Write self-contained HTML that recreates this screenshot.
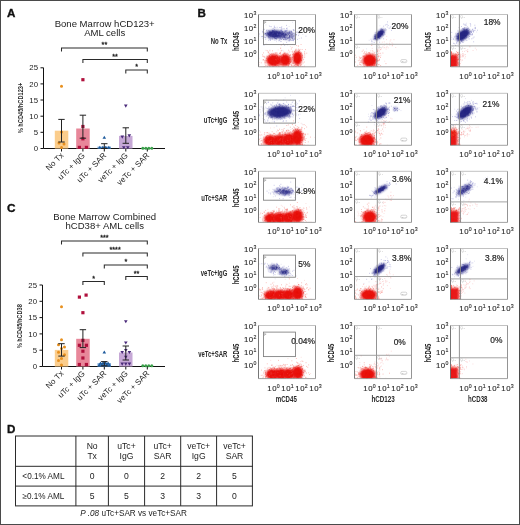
<!DOCTYPE html><html><head><meta charset="utf-8"><style>html,body{margin:0;padding:0;background:#fff;overflow:hidden;font-family:"Liberation Sans",sans-serif;}#wrap{position:relative;width:520px;height:525px;overflow:hidden;background:#fff;}#wrap svg{display:block;position:absolute;left:0;top:0;filter:blur(0.3px);}#frame{position:absolute;left:0;top:0;width:520px;height:525px;box-sizing:border-box;border:1px solid #4a4a4a;}</style></head><body><div id="wrap"><svg width="520" height="525" viewBox="0 0 520 525" font-family="'Liberation Sans', sans-serif">
<defs><filter id="bl" x="-50%" y="-50%" width="200%" height="200%"><feGaussianBlur stdDeviation="0.9"/></filter></defs>
<rect width="520" height="525" fill="#fff"/>
<line x1="43.5" y1="67.75" x2="43.5" y2="148.5" stroke="#111" stroke-width="1"/>
<line x1="40.5" y1="148.5" x2="43.5" y2="148.5" stroke="#111" stroke-width="1"/>
<text x="38.0" y="151.1" font-size="7.8" text-anchor="end" font-weight="normal" fill="#222" >0</text>
<line x1="40.5" y1="132.3" x2="43.5" y2="132.3" stroke="#111" stroke-width="1"/>
<text x="38.0" y="134.95" font-size="7.8" text-anchor="end" font-weight="normal" fill="#222" >5</text>
<line x1="40.5" y1="116.2" x2="43.5" y2="116.2" stroke="#111" stroke-width="1"/>
<text x="38.0" y="118.8" font-size="7.8" text-anchor="end" font-weight="normal" fill="#222" >10</text>
<line x1="40.5" y1="100.0" x2="43.5" y2="100.0" stroke="#111" stroke-width="1"/>
<text x="38.0" y="102.64999999999999" font-size="7.8" text-anchor="end" font-weight="normal" fill="#222" >15</text>
<line x1="40.5" y1="83.9" x2="43.5" y2="83.9" stroke="#111" stroke-width="1"/>
<text x="38.0" y="86.5" font-size="7.8" text-anchor="end" font-weight="normal" fill="#222" >20</text>
<line x1="40.5" y1="67.8" x2="43.5" y2="67.8" stroke="#111" stroke-width="1"/>
<text x="38.0" y="70.35" font-size="7.8" text-anchor="end" font-weight="normal" fill="#222" >25</text>
<line x1="43.5" y1="148.5" x2="165" y2="148.5" stroke="#111" stroke-width="1.1"/>
<line x1="61.5" y1="148.5" x2="61.5" y2="151.5" stroke="#111" stroke-width="1"/>
<line x1="82.9" y1="148.5" x2="82.9" y2="151.5" stroke="#111" stroke-width="1"/>
<line x1="104.3" y1="148.5" x2="104.3" y2="151.5" stroke="#111" stroke-width="1"/>
<line x1="125.8" y1="148.5" x2="125.8" y2="151.5" stroke="#111" stroke-width="1"/>
<line x1="147.3" y1="148.5" x2="147.3" y2="151.5" stroke="#111" stroke-width="1"/>
<rect x="54.8" y="130.7" width="13.5" height="17.8" fill="#fbcd8c"/>
<circle cx="61.5" cy="86.2" r="1.5" fill="#e8901e"/>
<circle cx="61.5" cy="132.0" r="1.5" fill="#e8901e"/>
<circle cx="59.0" cy="143.0" r="1.5" fill="#e8901e"/>
<circle cx="64.0" cy="144.0" r="1.5" fill="#e8901e"/>
<circle cx="61.5" cy="147.5" r="1.5" fill="#e8901e"/>
<line x1="61.5" y1="119.4" x2="61.5" y2="142.0" stroke="#222" stroke-width="1"/>
<line x1="58.3" y1="142.0" x2="64.7" y2="142.0" stroke="#222" stroke-width="1"/>
<line x1="58.3" y1="119.4" x2="64.7" y2="119.4" stroke="#222" stroke-width="1"/>
<rect x="76.2" y="128.5" width="13.5" height="20.0" fill="#e8879a"/>
<rect x="81.3" y="78.1" width="3.2" height="3.2" fill="#b0103c"/>
<rect x="81.3" y="124.9" width="3.2" height="3.2" fill="#b0103c"/>
<rect x="81.3" y="137.2" width="3.2" height="3.2" fill="#b0103c"/>
<rect x="77.8" y="145.8" width="3.2" height="3.2" fill="#b0103c"/>
<rect x="84.8" y="145.8" width="3.2" height="3.2" fill="#b0103c"/>
<line x1="82.9" y1="115.2" x2="82.9" y2="138.2" stroke="#222" stroke-width="1"/>
<line x1="79.7" y1="138.2" x2="86.10000000000001" y2="138.2" stroke="#222" stroke-width="1"/>
<line x1="79.7" y1="115.2" x2="86.10000000000001" y2="115.2" stroke="#222" stroke-width="1"/>
<rect x="97.5" y="146.6" width="13.5" height="1.9" fill="#73a3d6"/>
<path d="M104.3 135.7L106.1 138.8L102.5 138.8Z" fill="#1d5a9c"/>
<path d="M99.8 145.7L101.6 148.8L98.0 148.8Z" fill="#1d5a9c"/>
<path d="M102.8 145.7L104.6 148.8L101.0 148.8Z" fill="#1d5a9c"/>
<path d="M105.8 145.7L107.6 148.8L104.0 148.8Z" fill="#1d5a9c"/>
<path d="M108.8 145.7L110.6 148.8L107.0 148.8Z" fill="#1d5a9c"/>
<line x1="104.3" y1="143.7" x2="104.3" y2="148.5" stroke="#222" stroke-width="1"/>
<line x1="101.1" y1="148.5" x2="107.5" y2="148.5" stroke="#222" stroke-width="1"/>
<line x1="101.1" y1="143.7" x2="107.5" y2="143.7" stroke="#222" stroke-width="1"/>
<rect x="119.0" y="135.9" width="13.5" height="12.6" fill="#c6a8d6"/>
<path d="M125.8 107.7L127.6 104.6L124.0 104.6Z" fill="#4a2a7a"/>
<path d="M122.3 138.7L124.1 135.6L120.5 135.6Z" fill="#4a2a7a"/>
<path d="M129.3 137.4L131.1 134.3L127.5 134.3Z" fill="#4a2a7a"/>
<path d="M123.8 149.3L125.6 146.2L122.0 146.2Z" fill="#4a2a7a"/>
<path d="M127.8 149.3L129.6 146.2L126.0 146.2Z" fill="#4a2a7a"/>
<line x1="125.8" y1="127.8" x2="125.8" y2="143.3" stroke="#222" stroke-width="1"/>
<line x1="122.6" y1="143.3" x2="129.0" y2="143.3" stroke="#222" stroke-width="1"/>
<line x1="122.6" y1="127.8" x2="129.0" y2="127.8" stroke="#222" stroke-width="1"/>
<circle cx="142.8" cy="148.2" r="1.5" fill="#3aa04a"/>
<circle cx="145.8" cy="148.2" r="1.5" fill="#3aa04a"/>
<circle cx="148.8" cy="148.2" r="1.5" fill="#3aa04a"/>
<circle cx="151.8" cy="148.2" r="1.5" fill="#3aa04a"/>
<path d="M61.5 51.6V48H147.3V51.6" fill="none" stroke="#2a2a2a" stroke-width="1.05"/>
<text x="104.4" y="47.4" font-size="7.2" text-anchor="middle" font-weight="normal" fill="#222" stroke="#222" stroke-width=".3">**</text>
<path d="M82.9 63.1V59.5H147.3V63.1" fill="none" stroke="#2a2a2a" stroke-width="1.05"/>
<text x="115.10000000000001" y="58.9" font-size="7.2" text-anchor="middle" font-weight="normal" fill="#222" stroke="#222" stroke-width=".3">**</text>
<path d="M125.8 73.6V70H147.3V73.6" fill="none" stroke="#2a2a2a" stroke-width="1.05"/>
<text x="136.55" y="69.4" font-size="7.2" text-anchor="middle" font-weight="normal" fill="#222" stroke="#222" stroke-width=".3">*</text>
<text transform="translate(64.0,156.0) rotate(-45)" font-size="8" text-anchor="end" fill="#222">No Tx</text>
<text transform="translate(85.4,156.0) rotate(-45)" font-size="8" text-anchor="end" fill="#222">uTc + IgG</text>
<text transform="translate(106.8,156.0) rotate(-45)" font-size="8" text-anchor="end" fill="#222">uTc + SAR</text>
<text transform="translate(128.3,156.0) rotate(-45)" font-size="8" text-anchor="end" fill="#222">veTc + IgG</text>
<text transform="translate(149.8,156.0) rotate(-45)" font-size="8" text-anchor="end" fill="#222">veTc + SAR</text>
<text x="104.7" y="26.5" font-size="9.55" text-anchor="middle" font-weight="normal" fill="#222" >Bone Marrow hCD123+</text>
<text x="104.7" y="36.1" font-size="9.55" text-anchor="middle" font-weight="normal" fill="#222" >AML cells</text>
<text transform="translate(22.6,108.0) rotate(-90) scale(0.71,1)" font-size="8" font-weight="bold" text-anchor="middle" fill="#2a2a2a">% hCD45/hCD123+</text>
<line x1="42.5" y1="285.0" x2="42.5" y2="366.5" stroke="#111" stroke-width="1"/>
<line x1="39.5" y1="366.5" x2="42.5" y2="366.5" stroke="#111" stroke-width="1"/>
<text x="37.0" y="369.1" font-size="7.8" text-anchor="end" font-weight="normal" fill="#222" >0</text>
<line x1="39.5" y1="350.2" x2="42.5" y2="350.2" stroke="#111" stroke-width="1"/>
<text x="37.0" y="352.8" font-size="7.8" text-anchor="end" font-weight="normal" fill="#222" >5</text>
<line x1="39.5" y1="333.9" x2="42.5" y2="333.9" stroke="#111" stroke-width="1"/>
<text x="37.0" y="336.5" font-size="7.8" text-anchor="end" font-weight="normal" fill="#222" >10</text>
<line x1="39.5" y1="317.6" x2="42.5" y2="317.6" stroke="#111" stroke-width="1"/>
<text x="37.0" y="320.20000000000005" font-size="7.8" text-anchor="end" font-weight="normal" fill="#222" >15</text>
<line x1="39.5" y1="301.3" x2="42.5" y2="301.3" stroke="#111" stroke-width="1"/>
<text x="37.0" y="303.90000000000003" font-size="7.8" text-anchor="end" font-weight="normal" fill="#222" >20</text>
<line x1="39.5" y1="285.0" x2="42.5" y2="285.0" stroke="#111" stroke-width="1"/>
<text x="37.0" y="287.6" font-size="7.8" text-anchor="end" font-weight="normal" fill="#222" >25</text>
<line x1="42.5" y1="366.5" x2="165" y2="366.5" stroke="#111" stroke-width="1.1"/>
<line x1="61.5" y1="366.5" x2="61.5" y2="369.5" stroke="#111" stroke-width="1"/>
<line x1="82.9" y1="366.5" x2="82.9" y2="369.5" stroke="#111" stroke-width="1"/>
<line x1="104.3" y1="366.5" x2="104.3" y2="369.5" stroke="#111" stroke-width="1"/>
<line x1="125.8" y1="366.5" x2="125.8" y2="369.5" stroke="#111" stroke-width="1"/>
<line x1="147.3" y1="366.5" x2="147.3" y2="369.5" stroke="#111" stroke-width="1"/>
<rect x="54.8" y="349.9" width="13.5" height="16.6" fill="#fbcd8c"/>
<circle cx="61.5" cy="306.8" r="1.5" fill="#e8901e"/>
<circle cx="61.5" cy="339.8" r="1.5" fill="#e8901e"/>
<circle cx="58.5" cy="344.7" r="1.5" fill="#e8901e"/>
<circle cx="64.5" cy="346.9" r="1.5" fill="#e8901e"/>
<circle cx="61.5" cy="348.6" r="1.5" fill="#e8901e"/>
<circle cx="58.5" cy="352.2" r="1.5" fill="#e8901e"/>
<circle cx="64.5" cy="354.8" r="1.5" fill="#e8901e"/>
<circle cx="61.5" cy="358.4" r="1.5" fill="#e8901e"/>
<circle cx="58.5" cy="360.6" r="1.5" fill="#e8901e"/>
<circle cx="61.5" cy="364.9" r="1.5" fill="#e8901e"/>
<line x1="61.5" y1="343.7" x2="61.5" y2="356.1" stroke="#222" stroke-width="1"/>
<line x1="58.3" y1="356.1" x2="64.7" y2="356.1" stroke="#222" stroke-width="1"/>
<line x1="58.3" y1="343.7" x2="64.7" y2="343.7" stroke="#222" stroke-width="1"/>
<rect x="76.2" y="338.8" width="13.5" height="27.7" fill="#e8879a"/>
<rect x="77.8" y="295.5" width="3.2" height="3.2" fill="#b0103c"/>
<rect x="84.5" y="293.5" width="3.2" height="3.2" fill="#b0103c"/>
<rect x="81.3" y="311.1" width="3.2" height="3.2" fill="#b0103c"/>
<rect x="81.3" y="338.8" width="3.2" height="3.2" fill="#b0103c"/>
<rect x="77.8" y="343.7" width="3.2" height="3.2" fill="#b0103c"/>
<rect x="84.8" y="343.7" width="3.2" height="3.2" fill="#b0103c"/>
<rect x="81.3" y="349.6" width="3.2" height="3.2" fill="#b0103c"/>
<rect x="81.3" y="356.4" width="3.2" height="3.2" fill="#b0103c"/>
<rect x="77.8" y="362.9" width="3.2" height="3.2" fill="#b0103c"/>
<rect x="84.8" y="362.9" width="3.2" height="3.2" fill="#b0103c"/>
<line x1="82.9" y1="329.7" x2="82.9" y2="347.6" stroke="#222" stroke-width="1"/>
<line x1="79.7" y1="347.6" x2="86.10000000000001" y2="347.6" stroke="#222" stroke-width="1"/>
<line x1="79.7" y1="329.7" x2="86.10000000000001" y2="329.7" stroke="#222" stroke-width="1"/>
<rect x="97.5" y="363.2" width="13.5" height="3.3" fill="#6f9fd4"/>
<path d="M104.3 350.4L106.1 353.5L102.5 353.5Z" fill="#1d5a9c"/>
<path d="M99.3 363.4L101.1 366.5L97.5 366.5Z" fill="#1d5a9c"/>
<path d="M101.8 362.7L103.6 365.8L100.0 365.8Z" fill="#1d5a9c"/>
<path d="M104.3 363.4L106.1 366.5L102.5 366.5Z" fill="#1d5a9c"/>
<path d="M106.8 362.7L108.6 365.8L105.0 365.8Z" fill="#1d5a9c"/>
<path d="M109.3 363.4L111.1 366.5L107.5 366.5Z" fill="#1d5a9c"/>
<path d="M100.5 361.4L102.3 364.5L98.7 364.5Z" fill="#1d5a9c"/>
<path d="M103.1 361.1L104.9 364.2L101.3 364.2Z" fill="#1d5a9c"/>
<path d="M105.5 361.1L107.3 364.2L103.7 364.2Z" fill="#1d5a9c"/>
<path d="M108.1 361.4L109.9 364.5L106.3 364.5Z" fill="#1d5a9c"/>
<line x1="104.3" y1="361.6" x2="104.3" y2="365.8" stroke="#222" stroke-width="1"/>
<line x1="101.1" y1="365.8" x2="107.5" y2="365.8" stroke="#222" stroke-width="1"/>
<line x1="101.1" y1="361.6" x2="107.5" y2="361.6" stroke="#222" stroke-width="1"/>
<rect x="119.0" y="352.5" width="13.5" height="14.0" fill="#c6a8d6"/>
<path d="M125.8 323.3L127.6 320.2L124.0 320.2Z" fill="#4a2a7a"/>
<path d="M125.8 344.5L127.6 341.4L124.0 341.4Z" fill="#4a2a7a"/>
<path d="M122.2 354.0L124.0 350.9L120.4 350.9Z" fill="#4a2a7a"/>
<path d="M129.4 354.0L131.2 350.9L127.6 350.9Z" fill="#4a2a7a"/>
<path d="M125.8 352.0L127.6 348.9L124.0 348.9Z" fill="#4a2a7a"/>
<path d="M125.8 358.8L127.6 355.7L124.0 355.7Z" fill="#4a2a7a"/>
<path d="M125.8 365.7L127.6 362.6L124.0 362.6Z" fill="#4a2a7a"/>
<path d="M122.2 365.7L124.0 362.6L120.4 362.6Z" fill="#4a2a7a"/>
<path d="M129.4 365.7L131.2 362.6L127.6 362.6Z" fill="#4a2a7a"/>
<line x1="125.8" y1="346.0" x2="125.8" y2="360.0" stroke="#222" stroke-width="1"/>
<line x1="122.6" y1="360.0" x2="129.0" y2="360.0" stroke="#222" stroke-width="1"/>
<line x1="122.6" y1="346.0" x2="129.0" y2="346.0" stroke="#222" stroke-width="1"/>
<circle cx="142.8" cy="365.8" r="1.5" fill="#3aa04a"/>
<circle cx="145.8" cy="365.8" r="1.5" fill="#3aa04a"/>
<circle cx="148.8" cy="365.8" r="1.5" fill="#3aa04a"/>
<circle cx="151.8" cy="365.8" r="1.5" fill="#3aa04a"/>
<path d="M61.5 244.6V241H147.3V244.6" fill="none" stroke="#2a2a2a" stroke-width="1.05"/>
<text x="104.4" y="240.4" font-size="7.2" text-anchor="middle" font-weight="normal" fill="#222" stroke="#222" stroke-width=".3">***</text>
<path d="M82.9 256.6V253H147.3V256.6" fill="none" stroke="#2a2a2a" stroke-width="1.05"/>
<text x="115.10000000000001" y="252.4" font-size="7.2" text-anchor="middle" font-weight="normal" fill="#222" stroke="#222" stroke-width=".3">****</text>
<path d="M104.3 268.6V265H147.3V268.6" fill="none" stroke="#2a2a2a" stroke-width="1.05"/>
<text x="125.80000000000001" y="264.4" font-size="7.2" text-anchor="middle" font-weight="normal" fill="#222" stroke="#222" stroke-width=".3">*</text>
<path d="M125.8 280.1V276.5H147.3V280.1" fill="none" stroke="#2a2a2a" stroke-width="1.05"/>
<text x="136.55" y="275.9" font-size="7.2" text-anchor="middle" font-weight="normal" fill="#222" stroke="#222" stroke-width=".3">**</text>
<path d="M82.9 285.1V281.5H104.3V285.1" fill="none" stroke="#2a2a2a" stroke-width="1.05"/>
<text x="93.6" y="280.9" font-size="7.2" text-anchor="middle" font-weight="normal" fill="#222" stroke="#222" stroke-width=".3">*</text>
<text transform="translate(64.0,374.0) rotate(-45)" font-size="8" text-anchor="end" fill="#222">No Tx</text>
<text transform="translate(85.4,374.0) rotate(-45)" font-size="8" text-anchor="end" fill="#222">uTc + IgG</text>
<text transform="translate(106.8,374.0) rotate(-45)" font-size="8" text-anchor="end" fill="#222">uTc + SAR</text>
<text transform="translate(128.3,374.0) rotate(-45)" font-size="8" text-anchor="end" fill="#222">veTc + IgG</text>
<text transform="translate(149.8,374.0) rotate(-45)" font-size="8" text-anchor="end" fill="#222">veTc + SAR</text>
<text x="104.7" y="219.6" font-size="9.55" text-anchor="middle" font-weight="normal" fill="#222" >Bone Marrow Combined</text>
<text x="104.7" y="229.2" font-size="9.55" text-anchor="middle" font-weight="normal" fill="#222" >hCD38+ AML cells</text>
<text transform="translate(22.2,326.2) rotate(-90) scale(0.71,1)" font-size="8" font-weight="bold" text-anchor="middle" fill="#2a2a2a">% hCD45/hCD38</text>
<text transform="translate(227.4,44.4) scale(0.665,1)" font-size="9.0" font-weight="bold" text-anchor="end" fill="#2a2a2a">No Tx</text>
<text transform="translate(227.4,123) scale(0.665,1)" font-size="9.0" font-weight="bold" text-anchor="end" fill="#2a2a2a">uTc+IgG</text>
<text transform="translate(227.4,200.7) scale(0.665,1)" font-size="9.0" font-weight="bold" text-anchor="end" fill="#2a2a2a">uTc+SAR</text>
<text transform="translate(227.4,275.5) scale(0.665,1)" font-size="9.0" font-weight="bold" text-anchor="end" fill="#2a2a2a">veTc+IgG</text>
<text transform="translate(227.4,356.5) scale(0.665,1)" font-size="9.0" font-weight="bold" text-anchor="end" fill="#2a2a2a">veTc+SAR</text>
<clipPath id="c258_14"><rect x="258.5" y="14.5" width="57" height="52.3"/></clipPath>
<g clip-path="url(#c258_14)">
<path d="M266.3 35.4h.9M282.1 32.6h.9M265.5 34.0h.9M278.4 37.7h.9M266.3 30.1h.9M280.0 35.7h.9M285.9 37.3h.9M274.3 33.3h.9M293.3 33.3h.9M269.4 30.6h.9M275.7 34.7h.9M272.5 34.0h.9M276.9 36.4h.9M282.8 34.9h.9M262.2 36.4h.9M264.9 33.7h.9M264.5 34.2h.9M269.5 34.9h.9M298.5 34.0h.9M281.0 30.0h.9M272.9 36.3h.9M274.3 35.4h.9M275.7 31.0h.9M279.0 31.6h.9M288.3 32.6h.9M279.9 34.2h.9M281.8 32.3h.9M282.1 33.8h.9M284.0 36.2h.9M276.0 31.7h.9M280.5 35.7h.9M286.7 33.0h.9M279.0 35.8h.9M277.0 34.9h.9M276.3 32.3h.9M267.8 33.0h.9M279.2 39.0h.9M282.0 37.5h.9M280.5 36.4h.9M276.3 36.6h.9M287.6 33.2h.9M270.1 40.4h.9M276.7 37.3h.9M281.2 30.6h.9M292.3 39.8h.9M276.3 36.6h.9M275.9 31.4h.9M274.2 35.4h.9M283.0 36.4h.9M275.4 38.5h.9M269.6 36.7h.9M282.9 33.3h.9M262.2 31.3h.9M276.7 35.9h.9M286.0 31.0h.9M275.0 36.2h.9M273.9 26.7h.9M280.7 41.5h.9M282.2 31.3h.9M272.1 34.9h.9M292.7 36.1h.9M275.8 39.1h.9M274.4 40.1h.9M270.1 32.7h.9M280.1 38.7h.9M279.7 35.2h.9M262.0 32.0h.9M270.6 32.5h.9M279.2 33.1h.9M280.6 34.5h.9M272.6 34.6h.9M278.1 36.9h.9M271.6 33.5h.9M265.3 39.3h.9M285.3 33.6h.9M271.6 30.3h.9M276.2 34.8h.9M290.5 35.0h.9M269.5 26.5h.9M285.0 34.8h.9M263.5 34.8h.9M263.5 45.2h.9M283.0 36.0h.9M273.8 27.5h.9M274.1 29.3h.9M279.2 27.5h.9M268.5 38.0h.9M286.7 30.5h.9M264.1 37.0h.9M281.1 31.1h.9M270.1 32.0h.9M266.5 32.1h.9M283.9 36.4h.9M289.7 33.9h.9M274.0 31.1h.9M274.1 30.1h.9M262.3 36.4h.9M285.3 36.8h.9M284.5 35.0h.9M269.9 34.5h.9M272.3 30.7h.9M262.9 29.5h.9M275.0 34.7h.9M271.6 38.7h.9M276.3 36.0h.9M283.7 31.6h.9M261.0 36.6h.9M270.1 38.3h.9M277.4 37.4h.9M280.4 27.6h.9M280.1 32.1h.9M269.6 32.8h.9M280.5 37.0h.9M282.2 29.0h.9M270.8 26.7h.9M274.3 36.1h.9M269.6 35.0h.9M276.6 37.4h.9M269.1 31.6h.9M269.6 39.7h.9M282.8 33.8h.9M276.6 34.6h.9M276.4 33.5h.9M272.6 30.2h.9M270.4 39.4h.9M278.8 34.4h.9M273.5 34.4h.9M277.5 32.2h.9M276.4 35.0h.9M269.7 31.7h.9M267.9 30.9h.9M281.3 26.8h.9M273.1 32.3h.9M270.6 34.5h.9M283.0 34.4h.9M274.0 32.3h.9M274.1 37.1h.9M272.2 30.6h.9M266.0 30.7h.9M265.1 37.7h.9M277.5 33.5h.9M285.4 32.1h.9M280.4 36.7h.9M264.0 29.3h.9M268.4 37.1h.9M284.2 30.3h.9M282.5 33.0h.9M272.2 32.5h.9M272.7 28.5h.9M267.9 30.3h.9M278.5 40.8h.9M294.5 33.1h.9M262.7 32.9h.9M268.3 40.4h.9M279.1 31.9h.9M281.7 35.9h.9M263.4 32.5h.9M273.3 34.3h.9M275.9 33.1h.9M276.4 32.4h.9M268.6 39.0h.9M277.6 35.6h.9M263.6 33.7h.9M280.8 30.1h.9M282.8 33.0h.9M277.9 33.8h.9M276.6 38.0h.9M272.1 39.1h.9M269.4 31.3h.9M280.1 30.8h.9M272.4 37.1h.9M283.6 28.6h.9M278.6 40.1h.9M283.5 33.4h.9M270.7 33.3h.9M266.8 33.4h.9M273.7 33.7h.9M283.4 33.5h.9M264.6 37.5h.9M267.4 32.8h.9M274.0 33.1h.9M267.9 33.4h.9M290.6 32.3h.9M274.0 37.7h.9M280.3 36.6h.9M281.1 28.0h.9M268.8 34.6h.9M278.6 38.3h.9M278.3 33.4h.9M275.3 33.5h.9M276.8 36.3h.9M272.6 31.6h.9M268.9 37.7h.9M284.1 37.3h.9M281.1 36.8h.9M275.0 36.3h.9M267.5 33.6h.9M269.8 36.5h.9M270.9 33.9h.9" stroke="#7070c0" stroke-width=".9" stroke-opacity="0.45" fill="none"/>
<path d="M279.2 40.5h.9M266.7 29.9h.9M283.5 29.1h.9M279.7 31.6h.9M273.9 25.8h.9M282.5 31.9h.9M265.6 43.8h.9M282.4 50.4h.9M279.3 32.6h.9M276.1 41.6h.9M274.7 36.3h.9M280.4 30.0h.9M276.3 31.9h.9M262.0 38.2h.9M282.0 34.5h.9M265.5 24.9h.9M280.1 33.7h.9M258.9 33.9h.9M259.1 34.1h.9M276.5 35.8h.9M277.3 35.0h.9M263.1 32.4h.9M269.7 33.1h.9M277.8 37.1h.9M292.1 22.3h.9M279.2 33.3h.9M298.8 38.5h.9M258.7 36.1h.9M269.6 38.8h.9M264.0 33.7h.9M273.6 33.8h.9M268.9 25.7h.9M279.8 38.8h.9" stroke="#7070c0" stroke-width=".8" stroke-opacity="0.25" fill="none"/>
<ellipse cx="275" cy="34.2" rx="9.5" ry="4.2" transform="rotate(0 275 34.2)" fill="#262682" fill-opacity="0.8" filter="url(#bl)"/>
<ellipse cx="275" cy="34.2" rx="6.84" ry="3.02" transform="rotate(0 275 34.2)" fill="#262682" fill-opacity="0.64"/>
<path d="M275.9 35.3h.9M274.2 34.2h.9M281.0 32.1h.9M272.6 30.6h.9M272.0 32.8h.9M270.9 32.9h.9M282.7 33.8h.9M274.5 38.4h.9M274.7 30.9h.9M276.7 32.4h.9M282.0 31.8h.9M272.5 31.2h.9M275.4 32.3h.9M274.7 33.5h.9M272.4 36.0h.9M279.0 34.3h.9M271.2 32.2h.9M276.2 38.7h.9M273.0 32.7h.9M272.0 32.1h.9M270.8 33.8h.9M281.1 34.2h.9M272.8 31.1h.9M275.9 34.1h.9M269.8 32.1h.9M274.8 36.1h.9M277.7 34.6h.9M273.6 34.8h.9M274.9 38.3h.9M270.2 33.5h.9M280.4 33.7h.9M281.1 34.1h.9M275.6 33.5h.9M269.1 32.4h.9M284.5 35.4h.9M277.6 36.0h.9M277.4 36.1h.9M273.9 33.8h.9M279.2 33.5h.9M269.3 33.8h.9M272.7 35.4h.9M271.9 32.2h.9M273.6 37.1h.9M274.8 34.5h.9M275.0 34.8h.9M279.0 36.8h.9M268.0 36.8h.9M275.0 33.6h.9M285.3 33.9h.9M283.3 36.0h.9M270.6 35.1h.9M278.1 34.0h.9M265.0 33.5h.9M274.2 32.1h.9M282.8 33.7h.9M273.3 33.6h.9M271.7 32.7h.9M275.4 34.8h.9M272.8 34.0h.9M269.1 35.2h.9M271.8 34.6h.9M271.1 33.2h.9M275.9 31.9h.9M285.6 34.1h.9M274.7 32.8h.9M281.8 36.8h.9" stroke="#262682" stroke-width=".9" stroke-opacity="0.5" fill="none"/>
<path d="M288.8 31.0h.9M284.0 37.5h.9M283.9 31.6h.9M279.9 33.0h.9M287.1 33.4h.9M287.1 44.7h.9M297.6 32.1h.9M289.1 35.8h.9M286.2 38.9h.9M285.0 34.4h.9M284.8 35.2h.9M294.7 38.1h.9M279.0 34.0h.9M282.2 38.2h.9M288.3 38.4h.9M286.6 29.2h.9M289.7 36.3h.9M290.0 31.2h.9M287.5 33.2h.9M282.9 36.7h.9M289.1 32.6h.9M276.7 27.3h.9M283.5 39.2h.9M286.7 28.1h.9M281.8 36.9h.9M297.0 39.4h.9M289.2 36.2h.9M280.6 34.0h.9M285.0 32.9h.9M287.4 34.2h.9M289.0 40.2h.9M291.4 36.9h.9M285.6 30.5h.9M286.3 37.3h.9M280.9 39.6h.9M285.0 36.7h.9M285.0 31.4h.9M299.4 31.7h.9M292.5 33.7h.9M288.7 32.8h.9M284.5 38.5h.9M298.7 32.7h.9M287.1 38.6h.9M283.2 37.8h.9M282.3 37.5h.9M289.6 39.5h.9M289.2 31.6h.9M291.0 31.9h.9M291.5 40.5h.9M290.6 33.7h.9M294.2 36.1h.9M279.5 34.3h.9M295.5 34.5h.9M287.7 34.4h.9M276.9 33.8h.9M289.1 36.2h.9M286.0 28.5h.9M294.3 37.9h.9M293.1 39.8h.9M284.3 33.5h.9M288.9 41.0h.9M276.9 34.7h.9M282.7 37.3h.9M295.8 34.5h.9M279.6 35.7h.9M285.3 30.4h.9M292.3 33.8h.9M291.1 31.2h.9M293.6 30.7h.9M293.3 29.5h.9M295.3 34.3h.9M277.7 34.7h.9M289.0 32.2h.9M284.0 36.4h.9M286.0 25.4h.9M284.4 36.9h.9M288.8 38.8h.9M282.9 43.9h.9M291.8 36.5h.9M293.5 38.6h.9M287.6 33.5h.9M293.1 36.9h.9M275.6 31.9h.9M289.8 35.9h.9M288.7 37.6h.9M287.9 40.7h.9M283.5 34.2h.9M288.9 38.0h.9M291.7 40.4h.9M284.1 39.4h.9M289.8 32.1h.9M286.2 42.4h.9M291.7 34.0h.9M272.6 33.1h.9M282.8 35.8h.9M300.9 38.0h.9M288.9 32.4h.9M279.9 34.8h.9M284.2 45.4h.9M284.6 33.5h.9M293.8 35.8h.9M279.6 39.8h.9M285.1 31.1h.9M288.9 37.1h.9M285.0 37.8h.9M291.9 32.6h.9M274.7 27.6h.9M286.2 39.6h.9M293.0 40.1h.9M298.1 35.6h.9M293.3 30.5h.9M291.1 36.8h.9M286.4 34.0h.9M280.3 36.0h.9M294.7 34.3h.9M290.2 33.3h.9M288.5 32.2h.9M289.3 34.8h.9M288.9 33.5h.9M279.9 34.4h.9M293.2 40.7h.9M285.1 38.1h.9M291.6 36.8h.9M277.7 36.6h.9M281.2 39.4h.9M291.7 37.5h.9M271.8 37.6h.9M291.2 31.3h.9M292.8 35.7h.9M285.9 33.1h.9M280.9 34.1h.9M305.5 36.2h.9M288.2 33.4h.9M283.3 33.7h.9M281.7 38.4h.9M285.4 38.4h.9M280.1 38.6h.9M286.8 37.7h.9M286.4 32.6h.9M294.3 34.1h.9" stroke="#7070c0" stroke-width=".9" stroke-opacity="0.45" fill="none"/>
<path d="M285.7 31.2h.9M288.8 33.6h.9M289.5 37.2h.9M280.9 28.7h.9M290.8 39.9h.9M293.1 30.0h.9M292.3 37.4h.9M289.5 37.6h.9M284.2 36.5h.9M295.2 33.1h.9M274.3 35.0h.9M288.7 26.6h.9M281.0 38.4h.9M285.7 35.9h.9M275.9 39.9h.9M302.4 34.5h.9M280.6 29.9h.9M294.8 36.0h.9M280.0 41.4h.9M293.7 38.4h.9M271.5 35.0h.9M292.5 29.6h.9M295.2 42.4h.9" stroke="#7070c0" stroke-width=".8" stroke-opacity="0.25" fill="none"/>
<ellipse cx="287" cy="35.5" rx="8" ry="4.4" transform="rotate(0 287 35.5)" fill="#262682" fill-opacity="0.35" filter="url(#bl)"/>
<path d="M290.7 34.1h.9M284.5 37.4h.9M290.6 37.9h.9M291.3 35.3h.9M285.5 31.8h.9M289.8 40.0h.9M285.3 34.6h.9M289.3 36.2h.9M282.1 34.1h.9M283.0 39.5h.9M284.4 37.2h.9M293.9 39.3h.9M292.1 38.7h.9M282.6 34.8h.9M284.4 34.9h.9M296.4 32.2h.9M289.0 33.1h.9M291.8 38.1h.9M285.2 39.6h.9M287.3 38.1h.9M288.1 34.4h.9M285.6 35.3h.9M289.2 35.7h.9M295.5 35.1h.9M285.3 34.1h.9M284.2 32.6h.9M283.5 37.3h.9M287.2 35.2h.9M288.3 37.6h.9M289.2 37.0h.9M285.0 35.0h.9M284.2 35.3h.9M284.1 34.8h.9M286.4 35.1h.9M286.0 34.5h.9M291.7 34.8h.9M283.4 35.9h.9M283.1 33.4h.9M287.3 32.2h.9M275.4 36.1h.9M290.7 32.2h.9M283.8 36.6h.9M279.8 33.8h.9M282.7 35.1h.9M279.9 37.3h.9M286.5 36.1h.9" stroke="#262682" stroke-width=".9" stroke-opacity="0.5" fill="none"/>
<path d="M272.1 50.8h.9M273.1 54.3h.9M274.1 56.5h.9M272.1 59.4h.9M278.5 63.8h.9M268.1 60.2h.9M282.5 62.5h.9M269.7 59.8h.9M272.0 64.5h.9M274.2 62.0h.9M286.9 54.1h.9M268.1 52.5h.9M264.7 64.2h.9M275.7 66.2h.9M262.4 56.3h.9M282.4 64.9h.9M279.2 64.2h.9M274.2 60.3h.9M274.2 64.1h.9M273.0 61.7h.9M282.5 55.2h.9M269.6 62.8h.9M272.5 59.6h.9M286.3 62.2h.9M271.6 65.2h.9M288.7 55.3h.9M270.1 60.8h.9M270.3 66.7h.9M277.1 58.5h.9M276.9 56.7h.9M270.5 60.8h.9M288.0 50.2h.9M276.5 66.4h.9M278.3 66.6h.9M276.6 61.0h.9M273.2 56.4h.9M283.6 55.0h.9M273.3 57.9h.9M269.4 50.3h.9M271.8 60.9h.9M274.8 64.1h.9M273.1 57.4h.9M275.8 63.3h.9M268.7 53.5h.9M268.0 65.1h.9M279.8 56.3h.9M274.7 64.1h.9M281.8 57.3h.9M272.6 66.6h.9M288.1 66.8h.9M267.3 62.3h.9M272.3 60.0h.9M270.1 58.1h.9M273.9 66.5h.9M278.1 62.2h.9M274.2 56.9h.9M272.7 65.9h.9M278.9 66.5h.9M275.5 60.2h.9M264.5 62.1h.9M263.9 66.6h.9M270.3 60.3h.9M266.1 58.1h.9M268.6 65.4h.9M275.5 55.0h.9M262.7 60.0h.9M271.2 55.3h.9M277.4 59.5h.9M274.7 57.6h.9M270.7 58.2h.9M264.6 63.1h.9M276.4 52.5h.9M274.6 65.5h.9M275.4 66.1h.9M272.4 60.3h.9M266.4 56.2h.9M263.3 56.3h.9M275.4 62.6h.9M280.8 60.9h.9M268.2 62.2h.9M273.1 66.6h.9M285.5 64.6h.9M267.4 57.9h.9M275.1 57.1h.9M277.1 63.4h.9M278.9 61.3h.9M268.8 56.5h.9M273.3 66.3h.9M283.2 64.7h.9M276.1 63.3h.9M278.8 66.1h.9M279.0 53.4h.9M279.6 62.0h.9M271.3 62.7h.9M275.7 60.1h.9M264.1 60.8h.9M277.3 60.1h.9M264.7 62.4h.9M278.2 61.1h.9M276.5 58.7h.9M270.2 62.7h.9M271.9 61.1h.9M293.0 63.5h.9M274.8 53.0h.9M274.6 63.7h.9M269.9 59.2h.9M260.8 62.8h.9M270.5 63.4h.9M282.0 59.6h.9M279.8 61.4h.9M272.8 59.0h.9M269.0 66.1h.9M279.1 55.8h.9M278.9 57.0h.9M265.2 65.7h.9M266.5 65.6h.9M275.2 64.4h.9M277.0 65.5h.9M276.0 62.9h.9M275.5 65.2h.9M271.7 64.9h.9M282.8 60.0h.9M276.6 58.0h.9M272.3 61.5h.9M272.0 56.3h.9M273.8 61.2h.9M275.9 63.5h.9M263.6 66.7h.9M273.0 56.8h.9M271.8 62.3h.9M279.1 58.7h.9M274.9 53.1h.9M275.0 59.8h.9M271.5 64.3h.9M284.5 64.9h.9M269.4 66.3h.9M272.0 60.1h.9M270.6 62.4h.9M277.2 61.0h.9M272.8 59.7h.9M271.7 64.7h.9M271.0 59.6h.9M272.8 56.9h.9M272.7 53.7h.9M276.4 62.7h.9M272.2 66.3h.9M269.2 62.8h.9M276.8 57.9h.9M272.6 64.3h.9M274.4 61.6h.9M282.2 61.3h.9M264.3 57.0h.9M278.9 59.7h.9M267.7 51.4h.9M275.9 66.6h.9M266.7 50.6h.9M276.9 57.9h.9M272.3 58.9h.9M268.8 62.3h.9M279.3 61.9h.9M270.8 65.0h.9M273.4 62.9h.9M268.6 63.2h.9M278.3 66.1h.9M274.2 62.3h.9M270.7 64.3h.9M278.5 65.1h.9M271.8 54.9h.9M273.6 59.4h.9M269.7 63.0h.9M279.5 62.1h.9M280.4 62.1h.9M268.4 57.7h.9M272.0 63.4h.9M279.3 60.9h.9M279.9 56.6h.9M273.4 66.6h.9M276.6 65.0h.9M263.1 52.9h.9M269.0 64.8h.9M283.4 57.6h.9M268.3 55.8h.9M268.9 62.8h.9M272.2 66.4h.9M278.2 57.3h.9M275.4 59.6h.9M278.6 64.3h.9M272.0 64.3h.9M277.3 59.9h.9M275.5 63.3h.9M272.2 57.3h.9M281.3 60.3h.9M270.6 62.4h.9M265.5 60.6h.9M266.2 58.4h.9M263.8 57.1h.9M279.2 59.5h.9M267.0 66.3h.9M270.4 66.2h.9M271.0 53.8h.9M284.6 58.4h.9M278.4 65.6h.9M266.5 60.6h.9M270.7 63.0h.9M274.0 54.7h.9M274.4 63.7h.9M272.3 62.8h.9M271.0 60.1h.9M276.0 61.0h.9M281.3 64.5h.9M278.9 63.5h.9M274.9 55.2h.9M280.1 66.6h.9M275.3 59.2h.9M273.8 65.7h.9M275.7 56.0h.9M273.1 57.0h.9M272.9 56.4h.9M269.0 66.4h.9M280.0 53.2h.9M268.4 58.4h.9M271.8 54.2h.9M279.1 53.2h.9M278.0 63.4h.9M271.9 57.4h.9M274.4 61.0h.9M262.0 54.8h.9M277.1 59.9h.9M271.7 56.0h.9M270.0 57.0h.9M290.0 54.8h.9M282.8 62.4h.9M275.3 61.2h.9M271.9 66.5h.9" stroke="#f25a50" stroke-width=".9" stroke-opacity="0.45" fill="none"/>
<path d="M275.5 56.8h.9M275.9 63.1h.9M280.0 58.3h.9M269.7 60.5h.9M273.2 61.5h.9M269.6 58.8h.9M269.2 56.6h.9M275.4 66.6h.9M269.6 64.1h.9M277.0 61.1h.9M279.8 56.8h.9M278.8 62.3h.9M258.9 62.6h.9M279.1 66.6h.9M265.2 61.0h.9M277.0 54.1h.9M284.1 63.3h.9M267.4 52.6h.9M270.6 66.6h.9M292.2 44.4h.9M258.8 64.7h.9M273.2 56.2h.9M279.1 61.0h.9M276.5 62.1h.9M264.9 66.3h.9M270.2 66.6h.9M279.9 60.6h.9M275.2 60.1h.9M258.6 58.3h.9M277.7 49.9h.9M261.5 66.7h.9M280.9 50.3h.9M277.9 60.0h.9M282.3 58.2h.9M272.2 55.5h.9M275.6 59.5h.9M268.5 58.1h.9M267.7 64.4h.9M265.4 50.3h.9" stroke="#f25a50" stroke-width=".8" stroke-opacity="0.25" fill="none"/>
<ellipse cx="274" cy="60.3" rx="7.8" ry="6" transform="rotate(0 274 60.3)" fill="#e8120c" fill-opacity="0.95" filter="url(#bl)"/>
<ellipse cx="274" cy="60.3" rx="5.62" ry="4.32" transform="rotate(0 274 60.3)" fill="#e8120c" fill-opacity="0.76"/>
<path d="M271.1 64.1h.9M275.4 64.6h.9M268.9 59.1h.9M274.7 61.4h.9M276.0 62.3h.9M273.6 60.5h.9M270.4 60.3h.9M272.1 63.3h.9M276.3 59.8h.9M276.3 58.7h.9M274.0 59.0h.9M277.7 60.1h.9M276.4 59.9h.9M269.4 62.6h.9M275.2 62.2h.9M270.2 54.4h.9M273.0 61.8h.9M267.4 66.7h.9M277.0 63.4h.9M270.4 63.0h.9M275.1 63.9h.9M279.3 56.8h.9M271.1 58.0h.9M272.4 59.8h.9M276.8 56.8h.9M269.0 61.5h.9M271.0 61.6h.9M274.6 63.9h.9M270.2 58.9h.9M278.8 61.1h.9M269.6 61.5h.9M267.3 56.8h.9M276.3 62.8h.9M279.7 60.1h.9M271.8 64.4h.9M277.6 60.1h.9M275.2 59.3h.9M278.1 60.1h.9M274.7 65.4h.9M269.1 55.2h.9M277.0 56.1h.9M262.9 59.7h.9M280.5 62.5h.9M273.4 58.3h.9M275.4 57.5h.9M267.2 59.1h.9M274.9 62.4h.9M273.2 59.5h.9M268.2 58.7h.9M271.4 60.4h.9M276.1 55.3h.9M274.6 56.9h.9M279.2 57.6h.9M275.9 62.4h.9M274.8 60.7h.9M270.0 64.8h.9M274.9 59.1h.9M275.4 62.7h.9M276.8 57.3h.9M275.1 59.7h.9M276.4 60.2h.9M269.1 56.3h.9M273.7 58.5h.9M272.2 57.8h.9M277.2 60.5h.9M272.0 63.8h.9M273.1 63.9h.9M273.2 58.7h.9M277.7 63.3h.9M272.2 60.6h.9M280.2 64.6h.9M271.5 58.7h.9M277.8 66.5h.9M271.9 56.2h.9M272.1 62.1h.9M272.3 61.1h.9M271.5 58.2h.9M275.5 57.8h.9" stroke="#e8120c" stroke-width=".9" stroke-opacity="0.5" fill="none"/>
<path d="M275.2 59.6h.9M281.5 65.8h.9M285.7 65.9h.9M283.3 66.7h.9M283.3 66.5h.9M283.1 55.6h.9M289.0 58.2h.9M285.0 53.9h.9M283.7 60.5h.9M282.2 61.8h.9M275.5 64.1h.9M283.5 66.7h.9M283.7 57.0h.9M283.3 61.3h.9M287.7 57.9h.9M281.8 62.0h.9M288.7 52.1h.9M280.8 56.9h.9M292.5 65.6h.9M288.6 62.3h.9M280.5 65.1h.9M283.3 56.4h.9M293.4 53.4h.9M291.1 60.9h.9M281.3 60.8h.9M281.6 60.9h.9M282.5 54.6h.9M296.5 57.7h.9M289.4 59.8h.9M288.1 54.3h.9M280.8 45.1h.9M289.5 62.0h.9M280.2 63.8h.9M287.7 66.6h.9M286.2 64.2h.9M287.8 63.5h.9M285.1 58.1h.9M288.2 65.6h.9M280.3 54.8h.9M285.0 66.6h.9M284.3 52.3h.9M288.6 63.5h.9M293.5 60.9h.9M293.6 56.7h.9M289.1 60.6h.9M280.1 58.8h.9M290.9 65.1h.9M283.6 65.1h.9M289.1 64.1h.9M286.4 61.4h.9M281.7 59.7h.9M285.7 56.7h.9M284.0 60.8h.9M286.1 64.8h.9M280.8 58.2h.9M286.4 58.3h.9M286.6 57.9h.9M290.2 59.0h.9M280.4 63.4h.9M292.3 51.2h.9M284.7 60.3h.9M289.6 66.6h.9M284.6 52.9h.9M288.1 64.6h.9M287.2 60.4h.9M281.8 66.5h.9M280.1 53.2h.9M289.4 61.3h.9M288.1 61.7h.9M292.4 66.5h.9M282.9 64.6h.9M280.2 52.3h.9M290.3 58.1h.9M276.1 59.9h.9M282.4 62.3h.9M285.0 56.5h.9M282.2 63.5h.9M281.3 60.6h.9M281.0 62.1h.9M292.8 62.6h.9M290.0 62.1h.9M281.1 58.7h.9M285.5 62.0h.9M282.7 62.8h.9M282.2 60.3h.9M285.2 54.8h.9M289.5 60.3h.9M285.7 59.9h.9M276.3 53.7h.9M281.4 64.5h.9M282.8 62.8h.9M280.9 56.2h.9M283.2 64.8h.9M278.2 59.2h.9M287.0 60.6h.9M285.2 63.6h.9M286.5 55.5h.9M287.9 56.5h.9M283.8 66.6h.9M295.6 66.6h.9M287.0 56.5h.9M282.0 66.3h.9M286.6 53.7h.9M291.9 62.7h.9M290.8 61.9h.9M276.1 56.7h.9M284.6 59.3h.9M291.6 57.0h.9M284.8 59.8h.9M284.8 55.3h.9M280.0 48.3h.9M286.6 59.1h.9M286.1 55.2h.9M285.2 55.6h.9M280.9 61.6h.9M287.9 62.7h.9M285.0 58.3h.9M291.1 65.7h.9M282.5 55.1h.9M286.8 61.5h.9M281.4 66.7h.9M276.4 56.2h.9M286.3 64.5h.9M277.4 58.1h.9M291.3 66.4h.9M284.2 60.2h.9M281.5 61.8h.9M280.8 50.8h.9M278.8 60.3h.9M279.6 65.1h.9M290.7 64.6h.9M288.0 65.2h.9M286.3 64.0h.9M287.2 63.6h.9M280.9 57.0h.9M281.0 63.8h.9M287.4 56.5h.9M281.0 57.4h.9M288.9 59.5h.9M284.2 56.9h.9M284.7 66.3h.9M282.3 58.4h.9M292.4 63.3h.9M280.4 65.0h.9M279.9 62.6h.9M274.5 55.5h.9M289.1 57.3h.9M282.2 60.3h.9M285.2 57.9h.9M282.4 66.3h.9M291.5 61.5h.9M280.4 57.6h.9M284.0 62.2h.9M292.0 57.7h.9M285.9 58.1h.9M285.8 56.9h.9M286.8 65.3h.9M283.6 58.5h.9M285.7 54.1h.9M292.9 54.0h.9M283.7 56.0h.9M291.6 57.8h.9M283.1 66.4h.9M284.7 56.5h.9M285.2 60.9h.9M282.1 59.2h.9M284.3 63.3h.9" stroke="#f25a50" stroke-width=".9" stroke-opacity="0.45" fill="none"/>
<path d="M275.6 57.1h.9M276.4 57.9h.9M294.5 54.5h.9M285.1 62.2h.9M290.6 57.6h.9M286.2 55.3h.9M279.5 61.9h.9M283.3 44.3h.9M277.2 59.7h.9M282.6 63.9h.9M288.0 59.0h.9M293.6 56.5h.9M297.1 66.2h.9M291.6 65.1h.9M298.7 66.5h.9M280.7 66.2h.9M293.7 63.7h.9M286.6 60.7h.9M269.4 51.9h.9M280.4 48.1h.9M286.8 52.2h.9M291.9 63.8h.9M288.2 66.5h.9M280.8 66.2h.9M288.3 66.7h.9M279.0 63.8h.9M291.5 63.6h.9" stroke="#f25a50" stroke-width=".8" stroke-opacity="0.25" fill="none"/>
<ellipse cx="285.2" cy="60" rx="5.6" ry="6" transform="rotate(0 285.2 60)" fill="#e8120c" fill-opacity="0.95" filter="url(#bl)"/>
<ellipse cx="285.2" cy="60" rx="4.03" ry="4.32" transform="rotate(0 285.2 60)" fill="#e8120c" fill-opacity="0.76"/>
<path d="M284.5 62.3h.9M283.4 53.9h.9M291.3 59.0h.9M289.6 57.6h.9M285.7 59.8h.9M281.8 60.2h.9M283.8 56.6h.9M280.8 55.9h.9M287.8 61.7h.9M285.8 59.8h.9M289.1 63.5h.9M285.7 59.8h.9M289.8 61.0h.9M284.0 57.0h.9M281.5 57.8h.9M285.2 59.9h.9M289.3 62.0h.9M289.9 59.2h.9M283.3 61.3h.9M285.0 60.4h.9M285.4 57.9h.9M282.6 58.3h.9M283.3 63.5h.9M283.4 60.6h.9M286.4 58.9h.9M286.3 61.7h.9M280.8 60.6h.9M284.3 61.7h.9M284.1 58.3h.9M283.3 59.7h.9M286.4 58.8h.9M285.4 62.3h.9M283.3 63.8h.9M283.2 55.8h.9M284.2 59.7h.9M285.4 58.0h.9M285.7 62.7h.9M287.6 59.8h.9M281.8 64.7h.9M287.7 59.8h.9M288.1 63.6h.9M285.7 57.6h.9M285.8 57.4h.9M284.4 63.5h.9M285.0 56.9h.9M285.4 59.6h.9M282.7 60.0h.9M290.3 62.4h.9M286.3 61.4h.9M289.8 55.2h.9M287.3 59.0h.9M286.5 59.4h.9M283.9 53.6h.9M285.7 61.4h.9M282.9 55.0h.9" stroke="#e8120c" stroke-width=".9" stroke-opacity="0.5" fill="none"/>
<path d="M296.2 45.5h.9M294.2 59.7h.9M299.4 61.1h.9M298.6 57.4h.9M298.7 62.7h.9M300.2 59.6h.9M298.1 60.7h.9M293.2 57.1h.9M292.1 54.5h.9M289.2 56.1h.9M299.5 60.0h.9M300.0 60.3h.9M297.9 46.3h.9M295.4 58.1h.9M295.2 64.2h.9M295.7 66.2h.9M301.2 57.2h.9M292.1 52.1h.9M295.2 58.9h.9M306.3 53.2h.9M303.2 59.6h.9M296.5 59.2h.9M298.5 61.0h.9M297.2 54.6h.9M299.8 58.7h.9M298.6 52.3h.9M295.2 53.4h.9M297.6 59.0h.9M297.1 59.6h.9M297.1 65.5h.9M294.7 62.5h.9M295.3 55.0h.9M293.0 66.7h.9M294.3 55.5h.9M293.7 56.7h.9M293.6 66.6h.9M298.2 66.4h.9M301.7 49.5h.9M299.5 63.5h.9M300.2 57.8h.9M300.0 65.6h.9M297.8 65.1h.9M302.0 66.8h.9M297.1 60.5h.9M296.2 53.7h.9M293.6 56.0h.9M301.1 55.3h.9M297.3 58.4h.9M294.7 58.3h.9M293.0 54.9h.9M295.9 58.7h.9M293.4 58.3h.9M291.6 47.4h.9M296.7 63.8h.9M302.7 63.0h.9M298.0 66.6h.9M298.2 54.4h.9M300.7 54.6h.9M293.5 61.2h.9M301.2 56.2h.9M294.6 58.7h.9M299.6 53.0h.9M296.1 61.1h.9M298.8 66.3h.9M300.6 44.5h.9M301.9 54.2h.9M299.0 50.3h.9M299.7 49.4h.9M300.2 66.6h.9M296.6 61.9h.9M298.0 57.7h.9M294.2 57.8h.9M298.6 51.2h.9M304.2 51.7h.9M296.6 56.7h.9M296.6 56.0h.9M304.3 57.0h.9M296.6 61.3h.9M295.4 49.9h.9M302.2 57.5h.9M301.3 64.2h.9M303.9 62.0h.9M298.1 49.1h.9M300.5 53.3h.9M302.0 55.6h.9M294.0 58.5h.9M297.0 59.1h.9M300.7 66.1h.9M298.1 65.8h.9M298.2 50.2h.9M294.4 57.7h.9M297.1 61.5h.9M294.3 51.8h.9M300.3 56.5h.9M304.2 53.1h.9M295.3 66.4h.9M290.9 49.0h.9M297.9 53.5h.9M296.6 64.5h.9M296.5 58.3h.9M300.2 53.3h.9M291.8 59.7h.9M297.4 61.7h.9M295.2 56.3h.9M296.8 60.0h.9M300.5 59.8h.9M289.1 56.0h.9M295.1 54.0h.9M295.3 60.3h.9M288.8 60.4h.9M300.0 62.1h.9M295.1 50.0h.9M292.8 55.7h.9M304.3 53.9h.9M297.4 64.8h.9M301.6 58.1h.9M299.6 66.5h.9M299.2 59.2h.9M294.8 56.9h.9M296.3 49.9h.9M294.9 66.3h.9M294.2 51.6h.9M293.9 59.7h.9M300.5 61.9h.9M304.3 55.1h.9M298.6 58.9h.9M296.8 66.2h.9M295.7 59.2h.9M293.4 61.3h.9M297.3 52.9h.9M294.3 51.8h.9M296.6 57.1h.9M297.0 55.5h.9M301.1 60.2h.9M298.7 58.4h.9M294.4 61.9h.9M304.1 66.2h.9M299.8 53.3h.9M294.8 55.8h.9M299.1 57.9h.9M296.6 61.7h.9M300.1 53.5h.9M294.5 61.0h.9M299.4 55.6h.9M298.8 50.2h.9M294.3 59.8h.9M293.9 60.4h.9M295.5 64.9h.9M294.9 60.6h.9M297.9 52.5h.9M290.4 60.0h.9M294.2 59.6h.9M305.0 49.6h.9M298.2 53.0h.9M294.7 50.6h.9M295.8 66.3h.9M302.2 55.8h.9M295.6 53.3h.9M296.0 55.1h.9M297.9 51.7h.9" stroke="#f25a50" stroke-width=".9" stroke-opacity="0.45" fill="none"/>
<path d="M298.3 65.8h.9M300.7 58.0h.9M298.9 56.8h.9M289.3 51.1h.9M300.0 51.7h.9M290.7 51.7h.9M298.0 45.5h.9M294.0 55.4h.9M295.6 48.7h.9M283.1 52.0h.9M303.2 66.6h.9M293.7 66.5h.9M301.3 56.3h.9M291.7 54.3h.9M294.3 58.3h.9M289.9 46.6h.9M295.2 52.8h.9M299.2 50.7h.9M301.6 66.5h.9M291.4 60.5h.9M304.0 57.6h.9M301.9 56.1h.9M297.5 55.2h.9M295.0 66.8h.9M293.9 44.8h.9M294.4 62.4h.9" stroke="#f25a50" stroke-width=".8" stroke-opacity="0.25" fill="none"/>
<ellipse cx="297.4" cy="58.2" rx="4.6" ry="7" transform="rotate(0 297.4 58.2)" fill="#e8120c" fill-opacity="0.95" filter="url(#bl)"/>
<ellipse cx="297.4" cy="58.2" rx="3.31" ry="5.04" transform="rotate(0 297.4 58.2)" fill="#e8120c" fill-opacity="0.76"/>
<path d="M295.3 61.5h.9M298.5 60.4h.9M300.8 52.9h.9M297.4 60.2h.9M298.0 59.1h.9M298.3 53.2h.9M297.2 61.8h.9M297.2 57.5h.9M299.1 52.5h.9M298.2 63.0h.9M296.8 55.5h.9M298.4 56.7h.9M295.6 58.6h.9M293.9 60.3h.9M294.8 56.4h.9M298.9 58.0h.9M297.9 62.5h.9M300.5 64.8h.9M296.2 61.0h.9M293.9 60.7h.9M300.1 55.8h.9M298.3 60.8h.9M297.0 56.1h.9M300.5 53.9h.9M297.7 61.2h.9M297.8 63.2h.9M300.5 59.6h.9M301.1 60.5h.9M294.8 57.1h.9M297.9 58.7h.9M293.8 65.5h.9M294.1 54.5h.9M298.3 58.8h.9M300.6 58.8h.9M298.1 60.4h.9M295.8 54.0h.9M296.4 61.4h.9M296.8 62.1h.9M296.2 60.5h.9M297.4 60.8h.9M297.4 58.8h.9M296.4 62.1h.9M297.3 59.7h.9M298.7 55.3h.9M295.6 58.0h.9M300.0 54.8h.9M295.2 55.0h.9M296.5 54.7h.9M295.6 59.8h.9M295.1 58.1h.9M294.9 57.5h.9M298.4 51.7h.9M297.5 58.9h.9" stroke="#e8120c" stroke-width=".9" stroke-opacity="0.5" fill="none"/>
</g>
<line x1="258.5" y1="14.5" x2="315.5" y2="14.5" stroke="#bbb" stroke-width=".9"/>
<line x1="258.5" y1="66.8" x2="315.5" y2="66.8" stroke="#999" stroke-width=".9"/>
<line x1="258.5" y1="14.5" x2="258.5" y2="66.8" stroke="#666" stroke-width=".9"/>
<line x1="315.5" y1="14.5" x2="315.5" y2="66.8" stroke="#888" stroke-width=".9"/>
<rect x="263.5" y="20.5" width="32.0" height="24.1" fill="none" stroke="#7c7c7c" stroke-width=".85"/>
<text x="264.3" y="24.1" font-size="3.4" fill="#777">F</text>
<text x="256.3" y="17.7" font-size="7.8" text-anchor="end" fill="#2a2a2a" stroke="#2a2a2a" stroke-width=".12" letter-spacing=".6">10<tspan dx="-.4" dy="-2.9" font-size="5.2" letter-spacing="0">3</tspan></text>
<text x="256.3" y="30.8" font-size="7.8" text-anchor="end" fill="#2a2a2a" stroke="#2a2a2a" stroke-width=".12" letter-spacing=".6">10<tspan dx="-.4" dy="-2.9" font-size="5.2" letter-spacing="0">2</tspan></text>
<text x="256.3" y="43.699999999999996" font-size="7.8" text-anchor="end" fill="#2a2a2a" stroke="#2a2a2a" stroke-width=".12" letter-spacing=".6">10<tspan dx="-.4" dy="-2.9" font-size="5.2" letter-spacing="0">1</tspan></text>
<text x="256.3" y="56.599999999999994" font-size="7.8" text-anchor="end" fill="#2a2a2a" stroke="#2a2a2a" stroke-width=".12" letter-spacing=".6">10<tspan dx="-.4" dy="-2.9" font-size="5.2" letter-spacing="0">0</tspan></text>
<text x="273.4" y="78.7" font-size="7.8" text-anchor="middle" fill="#2a2a2a" stroke="#2a2a2a" stroke-width=".12" letter-spacing=".6">10<tspan dx="-.4" dy="-2.9" font-size="5.2" letter-spacing="0">0</tspan></text>
<text x="287.4" y="78.7" font-size="7.8" text-anchor="middle" fill="#2a2a2a" stroke="#2a2a2a" stroke-width=".12" letter-spacing=".6">10<tspan dx="-.4" dy="-2.9" font-size="5.2" letter-spacing="0">1</tspan></text>
<text x="301.4" y="78.7" font-size="7.8" text-anchor="middle" fill="#2a2a2a" stroke="#2a2a2a" stroke-width=".12" letter-spacing=".6">10<tspan dx="-.4" dy="-2.9" font-size="5.2" letter-spacing="0">2</tspan></text>
<text x="315.4" y="78.7" font-size="7.8" text-anchor="middle" fill="#2a2a2a" stroke="#2a2a2a" stroke-width=".12" letter-spacing=".6">10<tspan dx="-.4" dy="-2.9" font-size="5.2" letter-spacing="0">3</tspan></text>
<text x="298.3" y="32.9" font-size="8.4" fill="#222" stroke="#222" stroke-width=".2">20%</text>
<text transform="translate(238.6,41.65) rotate(-90) scale(0.66,1)" font-size="9" font-weight="bold" text-anchor="middle" fill="#2a2a2a">hCD45</text>
<clipPath id="c258_93"><rect x="258.5" y="93.3" width="57" height="52.000000000000014"/></clipPath>
<g clip-path="url(#c258_93)">
<path d="M278.9 113.1h.9M282.6 105.7h.9M278.5 115.0h.9M290.5 104.7h.9M273.4 106.2h.9M278.7 107.1h.9M270.7 116.2h.9M298.9 100.8h.9M293.9 106.5h.9M285.7 113.0h.9M290.5 110.0h.9M271.8 112.3h.9M286.1 107.3h.9M283.0 111.6h.9M281.0 111.8h.9M285.1 115.1h.9M276.6 110.6h.9M259.5 109.7h.9M265.8 116.2h.9M269.3 109.6h.9M284.5 116.0h.9M290.0 107.1h.9M281.9 116.6h.9M271.6 111.6h.9M268.1 110.0h.9M285.8 111.8h.9M275.8 109.7h.9M293.4 114.2h.9M269.0 122.7h.9M275.6 111.6h.9M274.7 109.8h.9M284.6 104.9h.9M279.5 110.4h.9M295.3 112.3h.9M283.5 114.0h.9M284.8 112.0h.9M258.9 115.8h.9M276.8 115.4h.9M282.0 109.2h.9M270.9 108.1h.9M281.9 111.3h.9M271.2 111.0h.9M282.3 108.7h.9M278.0 109.3h.9M258.7 114.4h.9M280.3 115.6h.9M290.9 107.7h.9M284.9 112.7h.9M280.4 115.6h.9M286.8 105.6h.9M292.7 110.0h.9M273.1 109.4h.9M276.9 107.1h.9M289.4 113.0h.9M271.6 116.4h.9M281.6 112.1h.9M288.0 110.8h.9M277.2 114.4h.9M262.4 108.0h.9M284.4 116.4h.9M264.2 113.4h.9M273.3 111.2h.9M285.4 118.2h.9M295.7 114.8h.9M285.2 112.1h.9M262.7 115.2h.9M268.2 107.9h.9M279.9 104.8h.9M295.6 113.3h.9M282.9 113.9h.9M281.6 112.1h.9M285.5 108.4h.9M281.9 112.5h.9M286.0 106.4h.9M281.6 111.2h.9M285.3 113.9h.9M281.3 113.9h.9M284.0 117.8h.9M282.4 114.1h.9M270.9 111.8h.9M286.8 116.1h.9M270.6 112.6h.9M277.0 112.4h.9M274.9 110.4h.9M278.9 112.6h.9M288.2 107.3h.9M271.1 116.3h.9M283.9 110.7h.9M269.5 117.6h.9M270.2 117.9h.9M281.6 111.1h.9M278.2 115.8h.9M278.8 104.1h.9M272.3 102.9h.9M283.4 115.8h.9M288.2 105.1h.9M299.2 118.5h.9M277.6 103.1h.9M272.0 117.4h.9M297.8 107.9h.9M262.4 109.1h.9M296.6 110.4h.9M266.0 103.7h.9M285.5 115.1h.9M275.0 111.5h.9M280.0 110.4h.9M274.3 109.8h.9M274.6 118.0h.9M283.4 116.2h.9M295.1 100.2h.9M279.2 116.3h.9M277.2 109.4h.9M282.8 109.3h.9M271.7 111.2h.9M279.9 112.0h.9M287.5 111.3h.9M276.3 126.0h.9M277.3 110.9h.9M277.8 108.9h.9M265.3 114.1h.9M291.8 102.6h.9M272.8 114.5h.9M273.5 114.9h.9M278.5 107.1h.9M277.3 109.8h.9M283.3 100.1h.9M283.6 117.6h.9M280.9 112.9h.9M274.7 113.9h.9M277.6 106.3h.9M267.8 102.5h.9M283.4 112.4h.9M289.3 112.3h.9M285.1 105.4h.9M262.4 110.9h.9M276.6 113.8h.9M278.1 111.3h.9M279.9 113.1h.9M281.3 113.2h.9M274.9 111.9h.9M265.7 108.1h.9M277.1 114.1h.9M272.1 106.2h.9M287.7 107.5h.9M263.6 109.0h.9M267.8 102.0h.9M276.6 119.8h.9M272.4 108.9h.9M289.7 111.5h.9M279.0 118.1h.9M268.8 112.6h.9M284.0 112.5h.9M268.5 108.7h.9M295.3 110.1h.9M277.5 117.0h.9M263.3 113.1h.9M264.1 119.6h.9M270.6 113.2h.9M271.2 113.3h.9M282.3 111.8h.9M276.6 113.3h.9M277.1 109.9h.9M285.4 115.3h.9M266.9 108.5h.9M272.6 113.9h.9M267.4 120.0h.9M279.9 112.6h.9M287.0 107.9h.9M282.9 113.5h.9M290.6 106.3h.9M292.1 113.6h.9M282.1 116.6h.9M277.1 111.3h.9M286.8 109.8h.9M289.7 117.3h.9M281.5 112.6h.9M273.3 108.4h.9M292.0 106.2h.9M280.4 113.2h.9M271.2 109.6h.9M274.0 122.0h.9M283.4 117.9h.9M298.1 114.9h.9M291.1 109.0h.9M273.9 119.0h.9M292.2 106.3h.9M289.9 112.4h.9M287.1 115.7h.9M296.3 107.7h.9M280.1 117.7h.9M277.5 114.7h.9M278.2 104.5h.9M275.0 116.4h.9M274.1 105.6h.9M275.2 112.9h.9M284.1 113.2h.9M283.9 106.9h.9M274.0 109.1h.9M275.9 114.4h.9M291.5 110.0h.9M289.6 116.2h.9M269.1 109.3h.9M280.5 105.8h.9M295.7 102.2h.9M269.0 116.5h.9M273.3 115.8h.9M271.3 117.6h.9M274.8 115.8h.9M288.1 104.6h.9M271.1 105.0h.9M270.2 117.1h.9M279.8 115.9h.9M292.9 115.6h.9M286.0 109.6h.9M276.4 113.8h.9M287.9 116.3h.9M282.3 110.6h.9M279.7 119.6h.9M283.1 120.8h.9M273.7 116.6h.9M282.0 115.4h.9M273.2 114.2h.9M279.1 110.9h.9M268.6 106.7h.9M277.0 114.8h.9M282.2 113.0h.9M282.2 105.8h.9M289.3 111.6h.9M272.9 110.3h.9M288.7 112.2h.9M265.8 122.8h.9M267.3 121.0h.9M287.0 107.0h.9M291.5 116.8h.9M289.4 114.2h.9M282.8 112.9h.9M275.2 113.8h.9M291.2 110.7h.9M296.8 103.7h.9M279.6 105.5h.9M264.3 114.7h.9M276.7 109.9h.9M270.3 111.9h.9M265.3 112.5h.9M274.7 107.0h.9M282.8 103.5h.9M283.8 113.0h.9M284.6 112.3h.9M286.9 110.4h.9M270.4 114.7h.9M272.7 111.2h.9M280.6 107.9h.9M288.1 104.5h.9M290.8 111.1h.9M295.5 115.8h.9M286.0 112.9h.9M280.4 105.9h.9M274.5 108.4h.9M273.5 112.1h.9M272.8 113.4h.9M277.4 110.3h.9M283.6 113.9h.9M267.8 111.8h.9M306.0 109.9h.9M283.7 107.8h.9M289.2 118.2h.9M285.0 111.1h.9M279.4 103.7h.9M285.1 110.3h.9M283.6 113.5h.9M282.6 121.4h.9M287.8 108.5h.9M285.6 114.5h.9M280.8 118.4h.9M275.9 104.6h.9M270.5 114.7h.9M271.1 113.6h.9M266.6 115.0h.9M277.2 108.3h.9M274.8 111.4h.9M288.1 112.5h.9M278.1 113.0h.9M288.0 113.5h.9M295.2 107.6h.9M287.2 112.1h.9M274.5 115.3h.9M287.7 115.9h.9M283.8 107.9h.9M281.6 113.7h.9M294.8 111.4h.9M281.9 119.0h.9M280.3 110.1h.9M282.7 115.4h.9M280.6 104.6h.9M276.7 116.9h.9M273.6 116.5h.9M281.1 108.5h.9M286.2 102.0h.9M260.7 106.9h.9M284.5 110.5h.9M285.5 111.3h.9M280.8 109.7h.9M276.8 116.9h.9M286.2 105.6h.9M285.8 120.7h.9M286.3 107.4h.9M286.6 112.5h.9M277.4 116.7h.9M290.6 108.9h.9M280.8 110.3h.9M280.5 119.2h.9M276.3 115.0h.9M282.2 112.3h.9M270.2 115.8h.9M270.4 116.2h.9M279.1 112.8h.9M275.5 108.7h.9M270.8 113.0h.9M279.3 113.5h.9M277.6 115.8h.9M281.2 112.6h.9M277.7 112.3h.9M285.4 108.5h.9M269.4 114.8h.9M283.6 112.0h.9M281.5 106.2h.9M271.3 112.9h.9M279.1 106.7h.9M283.3 103.4h.9M290.4 106.5h.9M274.5 108.0h.9M267.9 111.8h.9M263.0 112.1h.9M281.2 110.7h.9M279.1 105.8h.9M263.0 107.7h.9M289.3 112.7h.9M264.7 121.1h.9M285.8 116.4h.9M289.3 117.1h.9M265.0 113.8h.9M273.7 121.3h.9M285.9 111.6h.9M276.8 103.0h.9M280.4 108.3h.9M292.1 114.4h.9M279.0 110.5h.9M289.4 108.9h.9M289.6 112.2h.9M277.4 114.0h.9M294.6 103.7h.9M286.7 114.8h.9M278.1 118.8h.9M286.0 114.0h.9M271.2 115.5h.9M268.6 115.4h.9M298.5 106.5h.9M293.2 106.1h.9M280.7 115.2h.9M267.2 114.7h.9" stroke="#7070c0" stroke-width=".9" stroke-opacity="0.45" fill="none"/>
<path d="M290.8 110.7h.9M285.2 111.9h.9M285.8 121.8h.9M281.4 110.2h.9M280.7 116.8h.9M284.7 97.8h.9M279.3 115.1h.9M313.5 105.4h.9M275.8 105.0h.9M278.1 100.8h.9M269.0 112.6h.9M260.2 112.1h.9M271.8 121.1h.9M301.8 124.1h.9M282.2 116.4h.9M310.3 105.3h.9M301.5 104.3h.9M292.8 100.8h.9M274.7 111.4h.9M275.6 99.8h.9M281.4 110.2h.9M299.6 114.3h.9M258.8 115.5h.9M293.8 110.3h.9M270.0 104.1h.9M274.6 106.5h.9M276.2 110.4h.9M296.0 104.3h.9M283.6 104.7h.9M284.1 118.6h.9M271.8 105.1h.9M280.4 112.3h.9M271.9 115.6h.9M281.3 116.5h.9M262.5 118.7h.9M295.9 105.4h.9M305.9 111.4h.9M262.4 106.7h.9M269.9 108.8h.9M277.0 114.4h.9M277.1 110.3h.9M266.2 99.9h.9M270.0 105.0h.9M290.0 95.4h.9M277.3 112.5h.9M264.8 107.1h.9M290.7 104.1h.9M278.7 112.6h.9M287.7 103.2h.9M297.0 109.7h.9M292.3 101.8h.9M294.1 110.3h.9M289.7 107.1h.9M291.2 111.4h.9M259.0 130.6h.9M271.5 116.0h.9M277.1 109.4h.9M275.5 118.6h.9M292.7 117.1h.9" stroke="#7070c0" stroke-width=".8" stroke-opacity="0.25" fill="none"/>
<ellipse cx="279.5" cy="112" rx="12" ry="6" transform="rotate(-5 279.5 112)" fill="#262682" fill-opacity="0.95" filter="url(#bl)"/>
<ellipse cx="279.5" cy="112" rx="8.64" ry="4.32" transform="rotate(-5 279.5 112)" fill="#262682" fill-opacity="0.76"/>
<path d="M272.2 119.0h.9M282.0 114.9h.9M279.7 112.4h.9M276.3 117.7h.9M278.2 115.1h.9M275.3 112.0h.9M277.5 112.0h.9M277.1 114.0h.9M282.8 107.5h.9M277.0 108.7h.9M285.1 108.2h.9M282.2 112.2h.9M278.9 106.9h.9M288.7 110.9h.9M283.6 114.6h.9M274.1 109.9h.9M289.4 116.5h.9M275.2 112.2h.9M284.7 111.2h.9M286.9 113.1h.9M279.4 113.9h.9M277.4 115.7h.9M276.4 115.9h.9M292.7 106.2h.9M288.5 107.3h.9M279.7 117.0h.9M285.7 113.4h.9M281.7 112.4h.9M282.1 111.3h.9M277.9 108.9h.9M289.1 111.2h.9M290.1 113.2h.9M281.9 108.9h.9M278.3 112.3h.9M279.0 111.3h.9M267.3 112.1h.9M278.2 110.9h.9M277.6 108.0h.9M275.4 116.4h.9M274.5 111.1h.9M275.2 112.0h.9M277.4 117.7h.9M274.4 116.2h.9M277.3 113.5h.9M293.3 110.9h.9M279.0 104.4h.9M277.8 111.6h.9M280.4 112.7h.9M273.6 110.1h.9M283.8 111.0h.9M280.1 113.9h.9M280.3 112.4h.9M273.9 112.6h.9M271.0 117.7h.9M276.0 117.0h.9M277.0 112.0h.9M286.8 112.0h.9M280.7 111.3h.9M278.2 110.2h.9M275.2 107.6h.9M278.7 110.1h.9M287.8 117.2h.9M289.8 108.0h.9M277.8 111.9h.9M271.9 117.0h.9M283.7 112.6h.9M290.3 112.5h.9M278.2 113.0h.9M277.4 113.6h.9M272.8 114.1h.9M278.1 111.1h.9M277.7 112.0h.9M270.5 114.6h.9M279.2 117.1h.9M279.9 114.7h.9M279.6 111.8h.9M273.1 111.4h.9M276.1 105.9h.9M278.0 110.3h.9M281.7 114.8h.9M278.5 115.5h.9M286.7 113.6h.9M278.0 112.6h.9M289.0 115.5h.9M285.6 106.9h.9M268.0 118.0h.9M284.0 115.4h.9M282.9 111.0h.9M282.3 111.8h.9M288.1 113.7h.9M274.5 110.5h.9M285.5 114.0h.9M281.5 112.9h.9M272.9 110.4h.9M282.2 106.9h.9M282.6 113.5h.9M283.6 114.1h.9M290.2 112.0h.9M275.0 107.9h.9M267.7 113.5h.9M284.3 107.2h.9M280.6 110.1h.9M278.5 112.8h.9M279.8 108.9h.9M283.9 111.4h.9M269.9 115.1h.9M288.3 110.3h.9M288.2 107.1h.9M278.8 115.8h.9M287.1 112.9h.9M285.5 110.5h.9M284.0 114.4h.9M285.1 112.7h.9M284.5 112.9h.9M282.8 107.7h.9M282.9 109.3h.9M277.8 112.5h.9M280.9 108.5h.9M277.0 113.0h.9M277.6 112.4h.9" stroke="#262682" stroke-width=".9" stroke-opacity="0.5" fill="none"/>
<path d="M272.1 142.0h.9M268.0 141.8h.9M273.9 135.7h.9M275.0 136.8h.9M272.8 143.6h.9M274.2 136.1h.9M266.0 136.1h.9M273.8 141.6h.9M261.3 144.2h.9M277.1 138.8h.9M270.4 142.1h.9M265.5 139.2h.9M273.7 139.6h.9M270.8 141.5h.9M279.9 142.2h.9M272.6 139.0h.9M277.3 141.3h.9M270.7 145.0h.9M277.9 137.1h.9M269.2 145.0h.9M268.3 144.9h.9M270.0 144.8h.9M265.7 132.8h.9M263.1 144.8h.9M267.0 139.2h.9M267.8 137.9h.9M271.6 141.6h.9M267.5 138.8h.9M277.9 145.1h.9M276.0 144.8h.9M269.8 144.7h.9M279.5 137.6h.9M278.0 130.7h.9M260.7 134.8h.9M265.5 136.9h.9M268.2 144.5h.9M266.9 139.5h.9M263.9 134.3h.9M269.8 137.9h.9M275.4 141.5h.9M261.2 144.1h.9M264.4 139.3h.9M265.3 137.5h.9M267.6 136.0h.9M266.9 139.8h.9M274.5 144.0h.9M280.1 134.1h.9M268.7 144.9h.9M264.8 140.3h.9M274.5 144.7h.9M273.7 142.3h.9M269.9 143.6h.9M271.2 142.4h.9M267.3 140.4h.9M266.1 136.4h.9M266.2 137.4h.9M267.2 138.5h.9M262.7 142.2h.9M272.3 145.0h.9M258.8 135.0h.9M265.6 137.3h.9M271.0 137.4h.9M266.6 144.0h.9M269.7 134.1h.9M275.7 144.9h.9M276.6 140.2h.9M277.8 140.6h.9M268.8 142.0h.9M277.5 141.4h.9M269.1 135.1h.9M271.7 136.4h.9M270.1 135.1h.9M266.1 136.8h.9M267.2 136.1h.9M277.1 144.2h.9M268.9 136.5h.9M276.4 139.9h.9M273.7 145.1h.9M268.5 142.8h.9M273.0 139.1h.9M269.7 138.3h.9M258.7 139.3h.9M279.3 145.2h.9M284.9 141.2h.9M275.3 138.3h.9M266.7 137.3h.9M273.0 144.2h.9M260.6 143.9h.9M275.4 144.2h.9M263.9 141.8h.9M272.4 135.3h.9M264.7 144.8h.9M267.1 138.9h.9M260.4 138.3h.9M277.8 142.5h.9M266.2 141.1h.9M272.6 143.4h.9M265.4 142.5h.9M267.1 138.8h.9M266.2 137.5h.9M273.2 133.5h.9M271.7 145.0h.9M266.0 139.7h.9M270.3 145.0h.9M263.2 143.3h.9M270.1 145.0h.9M269.5 145.1h.9M265.6 142.4h.9M264.9 138.4h.9M264.1 139.2h.9M278.7 138.7h.9M283.5 145.3h.9M272.2 140.9h.9M272.3 137.7h.9M273.7 141.3h.9M260.4 141.0h.9M273.6 141.1h.9M272.2 140.9h.9M268.1 145.3h.9M277.9 139.6h.9M274.8 136.4h.9M277.1 137.4h.9M270.8 144.8h.9M268.0 141.1h.9M275.9 138.6h.9M272.4 145.1h.9M271.9 137.6h.9M268.5 139.8h.9M270.7 143.5h.9M262.5 140.6h.9M271.6 145.0h.9M263.0 137.2h.9M275.2 140.7h.9M276.3 140.7h.9M267.2 140.6h.9M277.0 143.9h.9M271.6 141.5h.9M276.2 143.5h.9M271.9 143.9h.9M271.1 136.3h.9M275.3 144.7h.9M277.8 140.6h.9M264.4 142.6h.9M267.6 133.1h.9M271.4 137.7h.9M271.0 138.9h.9M274.8 144.4h.9M273.2 145.2h.9M267.8 144.8h.9M261.7 143.9h.9M275.9 139.2h.9M271.2 135.9h.9M268.3 142.1h.9M264.1 132.8h.9M268.8 137.4h.9M265.6 140.2h.9M263.5 144.7h.9M276.5 141.0h.9M267.5 140.6h.9M270.1 137.6h.9M267.2 142.6h.9M265.9 138.2h.9M268.3 136.8h.9M271.9 135.6h.9M275.3 143.8h.9M270.4 144.3h.9M276.2 139.3h.9M270.3 138.4h.9M268.7 139.3h.9M271.0 143.0h.9M281.8 142.2h.9M275.4 139.9h.9M279.0 141.3h.9M269.7 139.7h.9M270.7 139.2h.9M271.5 144.8h.9M270.9 137.8h.9M261.1 140.4h.9M265.4 137.7h.9M271.3 142.2h.9M272.9 145.1h.9M265.7 138.2h.9M266.1 136.7h.9M267.2 137.4h.9M274.0 136.5h.9M281.7 132.4h.9M274.7 134.4h.9M268.1 135.8h.9M270.5 142.8h.9M268.4 138.1h.9M265.5 137.4h.9M266.2 138.0h.9M270.8 144.4h.9M266.9 132.5h.9M268.6 144.1h.9" stroke="#f25a50" stroke-width=".9" stroke-opacity="0.45" fill="none"/>
<path d="M286.3 142.3h.9M276.4 143.0h.9M281.2 137.3h.9M277.0 130.4h.9M274.5 144.9h.9M276.7 144.2h.9M258.6 141.1h.9M267.7 145.1h.9M274.3 144.5h.9M280.0 143.7h.9M260.1 135.8h.9M258.7 145.1h.9M268.8 132.9h.9M273.9 138.0h.9M267.9 145.1h.9M258.6 131.8h.9M269.5 139.1h.9M278.6 138.4h.9M274.1 145.1h.9M260.0 132.1h.9M264.9 139.3h.9M262.0 142.1h.9M264.4 145.2h.9M274.0 144.6h.9M271.8 141.8h.9M259.0 139.2h.9M258.7 144.9h.9M261.7 135.1h.9M266.8 145.0h.9M261.9 144.7h.9M271.2 144.8h.9M268.5 137.3h.9" stroke="#f25a50" stroke-width=".8" stroke-opacity="0.25" fill="none"/>
<ellipse cx="270.5" cy="140.8" rx="7" ry="5.6" transform="rotate(0 270.5 140.8)" fill="#e8120c" fill-opacity="0.95" filter="url(#bl)"/>
<ellipse cx="270.5" cy="140.8" rx="5.04" ry="4.03" transform="rotate(0 270.5 140.8)" fill="#e8120c" fill-opacity="0.76"/>
<path d="M268.8 136.2h.9M276.7 137.8h.9M266.9 142.6h.9M273.2 141.8h.9M268.4 143.9h.9M275.8 141.0h.9M273.4 142.0h.9M264.5 141.3h.9M269.3 139.7h.9M269.3 139.2h.9M268.1 139.1h.9M273.8 140.0h.9M270.1 143.0h.9M273.3 140.2h.9M270.7 143.9h.9M266.9 135.6h.9M273.0 141.9h.9M269.9 137.9h.9M268.8 137.3h.9M271.3 141.2h.9M271.7 142.7h.9M271.6 142.7h.9M271.0 141.2h.9M265.3 140.1h.9M271.3 141.7h.9M270.3 139.8h.9M272.8 143.1h.9M268.9 145.0h.9M266.7 140.7h.9M270.0 141.2h.9M271.8 138.5h.9M271.2 139.7h.9M266.9 142.1h.9M271.2 141.6h.9M277.3 138.5h.9M274.4 140.8h.9M270.0 137.4h.9M268.6 141.0h.9M268.4 138.7h.9M270.1 140.1h.9M270.1 142.0h.9M270.8 137.9h.9M269.3 145.1h.9M267.9 140.5h.9M270.3 140.9h.9M271.3 141.1h.9M276.8 139.6h.9M263.3 139.2h.9M265.9 139.9h.9M273.2 142.4h.9M268.0 139.1h.9M268.8 138.9h.9M269.3 139.4h.9M267.2 141.0h.9M269.5 140.7h.9M270.7 144.8h.9M272.3 143.3h.9M274.8 140.7h.9M270.0 136.5h.9M273.6 140.3h.9M266.3 143.4h.9M274.0 141.3h.9M270.0 144.0h.9M269.8 135.8h.9M265.7 140.6h.9" stroke="#e8120c" stroke-width=".9" stroke-opacity="0.5" fill="none"/>
<path d="M286.8 143.6h.9M286.6 137.7h.9M273.7 140.7h.9M277.2 141.9h.9M283.0 144.9h.9M278.5 140.3h.9M272.6 134.8h.9M278.1 138.1h.9M283.2 139.6h.9M274.2 140.1h.9M282.1 143.5h.9M281.2 142.9h.9M287.3 142.1h.9M278.0 137.4h.9M285.3 139.0h.9M268.4 143.2h.9M276.5 136.3h.9M279.8 133.0h.9M279.3 142.0h.9M279.0 133.0h.9M277.9 139.1h.9M279.9 137.6h.9M282.2 134.4h.9M278.6 139.1h.9M274.4 144.8h.9M281.1 141.2h.9M271.2 145.0h.9M277.4 138.0h.9M288.7 144.6h.9M284.5 134.6h.9M282.3 144.7h.9M283.2 140.6h.9M274.4 145.2h.9M283.0 141.0h.9M279.1 132.8h.9M279.8 142.2h.9M288.5 130.9h.9M285.7 137.2h.9M287.4 144.2h.9M274.1 133.5h.9M280.4 135.1h.9M285.8 139.7h.9M272.9 142.5h.9M281.7 134.6h.9M283.9 139.1h.9M288.6 134.8h.9M279.3 141.3h.9M274.1 136.7h.9M286.5 139.0h.9M278.6 132.9h.9M283.8 145.0h.9M276.6 141.6h.9M279.2 144.6h.9M279.4 134.7h.9M279.2 141.8h.9M282.0 133.1h.9M284.8 133.6h.9M283.9 141.8h.9M275.7 141.3h.9M281.6 137.7h.9M285.7 140.8h.9M281.2 140.7h.9M274.4 136.6h.9M278.1 139.9h.9M274.1 138.4h.9M278.7 143.4h.9M283.4 144.7h.9M275.3 144.8h.9M278.1 137.2h.9M276.8 138.2h.9M279.9 137.4h.9M272.9 136.3h.9M282.0 135.1h.9M293.1 133.5h.9M281.3 136.3h.9M279.2 145.2h.9M282.3 142.4h.9M286.3 144.1h.9M271.0 145.0h.9M282.2 135.2h.9M277.5 143.7h.9M282.4 141.1h.9M283.1 137.7h.9M294.7 141.1h.9M273.4 145.2h.9M266.8 143.8h.9M285.2 142.9h.9M279.3 139.6h.9M284.1 138.4h.9M279.1 138.8h.9M282.0 141.3h.9M283.0 130.0h.9M285.6 137.6h.9M287.6 144.6h.9M270.8 140.1h.9M275.5 136.1h.9M281.4 142.6h.9M284.9 142.7h.9M276.8 144.9h.9M288.4 142.7h.9M281.8 141.8h.9M283.3 138.9h.9M274.2 137.0h.9M276.1 142.9h.9M285.1 145.1h.9M275.1 144.8h.9M280.9 138.8h.9M275.7 142.3h.9M286.7 137.8h.9M281.9 145.1h.9M286.3 140.9h.9M282.6 141.4h.9M273.5 140.1h.9M281.6 145.3h.9M276.9 144.8h.9M289.5 143.2h.9M276.9 141.3h.9M278.1 145.2h.9M289.6 145.1h.9M281.0 145.0h.9M285.2 142.6h.9M283.3 139.7h.9M282.9 145.0h.9M278.1 138.5h.9M281.4 145.3h.9M280.1 141.5h.9M276.4 131.9h.9M283.6 132.1h.9M281.1 144.2h.9M274.1 136.7h.9M275.3 136.3h.9M280.4 143.7h.9M281.6 141.2h.9M278.1 139.5h.9M289.5 132.4h.9M288.3 144.8h.9M279.6 140.1h.9M276.3 143.3h.9M279.3 142.0h.9M280.0 141.2h.9M274.3 142.0h.9M281.4 144.9h.9M284.7 136.9h.9M281.6 136.4h.9M280.2 132.6h.9M274.8 145.2h.9M278.1 142.6h.9M277.7 141.5h.9M279.2 137.0h.9M270.5 140.5h.9M270.6 134.7h.9M278.8 133.6h.9M279.5 133.5h.9M286.2 137.4h.9M276.5 135.6h.9M267.8 138.1h.9M278.9 143.2h.9M275.5 140.4h.9M278.3 134.2h.9M283.6 140.4h.9M276.1 137.3h.9M277.5 135.8h.9M286.1 144.8h.9M282.3 140.1h.9M274.6 136.3h.9M275.3 136.9h.9M264.2 139.8h.9M283.9 136.9h.9M283.0 134.2h.9M286.3 125.5h.9M283.3 141.7h.9M281.1 144.9h.9M283.3 138.9h.9M269.0 141.3h.9M278.8 134.5h.9M289.3 134.1h.9M291.5 145.2h.9M278.1 145.0h.9M280.1 136.6h.9M276.0 145.2h.9M283.7 128.5h.9M286.1 143.9h.9M279.1 129.2h.9M279.3 136.8h.9M282.6 142.0h.9M279.6 145.1h.9M278.7 142.7h.9M286.8 143.9h.9M281.1 138.3h.9M265.3 139.3h.9M275.8 144.7h.9M280.4 139.5h.9M286.3 134.8h.9M279.6 136.3h.9M267.5 141.0h.9M282.0 141.1h.9M271.7 131.8h.9M282.0 142.7h.9M271.0 142.4h.9M272.9 137.8h.9M283.3 141.4h.9M272.8 136.7h.9M281.9 141.5h.9M277.9 144.7h.9M278.4 142.8h.9M286.8 143.3h.9M287.1 138.6h.9M282.4 139.3h.9M276.3 137.5h.9M284.1 135.4h.9" stroke="#f25a50" stroke-width=".9" stroke-opacity="0.45" fill="none"/>
<path d="M270.8 142.9h.9M270.0 128.0h.9M276.4 144.8h.9M283.2 145.2h.9M276.4 143.8h.9M282.9 144.7h.9M284.3 134.3h.9M283.4 133.5h.9M274.8 137.9h.9M269.6 144.9h.9M287.3 144.1h.9M279.9 145.3h.9M277.3 144.1h.9M278.0 139.5h.9M280.4 145.2h.9M286.1 144.7h.9M273.7 127.7h.9M283.3 143.6h.9M276.4 144.8h.9M287.4 129.6h.9M280.9 139.4h.9M286.9 141.4h.9M279.2 140.7h.9M277.6 143.2h.9M283.7 137.2h.9M278.0 144.1h.9M282.2 137.8h.9M275.0 142.1h.9M280.6 144.9h.9M277.2 129.9h.9M267.0 144.9h.9M290.7 138.4h.9M280.3 142.5h.9M271.5 138.3h.9M297.9 122.5h.9" stroke="#f25a50" stroke-width=".8" stroke-opacity="0.25" fill="none"/>
<ellipse cx="280" cy="140.4" rx="7" ry="6" transform="rotate(0 280 140.4)" fill="#e8120c" fill-opacity="0.95" filter="url(#bl)"/>
<ellipse cx="280" cy="140.4" rx="5.04" ry="4.32" transform="rotate(0 280 140.4)" fill="#e8120c" fill-opacity="0.76"/>
<path d="M287.3 141.3h.9M278.4 144.8h.9M276.5 139.6h.9M273.0 139.4h.9M281.6 138.1h.9M281.2 139.1h.9M278.4 142.3h.9M283.1 141.2h.9M288.3 140.5h.9M281.5 137.6h.9M282.3 141.2h.9M280.4 138.2h.9M282.8 142.0h.9M278.6 139.7h.9M277.1 142.8h.9M279.9 137.6h.9M282.4 140.3h.9M280.0 139.3h.9M283.4 138.7h.9M282.7 144.8h.9M281.2 139.4h.9M285.9 135.8h.9M276.6 144.2h.9M279.2 137.0h.9M277.9 141.9h.9M282.2 136.1h.9M281.1 140.1h.9M275.5 138.6h.9M280.1 140.9h.9M284.3 137.5h.9M279.3 138.0h.9M274.7 142.3h.9M284.2 142.8h.9M279.1 137.5h.9M284.3 139.3h.9M281.5 139.2h.9M277.8 141.6h.9M274.7 140.4h.9M286.9 140.1h.9M285.2 134.5h.9M279.5 136.0h.9M282.7 141.9h.9M278.5 140.5h.9M282.5 138.9h.9M280.1 141.5h.9M277.2 139.8h.9M284.2 139.2h.9M278.3 141.1h.9M284.6 141.6h.9M277.2 138.4h.9M276.8 140.3h.9M280.9 139.9h.9M280.7 145.2h.9M278.9 142.6h.9M277.6 141.3h.9M280.1 139.2h.9M275.3 138.9h.9M277.2 144.0h.9M277.3 143.4h.9M282.2 141.8h.9M276.0 139.0h.9M279.2 140.6h.9M273.9 139.1h.9M279.7 142.2h.9M278.3 139.0h.9M281.0 141.0h.9M275.4 136.5h.9M280.6 136.8h.9M284.3 136.7h.9M279.6 143.0h.9" stroke="#e8120c" stroke-width=".9" stroke-opacity="0.5" fill="none"/>
<path d="M300.5 137.7h.9M284.6 134.4h.9M287.8 141.3h.9M287.3 142.7h.9M284.2 134.4h.9M281.6 131.9h.9M292.3 139.6h.9M292.8 142.3h.9M293.7 136.8h.9M289.9 136.7h.9M283.7 144.9h.9M286.9 145.0h.9M283.2 135.5h.9M293.5 140.4h.9M293.7 139.1h.9M285.7 145.2h.9M282.6 135.6h.9M282.2 140.3h.9M286.0 142.1h.9M288.1 142.9h.9M288.3 137.7h.9M293.3 143.4h.9M297.5 139.1h.9M285.1 132.7h.9M290.6 145.1h.9M294.9 140.2h.9M291.4 140.1h.9M292.3 142.6h.9M285.6 140.1h.9M291.2 140.7h.9M302.4 135.3h.9M291.3 138.3h.9M292.0 144.8h.9M291.8 139.9h.9M281.5 129.6h.9M297.4 135.4h.9M285.7 144.8h.9M298.6 135.6h.9M297.1 138.1h.9M290.7 132.3h.9M283.4 142.5h.9M294.7 136.9h.9M294.2 140.4h.9M294.3 134.1h.9M277.7 140.8h.9M289.1 136.2h.9M286.0 130.4h.9M300.5 140.1h.9M280.4 143.5h.9M293.3 139.9h.9M287.9 142.8h.9M284.2 132.4h.9M282.7 131.1h.9M292.0 142.2h.9M282.0 144.6h.9M287.9 124.9h.9M293.2 135.4h.9M288.4 130.8h.9M281.7 138.7h.9M294.6 132.4h.9M289.7 140.6h.9M286.6 131.1h.9M292.5 144.8h.9M289.1 136.7h.9M293.0 145.2h.9M286.9 137.6h.9M291.8 137.8h.9M294.9 129.6h.9M294.5 144.7h.9M278.7 136.3h.9M284.3 141.3h.9M290.0 144.8h.9M284.4 145.3h.9M299.0 141.8h.9M296.8 140.5h.9M293.1 138.3h.9M284.8 136.9h.9M297.5 143.3h.9M280.2 139.9h.9M291.8 140.2h.9M290.1 145.0h.9M290.0 139.7h.9M285.5 142.9h.9M294.5 131.8h.9M289.5 145.1h.9M283.8 145.0h.9M288.0 138.1h.9M284.0 140.6h.9M283.0 141.1h.9M287.2 135.1h.9M279.9 138.5h.9M287.7 136.7h.9M291.5 142.5h.9M293.6 138.2h.9M298.2 131.1h.9M287.5 135.2h.9M288.8 133.9h.9M294.5 137.9h.9M284.2 134.1h.9M286.9 137.4h.9M284.3 137.5h.9M285.4 132.1h.9M290.3 144.0h.9M288.5 145.1h.9M283.7 139.9h.9M297.3 137.8h.9M292.6 135.2h.9M292.3 142.9h.9M293.3 142.0h.9M283.7 141.3h.9M295.0 138.8h.9M290.5 142.2h.9M286.5 134.4h.9M284.2 142.6h.9M282.8 143.5h.9M287.7 138.8h.9M285.3 139.7h.9M284.3 136.9h.9M289.9 127.2h.9M288.7 133.0h.9M286.6 139.5h.9M288.6 136.4h.9M284.3 144.0h.9M288.1 145.0h.9M276.5 135.9h.9M294.4 140.3h.9M286.2 145.2h.9M285.1 134.5h.9M293.9 137.7h.9M283.4 145.0h.9M285.4 138.3h.9M292.1 138.0h.9M294.4 142.3h.9M297.1 134.6h.9M291.7 133.6h.9M285.0 139.3h.9M291.7 144.1h.9M292.1 134.3h.9M297.7 138.6h.9M282.7 137.9h.9M279.8 144.8h.9M290.5 137.0h.9M295.0 135.4h.9M283.9 144.8h.9M282.4 143.1h.9M282.1 139.4h.9M298.0 134.8h.9M284.2 140.2h.9M287.4 132.7h.9M293.8 142.8h.9M287.7 144.9h.9M291.0 143.1h.9M289.0 143.5h.9M280.1 135.8h.9M284.6 134.2h.9M289.4 134.8h.9M282.6 142.6h.9M291.2 145.1h.9M297.8 134.9h.9M298.9 143.8h.9M289.4 142.1h.9M285.7 136.6h.9M291.9 145.2h.9M283.1 138.2h.9M282.3 139.1h.9M290.3 132.0h.9M286.5 130.9h.9M282.2 140.9h.9M290.5 140.9h.9M282.0 141.7h.9M290.2 145.2h.9M287.6 145.0h.9M276.3 142.1h.9M291.1 142.6h.9M285.9 136.2h.9M287.6 141.7h.9M293.6 137.0h.9M285.8 137.9h.9M291.1 138.7h.9M288.4 137.9h.9M284.8 138.8h.9M294.0 138.0h.9M289.6 138.6h.9M290.3 145.1h.9M288.1 140.6h.9M288.7 144.1h.9M284.3 138.8h.9M287.1 144.7h.9M286.0 140.2h.9M282.6 138.9h.9M281.8 136.1h.9M285.8 140.6h.9M291.3 138.8h.9M287.3 144.3h.9M286.1 141.3h.9M291.7 136.5h.9M282.6 137.7h.9M292.5 143.3h.9M293.1 144.0h.9M287.8 130.3h.9M291.2 138.7h.9M282.0 141.4h.9M280.8 145.0h.9M279.2 139.9h.9M293.4 141.5h.9M285.9 131.0h.9M279.4 139.9h.9M289.3 134.7h.9" stroke="#f25a50" stroke-width=".9" stroke-opacity="0.45" fill="none"/>
<path d="M276.8 139.3h.9M294.5 139.0h.9M286.6 145.0h.9M299.1 140.0h.9M298.3 141.8h.9M283.0 136.0h.9M295.2 139.2h.9M292.4 140.0h.9M289.7 144.8h.9M288.6 133.0h.9M292.2 136.8h.9M290.3 145.1h.9M276.6 137.1h.9M283.4 144.8h.9M281.6 131.7h.9M284.6 137.4h.9M273.2 133.1h.9M295.4 140.2h.9M287.0 144.6h.9M290.4 129.5h.9M296.4 145.0h.9M290.9 137.8h.9M298.6 140.7h.9M295.6 133.5h.9M281.7 139.3h.9M274.6 133.3h.9M279.3 132.9h.9M274.5 142.7h.9M290.0 131.3h.9M287.1 145.2h.9M299.1 138.3h.9M296.8 143.3h.9M280.3 143.8h.9M285.8 145.0h.9" stroke="#f25a50" stroke-width=".8" stroke-opacity="0.25" fill="none"/>
<ellipse cx="289" cy="139.6" rx="6.5" ry="6.4" transform="rotate(0 289 139.6)" fill="#e8120c" fill-opacity="0.95" filter="url(#bl)"/>
<ellipse cx="289" cy="139.6" rx="4.68" ry="4.61" transform="rotate(0 289 139.6)" fill="#e8120c" fill-opacity="0.76"/>
<path d="M282.6 142.3h.9M285.7 138.2h.9M286.9 142.0h.9M288.6 142.7h.9M288.9 140.7h.9M288.5 140.1h.9M288.3 138.5h.9M291.1 138.2h.9M288.5 143.2h.9M287.8 144.1h.9M286.8 144.8h.9M290.0 139.9h.9M292.3 136.6h.9M288.6 143.7h.9M286.8 142.2h.9M288.4 143.1h.9M285.6 135.1h.9M288.9 143.3h.9M283.6 137.2h.9M283.2 140.3h.9M291.7 138.3h.9M282.6 143.8h.9M285.8 137.9h.9M289.7 135.7h.9M284.7 139.1h.9M288.8 142.4h.9M293.7 139.9h.9M291.1 135.4h.9M293.8 138.7h.9M291.0 141.2h.9M290.2 139.0h.9M292.8 136.0h.9M290.2 141.2h.9M288.5 135.4h.9M292.5 140.3h.9M291.2 144.9h.9M288.5 139.5h.9M288.7 139.9h.9M294.1 136.2h.9M289.0 139.4h.9M291.1 138.7h.9M286.1 135.6h.9M287.6 139.1h.9M289.1 144.3h.9M291.0 141.6h.9M291.7 138.4h.9M291.4 143.0h.9M286.0 143.7h.9M285.4 143.7h.9M289.8 138.0h.9M286.0 138.7h.9M293.6 144.0h.9M286.8 142.9h.9M295.7 142.2h.9M293.4 139.1h.9M291.9 142.7h.9M285.8 140.2h.9M289.3 141.2h.9M291.2 136.4h.9M288.9 134.9h.9M286.0 141.7h.9M287.6 143.6h.9M284.4 141.7h.9M288.3 142.3h.9M289.7 140.0h.9M289.1 140.1h.9M286.5 140.9h.9M289.6 139.0h.9M290.3 139.5h.9" stroke="#e8120c" stroke-width=".9" stroke-opacity="0.5" fill="none"/>
<path d="M295.3 141.0h.9M294.3 133.9h.9M299.5 137.8h.9M294.4 128.9h.9M300.5 137.3h.9M297.8 132.0h.9M293.9 137.0h.9M289.4 144.5h.9M297.3 143.8h.9M301.2 133.9h.9M299.3 130.7h.9M293.4 145.3h.9M294.9 132.7h.9M299.1 137.5h.9M301.2 129.7h.9M296.1 130.9h.9M297.3 135.7h.9M293.3 127.0h.9M291.5 142.9h.9M295.6 130.8h.9M297.9 130.7h.9M301.0 142.5h.9M297.3 133.9h.9M289.6 140.2h.9M305.6 138.5h.9M294.9 142.1h.9M295.6 130.1h.9M296.7 140.9h.9M289.6 143.5h.9M304.0 137.2h.9M295.2 128.9h.9M299.4 135.7h.9M302.3 145.3h.9M302.4 138.4h.9M289.6 145.2h.9M295.2 134.5h.9M301.7 140.2h.9M292.8 135.3h.9M296.0 136.5h.9M292.3 144.9h.9M296.6 141.3h.9M301.6 145.2h.9M300.2 133.0h.9M295.4 142.5h.9M304.1 128.7h.9M305.2 134.0h.9M296.4 134.8h.9M299.7 136.2h.9M297.0 131.9h.9M303.3 139.5h.9M297.0 144.8h.9M299.9 144.8h.9M296.1 138.2h.9M296.6 142.6h.9M298.4 127.3h.9M299.6 136.1h.9M298.3 143.1h.9M296.1 141.2h.9M297.3 136.9h.9M295.1 136.8h.9M295.9 142.1h.9M287.6 140.8h.9M296.9 131.2h.9M300.5 137.2h.9M299.6 144.9h.9M298.1 127.9h.9M290.6 137.1h.9M292.2 144.9h.9M296.8 126.7h.9M288.2 134.2h.9M287.2 140.3h.9M287.6 142.6h.9M295.2 144.1h.9M292.4 134.7h.9M301.8 127.8h.9M300.0 144.7h.9M293.1 136.5h.9M304.2 144.8h.9M304.0 136.8h.9M295.7 136.4h.9M295.7 142.3h.9M300.8 140.5h.9M294.4 142.1h.9M299.3 138.8h.9M302.4 135.2h.9M297.8 144.0h.9M294.1 142.7h.9M300.4 144.9h.9M302.7 134.0h.9M304.8 134.7h.9M292.3 135.8h.9M295.8 132.2h.9M301.4 140.5h.9M299.9 129.3h.9M304.9 140.3h.9M302.2 139.6h.9M298.9 142.1h.9M298.0 145.1h.9M295.2 125.4h.9M295.8 137.4h.9M299.0 138.1h.9M299.1 140.2h.9M296.6 140.8h.9M299.6 132.9h.9M290.0 138.9h.9M299.4 143.9h.9M302.0 139.3h.9M302.2 134.1h.9M295.4 145.3h.9M292.4 137.4h.9M293.0 130.4h.9M306.2 127.0h.9M304.7 134.9h.9M294.2 127.7h.9M298.3 141.2h.9M299.8 132.1h.9M304.2 138.8h.9M299.5 141.1h.9M299.7 135.7h.9M298.8 133.3h.9M298.4 131.8h.9M291.4 134.0h.9M296.7 133.5h.9M296.1 134.3h.9M297.5 144.7h.9M299.8 142.6h.9M301.5 142.7h.9M299.1 142.6h.9M301.8 136.6h.9M296.2 137.5h.9M297.1 140.3h.9M295.5 135.1h.9M298.3 140.5h.9M296.9 128.8h.9M296.3 142.5h.9M296.4 145.0h.9M295.3 136.1h.9M300.7 144.4h.9M296.1 145.3h.9M298.2 139.9h.9M304.8 142.5h.9M296.5 137.2h.9M293.6 144.2h.9M298.8 145.3h.9M302.4 137.7h.9M294.9 135.7h.9M302.6 136.9h.9M302.1 144.9h.9M303.6 139.1h.9M300.3 130.1h.9M298.8 137.8h.9M301.2 127.3h.9M296.1 144.9h.9M298.1 134.9h.9M297.8 136.8h.9M296.0 141.2h.9M298.5 144.3h.9M307.8 141.9h.9M298.9 144.7h.9M291.7 145.0h.9M292.7 134.9h.9M297.7 129.8h.9M294.8 138.6h.9M299.1 129.5h.9M285.1 141.6h.9M290.6 139.7h.9M299.3 142.4h.9M295.1 134.1h.9M310.1 137.1h.9M293.2 129.9h.9M296.3 145.2h.9M300.3 132.4h.9M291.7 134.0h.9M297.3 139.3h.9M299.4 144.2h.9M291.9 128.6h.9M297.0 141.1h.9M295.1 139.2h.9M297.0 144.4h.9M296.5 134.9h.9M299.5 143.5h.9M294.7 137.0h.9M294.4 131.0h.9M307.4 134.1h.9M296.0 135.6h.9M294.0 136.8h.9M297.0 139.8h.9M295.1 129.3h.9M296.8 141.8h.9M302.6 137.1h.9M296.3 133.2h.9M303.6 134.1h.9M295.3 137.3h.9M296.4 138.0h.9M299.1 145.3h.9M299.5 140.1h.9M291.3 145.2h.9M299.5 142.8h.9M296.0 137.1h.9M295.8 136.6h.9M295.7 142.3h.9M301.8 137.4h.9M296.2 142.6h.9M296.5 140.9h.9M294.7 145.1h.9M295.5 141.0h.9M304.5 140.0h.9M296.3 142.0h.9M303.7 124.6h.9M295.8 136.8h.9M301.0 128.8h.9M300.7 138.0h.9M299.7 131.6h.9M302.7 145.1h.9M297.9 141.2h.9M293.1 120.9h.9M297.1 136.3h.9M300.2 138.0h.9M291.9 124.4h.9M302.0 143.4h.9M296.8 136.2h.9M300.3 134.5h.9M292.1 145.1h.9M291.6 135.2h.9" stroke="#f25a50" stroke-width=".9" stroke-opacity="0.45" fill="none"/>
<path d="M295.8 145.1h.9M314.4 137.4h.9M300.5 145.2h.9M300.8 145.2h.9M291.9 137.5h.9M298.2 131.4h.9M300.7 123.3h.9M295.6 135.0h.9M305.4 145.2h.9M301.7 135.8h.9M292.1 124.7h.9M299.6 134.0h.9M297.9 140.5h.9M295.3 129.7h.9M296.1 132.5h.9M294.1 132.1h.9M289.7 141.9h.9M301.1 135.7h.9M297.7 134.7h.9M301.5 144.7h.9M307.5 144.8h.9M300.6 133.5h.9M294.9 125.2h.9M304.4 136.1h.9M288.8 145.3h.9M295.9 145.3h.9M293.2 144.3h.9M302.6 124.8h.9M300.9 145.0h.9M303.5 136.9h.9M288.9 132.9h.9M296.1 128.9h.9M294.5 141.2h.9M293.4 131.9h.9M297.7 134.9h.9M297.5 132.3h.9M305.1 125.5h.9" stroke="#f25a50" stroke-width=".8" stroke-opacity="0.25" fill="none"/>
<ellipse cx="297.3" cy="137.5" rx="5.6" ry="8" transform="rotate(0 297.3 137.5)" fill="#e8120c" fill-opacity="0.95" filter="url(#bl)"/>
<ellipse cx="297.3" cy="137.5" rx="4.03" ry="5.76" transform="rotate(0 297.3 137.5)" fill="#e8120c" fill-opacity="0.76"/>
<path d="M294.2 138.8h.9M299.9 131.7h.9M301.7 144.6h.9M294.6 138.5h.9M298.4 139.7h.9M298.1 140.2h.9M295.4 136.7h.9M297.2 139.2h.9M302.3 140.8h.9M294.7 139.0h.9M302.2 145.1h.9M301.7 138.0h.9M299.3 138.3h.9M294.5 137.8h.9M296.4 133.0h.9M297.0 136.2h.9M296.8 140.3h.9M294.7 137.9h.9M298.3 138.7h.9M298.1 138.0h.9M293.4 130.1h.9M295.9 136.2h.9M295.0 134.8h.9M296.4 143.9h.9M297.1 140.6h.9M299.1 138.3h.9M299.8 135.6h.9M296.9 133.4h.9M297.1 140.9h.9M295.1 137.3h.9M296.7 137.4h.9M296.4 138.7h.9M294.2 138.1h.9M301.6 133.6h.9M299.4 135.1h.9M295.9 144.2h.9M299.1 139.9h.9M301.6 140.0h.9M297.1 129.3h.9M299.2 143.8h.9M296.3 133.2h.9M293.0 139.8h.9M291.3 139.0h.9M299.5 135.9h.9M294.7 136.6h.9M301.3 133.4h.9M295.3 139.5h.9M295.8 142.4h.9M295.5 133.2h.9M293.6 136.8h.9M300.2 137.7h.9M295.9 132.0h.9M298.0 135.1h.9M303.2 133.3h.9M293.9 132.9h.9M297.8 139.7h.9M297.9 141.9h.9M299.1 135.4h.9M301.6 134.7h.9M297.9 137.7h.9M300.3 137.4h.9M298.2 130.5h.9M297.2 138.1h.9M301.2 131.3h.9M294.3 140.6h.9M303.3 138.1h.9M292.0 131.1h.9M296.4 134.4h.9M298.6 141.4h.9M299.4 134.2h.9M295.6 136.9h.9M298.4 139.6h.9M296.3 141.3h.9M299.2 136.5h.9" stroke="#e8120c" stroke-width=".9" stroke-opacity="0.5" fill="none"/>
</g>
<line x1="258.5" y1="93.3" x2="315.5" y2="93.3" stroke="#bbb" stroke-width=".9"/>
<line x1="258.5" y1="145.3" x2="315.5" y2="145.3" stroke="#999" stroke-width=".9"/>
<line x1="258.5" y1="93.3" x2="258.5" y2="145.3" stroke="#666" stroke-width=".9"/>
<line x1="315.5" y1="93.3" x2="315.5" y2="145.3" stroke="#888" stroke-width=".9"/>
<rect x="263.5" y="100.1" width="32.0" height="23.0" fill="none" stroke="#7c7c7c" stroke-width=".85"/>
<text x="264.3" y="103.69999999999999" font-size="3.4" fill="#777">F</text>
<text x="256.3" y="96.5" font-size="7.8" text-anchor="end" fill="#2a2a2a" stroke="#2a2a2a" stroke-width=".12" letter-spacing=".6">10<tspan dx="-.4" dy="-2.9" font-size="5.2" letter-spacing="0">3</tspan></text>
<text x="256.3" y="109.6" font-size="7.8" text-anchor="end" fill="#2a2a2a" stroke="#2a2a2a" stroke-width=".12" letter-spacing=".6">10<tspan dx="-.4" dy="-2.9" font-size="5.2" letter-spacing="0">2</tspan></text>
<text x="256.3" y="122.49999999999999" font-size="7.8" text-anchor="end" fill="#2a2a2a" stroke="#2a2a2a" stroke-width=".12" letter-spacing=".6">10<tspan dx="-.4" dy="-2.9" font-size="5.2" letter-spacing="0">1</tspan></text>
<text x="256.3" y="135.4" font-size="7.8" text-anchor="end" fill="#2a2a2a" stroke="#2a2a2a" stroke-width=".12" letter-spacing=".6">10<tspan dx="-.4" dy="-2.9" font-size="5.2" letter-spacing="0">0</tspan></text>
<text x="273.4" y="157.20000000000002" font-size="7.8" text-anchor="middle" fill="#2a2a2a" stroke="#2a2a2a" stroke-width=".12" letter-spacing=".6">10<tspan dx="-.4" dy="-2.9" font-size="5.2" letter-spacing="0">0</tspan></text>
<text x="287.4" y="157.20000000000002" font-size="7.8" text-anchor="middle" fill="#2a2a2a" stroke="#2a2a2a" stroke-width=".12" letter-spacing=".6">10<tspan dx="-.4" dy="-2.9" font-size="5.2" letter-spacing="0">1</tspan></text>
<text x="301.4" y="157.20000000000002" font-size="7.8" text-anchor="middle" fill="#2a2a2a" stroke="#2a2a2a" stroke-width=".12" letter-spacing=".6">10<tspan dx="-.4" dy="-2.9" font-size="5.2" letter-spacing="0">2</tspan></text>
<text x="315.4" y="157.20000000000002" font-size="7.8" text-anchor="middle" fill="#2a2a2a" stroke="#2a2a2a" stroke-width=".12" letter-spacing=".6">10<tspan dx="-.4" dy="-2.9" font-size="5.2" letter-spacing="0">3</tspan></text>
<text x="298.3" y="112.2" font-size="8.4" fill="#222" stroke="#222" stroke-width=".2">22%</text>
<text transform="translate(238.6,120.30000000000001) rotate(-90) scale(0.66,1)" font-size="9" font-weight="bold" text-anchor="middle" fill="#2a2a2a">hCD45</text>
<clipPath id="c258_171"><rect x="258.5" y="171.3" width="57" height="51.099999999999994"/></clipPath>
<g clip-path="url(#c258_171)">
<path d="M284.5 195.5h.9M287.6 190.6h.9M280.9 193.8h.9M285.8 191.7h.9M278.2 190.7h.9M284.3 195.9h.9M274.4 191.7h.9M276.8 187.8h.9M298.7 188.1h.9M291.4 194.0h.9M286.4 191.5h.9M282.9 192.6h.9M285.8 192.8h.9M287.5 187.2h.9M274.5 191.3h.9M282.9 187.9h.9M289.6 192.6h.9M285.2 194.1h.9M287.4 191.1h.9M279.1 194.3h.9M279.9 189.5h.9M276.7 193.1h.9M284.9 191.0h.9M289.6 189.2h.9M288.8 190.0h.9M282.1 190.9h.9M284.7 194.9h.9M279.1 194.0h.9M291.6 190.9h.9M278.8 188.4h.9M282.7 198.7h.9M281.9 191.7h.9M276.8 192.5h.9M284.9 193.9h.9M297.4 194.0h.9M277.5 191.0h.9M274.4 190.3h.9M273.6 194.3h.9M268.3 192.9h.9M284.1 187.4h.9M288.5 194.7h.9M295.3 190.7h.9M288.3 191.9h.9M293.0 191.3h.9M290.8 188.8h.9M278.7 188.6h.9M281.9 188.1h.9M284.2 189.9h.9M273.7 192.0h.9M290.9 192.7h.9M285.5 190.7h.9M281.9 187.3h.9M296.5 187.1h.9M277.1 188.7h.9M275.8 191.7h.9M278.1 189.9h.9M285.6 188.2h.9M275.5 192.5h.9M279.7 186.6h.9M287.2 187.6h.9M283.0 191.4h.9M285.1 192.0h.9M280.3 191.3h.9M271.8 192.0h.9M270.2 193.2h.9M278.1 193.6h.9M282.7 192.6h.9M279.9 190.7h.9M286.3 193.0h.9M280.4 184.3h.9M284.0 193.2h.9M291.7 190.7h.9M290.3 182.1h.9M280.3 189.7h.9M297.2 190.7h.9M300.7 191.4h.9M280.1 189.8h.9M277.4 191.6h.9M284.1 188.8h.9M295.2 194.0h.9M281.0 192.7h.9M281.9 190.0h.9M277.2 189.6h.9M295.1 195.7h.9M282.2 190.5h.9M290.8 189.1h.9M288.1 187.4h.9M285.8 193.2h.9M288.8 195.4h.9M291.3 190.2h.9M273.7 185.3h.9M275.8 190.9h.9M279.2 198.6h.9M286.2 192.5h.9M283.9 190.8h.9M285.6 194.3h.9M283.6 193.8h.9M292.9 191.9h.9M288.0 192.3h.9M291.4 193.6h.9M284.7 194.5h.9M291.5 192.0h.9M274.9 196.0h.9M285.0 193.3h.9M284.6 190.6h.9M275.2 191.5h.9M282.0 192.8h.9M281.4 191.3h.9M288.5 191.4h.9M279.2 192.7h.9M281.3 188.7h.9M276.0 189.1h.9M279.2 185.6h.9M273.4 189.8h.9M280.5 190.9h.9M287.2 188.6h.9M293.8 192.3h.9M266.6 191.2h.9M276.4 192.7h.9M295.3 187.7h.9M283.9 188.6h.9M273.0 193.0h.9M289.0 189.6h.9M280.4 188.2h.9M278.6 190.7h.9M282.0 193.2h.9M284.5 191.2h.9M283.9 193.0h.9M287.0 187.8h.9M281.9 192.4h.9M277.8 187.6h.9M276.3 188.2h.9M281.6 190.9h.9M286.8 186.3h.9M286.3 193.5h.9M301.4 190.6h.9M288.3 186.8h.9" stroke="#7070c0" stroke-width=".9" stroke-opacity="0.45" fill="none"/>
<path d="M294.1 197.7h.9M285.9 189.1h.9M298.4 187.7h.9M301.3 187.3h.9M288.0 192.6h.9M285.1 189.1h.9M272.9 196.7h.9M287.8 188.0h.9M270.0 194.3h.9M296.9 191.2h.9M278.8 193.6h.9M288.2 196.0h.9M281.7 188.7h.9M282.5 186.2h.9M272.1 189.3h.9M281.5 191.6h.9M268.8 190.0h.9M303.2 184.8h.9M279.5 189.5h.9M289.5 188.3h.9M306.2 189.2h.9M285.7 192.0h.9" stroke="#7070c0" stroke-width=".8" stroke-opacity="0.25" fill="none"/>
<ellipse cx="283" cy="191.3" rx="9" ry="3.4" transform="rotate(0 283 191.3)" fill="#262682" fill-opacity="0.35" filter="url(#bl)"/>
<path d="M288.8 192.0h.9M277.3 191.4h.9M280.5 193.1h.9M285.3 191.9h.9M282.7 190.2h.9M287.4 192.8h.9M292.4 190.9h.9M287.7 189.7h.9M285.4 191.3h.9M278.7 190.4h.9M283.5 191.0h.9M281.9 190.9h.9M283.1 190.6h.9M276.1 191.5h.9M290.2 191.0h.9M283.7 190.0h.9M279.7 189.8h.9M277.6 191.4h.9M279.3 191.8h.9M283.5 189.1h.9M292.2 190.8h.9M283.6 190.6h.9M278.3 191.3h.9M285.2 188.0h.9M283.2 191.5h.9M290.6 188.2h.9M280.1 193.1h.9M280.0 192.3h.9M279.0 189.5h.9M286.1 190.5h.9M278.6 191.4h.9M287.9 191.1h.9M292.3 189.3h.9M289.8 191.8h.9M286.6 192.5h.9M281.9 190.8h.9M277.5 190.2h.9M280.1 192.9h.9M281.1 191.8h.9M282.7 194.9h.9M279.7 189.9h.9M285.6 188.6h.9M283.2 189.8h.9M279.5 191.0h.9M291.5 192.7h.9" stroke="#262682" stroke-width=".9" stroke-opacity="0.5" fill="none"/>
<path d="M289.2 193.2h.9M287.9 191.3h.9M286.7 192.2h.9M288.4 193.9h.9M281.6 190.2h.9M291.5 190.5h.9M290.6 197.1h.9M290.0 192.9h.9M285.5 192.7h.9M289.5 197.4h.9M289.4 192.1h.9M292.1 192.4h.9M291.0 192.9h.9M286.8 193.7h.9M285.5 191.3h.9M285.8 192.5h.9M284.6 193.7h.9M287.3 192.9h.9M284.7 192.8h.9M288.7 191.9h.9M285.1 192.8h.9M286.9 191.4h.9M289.2 193.1h.9M293.1 190.5h.9M281.2 192.9h.9M293.3 194.0h.9M286.1 191.2h.9" stroke="#7070c0" stroke-width=".9" stroke-opacity="0.45" fill="none"/>
<path d="M287.7 191.2h.9M281.5 192.6h.9M282.2 191.6h.9M281.9 191.9h.9" stroke="#7070c0" stroke-width=".8" stroke-opacity="0.25" fill="none"/>
<ellipse cx="286" cy="192.4" rx="5" ry="2.2" transform="rotate(0 286 192.4)" fill="#262682" fill-opacity="0.6" filter="url(#bl)"/>
<path d="M287.1 192.4h.9M286.6 191.4h.9M282.7 192.3h.9M286.0 193.0h.9M282.9 193.3h.9M285.7 191.3h.9M284.7 191.9h.9M289.0 191.9h.9M286.7 191.5h.9" stroke="#262682" stroke-width=".9" stroke-opacity="0.5" fill="none"/>
<path d="M263.9 215.4h.9M262.6 217.0h.9M269.8 222.3h.9M268.5 222.2h.9M274.2 221.4h.9M272.0 217.7h.9M273.4 221.8h.9M266.7 213.3h.9M267.8 212.6h.9M268.6 216.9h.9M267.0 217.4h.9M277.1 218.5h.9M276.6 217.6h.9M271.5 212.9h.9M277.3 219.4h.9M278.4 217.9h.9M267.7 221.9h.9M265.2 210.4h.9M274.9 214.1h.9M264.9 219.3h.9M266.8 222.3h.9M281.7 222.2h.9M268.1 221.9h.9M267.6 216.2h.9M269.7 217.5h.9M272.6 217.0h.9M278.1 212.8h.9M272.9 212.0h.9M273.6 222.1h.9M278.8 220.7h.9M271.8 215.7h.9M268.9 218.9h.9M267.1 213.1h.9M277.5 220.3h.9M273.3 216.6h.9M274.4 216.6h.9M273.1 218.5h.9M271.1 215.8h.9M274.5 215.1h.9M279.1 221.9h.9M269.7 220.1h.9M275.3 218.4h.9M265.2 219.4h.9M269.2 217.5h.9M281.6 218.4h.9M263.7 221.1h.9M276.4 215.1h.9M270.8 215.5h.9M272.5 222.3h.9M284.5 217.4h.9M271.8 222.4h.9M269.8 221.9h.9M267.7 222.3h.9M266.8 221.2h.9M279.5 222.2h.9M279.2 222.1h.9M271.2 221.2h.9M275.6 219.2h.9M275.6 217.3h.9M266.9 222.2h.9M272.1 222.4h.9M280.8 216.7h.9M279.6 220.0h.9M273.2 211.6h.9M268.9 217.4h.9M268.0 213.7h.9M262.3 218.9h.9M273.0 221.8h.9M263.7 212.2h.9M281.6 217.8h.9M270.6 222.4h.9M265.4 217.6h.9M275.3 220.1h.9M275.5 216.7h.9M278.8 212.6h.9M259.7 217.5h.9M271.7 218.2h.9M260.3 213.1h.9M269.2 221.7h.9M277.1 221.8h.9M264.7 216.3h.9M262.1 213.5h.9M264.6 217.8h.9M266.6 219.4h.9M278.2 217.2h.9M268.8 218.4h.9M270.0 217.4h.9M267.5 218.8h.9M268.2 220.0h.9M271.9 221.8h.9M273.8 220.3h.9M270.6 216.5h.9M274.0 215.0h.9M273.1 222.1h.9M267.5 220.9h.9M274.2 218.3h.9M276.5 216.6h.9M264.8 220.4h.9M273.5 219.5h.9M275.7 214.1h.9M266.7 222.1h.9M269.6 222.4h.9M273.2 210.9h.9M268.2 222.1h.9M272.0 221.3h.9M264.5 217.9h.9M265.5 217.2h.9M271.7 215.4h.9M264.0 220.6h.9M274.0 216.4h.9M267.5 221.8h.9M270.3 221.9h.9M274.5 217.3h.9M276.2 211.2h.9M266.3 218.6h.9M275.7 221.6h.9M273.8 215.1h.9M270.7 222.2h.9M274.6 221.8h.9M271.6 213.7h.9M269.2 221.8h.9M267.1 222.2h.9M273.6 211.6h.9M271.4 216.3h.9M270.1 222.1h.9M263.9 212.1h.9M269.3 218.8h.9M272.4 218.9h.9M266.6 217.5h.9M281.8 220.3h.9M275.3 219.7h.9M272.2 212.5h.9M273.6 221.8h.9M262.0 220.7h.9M264.5 220.9h.9M272.7 217.9h.9M264.8 216.1h.9M277.8 217.2h.9M270.8 220.4h.9M268.1 217.5h.9M263.4 222.2h.9M272.4 220.7h.9M268.1 214.3h.9M274.8 216.4h.9M271.3 214.3h.9M282.4 218.0h.9M272.7 221.8h.9M265.3 219.0h.9M264.4 215.1h.9M275.4 221.8h.9M273.3 214.7h.9M270.5 221.3h.9M269.0 217.1h.9M272.0 221.5h.9M267.8 212.3h.9M268.2 217.7h.9M269.9 219.4h.9M276.7 218.2h.9M273.0 215.8h.9M270.5 220.4h.9M265.1 222.1h.9M266.7 217.2h.9M273.8 220.5h.9M271.4 215.9h.9M280.7 217.9h.9M271.2 218.6h.9M271.7 217.3h.9M268.1 214.3h.9M265.3 221.0h.9M279.4 219.0h.9M271.8 217.4h.9M269.1 222.1h.9M271.9 220.4h.9M276.2 207.2h.9M274.3 218.1h.9M271.5 218.7h.9" stroke="#f25a50" stroke-width=".9" stroke-opacity="0.45" fill="none"/>
<path d="M269.4 216.0h.9M262.4 221.9h.9M276.5 222.2h.9M263.3 222.3h.9M272.2 213.4h.9M267.4 209.4h.9M272.1 213.4h.9M265.7 221.9h.9M263.0 220.4h.9M259.5 214.4h.9M274.2 221.4h.9M277.3 222.2h.9M275.7 222.1h.9M273.2 222.4h.9M271.7 213.7h.9M275.8 220.3h.9M269.1 213.2h.9M275.1 217.2h.9M268.1 222.1h.9M267.8 222.1h.9M278.1 222.3h.9M270.9 212.8h.9M281.4 217.5h.9M266.4 222.3h.9M270.4 220.8h.9M261.9 219.5h.9M271.9 216.1h.9M287.0 220.6h.9M263.3 221.8h.9" stroke="#f25a50" stroke-width=".8" stroke-opacity="0.25" fill="none"/>
<ellipse cx="271" cy="218.3" rx="6.8" ry="5.2" transform="rotate(0 271 218.3)" fill="#e8120c" fill-opacity="0.95" filter="url(#bl)"/>
<ellipse cx="271" cy="218.3" rx="4.90" ry="3.74" transform="rotate(0 271 218.3)" fill="#e8120c" fill-opacity="0.76"/>
<path d="M273.1 217.1h.9M269.9 220.2h.9M269.3 220.2h.9M271.5 218.2h.9M268.5 220.5h.9M268.9 216.9h.9M270.4 215.9h.9M274.9 221.9h.9M272.3 221.8h.9M272.7 217.7h.9M271.2 214.2h.9M267.1 222.4h.9M273.4 220.5h.9M274.7 217.9h.9M273.2 216.6h.9M268.9 216.1h.9M269.8 214.6h.9M270.0 214.4h.9M272.0 221.6h.9M272.4 214.6h.9M272.7 221.0h.9M279.1 218.9h.9M269.6 216.9h.9M268.9 217.1h.9M266.0 216.9h.9M276.5 213.1h.9M268.9 215.9h.9M269.3 218.2h.9M277.3 219.3h.9M276.7 217.6h.9M272.6 221.3h.9M271.9 220.2h.9M272.8 213.1h.9M276.3 218.6h.9M269.8 214.8h.9M272.7 220.0h.9M270.9 216.7h.9M272.7 220.6h.9M272.2 219.9h.9M272.2 219.6h.9M273.5 219.7h.9M270.1 219.4h.9M272.4 220.4h.9M273.3 219.1h.9M275.8 219.4h.9M273.5 220.1h.9M274.0 221.0h.9M275.7 217.7h.9M272.7 219.1h.9M274.2 222.2h.9M275.5 220.3h.9M271.7 213.9h.9M268.2 219.4h.9M268.3 221.0h.9M266.2 218.7h.9M265.6 220.0h.9M269.0 217.2h.9M269.0 219.1h.9" stroke="#e8120c" stroke-width=".9" stroke-opacity="0.5" fill="none"/>
<path d="M273.7 220.4h.9M286.1 221.7h.9M282.8 220.4h.9M279.2 219.5h.9M281.8 218.0h.9M286.4 214.5h.9M286.2 215.7h.9M274.7 216.7h.9M275.7 216.9h.9M283.0 222.0h.9M283.8 207.3h.9M285.8 215.0h.9M281.8 221.9h.9M285.3 222.3h.9M280.2 214.1h.9M275.3 222.1h.9M278.1 218.6h.9M277.4 214.3h.9M287.4 222.3h.9M280.8 220.6h.9M276.2 217.5h.9M277.2 221.8h.9M286.2 215.7h.9M271.2 221.2h.9M290.2 214.0h.9M289.1 219.2h.9M281.3 211.7h.9M278.9 212.1h.9M283.1 222.1h.9M281.0 215.1h.9M276.8 217.5h.9M280.7 222.2h.9M280.4 218.4h.9M274.8 214.2h.9M281.0 217.5h.9M279.0 219.9h.9M287.9 214.2h.9M283.3 221.7h.9M277.3 212.8h.9M273.7 218.5h.9M280.4 219.4h.9M283.3 222.0h.9M286.6 222.2h.9M279.8 218.6h.9M275.4 213.2h.9M279.8 213.6h.9M286.6 214.9h.9M288.3 215.1h.9M279.2 222.3h.9M281.9 222.2h.9M275.7 220.9h.9M277.9 219.9h.9M273.1 214.5h.9M278.4 219.7h.9M274.6 214.3h.9M270.9 215.7h.9M288.1 215.5h.9M270.2 212.4h.9M274.3 216.1h.9M281.2 221.4h.9M277.4 220.4h.9M279.5 220.5h.9M285.2 221.1h.9M271.5 220.9h.9M278.2 208.8h.9M282.1 217.0h.9M273.6 210.3h.9M282.4 219.1h.9M283.2 218.3h.9M289.9 215.3h.9M280.3 218.3h.9M288.0 222.1h.9M277.1 222.3h.9M276.6 221.3h.9M272.0 210.8h.9M284.9 219.7h.9M278.0 211.1h.9M277.1 215.6h.9M283.6 218.5h.9M269.9 214.8h.9M274.2 215.1h.9M273.7 222.1h.9M285.7 217.1h.9M276.1 214.1h.9M279.7 222.4h.9M284.7 219.9h.9M285.9 215.6h.9M277.3 219.8h.9M274.1 222.0h.9M277.0 212.9h.9M284.7 216.8h.9M278.5 222.4h.9M287.2 215.3h.9M286.0 212.1h.9M287.2 218.8h.9M280.2 222.1h.9M282.1 210.9h.9M281.8 221.6h.9M285.3 222.4h.9M278.2 213.0h.9M272.1 216.0h.9M276.9 218.7h.9M288.4 216.0h.9M273.4 218.1h.9M281.0 220.8h.9M287.1 220.0h.9M281.5 215.1h.9M281.9 222.0h.9M278.2 221.9h.9M280.1 221.1h.9M271.6 221.8h.9M279.4 216.0h.9M281.1 219.0h.9M276.4 212.8h.9M282.1 220.9h.9M281.0 217.0h.9M278.9 210.4h.9M277.5 215.1h.9M279.3 208.9h.9M273.4 216.0h.9M270.5 212.5h.9M287.4 217.0h.9M277.4 218.2h.9M274.7 218.3h.9M277.5 213.8h.9M280.2 220.7h.9M280.0 212.7h.9M280.4 215.4h.9M277.6 218.7h.9M282.2 221.3h.9M278.1 222.0h.9M284.8 221.0h.9M288.9 222.1h.9M288.0 222.1h.9M278.1 221.5h.9M285.8 221.3h.9M286.8 220.6h.9M276.0 217.3h.9M275.3 212.9h.9M290.3 221.6h.9M286.5 212.9h.9M284.1 216.3h.9M283.7 221.1h.9M286.7 215.0h.9M286.6 222.3h.9M282.0 213.8h.9M273.9 211.4h.9M272.0 221.3h.9M271.9 215.0h.9M281.7 216.1h.9M282.6 221.9h.9M277.5 220.8h.9M285.5 218.0h.9M285.2 217.9h.9M281.1 221.8h.9M279.0 217.4h.9M283.0 222.3h.9M274.8 222.4h.9M281.3 219.1h.9M287.2 214.5h.9M275.7 213.7h.9M281.0 220.2h.9M272.7 220.1h.9M274.2 219.1h.9M290.9 222.2h.9M280.3 222.0h.9M284.2 208.8h.9M276.2 221.3h.9M283.1 214.0h.9M282.6 219.9h.9M279.8 218.3h.9M290.0 221.3h.9M284.8 211.4h.9M278.4 221.5h.9M281.5 217.5h.9M275.6 219.6h.9M279.7 211.8h.9M293.3 217.6h.9M271.1 212.4h.9M277.2 216.4h.9M276.0 217.8h.9M287.7 214.1h.9M285.9 221.5h.9" stroke="#f25a50" stroke-width=".9" stroke-opacity="0.45" fill="none"/>
<path d="M275.4 218.4h.9M273.3 219.4h.9M286.4 221.9h.9M276.4 219.2h.9M274.8 217.1h.9M274.0 215.8h.9M278.0 210.1h.9M286.8 218.1h.9M280.4 212.6h.9M281.9 206.3h.9M291.1 213.5h.9M272.4 221.0h.9M285.4 220.6h.9M279.0 221.9h.9M282.3 209.8h.9M280.7 211.7h.9M275.5 213.7h.9M289.1 218.6h.9M286.3 213.1h.9M286.1 214.6h.9M279.9 221.5h.9M274.2 220.2h.9M285.0 221.3h.9M292.5 215.0h.9M275.2 220.1h.9M273.3 218.1h.9M275.6 214.7h.9M270.8 211.0h.9M279.0 222.1h.9M271.1 214.8h.9" stroke="#f25a50" stroke-width=".8" stroke-opacity="0.25" fill="none"/>
<ellipse cx="280" cy="218" rx="6.8" ry="5.4" transform="rotate(0 280 218)" fill="#e8120c" fill-opacity="0.95" filter="url(#bl)"/>
<ellipse cx="280" cy="218" rx="4.90" ry="3.89" transform="rotate(0 280 218)" fill="#e8120c" fill-opacity="0.76"/>
<path d="M276.5 218.7h.9M280.9 214.9h.9M282.2 219.6h.9M283.4 220.4h.9M280.8 214.6h.9M282.9 218.8h.9M284.6 218.4h.9M280.0 216.4h.9M279.8 217.2h.9M284.3 222.4h.9M280.9 221.4h.9M284.8 216.3h.9M276.9 218.7h.9M278.6 218.8h.9M280.8 215.1h.9M280.3 215.2h.9M280.2 219.9h.9M283.6 220.6h.9M277.0 218.0h.9M282.9 217.6h.9M278.7 219.4h.9M279.6 219.8h.9M276.8 217.8h.9M274.3 218.9h.9M277.5 220.7h.9M272.6 217.6h.9M274.2 214.8h.9M278.7 219.2h.9M281.5 222.3h.9M281.9 219.3h.9M280.6 217.3h.9M279.1 215.7h.9M281.3 221.9h.9M281.3 216.7h.9M282.6 220.3h.9M286.6 220.6h.9M278.8 219.9h.9M283.3 219.0h.9M278.5 217.5h.9M278.9 215.2h.9M283.0 213.1h.9M282.3 216.1h.9M277.5 220.8h.9M277.2 219.5h.9M280.0 219.4h.9M283.5 220.1h.9M287.4 214.4h.9M279.8 219.6h.9M281.2 218.6h.9M281.2 216.0h.9M278.6 219.2h.9M279.4 216.5h.9M280.6 217.8h.9M282.8 216.9h.9M276.6 219.0h.9M280.5 222.3h.9M276.2 217.6h.9M283.1 215.4h.9M280.8 217.0h.9M279.4 219.6h.9M277.6 217.9h.9" stroke="#e8120c" stroke-width=".9" stroke-opacity="0.5" fill="none"/>
<path d="M285.2 220.2h.9M285.8 222.1h.9M280.3 217.8h.9M283.4 222.1h.9M291.5 213.8h.9M299.3 213.8h.9M290.0 222.0h.9M291.4 215.3h.9M291.8 214.9h.9M291.0 213.8h.9M298.4 214.5h.9M288.4 218.0h.9M284.4 213.8h.9M285.9 222.3h.9M283.8 220.0h.9M290.2 222.2h.9M286.3 217.0h.9M292.7 216.2h.9M294.1 222.3h.9M281.3 221.2h.9M283.5 219.9h.9M287.1 209.1h.9M290.2 219.3h.9M286.2 217.8h.9M290.2 213.8h.9M287.7 218.9h.9M288.3 221.4h.9M288.7 220.4h.9M287.4 222.4h.9M293.1 221.0h.9M288.4 216.8h.9M292.4 211.1h.9M289.1 219.0h.9M297.9 221.3h.9M295.4 219.0h.9M282.9 214.3h.9M283.9 219.0h.9M281.0 219.1h.9M292.1 219.5h.9M284.0 217.7h.9M285.3 214.8h.9M292.3 216.9h.9M289.8 217.1h.9M289.9 215.7h.9M287.8 221.8h.9M291.2 216.3h.9M280.4 217.1h.9M281.2 218.0h.9M297.8 217.5h.9M289.0 221.2h.9M281.3 215.4h.9M298.4 216.5h.9M290.3 211.8h.9M286.6 209.2h.9M289.9 215.0h.9M289.7 221.7h.9M293.1 216.7h.9M290.6 214.3h.9M286.4 209.3h.9M295.3 217.1h.9M286.6 216.1h.9M291.0 215.2h.9M295.8 222.3h.9M283.6 216.8h.9M293.0 221.9h.9M285.2 209.8h.9M284.7 220.6h.9M286.9 217.4h.9M295.5 218.2h.9M283.1 222.0h.9M289.6 211.3h.9M285.8 216.1h.9M282.7 214.4h.9M288.8 222.2h.9M295.6 220.2h.9M285.9 218.7h.9M286.8 210.2h.9M289.1 218.0h.9M278.6 212.3h.9M296.5 221.4h.9M283.0 213.5h.9M293.9 217.8h.9M300.4 220.2h.9M296.7 217.0h.9M282.0 213.5h.9M298.6 222.2h.9M285.1 220.4h.9M291.0 217.6h.9M291.9 216.3h.9M281.2 217.4h.9M288.3 213.0h.9M285.7 210.1h.9M290.4 221.5h.9M282.4 214.5h.9M287.9 217.1h.9M289.2 221.4h.9M293.5 213.2h.9M288.2 222.3h.9M285.3 222.1h.9M285.6 209.4h.9M287.0 218.9h.9M289.7 214.9h.9M294.0 211.8h.9M293.2 213.4h.9M288.3 216.7h.9M288.5 219.6h.9M294.5 219.5h.9M294.3 219.4h.9M290.7 219.8h.9M293.5 205.8h.9M284.5 213.2h.9M291.2 221.5h.9M290.5 216.5h.9M286.4 219.7h.9M289.5 219.9h.9M288.5 213.7h.9M293.3 217.2h.9M287.8 213.6h.9M289.2 216.0h.9M292.7 217.2h.9M288.7 213.8h.9M295.0 218.1h.9M295.0 222.2h.9M289.3 218.8h.9M282.7 216.2h.9M284.1 212.3h.9M299.1 220.3h.9M291.9 211.0h.9M293.0 217.6h.9M291.8 222.0h.9M288.4 221.7h.9M291.0 221.9h.9M293.0 220.7h.9M289.1 213.5h.9M289.9 222.2h.9M291.9 222.2h.9M290.4 214.7h.9M293.5 218.8h.9M298.5 218.1h.9M295.3 215.9h.9M282.6 216.7h.9M285.1 221.5h.9M281.9 212.1h.9M288.2 219.8h.9M287.5 218.0h.9M286.8 222.1h.9M293.0 213.1h.9M297.5 216.9h.9M299.0 216.7h.9M287.5 219.8h.9M286.4 211.0h.9M281.5 221.8h.9M283.5 211.4h.9M298.3 217.6h.9M291.6 215.4h.9M291.0 214.7h.9M294.4 211.1h.9M290.1 215.9h.9M291.1 221.9h.9M289.3 221.6h.9M299.4 215.2h.9M290.5 219.7h.9M290.1 212.1h.9M301.4 218.1h.9M289.8 219.1h.9M295.8 212.3h.9M294.2 220.8h.9M304.2 212.6h.9M296.8 213.1h.9M293.5 215.9h.9M286.6 209.5h.9M291.8 212.4h.9M293.4 211.5h.9M298.4 213.2h.9M291.2 215.6h.9M286.0 221.6h.9M293.0 217.6h.9M298.2 209.3h.9M283.1 217.8h.9M293.6 220.9h.9M292.8 216.0h.9M284.0 211.1h.9" stroke="#f25a50" stroke-width=".9" stroke-opacity="0.45" fill="none"/>
<path d="M295.8 210.1h.9M280.7 221.8h.9M308.6 222.1h.9M288.6 215.3h.9M295.2 222.3h.9M292.0 216.4h.9M278.6 209.2h.9M280.8 205.3h.9M292.2 214.8h.9M302.0 222.1h.9M289.3 221.8h.9M295.8 215.9h.9M289.5 213.3h.9M285.3 217.3h.9M286.2 215.1h.9M287.6 218.1h.9M298.8 216.3h.9M286.3 221.2h.9M290.7 210.5h.9M287.1 216.8h.9M283.7 221.9h.9M291.6 214.0h.9M297.5 219.8h.9M289.4 219.2h.9M295.4 221.9h.9M284.0 219.6h.9M288.3 215.6h.9M286.7 222.2h.9M289.7 222.4h.9M284.8 221.8h.9" stroke="#f25a50" stroke-width=".8" stroke-opacity="0.25" fill="none"/>
<ellipse cx="289" cy="217.5" rx="6.5" ry="5.6" transform="rotate(0 289 217.5)" fill="#e8120c" fill-opacity="0.95" filter="url(#bl)"/>
<ellipse cx="289" cy="217.5" rx="4.68" ry="4.03" transform="rotate(0 289 217.5)" fill="#e8120c" fill-opacity="0.76"/>
<path d="M288.6 218.5h.9M284.6 219.6h.9M285.3 220.8h.9M293.0 216.1h.9M291.9 215.2h.9M292.8 219.4h.9M288.8 222.1h.9M291.6 215.8h.9M288.7 216.7h.9M285.2 215.8h.9M290.0 217.0h.9M290.6 221.5h.9M286.6 215.7h.9M290.1 217.3h.9M290.0 216.6h.9M289.2 221.2h.9M293.7 218.9h.9M287.1 221.7h.9M287.2 216.4h.9M290.7 212.0h.9M289.3 216.4h.9M288.0 217.8h.9M286.7 218.1h.9M283.2 216.6h.9M288.8 213.0h.9M292.2 218.5h.9M284.9 219.5h.9M289.3 217.3h.9M290.7 215.8h.9M293.0 218.2h.9M281.7 216.1h.9M290.1 214.8h.9M290.1 212.3h.9M286.5 217.3h.9M285.7 213.5h.9M288.0 214.1h.9M291.4 221.0h.9M285.2 215.1h.9M288.2 217.7h.9M288.9 220.9h.9M290.4 219.4h.9M287.6 218.3h.9M288.4 220.2h.9M293.0 215.4h.9M291.3 219.0h.9M289.0 217.5h.9M287.8 213.6h.9M289.0 217.9h.9M288.1 219.6h.9M288.4 216.6h.9M291.3 221.0h.9M292.8 218.3h.9M287.2 219.1h.9M286.8 218.7h.9M290.8 212.1h.9M285.0 215.9h.9M289.8 216.5h.9M288.3 217.6h.9M289.2 212.2h.9M291.0 219.5h.9" stroke="#e8120c" stroke-width=".9" stroke-opacity="0.5" fill="none"/>
<path d="M293.8 211.8h.9M301.6 217.7h.9M294.5 221.7h.9M298.8 214.8h.9M293.0 214.6h.9M295.4 218.1h.9M295.5 216.7h.9M295.9 212.3h.9M299.7 213.3h.9M298.2 219.1h.9M296.4 206.6h.9M300.9 211.6h.9M294.9 212.5h.9M295.5 215.5h.9M300.6 212.3h.9M295.6 216.3h.9M294.7 215.7h.9M299.1 215.8h.9M296.5 217.6h.9M299.0 221.6h.9M302.9 218.9h.9M291.7 211.1h.9M294.3 221.9h.9M294.2 222.2h.9M300.1 215.8h.9M294.4 208.0h.9M297.5 217.6h.9M292.5 215.6h.9M292.1 210.6h.9M293.7 222.4h.9M296.8 212.4h.9M298.0 221.4h.9M302.9 208.1h.9M292.4 214.8h.9M290.5 216.3h.9M304.0 217.1h.9M292.1 215.4h.9M298.7 214.1h.9M287.2 215.1h.9M297.7 222.3h.9M296.3 222.2h.9M296.0 213.9h.9M300.0 219.5h.9M290.4 219.0h.9M302.5 213.8h.9M301.4 218.9h.9M299.1 215.3h.9M294.4 217.4h.9M295.7 213.3h.9M300.1 216.9h.9M293.2 215.2h.9M299.1 213.2h.9M291.9 206.8h.9M302.3 216.9h.9M298.6 220.7h.9M297.1 221.8h.9M297.0 222.4h.9M298.4 220.0h.9M296.1 214.0h.9M299.3 219.9h.9M293.5 208.1h.9M294.6 213.8h.9M286.5 210.6h.9M296.1 217.8h.9M302.0 217.3h.9M307.0 212.3h.9M296.5 212.6h.9M295.4 218.4h.9M290.8 219.2h.9M302.5 217.2h.9M298.8 222.0h.9M299.3 207.8h.9M292.4 222.3h.9M301.0 216.4h.9M301.3 222.0h.9M291.8 216.7h.9M299.3 216.8h.9M297.5 208.8h.9M301.4 213.5h.9M293.9 213.0h.9M300.0 213.1h.9M290.1 216.4h.9M294.4 219.8h.9M306.2 222.0h.9M292.8 216.0h.9M299.7 220.4h.9M295.9 218.6h.9M295.0 219.5h.9M296.5 214.5h.9M305.6 215.6h.9M302.1 216.4h.9M297.4 214.6h.9M306.0 207.8h.9M300.9 217.8h.9M300.9 215.2h.9M296.9 207.1h.9M302.3 216.1h.9M293.7 222.4h.9M303.0 219.5h.9M303.2 217.0h.9M288.0 217.8h.9M305.3 215.2h.9M296.2 211.4h.9M293.8 213.2h.9M296.9 202.5h.9M296.2 213.7h.9M292.6 214.1h.9M300.5 213.4h.9M292.3 220.6h.9M293.6 212.5h.9M295.1 213.9h.9M301.3 218.8h.9M290.8 214.5h.9M294.5 218.7h.9M306.4 213.2h.9M299.6 221.9h.9M296.8 217.4h.9M299.0 210.2h.9M301.6 213.8h.9M301.6 217.3h.9M296.5 212.6h.9M295.9 213.0h.9M297.2 215.3h.9M296.8 212.8h.9M289.1 221.8h.9M298.8 217.2h.9M305.0 214.3h.9M292.8 213.5h.9M291.7 217.8h.9M298.4 213.6h.9M294.4 220.6h.9M298.6 218.0h.9M290.0 204.8h.9M298.9 212.0h.9M291.0 222.4h.9M300.0 210.0h.9M299.4 217.3h.9M297.5 211.3h.9M296.2 213.5h.9M295.5 210.5h.9M299.2 217.7h.9M297.5 221.0h.9M287.7 213.0h.9M298.5 219.0h.9M294.6 215.3h.9M302.5 216.2h.9M292.3 219.8h.9M295.9 215.9h.9M295.8 216.8h.9M304.9 220.5h.9M306.3 209.2h.9M296.9 209.2h.9M292.4 215.9h.9M293.9 221.8h.9M288.5 218.5h.9M295.5 218.9h.9M293.3 210.1h.9M294.6 216.3h.9M302.6 219.5h.9M302.9 221.9h.9M291.0 218.0h.9M296.3 222.2h.9M298.2 222.1h.9M303.8 219.2h.9M294.5 222.4h.9M292.1 211.1h.9M290.6 213.6h.9M296.6 220.7h.9M296.7 214.5h.9M296.8 219.2h.9M298.9 219.4h.9M302.8 217.0h.9M291.4 219.9h.9M303.0 214.4h.9M292.6 207.2h.9M301.9 214.7h.9M300.4 212.1h.9M294.4 216.9h.9M297.4 212.2h.9M295.7 220.9h.9M305.2 217.0h.9M299.7 216.0h.9M303.3 210.9h.9M300.4 216.5h.9" stroke="#f25a50" stroke-width=".9" stroke-opacity="0.45" fill="none"/>
<path d="M298.4 218.3h.9M294.9 220.6h.9M299.5 217.1h.9M298.3 218.3h.9M305.2 222.1h.9M295.1 217.4h.9M300.0 212.7h.9M297.8 218.1h.9M301.0 209.3h.9M291.0 211.8h.9M305.5 203.5h.9M299.9 207.5h.9M296.1 211.2h.9M302.3 209.4h.9M302.9 217.0h.9M302.3 214.0h.9M310.6 221.9h.9M290.3 220.1h.9M294.4 220.3h.9M291.2 222.4h.9M287.8 216.8h.9M294.0 212.4h.9M308.9 207.0h.9M298.7 217.8h.9M297.0 211.9h.9M302.3 209.8h.9M292.6 215.4h.9M292.5 213.9h.9M305.1 216.9h.9M303.9 208.3h.9" stroke="#f25a50" stroke-width=".8" stroke-opacity="0.25" fill="none"/>
<ellipse cx="297.5" cy="216" rx="5.6" ry="6.6" transform="rotate(0 297.5 216)" fill="#e8120c" fill-opacity="0.95" filter="url(#bl)"/>
<ellipse cx="297.5" cy="216" rx="4.03" ry="4.75" transform="rotate(0 297.5 216)" fill="#e8120c" fill-opacity="0.76"/>
<path d="M298.1 218.8h.9M298.6 216.2h.9M298.4 212.8h.9M296.6 214.4h.9M302.3 212.4h.9M296.6 217.7h.9M296.3 218.0h.9M294.7 219.0h.9M298.1 209.7h.9M294.0 212.4h.9M296.9 215.0h.9M298.4 217.9h.9M299.0 217.4h.9M295.5 211.7h.9M294.5 217.2h.9M295.1 212.5h.9M295.3 217.2h.9M294.2 215.5h.9M299.3 218.5h.9M293.2 216.0h.9M296.1 222.1h.9M296.9 211.9h.9M296.0 216.0h.9M296.3 218.2h.9M296.5 216.2h.9M306.1 217.3h.9M299.6 216.1h.9M291.4 221.0h.9M296.4 218.1h.9M294.0 216.4h.9M300.2 212.8h.9M302.3 218.9h.9M298.5 215.2h.9M299.9 210.0h.9M300.7 210.2h.9M296.2 220.0h.9M298.3 210.5h.9M293.3 212.3h.9M296.2 213.5h.9M299.9 215.0h.9M301.9 220.0h.9M294.4 219.8h.9M300.8 212.6h.9M296.7 213.6h.9M295.0 215.9h.9M298.3 213.6h.9M293.5 217.9h.9M300.9 219.4h.9M293.9 214.5h.9M296.7 214.0h.9M300.2 213.3h.9M296.8 217.1h.9M297.7 216.8h.9M297.2 217.6h.9M298.3 216.2h.9M298.9 217.2h.9M299.3 217.4h.9M298.7 217.1h.9M295.4 214.6h.9M296.8 214.0h.9M296.3 214.0h.9" stroke="#e8120c" stroke-width=".9" stroke-opacity="0.5" fill="none"/>
</g>
<line x1="258.5" y1="171.3" x2="315.5" y2="171.3" stroke="#bbb" stroke-width=".9"/>
<line x1="258.5" y1="222.4" x2="315.5" y2="222.4" stroke="#999" stroke-width=".9"/>
<line x1="258.5" y1="171.3" x2="258.5" y2="222.4" stroke="#666" stroke-width=".9"/>
<line x1="315.5" y1="171.3" x2="315.5" y2="222.4" stroke="#888" stroke-width=".9"/>
<rect x="263.5" y="178.1" width="32.0" height="22.099999999999994" fill="none" stroke="#7c7c7c" stroke-width=".85"/>
<text x="264.3" y="181.7" font-size="3.4" fill="#777">F</text>
<text x="256.3" y="174.50000000000003" font-size="7.8" text-anchor="end" fill="#2a2a2a" stroke="#2a2a2a" stroke-width=".12" letter-spacing=".6">10<tspan dx="-.4" dy="-2.9" font-size="5.2" letter-spacing="0">3</tspan></text>
<text x="256.3" y="187.60000000000002" font-size="7.8" text-anchor="end" fill="#2a2a2a" stroke="#2a2a2a" stroke-width=".12" letter-spacing=".6">10<tspan dx="-.4" dy="-2.9" font-size="5.2" letter-spacing="0">2</tspan></text>
<text x="256.3" y="200.50000000000003" font-size="7.8" text-anchor="end" fill="#2a2a2a" stroke="#2a2a2a" stroke-width=".12" letter-spacing=".6">10<tspan dx="-.4" dy="-2.9" font-size="5.2" letter-spacing="0">1</tspan></text>
<text x="256.3" y="213.40000000000003" font-size="7.8" text-anchor="end" fill="#2a2a2a" stroke="#2a2a2a" stroke-width=".12" letter-spacing=".6">10<tspan dx="-.4" dy="-2.9" font-size="5.2" letter-spacing="0">0</tspan></text>
<text x="273.4" y="234.3" font-size="7.8" text-anchor="middle" fill="#2a2a2a" stroke="#2a2a2a" stroke-width=".12" letter-spacing=".6">10<tspan dx="-.4" dy="-2.9" font-size="5.2" letter-spacing="0">0</tspan></text>
<text x="287.4" y="234.3" font-size="7.8" text-anchor="middle" fill="#2a2a2a" stroke="#2a2a2a" stroke-width=".12" letter-spacing=".6">10<tspan dx="-.4" dy="-2.9" font-size="5.2" letter-spacing="0">1</tspan></text>
<text x="301.4" y="234.3" font-size="7.8" text-anchor="middle" fill="#2a2a2a" stroke="#2a2a2a" stroke-width=".12" letter-spacing=".6">10<tspan dx="-.4" dy="-2.9" font-size="5.2" letter-spacing="0">2</tspan></text>
<text x="315.4" y="234.3" font-size="7.8" text-anchor="middle" fill="#2a2a2a" stroke="#2a2a2a" stroke-width=".12" letter-spacing=".6">10<tspan dx="-.4" dy="-2.9" font-size="5.2" letter-spacing="0">3</tspan></text>
<text x="296" y="193.6" font-size="8.4" fill="#222" stroke="#222" stroke-width=".2">4.9%</text>
<text transform="translate(238.6,197.85000000000002) rotate(-90) scale(0.66,1)" font-size="9" font-weight="bold" text-anchor="middle" fill="#2a2a2a">hCD45</text>
<clipPath id="c258_248"><rect x="258.5" y="248.5" width="57" height="50.89999999999998"/></clipPath>
<g clip-path="url(#c258_248)">
<path d="M273.9 268.7h.9M276.9 267.7h.9M279.3 267.8h.9M275.6 268.1h.9M274.3 269.2h.9M271.4 269.2h.9M271.5 271.3h.9M267.8 271.0h.9M271.5 263.2h.9M270.7 268.5h.9M261.4 263.7h.9M279.1 269.3h.9M276.1 265.2h.9M283.7 273.3h.9M269.8 272.2h.9M272.0 267.9h.9M270.7 267.3h.9M270.9 272.1h.9M278.0 266.0h.9M270.7 264.9h.9M267.6 268.9h.9M264.4 263.3h.9M276.5 263.3h.9M278.2 268.3h.9M275.8 269.3h.9M280.9 269.7h.9M269.1 268.5h.9M277.0 264.3h.9M274.6 267.2h.9M277.5 269.2h.9M264.2 264.4h.9M272.6 268.7h.9M274.0 268.9h.9M273.8 264.9h.9M273.9 271.5h.9M272.0 268.7h.9M280.0 269.4h.9M276.8 264.6h.9M283.6 266.2h.9M276.0 267.7h.9M269.2 267.7h.9M272.3 269.0h.9M272.9 273.8h.9M269.8 267.8h.9M273.5 264.1h.9M276.0 264.0h.9M272.9 269.3h.9M267.5 267.7h.9M272.9 272.6h.9M276.0 268.8h.9M272.1 268.6h.9M276.2 269.1h.9M279.2 267.9h.9M271.8 267.3h.9M273.7 265.4h.9M266.2 266.3h.9M272.0 267.7h.9M272.8 268.8h.9M276.1 266.6h.9M277.8 268.8h.9M270.4 271.1h.9M276.6 267.9h.9M273.2 268.7h.9M265.7 267.3h.9M278.5 266.3h.9M279.4 267.9h.9M276.8 270.0h.9M267.0 264.0h.9M271.2 267.0h.9M279.5 269.6h.9M271.8 269.2h.9M268.3 266.8h.9M273.4 267.5h.9M276.9 264.9h.9M277.9 265.3h.9M272.2 266.2h.9M268.7 272.0h.9M270.5 272.2h.9" stroke="#7070c0" stroke-width=".9" stroke-opacity="0.45" fill="none"/>
<path d="M273.5 271.3h.9M281.9 266.7h.9M273.1 267.6h.9M271.5 268.8h.9M259.4 264.0h.9M273.1 275.3h.9M277.0 266.8h.9M280.7 264.3h.9M275.5 269.3h.9M265.2 263.3h.9M270.8 273.1h.9M272.0 266.4h.9M272.6 265.1h.9" stroke="#7070c0" stroke-width=".8" stroke-opacity="0.25" fill="none"/>
<ellipse cx="273.9" cy="267.7" rx="5.2" ry="3" transform="rotate(0 273.9 267.7)" fill="#262682" fill-opacity="0.6" filter="url(#bl)"/>
<path d="M275.2 269.0h.9M278.5 268.3h.9M280.5 268.6h.9M278.8 267.5h.9M268.2 265.4h.9M276.1 268.1h.9M272.5 267.8h.9M272.2 265.4h.9M273.2 267.9h.9M271.6 270.0h.9M276.2 267.6h.9M278.6 267.9h.9M273.7 267.3h.9M271.7 267.7h.9M276.9 267.6h.9M276.1 267.1h.9M272.3 269.1h.9M275.9 268.4h.9M273.3 268.5h.9M275.5 266.2h.9M273.3 265.9h.9M274.2 268.8h.9M275.2 269.4h.9M273.5 268.4h.9M274.4 267.1h.9M276.0 267.5h.9" stroke="#262682" stroke-width=".9" stroke-opacity="0.5" fill="none"/>
<path d="M278.8 266.0h.9M284.3 276.4h.9M281.6 274.2h.9M279.3 272.6h.9M281.3 268.3h.9M279.6 274.2h.9M287.3 269.9h.9M279.7 272.3h.9M286.2 274.6h.9M283.7 274.0h.9M286.9 271.0h.9M281.2 274.7h.9M278.0 269.1h.9M286.1 273.0h.9M285.0 272.9h.9M278.7 274.2h.9M285.3 270.5h.9M283.4 270.4h.9M282.1 272.1h.9M284.5 275.9h.9M283.1 269.2h.9M285.4 271.1h.9M282.3 275.0h.9M286.9 273.6h.9M281.8 272.4h.9M283.5 273.5h.9M280.6 271.3h.9M280.8 271.0h.9M282.6 267.3h.9M278.5 269.0h.9M282.4 272.0h.9M286.1 270.9h.9M289.8 273.5h.9M287.9 273.3h.9M282.9 272.1h.9M282.2 272.1h.9M281.7 267.7h.9M279.7 273.2h.9M279.9 273.7h.9M286.8 271.5h.9M283.5 271.6h.9M285.1 271.4h.9M280.7 272.7h.9M281.2 271.3h.9M286.0 274.3h.9M288.1 266.4h.9M281.5 272.7h.9M283.1 272.8h.9M288.9 268.9h.9M289.5 275.6h.9M278.8 271.9h.9M279.6 269.1h.9M284.9 273.8h.9M278.8 270.8h.9M283.5 270.2h.9M285.9 275.0h.9M274.5 274.6h.9M293.5 270.3h.9M292.1 271.2h.9M284.4 271.1h.9M286.2 267.7h.9M284.9 272.8h.9M286.0 271.0h.9M287.5 272.4h.9M282.1 273.4h.9M285.7 274.1h.9M284.6 271.3h.9M274.9 272.5h.9M284.3 271.3h.9M281.7 271.2h.9M288.5 275.5h.9M295.3 268.0h.9M284.7 271.8h.9M282.0 273.6h.9M290.7 274.9h.9M272.9 273.2h.9M288.2 272.5h.9M292.2 275.5h.9" stroke="#7070c0" stroke-width=".9" stroke-opacity="0.45" fill="none"/>
<path d="M286.3 270.8h.9M274.7 278.8h.9M279.2 269.9h.9M279.0 269.4h.9M285.4 270.6h.9M272.7 268.5h.9M288.8 272.3h.9M277.3 274.0h.9M287.5 268.2h.9M296.2 276.0h.9M288.1 277.3h.9M286.1 272.8h.9M281.1 268.9h.9" stroke="#7070c0" stroke-width=".8" stroke-opacity="0.25" fill="none"/>
<ellipse cx="284" cy="271.8" rx="5.2" ry="3" transform="rotate(0 284 271.8)" fill="#262682" fill-opacity="0.6" filter="url(#bl)"/>
<path d="M284.5 271.4h.9M284.8 272.1h.9M282.7 272.1h.9M285.3 273.1h.9M284.7 269.4h.9M282.3 272.5h.9M283.8 273.9h.9M281.5 273.3h.9M285.2 272.4h.9M283.8 271.8h.9M287.6 270.2h.9M283.0 272.0h.9M282.5 272.7h.9M282.5 272.9h.9M284.5 272.2h.9M285.1 272.1h.9M284.8 273.1h.9M284.8 272.4h.9M281.4 271.0h.9M283.4 273.9h.9M282.4 271.6h.9M286.0 270.5h.9M285.7 273.0h.9M285.9 272.1h.9M285.8 270.9h.9M283.4 271.8h.9" stroke="#262682" stroke-width=".9" stroke-opacity="0.5" fill="none"/>
<path d="M261.4 298.2h.9M275.8 293.0h.9M285.0 294.3h.9M278.2 298.8h.9M271.1 298.9h.9M267.4 295.7h.9M276.0 299.1h.9M274.6 292.4h.9M274.2 289.8h.9M264.3 299.3h.9M273.5 292.3h.9M275.1 293.5h.9M273.2 299.2h.9M272.0 292.7h.9M268.1 294.9h.9M271.3 293.5h.9M282.1 295.1h.9M263.7 299.4h.9M264.3 296.9h.9M271.9 294.8h.9M275.4 295.4h.9M262.9 293.8h.9M271.6 296.7h.9M271.5 295.3h.9M274.3 299.1h.9M267.5 296.8h.9M273.2 299.1h.9M271.1 298.0h.9M265.9 296.5h.9M276.3 294.6h.9M272.7 295.7h.9M269.6 290.6h.9M260.3 289.9h.9M270.1 297.6h.9M260.3 298.9h.9M276.1 292.2h.9M270.8 292.0h.9M267.6 296.0h.9M263.8 291.3h.9M261.6 292.5h.9M271.6 299.4h.9M268.3 287.8h.9M266.9 294.3h.9M264.9 298.8h.9M267.5 299.4h.9M265.8 282.7h.9M265.7 297.6h.9M273.0 285.1h.9M279.5 298.8h.9M275.5 293.8h.9M269.5 296.7h.9M268.5 291.6h.9M268.6 297.2h.9M271.8 294.4h.9M273.5 294.4h.9M267.3 296.4h.9M272.8 295.8h.9M271.7 295.8h.9M271.1 298.7h.9M260.6 292.3h.9M260.9 294.8h.9M262.8 299.3h.9M271.4 299.1h.9M271.7 299.1h.9M258.7 295.9h.9M271.1 291.3h.9M269.3 299.2h.9M262.0 287.5h.9M272.8 294.6h.9M272.7 294.3h.9M269.2 298.3h.9M271.5 299.1h.9M272.4 298.8h.9M270.1 299.1h.9M272.7 295.1h.9M273.4 296.7h.9M274.0 299.1h.9M273.3 291.2h.9M272.5 295.3h.9M274.1 295.9h.9M274.1 288.5h.9M265.2 298.8h.9M265.5 298.4h.9M272.5 288.8h.9M266.7 293.9h.9M273.6 298.8h.9M286.5 292.3h.9M276.9 290.9h.9M276.9 295.8h.9M277.1 294.9h.9M266.8 291.1h.9M264.1 293.1h.9M265.7 295.4h.9M275.8 294.1h.9M261.9 288.6h.9M270.3 297.3h.9M273.4 295.4h.9M271.7 298.8h.9M281.9 296.6h.9M264.4 293.0h.9M275.2 294.5h.9M259.6 299.4h.9M278.5 291.4h.9M268.8 299.0h.9M273.5 295.5h.9M269.5 295.0h.9M281.4 299.3h.9M269.4 297.0h.9M273.1 293.5h.9M273.8 292.2h.9M270.2 299.1h.9M272.5 299.2h.9M272.6 295.9h.9M278.7 298.9h.9M270.6 298.2h.9M270.2 296.0h.9M266.7 293.0h.9M276.4 289.0h.9M264.1 294.9h.9M275.6 294.1h.9M276.9 293.5h.9M273.8 296.4h.9M272.2 283.1h.9M273.8 295.6h.9M272.6 287.9h.9M273.9 298.4h.9M265.5 292.4h.9M265.4 298.1h.9M281.1 292.2h.9M267.3 299.0h.9M270.0 298.7h.9M261.9 298.1h.9M281.8 297.9h.9M272.7 291.0h.9M263.1 297.8h.9M273.0 290.2h.9M276.3 296.6h.9M268.9 299.4h.9M273.5 293.8h.9M275.9 294.2h.9M269.5 289.6h.9M272.0 288.8h.9M271.4 299.0h.9M262.4 298.9h.9M272.6 296.5h.9M271.9 296.0h.9M275.1 297.8h.9M266.5 292.8h.9M273.5 296.1h.9M277.9 296.3h.9M269.6 299.1h.9M265.5 299.2h.9M267.5 295.9h.9M272.6 291.0h.9M262.2 289.6h.9M275.2 296.9h.9M268.5 298.0h.9M275.7 296.3h.9M270.5 284.3h.9M277.4 289.1h.9M271.6 296.6h.9M259.5 289.7h.9M276.5 296.2h.9M264.9 299.4h.9M273.5 289.0h.9M271.3 294.6h.9M268.4 287.9h.9M270.4 296.3h.9M276.3 288.1h.9M277.5 295.8h.9M268.5 299.2h.9M261.0 295.8h.9M272.5 293.0h.9M268.7 293.9h.9M276.9 299.2h.9M261.7 299.0h.9" stroke="#f25a50" stroke-width=".9" stroke-opacity="0.45" fill="none"/>
<path d="M277.0 296.2h.9M278.1 295.1h.9M282.5 293.2h.9M272.8 298.9h.9M274.9 286.9h.9M269.1 299.4h.9M267.5 287.3h.9M274.6 290.1h.9M280.6 292.0h.9M258.9 288.6h.9M263.3 291.6h.9M273.4 295.9h.9M277.9 290.9h.9M267.6 297.6h.9M274.8 299.1h.9M260.2 296.5h.9M274.4 298.4h.9M269.0 296.8h.9M258.6 289.8h.9M279.6 290.6h.9M273.6 299.4h.9M259.3 289.8h.9M272.2 297.1h.9M272.2 296.3h.9M262.3 293.7h.9M278.4 289.4h.9M269.7 295.3h.9M277.8 291.7h.9M280.9 297.1h.9" stroke="#f25a50" stroke-width=".8" stroke-opacity="0.25" fill="none"/>
<ellipse cx="271" cy="295.3" rx="6.8" ry="5.2" transform="rotate(0 271 295.3)" fill="#e8120c" fill-opacity="0.95" filter="url(#bl)"/>
<ellipse cx="271" cy="295.3" rx="4.90" ry="3.74" transform="rotate(0 271 295.3)" fill="#e8120c" fill-opacity="0.76"/>
<path d="M271.0 296.5h.9M267.6 295.8h.9M269.5 298.7h.9M271.3 294.9h.9M269.3 296.4h.9M268.1 295.0h.9M270.4 293.0h.9M273.8 298.7h.9M270.5 297.6h.9M271.6 293.1h.9M273.0 297.2h.9M273.9 297.3h.9M272.9 295.4h.9M272.6 292.5h.9M264.8 296.8h.9M272.7 296.5h.9M270.5 299.2h.9M270.4 295.7h.9M270.5 296.0h.9M273.3 296.9h.9M273.3 294.1h.9M268.1 293.8h.9M265.2 295.3h.9M271.7 296.5h.9M271.4 297.5h.9M270.5 296.9h.9M272.3 298.3h.9M268.2 297.8h.9M272.2 297.2h.9M272.9 299.2h.9M270.6 297.3h.9M273.8 297.4h.9M270.3 298.8h.9M267.8 297.3h.9M264.1 294.4h.9M271.1 299.2h.9M272.5 298.0h.9M270.7 294.9h.9M269.9 297.5h.9M273.9 298.5h.9M273.4 296.9h.9M272.7 298.7h.9M269.2 291.4h.9M266.9 294.8h.9M273.6 293.9h.9M273.4 294.7h.9M265.5 297.8h.9M273.8 296.7h.9M270.2 292.2h.9M273.9 295.7h.9M272.5 293.1h.9M269.9 296.9h.9M271.0 294.6h.9M271.1 293.4h.9M265.3 295.8h.9M272.7 291.5h.9M271.8 296.4h.9M273.7 293.1h.9" stroke="#e8120c" stroke-width=".9" stroke-opacity="0.5" fill="none"/>
<path d="M272.6 298.9h.9M280.4 290.8h.9M280.0 287.8h.9M279.5 297.7h.9M278.3 294.9h.9M279.3 291.4h.9M270.9 299.3h.9M280.3 297.1h.9M280.6 294.7h.9M285.7 292.4h.9M288.4 297.3h.9M279.5 298.9h.9M281.8 294.2h.9M273.6 299.2h.9M273.3 295.6h.9M295.6 298.4h.9M273.4 289.0h.9M282.2 296.6h.9M279.0 299.1h.9M291.1 298.3h.9M283.7 292.6h.9M274.4 298.6h.9M277.2 294.0h.9M277.8 296.0h.9M283.5 294.9h.9M283.9 291.3h.9M275.1 295.5h.9M283.7 291.9h.9M282.9 298.4h.9M283.8 296.9h.9M279.4 298.8h.9M271.7 296.8h.9M284.4 295.6h.9M282.0 289.7h.9M285.0 294.1h.9M282.1 293.4h.9M274.1 293.8h.9M269.3 297.9h.9M286.5 293.2h.9M284.0 293.9h.9M272.3 298.8h.9M274.0 299.0h.9M283.9 296.5h.9M272.9 289.1h.9M283.4 295.4h.9M283.2 295.5h.9M276.3 294.7h.9M285.7 299.2h.9M288.6 299.2h.9M286.9 288.5h.9M289.9 290.8h.9M282.9 292.8h.9M282.2 295.2h.9M284.8 295.2h.9M272.7 297.8h.9M278.3 296.1h.9M273.6 298.5h.9M279.1 294.5h.9M272.9 298.2h.9M282.2 298.5h.9M282.4 287.5h.9M279.6 296.7h.9M281.0 299.1h.9M280.0 292.8h.9M277.3 298.8h.9M275.3 295.3h.9M284.9 296.2h.9M269.1 292.6h.9M289.2 295.2h.9M277.1 296.6h.9M280.2 294.7h.9M281.4 299.3h.9M276.7 298.9h.9M286.1 296.0h.9M281.0 295.7h.9M280.5 296.9h.9M283.5 297.8h.9M294.4 294.9h.9M279.9 298.1h.9M277.4 296.7h.9M279.8 290.5h.9M276.0 292.2h.9M280.6 297.3h.9M282.7 298.5h.9M278.7 295.2h.9M276.7 296.5h.9M275.5 286.2h.9M278.3 295.7h.9M273.9 292.7h.9M274.3 297.7h.9M281.9 292.5h.9M274.5 299.0h.9M287.1 297.6h.9M281.9 298.0h.9M283.0 288.6h.9M272.8 298.5h.9M283.1 298.9h.9M269.0 291.5h.9M284.0 291.3h.9M280.2 297.6h.9M282.3 294.5h.9M279.1 299.2h.9M291.3 298.0h.9M276.4 287.6h.9M272.8 296.9h.9M289.5 295.5h.9M283.7 291.4h.9M278.1 292.7h.9M278.7 299.0h.9M281.1 284.8h.9M285.1 299.4h.9M278.7 293.1h.9M281.0 291.8h.9M285.1 296.0h.9M288.6 299.2h.9M281.4 297.9h.9M285.2 297.2h.9M276.3 294.9h.9M277.2 286.1h.9M282.2 297.7h.9M281.7 299.1h.9M275.7 296.7h.9M269.5 292.2h.9M277.6 294.2h.9M273.7 295.1h.9M276.1 295.1h.9M276.7 297.6h.9M266.8 288.8h.9M275.5 296.4h.9M282.6 296.0h.9M280.1 299.2h.9M276.7 292.1h.9M286.5 284.6h.9M273.8 299.2h.9M276.3 294.8h.9M283.8 298.7h.9M277.8 291.5h.9M275.8 289.6h.9M284.7 296.2h.9M274.0 289.5h.9M285.2 299.3h.9M274.2 299.2h.9M266.8 292.1h.9M281.9 290.3h.9M278.3 298.0h.9M279.8 297.0h.9M289.6 294.7h.9M278.5 293.3h.9M285.8 293.5h.9M277.4 293.1h.9M281.2 294.5h.9M275.4 297.4h.9M286.2 293.4h.9M274.8 293.8h.9M279.4 294.3h.9M287.6 288.6h.9M274.6 296.1h.9M273.4 294.4h.9M282.9 288.5h.9M277.9 297.4h.9M282.8 294.2h.9M280.1 290.1h.9M279.9 298.2h.9M284.2 299.3h.9M277.8 294.6h.9M277.5 294.5h.9M289.6 292.6h.9M280.6 299.2h.9M277.5 296.1h.9M271.0 287.9h.9M276.6 285.8h.9M273.2 290.6h.9M281.4 296.2h.9M285.5 298.9h.9M282.5 293.6h.9M270.4 297.6h.9M277.8 291.4h.9M288.3 292.6h.9M286.4 296.9h.9M273.2 294.4h.9M271.5 292.6h.9M280.4 293.2h.9M284.7 292.4h.9" stroke="#f25a50" stroke-width=".9" stroke-opacity="0.45" fill="none"/>
<path d="M286.6 296.4h.9M274.1 293.3h.9M273.2 286.9h.9M272.8 299.4h.9M277.5 298.8h.9M281.3 292.5h.9M271.5 293.2h.9M280.4 290.9h.9M274.9 288.9h.9M290.5 286.2h.9M283.7 288.3h.9M277.3 298.9h.9M274.4 297.8h.9M271.8 299.0h.9M289.7 299.2h.9M274.4 286.0h.9M270.8 286.3h.9M288.7 296.8h.9M278.4 290.3h.9M283.2 293.5h.9M276.0 296.7h.9M272.2 286.5h.9M287.9 299.4h.9M265.5 298.3h.9M268.6 291.6h.9M277.1 299.0h.9M267.1 298.8h.9M279.8 299.3h.9M273.5 282.2h.9M285.7 288.8h.9" stroke="#f25a50" stroke-width=".8" stroke-opacity="0.25" fill="none"/>
<ellipse cx="280" cy="295.1" rx="6.8" ry="5.4" transform="rotate(0 280 295.1)" fill="#e8120c" fill-opacity="0.95" filter="url(#bl)"/>
<ellipse cx="280" cy="295.1" rx="4.90" ry="3.89" transform="rotate(0 280 295.1)" fill="#e8120c" fill-opacity="0.76"/>
<path d="M281.6 296.6h.9M284.4 291.8h.9M284.3 293.9h.9M276.6 293.5h.9M276.6 294.6h.9M281.1 294.2h.9M281.5 292.6h.9M281.3 290.2h.9M280.4 295.9h.9M280.3 294.7h.9M278.5 294.5h.9M276.3 297.2h.9M283.3 292.0h.9M275.1 298.0h.9M276.4 291.7h.9M279.6 294.8h.9M282.4 293.0h.9M275.0 294.2h.9M283.2 294.4h.9M276.1 294.7h.9M279.0 296.0h.9M281.1 293.7h.9M280.7 295.5h.9M279.9 292.3h.9M278.8 292.0h.9M277.7 291.1h.9M282.5 295.1h.9M279.8 297.5h.9M286.1 297.1h.9M278.3 298.2h.9M283.6 296.8h.9M279.5 294.6h.9M282.7 296.5h.9M280.0 293.7h.9M279.4 295.1h.9M272.7 293.9h.9M281.9 297.6h.9M278.8 295.5h.9M283.2 297.4h.9M277.1 297.4h.9M279.9 297.3h.9M282.2 298.7h.9M285.7 292.4h.9M279.5 296.3h.9M287.8 294.0h.9M276.0 297.5h.9M275.5 290.3h.9M279.6 294.3h.9M279.5 295.3h.9M282.7 291.6h.9M282.6 296.9h.9M280.7 292.9h.9M279.2 294.9h.9M279.3 295.0h.9M285.8 293.1h.9M271.5 297.0h.9M282.6 299.1h.9M278.1 293.0h.9M285.8 293.4h.9M279.9 293.2h.9M285.3 297.4h.9" stroke="#e8120c" stroke-width=".9" stroke-opacity="0.5" fill="none"/>
<path d="M284.6 293.0h.9M286.1 292.6h.9M289.4 289.5h.9M290.4 291.1h.9M285.9 292.4h.9M292.2 295.7h.9M285.9 296.5h.9M283.6 295.9h.9M289.3 295.2h.9M282.3 296.5h.9M291.1 296.6h.9M286.2 299.1h.9M297.1 299.3h.9M289.8 298.9h.9M284.8 288.0h.9M284.3 292.3h.9M285.5 294.5h.9M289.9 293.8h.9M283.6 293.7h.9M290.7 291.0h.9M281.6 293.2h.9M286.8 299.2h.9M289.7 292.6h.9M286.9 292.5h.9M291.9 298.8h.9M290.5 292.7h.9M289.4 298.9h.9M284.2 292.4h.9M286.1 293.3h.9M277.3 290.8h.9M287.0 298.1h.9M283.6 290.4h.9M286.8 289.6h.9M279.3 295.1h.9M290.1 293.2h.9M290.4 297.1h.9M292.1 294.0h.9M290.9 292.7h.9M289.3 298.4h.9M296.6 296.7h.9M286.2 292.8h.9M282.9 298.2h.9M294.3 292.0h.9M286.3 294.4h.9M281.4 290.1h.9M290.9 292.3h.9M291.2 296.5h.9M295.0 292.3h.9M295.2 293.3h.9M288.6 298.9h.9M286.1 290.4h.9M291.7 293.7h.9M281.0 298.9h.9M285.2 298.2h.9M288.1 291.8h.9M288.9 289.5h.9M293.7 291.0h.9M288.7 299.3h.9M287.3 295.0h.9M282.1 298.9h.9M289.5 295.9h.9M281.6 293.4h.9M287.7 293.2h.9M285.3 286.1h.9M283.3 298.9h.9M290.1 298.4h.9M282.6 298.9h.9M286.0 293.6h.9M289.2 294.4h.9M291.5 290.7h.9M288.9 290.2h.9M299.5 288.8h.9M294.9 298.9h.9M287.3 294.3h.9M287.7 296.9h.9M291.1 296.8h.9M292.1 296.3h.9M284.3 297.5h.9M285.7 290.7h.9M290.1 294.1h.9M276.1 298.2h.9M288.5 296.8h.9M282.3 294.1h.9M285.5 294.7h.9M293.7 291.2h.9M286.6 293.4h.9M290.0 288.6h.9M291.5 292.6h.9M295.0 298.9h.9M286.9 292.4h.9M286.3 292.1h.9M292.9 298.9h.9M282.5 291.7h.9M289.1 295.9h.9M290.4 289.9h.9M292.2 293.6h.9M291.3 294.1h.9M281.8 298.6h.9M287.4 292.6h.9M281.9 293.3h.9M294.2 299.1h.9M291.7 292.7h.9M289.1 295.9h.9M285.6 293.5h.9M289.5 291.2h.9M287.2 290.5h.9M285.4 292.9h.9M290.2 297.2h.9M285.1 295.4h.9M295.3 286.2h.9M287.8 289.0h.9M294.2 296.9h.9M290.7 296.3h.9M280.6 298.8h.9M287.1 294.3h.9M281.4 295.2h.9M280.5 288.7h.9M299.5 294.0h.9M299.2 299.2h.9M294.5 286.9h.9M296.3 295.3h.9M285.7 298.9h.9M292.5 298.4h.9M283.4 293.7h.9M291.5 294.7h.9M279.2 295.7h.9M288.2 293.7h.9M290.0 292.9h.9M294.8 288.1h.9M285.0 297.2h.9M293.1 298.9h.9M293.3 290.2h.9M292.7 293.5h.9M295.1 298.9h.9M284.3 293.8h.9M289.3 290.1h.9M281.2 293.4h.9M291.9 299.3h.9M290.7 295.8h.9M286.5 299.3h.9M281.9 297.2h.9M293.6 298.9h.9M284.6 291.1h.9M286.7 298.2h.9M290.6 294.8h.9M292.8 294.9h.9M287.6 299.0h.9M286.7 296.2h.9M285.1 297.0h.9M285.6 297.9h.9M287.4 294.8h.9M299.4 297.7h.9M293.0 293.5h.9M286.9 298.2h.9M292.5 296.7h.9M293.8 286.3h.9M288.9 299.2h.9M291.6 298.9h.9M284.0 297.2h.9M284.7 288.6h.9M296.8 297.9h.9M295.8 292.3h.9M288.1 292.2h.9M294.4 292.8h.9M285.7 293.4h.9M286.2 292.4h.9M297.1 290.5h.9M284.3 289.6h.9M294.0 291.4h.9M292.0 299.1h.9" stroke="#f25a50" stroke-width=".9" stroke-opacity="0.45" fill="none"/>
<path d="M285.7 288.8h.9M299.2 288.3h.9M297.9 299.0h.9M286.3 294.4h.9M281.7 299.3h.9M284.6 296.3h.9M285.2 295.1h.9M292.6 297.9h.9M296.1 295.2h.9M292.5 285.6h.9M285.7 284.0h.9M294.7 294.9h.9M279.4 291.3h.9M291.1 298.9h.9M284.7 297.2h.9M279.7 299.3h.9M280.2 299.1h.9M287.5 290.2h.9M297.1 298.8h.9M295.3 295.4h.9M295.6 291.3h.9M285.7 288.2h.9M285.4 293.2h.9M289.7 290.5h.9M284.8 279.3h.9M299.3 299.2h.9M292.0 295.9h.9M279.6 287.4h.9" stroke="#f25a50" stroke-width=".8" stroke-opacity="0.25" fill="none"/>
<ellipse cx="288.5" cy="295" rx="6.3" ry="5.4" transform="rotate(0 288.5 295)" fill="#e8120c" fill-opacity="0.95" filter="url(#bl)"/>
<ellipse cx="288.5" cy="295" rx="4.54" ry="3.89" transform="rotate(0 288.5 295)" fill="#e8120c" fill-opacity="0.76"/>
<path d="M288.7 297.0h.9M289.4 299.1h.9M288.2 295.6h.9M293.1 295.8h.9M285.7 293.4h.9M289.7 298.8h.9M296.2 289.9h.9M288.4 298.8h.9M286.1 297.0h.9M288.3 296.2h.9M289.2 293.3h.9M290.4 295.0h.9M288.3 296.1h.9M286.7 293.9h.9M285.5 296.9h.9M290.0 294.3h.9M287.1 297.0h.9M284.8 294.3h.9M292.8 296.1h.9M293.7 298.6h.9M285.8 295.6h.9M285.6 296.4h.9M285.0 295.1h.9M287.4 297.9h.9M288.2 292.2h.9M289.1 290.9h.9M285.3 296.8h.9M288.8 292.8h.9M289.2 290.1h.9M287.7 295.4h.9M288.0 298.5h.9M291.6 292.6h.9M287.1 291.9h.9M284.5 297.4h.9M291.9 289.7h.9M291.0 292.5h.9M286.3 293.6h.9M286.7 291.6h.9M291.4 294.6h.9M286.1 297.0h.9M287.3 294.9h.9M287.5 292.6h.9M285.5 292.0h.9M294.4 297.7h.9M293.3 291.7h.9M287.7 298.6h.9M288.4 294.1h.9M293.1 298.8h.9M291.8 290.1h.9M286.1 293.2h.9M282.8 291.7h.9M287.6 296.2h.9M288.9 294.7h.9M287.8 292.9h.9M291.1 290.9h.9M290.7 296.8h.9" stroke="#e8120c" stroke-width=".9" stroke-opacity="0.5" fill="none"/>
<path d="M305.2 296.0h.9M293.5 294.2h.9M295.8 295.5h.9M305.0 284.6h.9M298.7 291.3h.9M298.6 291.4h.9M293.4 299.2h.9M296.1 291.0h.9M302.0 297.1h.9M301.8 289.6h.9M296.1 296.8h.9M294.7 287.8h.9M293.3 289.9h.9M291.3 289.9h.9M295.2 297.6h.9M292.9 292.1h.9M295.4 288.8h.9M292.6 292.6h.9M300.1 293.2h.9M291.5 298.7h.9M297.6 292.6h.9M291.2 291.1h.9M305.1 294.6h.9M297.0 299.1h.9M302.5 291.6h.9M293.5 288.2h.9M296.7 289.8h.9M300.0 288.9h.9M301.6 286.9h.9M290.5 299.0h.9M293.2 294.3h.9M299.9 293.9h.9M302.4 296.6h.9M297.5 293.1h.9M303.1 293.2h.9M301.3 296.9h.9M294.9 296.0h.9M309.6 288.3h.9M301.2 282.8h.9M296.3 291.0h.9M299.6 294.0h.9M291.9 287.0h.9M297.0 289.7h.9M296.4 293.9h.9M297.3 299.0h.9M298.8 295.0h.9M294.1 299.2h.9M302.2 294.0h.9M296.7 295.3h.9M302.2 298.2h.9M294.8 297.6h.9M297.4 289.7h.9M296.1 297.1h.9M305.2 291.5h.9M295.3 293.8h.9M295.7 286.5h.9M302.6 288.2h.9M296.1 293.5h.9M296.5 297.0h.9M292.9 286.5h.9M298.6 292.7h.9M292.6 296.9h.9M298.5 284.9h.9M298.4 295.9h.9M300.4 289.5h.9M296.6 292.6h.9M299.6 289.3h.9M297.0 291.4h.9M296.8 289.2h.9M299.0 298.0h.9M303.1 292.7h.9M298.9 293.4h.9M299.0 287.7h.9M290.3 299.2h.9M308.3 289.6h.9M301.3 294.6h.9M303.0 287.8h.9M298.2 299.4h.9M306.8 287.6h.9M297.7 291.7h.9M305.8 297.5h.9M294.2 295.9h.9M297.0 286.5h.9M295.5 297.8h.9M288.8 299.1h.9M300.5 297.6h.9M289.4 296.2h.9M293.8 285.4h.9M294.2 294.7h.9M297.4 299.3h.9M302.4 299.3h.9M300.5 294.5h.9M297.9 299.1h.9M296.1 287.4h.9M299.5 293.0h.9M297.7 286.6h.9M294.2 292.5h.9M295.9 294.9h.9M303.5 295.2h.9M299.3 291.4h.9M291.7 294.9h.9M297.5 289.8h.9M294.3 297.1h.9M300.0 292.8h.9M300.9 285.4h.9M297.1 299.0h.9M296.1 294.6h.9M296.5 295.0h.9M293.3 285.9h.9M301.3 295.7h.9M301.6 288.5h.9M298.5 292.4h.9M288.6 286.2h.9M299.5 299.1h.9M295.4 299.1h.9M293.1 296.3h.9M296.1 287.4h.9M301.1 289.8h.9M299.5 297.8h.9M294.6 289.7h.9M297.0 292.8h.9M305.0 296.5h.9M294.8 294.0h.9M296.6 292.7h.9M301.5 296.0h.9M296.2 297.2h.9M301.7 296.1h.9M295.1 299.0h.9M303.8 289.0h.9M301.2 297.1h.9M299.7 296.9h.9M296.6 292.1h.9M310.6 299.3h.9M291.7 299.3h.9M300.7 293.7h.9M301.4 299.0h.9M298.1 295.7h.9M303.4 288.7h.9M291.4 295.8h.9M304.0 291.4h.9M299.3 291.0h.9M297.4 292.7h.9M306.6 284.9h.9M294.9 286.6h.9M298.9 299.0h.9M288.9 278.8h.9M300.1 292.7h.9M297.1 293.5h.9M297.5 291.6h.9M295.8 293.7h.9M295.2 291.1h.9M300.3 296.8h.9M301.7 299.0h.9M298.9 299.2h.9M299.7 294.4h.9M288.6 299.0h.9M299.4 292.6h.9M290.9 291.8h.9M293.3 292.7h.9M298.7 292.8h.9M296.9 292.5h.9M306.2 288.3h.9M300.0 288.8h.9M296.2 299.1h.9M293.2 292.9h.9M292.7 299.0h.9M299.0 297.1h.9M297.1 298.7h.9M292.1 296.1h.9M288.4 299.3h.9M295.0 290.9h.9M303.2 293.1h.9M299.9 290.7h.9M295.7 298.3h.9M294.8 290.5h.9M300.0 291.6h.9M291.1 292.3h.9M304.4 289.6h.9M291.1 297.7h.9M295.4 290.4h.9M306.4 294.0h.9M292.8 296.3h.9M295.8 299.2h.9M299.1 291.6h.9M295.5 292.7h.9M294.5 297.0h.9M305.9 283.6h.9M297.4 296.2h.9M297.5 298.6h.9M301.7 293.9h.9" stroke="#f25a50" stroke-width=".9" stroke-opacity="0.45" fill="none"/>
<path d="M303.3 293.8h.9M294.5 285.3h.9M297.8 291.2h.9M290.6 288.6h.9M289.4 297.2h.9M298.3 299.4h.9M298.0 291.5h.9M302.1 295.5h.9M284.5 293.0h.9M288.9 283.2h.9M290.9 299.0h.9M308.1 290.1h.9M300.9 299.3h.9M299.4 298.9h.9M296.5 289.1h.9M289.2 286.6h.9M297.0 278.5h.9M304.0 280.4h.9M289.1 288.8h.9M294.6 290.2h.9M295.4 298.9h.9M294.7 298.5h.9M291.3 299.2h.9M296.3 294.9h.9M290.1 286.6h.9M297.4 282.8h.9M300.2 294.9h.9M278.8 294.7h.9M303.1 286.4h.9M299.7 299.3h.9M297.0 292.4h.9" stroke="#f25a50" stroke-width=".8" stroke-opacity="0.25" fill="none"/>
<ellipse cx="297.5" cy="293.3" rx="5.6" ry="6.8" transform="rotate(0 297.5 293.3)" fill="#e8120c" fill-opacity="0.95" filter="url(#bl)"/>
<ellipse cx="297.5" cy="293.3" rx="4.03" ry="4.90" transform="rotate(0 297.5 293.3)" fill="#e8120c" fill-opacity="0.76"/>
<path d="M298.9 296.2h.9M299.8 292.4h.9M296.7 292.3h.9M299.3 295.8h.9M295.7 294.7h.9M296.7 291.5h.9M297.7 296.3h.9M296.6 290.6h.9M302.2 299.3h.9M295.4 292.1h.9M297.4 293.4h.9M296.8 292.7h.9M298.4 288.9h.9M295.7 297.7h.9M296.7 296.6h.9M296.7 291.7h.9M294.4 294.5h.9M298.2 284.5h.9M296.0 297.7h.9M299.8 295.2h.9M295.3 294.3h.9M295.4 293.0h.9M299.4 296.9h.9M293.3 296.6h.9M302.1 290.6h.9M297.6 296.2h.9M297.4 296.0h.9M297.7 295.5h.9M304.7 297.1h.9M297.1 291.0h.9M298.5 290.2h.9M294.1 291.5h.9M297.9 292.0h.9M298.0 290.3h.9M300.1 294.0h.9M297.1 290.5h.9M297.1 292.1h.9M296.9 289.0h.9M299.1 293.5h.9M301.7 296.4h.9M294.1 291.0h.9M298.7 294.3h.9M297.9 292.9h.9M299.0 297.1h.9M294.4 293.2h.9M294.6 289.1h.9M295.2 296.1h.9M301.1 298.1h.9M298.1 292.5h.9M297.4 294.7h.9M296.3 293.0h.9M295.3 291.9h.9M297.7 293.5h.9M298.7 297.1h.9M299.3 295.2h.9M295.7 296.2h.9M302.9 292.3h.9M292.1 287.6h.9M300.4 295.8h.9M297.7 292.8h.9M301.1 291.8h.9M299.2 292.6h.9M299.5 297.2h.9" stroke="#e8120c" stroke-width=".9" stroke-opacity="0.5" fill="none"/>
</g>
<line x1="258.5" y1="248.5" x2="315.5" y2="248.5" stroke="#bbb" stroke-width=".9"/>
<line x1="258.5" y1="299.4" x2="315.5" y2="299.4" stroke="#999" stroke-width=".9"/>
<line x1="258.5" y1="248.5" x2="258.5" y2="299.4" stroke="#666" stroke-width=".9"/>
<line x1="315.5" y1="248.5" x2="315.5" y2="299.4" stroke="#888" stroke-width=".9"/>
<rect x="263.5" y="255.1" width="32.0" height="22.099999999999994" fill="none" stroke="#7c7c7c" stroke-width=".85"/>
<text x="264.3" y="258.7" font-size="3.4" fill="#777">F</text>
<text x="256.3" y="251.70000000000002" font-size="7.8" text-anchor="end" fill="#2a2a2a" stroke="#2a2a2a" stroke-width=".12" letter-spacing=".6">10<tspan dx="-.4" dy="-2.9" font-size="5.2" letter-spacing="0">3</tspan></text>
<text x="256.3" y="264.8" font-size="7.8" text-anchor="end" fill="#2a2a2a" stroke="#2a2a2a" stroke-width=".12" letter-spacing=".6">10<tspan dx="-.4" dy="-2.9" font-size="5.2" letter-spacing="0">2</tspan></text>
<text x="256.3" y="277.7" font-size="7.8" text-anchor="end" fill="#2a2a2a" stroke="#2a2a2a" stroke-width=".12" letter-spacing=".6">10<tspan dx="-.4" dy="-2.9" font-size="5.2" letter-spacing="0">1</tspan></text>
<text x="256.3" y="290.6" font-size="7.8" text-anchor="end" fill="#2a2a2a" stroke="#2a2a2a" stroke-width=".12" letter-spacing=".6">10<tspan dx="-.4" dy="-2.9" font-size="5.2" letter-spacing="0">0</tspan></text>
<text x="273.4" y="311.29999999999995" font-size="7.8" text-anchor="middle" fill="#2a2a2a" stroke="#2a2a2a" stroke-width=".12" letter-spacing=".6">10<tspan dx="-.4" dy="-2.9" font-size="5.2" letter-spacing="0">0</tspan></text>
<text x="287.4" y="311.29999999999995" font-size="7.8" text-anchor="middle" fill="#2a2a2a" stroke="#2a2a2a" stroke-width=".12" letter-spacing=".6">10<tspan dx="-.4" dy="-2.9" font-size="5.2" letter-spacing="0">1</tspan></text>
<text x="301.4" y="311.29999999999995" font-size="7.8" text-anchor="middle" fill="#2a2a2a" stroke="#2a2a2a" stroke-width=".12" letter-spacing=".6">10<tspan dx="-.4" dy="-2.9" font-size="5.2" letter-spacing="0">2</tspan></text>
<text x="315.4" y="311.29999999999995" font-size="7.8" text-anchor="middle" fill="#2a2a2a" stroke="#2a2a2a" stroke-width=".12" letter-spacing=".6">10<tspan dx="-.4" dy="-2.9" font-size="5.2" letter-spacing="0">3</tspan></text>
<text x="298.3" y="267" font-size="8.4" fill="#222" stroke="#222" stroke-width=".2">5%</text>
<text transform="translate(238.6,274.95) rotate(-90) scale(0.66,1)" font-size="9" font-weight="bold" text-anchor="middle" fill="#2a2a2a">hCD45</text>
<clipPath id="c258_325"><rect x="258.5" y="325.5" width="57" height="53.10000000000002"/></clipPath>
<g clip-path="url(#c258_325)">
<path d="M268.6 372.7h.9M274.4 376.4h.9M274.7 372.8h.9M276.8 376.5h.9M273.7 378.5h.9M271.5 365.3h.9M270.4 371.3h.9M272.1 378.5h.9M270.9 378.6h.9M262.9 377.1h.9M273.7 369.0h.9M282.9 372.0h.9M271.0 378.3h.9M279.7 370.5h.9M273.9 373.7h.9M279.4 372.1h.9M275.8 378.4h.9M277.7 370.9h.9M279.8 372.4h.9M264.2 370.5h.9M281.9 372.8h.9M265.1 372.5h.9M272.6 376.8h.9M276.3 376.7h.9M273.9 368.7h.9M273.9 371.3h.9M268.3 378.5h.9M280.4 378.2h.9M274.5 371.2h.9M277.8 365.9h.9M264.8 371.1h.9M280.6 378.5h.9M279.5 375.7h.9M272.7 368.0h.9M272.8 378.5h.9M273.6 377.2h.9M272.7 367.1h.9M274.6 378.1h.9M267.4 372.3h.9M267.4 378.2h.9M270.2 373.2h.9M281.6 370.8h.9M268.5 370.2h.9M276.5 370.0h.9M270.7 370.6h.9M279.6 378.1h.9M280.2 372.2h.9M272.2 372.6h.9M273.7 367.2h.9M270.5 377.5h.9M278.2 375.8h.9M281.0 371.0h.9M260.8 375.4h.9M269.9 373.1h.9M265.0 378.1h.9M270.1 372.7h.9M274.5 378.4h.9M268.9 373.8h.9M273.1 376.3h.9M278.5 369.2h.9M275.4 368.5h.9M274.3 375.0h.9M270.8 368.9h.9M276.7 368.4h.9M266.1 376.7h.9M274.0 373.9h.9M268.0 371.0h.9M265.0 374.3h.9M270.2 375.5h.9M271.5 365.0h.9M262.4 375.2h.9M276.1 370.1h.9M275.7 371.7h.9M268.4 377.5h.9M269.7 374.8h.9M278.2 377.4h.9M274.0 378.4h.9M269.6 377.7h.9M265.3 378.3h.9M275.0 374.8h.9M275.4 374.5h.9M268.5 371.7h.9M275.4 373.2h.9M264.9 378.4h.9M267.6 374.4h.9M261.1 370.1h.9M275.0 370.7h.9M279.6 365.3h.9M270.0 377.3h.9M276.7 372.0h.9M276.5 375.8h.9M271.9 371.7h.9M270.3 373.6h.9M265.6 376.5h.9M278.5 376.6h.9M273.0 378.5h.9M272.2 373.7h.9M266.5 376.0h.9M278.7 373.8h.9M280.2 368.8h.9M276.7 370.9h.9M275.0 376.8h.9M274.1 375.1h.9M265.0 376.6h.9M270.1 367.9h.9M273.4 376.3h.9M278.4 375.2h.9M270.2 378.4h.9M272.7 370.8h.9M272.1 378.3h.9M279.3 368.0h.9M271.8 368.2h.9M271.9 373.5h.9M272.2 373.7h.9M276.2 374.6h.9M269.9 378.5h.9M271.4 371.7h.9M273.6 374.2h.9M263.1 373.1h.9M278.0 377.9h.9M271.5 378.3h.9M280.8 375.3h.9M267.8 372.2h.9M273.9 376.0h.9M268.9 376.9h.9M270.3 376.7h.9M268.2 375.1h.9M270.2 370.9h.9M275.3 374.6h.9M277.7 374.5h.9M268.3 375.0h.9M264.8 372.0h.9M265.9 375.5h.9M272.8 374.1h.9M272.4 376.1h.9M263.5 371.9h.9M265.5 370.3h.9M262.6 378.4h.9M268.6 367.4h.9M274.6 376.4h.9M271.5 371.7h.9M271.2 369.5h.9M278.2 373.6h.9M267.9 373.8h.9M275.0 372.6h.9M282.6 378.0h.9M276.9 373.5h.9M275.1 377.7h.9M273.2 378.6h.9M269.2 371.0h.9M268.0 372.8h.9M270.9 370.5h.9M271.5 378.3h.9M265.0 374.0h.9M277.3 374.3h.9M269.5 373.5h.9M273.9 367.6h.9M268.7 374.5h.9M276.1 377.1h.9M273.2 378.4h.9M262.2 378.1h.9M275.8 370.2h.9M279.3 377.8h.9M259.9 378.6h.9M267.5 369.9h.9M270.7 374.7h.9M276.4 377.1h.9M272.6 374.5h.9M275.5 370.8h.9M266.8 363.8h.9M271.6 370.5h.9M270.3 377.1h.9M271.0 375.5h.9M276.2 376.2h.9M267.6 378.3h.9M278.1 378.2h.9" stroke="#f25a50" stroke-width=".9" stroke-opacity="0.45" fill="none"/>
<path d="M280.7 369.0h.9M274.0 378.2h.9M270.5 378.5h.9M265.1 372.4h.9M276.4 365.2h.9M268.8 376.2h.9M275.3 378.5h.9M270.0 377.8h.9M281.9 376.1h.9M263.4 376.3h.9M289.7 370.8h.9M267.3 377.8h.9M271.1 369.6h.9M274.0 378.1h.9M274.6 378.1h.9M272.4 369.7h.9M280.2 374.4h.9M281.4 378.1h.9M275.5 375.3h.9M270.3 360.4h.9M270.9 372.6h.9M270.1 378.1h.9M269.9 369.4h.9M278.1 368.2h.9M279.2 376.3h.9M279.0 378.2h.9M283.2 377.7h.9M272.4 378.4h.9M274.2 375.6h.9" stroke="#f25a50" stroke-width=".8" stroke-opacity="0.25" fill="none"/>
<ellipse cx="272.5" cy="374.3" rx="6.8" ry="5.2" transform="rotate(0 272.5 374.3)" fill="#e8120c" fill-opacity="0.95" filter="url(#bl)"/>
<ellipse cx="272.5" cy="374.3" rx="4.90" ry="3.74" transform="rotate(0 272.5 374.3)" fill="#e8120c" fill-opacity="0.76"/>
<path d="M274.2 373.2h.9M276.8 370.7h.9M275.1 373.2h.9M276.1 373.3h.9M271.2 375.4h.9M267.6 371.9h.9M271.6 373.3h.9M279.9 374.5h.9M271.9 373.2h.9M273.6 370.5h.9M274.2 374.5h.9M276.3 372.4h.9M274.5 373.2h.9M274.9 377.5h.9M271.9 372.1h.9M270.1 375.6h.9M269.0 369.5h.9M276.6 375.1h.9M274.8 374.1h.9M274.1 375.1h.9M273.3 370.1h.9M274.6 374.4h.9M271.5 372.6h.9M269.8 370.6h.9M274.5 374.3h.9M273.7 372.8h.9M270.5 373.6h.9M274.9 375.8h.9M276.6 374.9h.9M273.4 372.2h.9M272.0 373.6h.9M266.7 375.3h.9M270.0 373.2h.9M271.8 377.7h.9M274.5 372.5h.9M275.3 373.8h.9M274.6 374.3h.9M271.0 371.4h.9M272.2 372.4h.9M276.1 372.6h.9M275.6 371.2h.9M272.9 374.8h.9M270.1 374.2h.9M270.9 371.3h.9M278.0 372.5h.9M274.2 371.3h.9M272.8 374.8h.9M273.5 373.0h.9M269.7 374.9h.9M269.1 371.2h.9M276.6 373.2h.9M272.2 373.3h.9M272.2 375.2h.9M271.4 371.1h.9M275.9 373.5h.9M269.4 376.3h.9M277.2 372.6h.9M270.4 374.1h.9" stroke="#e8120c" stroke-width=".9" stroke-opacity="0.5" fill="none"/>
<path d="M286.5 374.2h.9M286.7 364.5h.9M279.1 375.0h.9M289.7 375.8h.9M283.8 367.7h.9M276.8 378.4h.9M278.9 367.9h.9M271.3 368.8h.9M281.6 369.9h.9M269.0 371.0h.9M267.5 370.4h.9M285.2 376.5h.9M282.6 374.3h.9M281.4 378.3h.9M283.2 375.1h.9M283.1 369.7h.9M272.4 378.3h.9M279.0 376.6h.9M284.3 367.3h.9M273.5 373.7h.9M277.5 376.9h.9M290.8 376.2h.9M286.9 376.6h.9M278.1 360.4h.9M283.0 378.0h.9M295.9 375.6h.9M281.4 365.6h.9M284.9 378.4h.9M278.2 373.3h.9M281.4 378.1h.9M284.0 375.4h.9M295.2 368.5h.9M275.2 366.6h.9M283.0 371.6h.9M276.9 372.6h.9M286.8 378.1h.9M272.4 376.9h.9M285.1 373.2h.9M287.9 376.1h.9M275.7 373.5h.9M284.6 374.5h.9M287.2 374.1h.9M283.4 373.9h.9M281.7 376.1h.9M266.9 368.2h.9M281.9 373.4h.9M289.5 374.0h.9M277.1 373.6h.9M279.5 373.8h.9M283.6 370.6h.9M274.1 376.1h.9M283.0 364.4h.9M284.1 365.1h.9M281.5 366.9h.9M278.0 374.1h.9M283.3 367.2h.9M287.8 376.2h.9M284.8 365.0h.9M277.6 371.0h.9M276.9 372.2h.9M286.0 375.9h.9M275.1 373.7h.9M281.6 370.9h.9M283.1 378.4h.9M279.6 374.5h.9M288.0 374.0h.9M292.4 369.8h.9M276.8 373.4h.9M284.6 375.2h.9M281.3 378.1h.9M270.3 372.1h.9M283.7 368.9h.9M270.3 374.1h.9M288.4 371.6h.9M278.6 372.2h.9M281.7 378.6h.9M279.1 370.6h.9M280.9 371.9h.9M287.0 375.5h.9M285.7 371.0h.9M284.1 373.7h.9M282.7 376.9h.9M269.2 378.0h.9M277.8 373.7h.9M282.4 365.4h.9M284.0 373.4h.9M280.1 365.9h.9M280.5 373.6h.9M294.1 377.0h.9M287.2 374.5h.9M277.8 373.3h.9M280.6 374.7h.9M271.3 374.0h.9M281.5 377.3h.9M286.1 374.1h.9M281.5 370.5h.9M281.3 373.7h.9M280.3 373.0h.9M287.3 378.3h.9M286.4 369.0h.9M265.3 373.7h.9M282.8 378.0h.9M265.1 377.2h.9M275.7 373.2h.9M280.9 372.5h.9M270.5 368.6h.9M286.1 372.6h.9M275.4 374.6h.9M277.3 374.9h.9M280.8 374.6h.9M284.7 378.4h.9M279.5 374.8h.9M281.7 378.3h.9M285.6 374.1h.9M276.5 374.6h.9M280.2 374.4h.9M280.6 370.5h.9M287.3 376.9h.9M281.5 373.0h.9M278.5 371.6h.9M273.0 370.5h.9M276.0 368.8h.9M289.8 378.3h.9M277.0 373.5h.9M278.3 378.4h.9M281.5 375.4h.9M269.0 375.7h.9M284.3 377.9h.9M270.7 373.4h.9M282.7 371.1h.9M281.9 375.1h.9M284.1 374.7h.9M280.5 368.5h.9M278.3 378.2h.9M276.9 373.1h.9M290.8 371.0h.9M281.0 371.1h.9M280.4 375.7h.9M279.3 368.7h.9M280.3 374.4h.9M276.9 376.5h.9M275.2 378.5h.9M276.7 376.7h.9M281.6 375.1h.9M278.8 378.4h.9M286.8 370.3h.9M277.8 367.9h.9M272.8 377.0h.9M279.0 371.6h.9M275.0 369.6h.9M277.9 375.6h.9M285.9 369.1h.9M264.5 367.9h.9M274.7 372.3h.9M278.7 366.2h.9M282.3 370.4h.9M277.1 368.6h.9M278.4 371.6h.9M276.0 375.1h.9M283.2 372.3h.9M291.0 378.2h.9M283.0 378.5h.9M282.9 371.7h.9M287.8 371.2h.9M271.3 372.2h.9M276.7 369.0h.9M280.0 378.4h.9M280.4 378.4h.9M280.2 369.9h.9M274.4 378.2h.9M277.0 376.0h.9M274.7 378.2h.9M283.3 373.2h.9M276.9 372.0h.9M282.2 376.7h.9M288.9 372.0h.9M283.3 373.9h.9M287.1 374.5h.9M282.7 373.8h.9M282.4 378.3h.9M283.2 377.3h.9M281.0 374.3h.9M275.5 376.5h.9" stroke="#f25a50" stroke-width=".9" stroke-opacity="0.45" fill="none"/>
<path d="M273.5 370.5h.9M284.8 375.8h.9M279.5 375.0h.9M278.2 378.5h.9M273.5 373.4h.9M281.7 375.7h.9M280.4 374.9h.9M275.8 378.4h.9M278.7 373.8h.9M271.0 365.4h.9M283.9 374.8h.9M287.2 378.3h.9M288.1 378.6h.9M277.2 378.2h.9M265.7 378.4h.9M277.6 378.1h.9M276.0 370.6h.9M282.4 373.0h.9M279.9 372.2h.9M280.5 371.3h.9M282.9 376.2h.9M285.1 368.0h.9M271.8 373.8h.9M282.0 369.1h.9M280.4 378.6h.9M277.4 377.4h.9M268.3 373.3h.9M284.9 377.6h.9M278.8 370.7h.9M286.5 374.8h.9" stroke="#f25a50" stroke-width=".8" stroke-opacity="0.25" fill="none"/>
<ellipse cx="281" cy="374" rx="6.8" ry="5.4" transform="rotate(0 281 374)" fill="#e8120c" fill-opacity="0.95" filter="url(#bl)"/>
<ellipse cx="281" cy="374" rx="4.90" ry="3.89" transform="rotate(0 281 374)" fill="#e8120c" fill-opacity="0.76"/>
<path d="M284.3 374.5h.9M285.6 372.0h.9M283.1 373.9h.9M281.9 373.9h.9M280.6 370.2h.9M281.5 374.8h.9M282.4 370.5h.9M276.6 369.9h.9M281.1 375.0h.9M282.8 373.2h.9M282.8 378.2h.9M279.4 374.9h.9M277.1 372.9h.9M284.1 378.4h.9M282.1 374.7h.9M280.7 373.3h.9M278.7 374.3h.9M279.9 373.1h.9M281.3 378.5h.9M280.3 371.1h.9M280.4 372.5h.9M276.5 375.0h.9M284.0 375.7h.9M282.5 375.7h.9M274.2 368.4h.9M286.4 373.0h.9M286.5 375.1h.9M281.0 377.9h.9M283.1 377.6h.9M283.6 378.3h.9M280.5 373.8h.9M278.6 371.1h.9M282.3 370.5h.9M281.2 372.2h.9M282.9 372.8h.9M282.1 378.1h.9M281.9 374.2h.9M282.9 371.6h.9M277.4 373.2h.9M278.8 373.6h.9M276.2 371.8h.9M281.3 375.5h.9M283.9 375.9h.9M281.6 375.5h.9M286.9 373.4h.9M278.5 378.6h.9M277.3 374.5h.9M281.5 376.1h.9M281.8 374.0h.9M286.3 375.9h.9M278.2 372.4h.9M289.9 372.8h.9M281.2 376.6h.9M280.6 376.1h.9M279.1 372.9h.9M281.0 377.2h.9M282.7 371.9h.9M279.7 377.1h.9M277.3 374.6h.9M277.3 372.5h.9M282.2 373.0h.9" stroke="#e8120c" stroke-width=".9" stroke-opacity="0.5" fill="none"/>
<path d="M285.7 368.9h.9M286.5 374.6h.9M284.9 372.4h.9M286.6 372.3h.9M294.7 377.7h.9M294.1 371.6h.9M279.6 368.3h.9M287.3 378.5h.9M289.2 373.0h.9M289.7 368.5h.9M290.8 378.4h.9M284.8 370.8h.9M277.4 372.5h.9M290.2 377.1h.9M285.3 374.3h.9M291.4 374.0h.9M295.3 372.2h.9M284.9 371.7h.9M278.8 370.6h.9M291.1 378.3h.9M289.2 376.8h.9M284.1 377.1h.9M288.3 372.8h.9M287.3 378.2h.9M294.9 375.4h.9M295.4 373.5h.9M294.2 376.6h.9M286.7 378.3h.9M284.7 374.0h.9M292.7 374.0h.9M292.0 374.8h.9M292.8 371.7h.9M292.4 373.8h.9M289.7 377.8h.9M293.9 376.5h.9M290.1 374.5h.9M292.5 371.6h.9M286.8 367.8h.9M284.4 375.4h.9M288.0 371.1h.9M290.8 378.1h.9M291.8 371.6h.9M290.8 377.1h.9M282.8 370.2h.9M286.8 375.2h.9M288.2 375.7h.9M292.5 377.2h.9M285.9 368.2h.9M286.4 367.7h.9M293.6 374.1h.9M285.1 378.2h.9M287.7 373.8h.9M287.0 372.7h.9M288.1 371.3h.9M285.3 370.3h.9M295.4 367.1h.9M294.3 371.8h.9M292.4 369.0h.9M286.3 378.4h.9M293.3 378.5h.9M300.0 376.6h.9M290.1 378.0h.9M293.6 377.1h.9M279.6 375.9h.9M292.8 378.1h.9M286.6 376.6h.9M290.1 374.2h.9M294.5 374.4h.9M293.3 366.2h.9M295.6 373.6h.9M287.8 378.0h.9M283.7 377.6h.9M293.1 377.2h.9M288.6 373.3h.9M282.3 371.9h.9M296.2 375.1h.9M288.7 370.9h.9M290.6 378.3h.9M292.4 373.5h.9M289.1 372.9h.9M286.4 371.1h.9M295.3 369.9h.9M288.1 377.8h.9M289.0 370.9h.9M286.0 377.5h.9M284.6 374.2h.9M284.4 372.7h.9M292.2 369.7h.9M286.3 377.0h.9M291.8 370.1h.9M295.2 374.1h.9M286.5 378.1h.9M293.5 374.3h.9M290.8 374.7h.9M287.1 373.7h.9M293.6 374.5h.9M282.9 373.4h.9M282.2 368.8h.9M293.9 372.2h.9M291.9 375.0h.9M286.1 375.7h.9M295.6 373.7h.9M285.3 376.9h.9M287.9 375.0h.9M286.3 371.7h.9M289.7 376.4h.9M287.9 369.5h.9M288.9 372.9h.9M284.1 373.9h.9M285.2 371.3h.9M296.7 378.5h.9M292.9 372.5h.9M289.1 378.2h.9M286.6 377.8h.9M285.0 375.9h.9M290.1 373.9h.9M287.9 374.3h.9M292.7 368.0h.9M288.1 378.4h.9M293.4 378.4h.9M291.7 373.8h.9M293.8 378.2h.9M282.9 369.8h.9M290.4 365.1h.9M284.9 378.4h.9M284.5 372.9h.9M282.6 376.0h.9M284.9 367.0h.9M292.3 370.2h.9M292.9 375.1h.9M286.9 377.9h.9M291.7 376.2h.9M289.4 371.3h.9M282.0 368.8h.9M286.5 376.9h.9M296.2 375.8h.9M288.6 367.1h.9M296.4 378.4h.9M295.6 378.4h.9M283.3 374.7h.9M279.7 375.8h.9M284.7 378.4h.9M283.8 373.6h.9M296.2 372.7h.9M289.4 372.6h.9M290.3 374.7h.9M290.3 373.1h.9M288.1 374.3h.9M289.6 372.8h.9M288.0 378.1h.9M288.2 372.5h.9M281.2 367.6h.9M291.5 370.1h.9M294.7 373.1h.9M295.1 372.3h.9M283.9 371.2h.9M293.4 371.1h.9M287.0 369.8h.9M287.7 377.6h.9M290.3 373.9h.9M288.6 371.4h.9M287.4 369.5h.9M281.1 378.1h.9M291.2 373.9h.9M289.6 377.6h.9M290.0 378.5h.9M293.6 378.1h.9M290.1 375.2h.9M285.2 375.0h.9M292.6 371.6h.9" stroke="#f25a50" stroke-width=".9" stroke-opacity="0.45" fill="none"/>
<path d="M285.2 364.6h.9M286.0 371.0h.9M284.0 369.8h.9M286.1 377.0h.9M297.6 378.0h.9M299.9 361.6h.9M293.7 378.2h.9M296.6 378.0h.9M295.6 373.5h.9M287.2 371.1h.9M285.6 372.7h.9M284.4 378.4h.9M293.6 378.3h.9M301.1 376.0h.9M296.1 370.1h.9M291.9 378.5h.9M280.8 378.5h.9M289.6 371.3h.9M299.0 375.1h.9M288.8 378.2h.9M285.1 365.8h.9M295.3 378.2h.9M285.3 375.9h.9M289.5 376.0h.9M296.7 375.2h.9M294.4 378.5h.9M287.1 376.6h.9M286.6 373.5h.9" stroke="#f25a50" stroke-width=".8" stroke-opacity="0.25" fill="none"/>
<ellipse cx="289" cy="374" rx="6.3" ry="5.4" transform="rotate(0 289 374)" fill="#e8120c" fill-opacity="0.95" filter="url(#bl)"/>
<ellipse cx="289" cy="374" rx="4.54" ry="3.89" transform="rotate(0 289 374)" fill="#e8120c" fill-opacity="0.76"/>
<path d="M285.9 371.3h.9M286.6 373.2h.9M291.7 371.7h.9M283.4 375.3h.9M292.9 373.6h.9M286.4 370.9h.9M293.0 371.6h.9M286.2 372.9h.9M286.9 372.2h.9M286.8 375.1h.9M290.5 371.6h.9M286.4 373.7h.9M290.4 371.3h.9M291.4 370.0h.9M292.9 375.7h.9M291.3 375.5h.9M289.4 374.6h.9M293.0 370.6h.9M289.0 376.8h.9M288.1 375.9h.9M289.9 372.4h.9M289.0 372.1h.9M286.5 373.3h.9M291.9 373.0h.9M285.4 373.1h.9M294.8 374.3h.9M283.9 373.4h.9M288.6 371.5h.9M289.3 368.7h.9M289.8 368.4h.9M289.2 374.7h.9M290.6 367.6h.9M292.9 368.9h.9M289.8 373.4h.9M290.8 372.1h.9M289.8 372.5h.9M286.0 375.8h.9M287.7 375.9h.9M292.7 371.5h.9M289.8 373.7h.9M284.9 378.4h.9M295.3 373.3h.9M290.0 376.5h.9M291.6 373.9h.9M285.7 377.0h.9M291.0 373.1h.9M287.9 374.8h.9M287.2 370.6h.9M284.2 372.2h.9M280.9 375.3h.9M288.3 373.2h.9M288.3 374.7h.9M287.9 374.4h.9M291.4 377.0h.9M289.7 371.6h.9M291.2 372.4h.9" stroke="#e8120c" stroke-width=".9" stroke-opacity="0.5" fill="none"/>
<path d="M289.7 371.0h.9M307.5 378.3h.9M300.9 374.2h.9M301.0 378.5h.9M292.8 373.2h.9M295.9 358.5h.9M298.5 378.1h.9M295.5 367.6h.9M303.9 370.1h.9M296.9 370.5h.9M296.9 373.9h.9M301.8 375.0h.9M307.3 367.3h.9M299.2 372.0h.9M308.2 364.9h.9M297.6 377.7h.9M294.5 373.2h.9M298.6 375.2h.9M298.9 367.3h.9M301.5 361.0h.9M293.8 368.7h.9M297.2 373.7h.9M313.0 378.5h.9M297.7 374.4h.9M304.1 375.8h.9M297.2 363.2h.9M288.7 375.5h.9M302.8 372.5h.9M309.0 374.5h.9M292.8 375.3h.9M293.2 378.1h.9M296.3 370.9h.9M297.7 378.4h.9M291.6 378.4h.9M305.0 377.3h.9M297.9 377.9h.9M295.7 369.0h.9M303.1 365.6h.9M299.7 370.4h.9M296.4 372.9h.9M295.6 378.5h.9M294.6 367.4h.9M292.0 373.2h.9M298.6 372.7h.9M298.5 367.4h.9M299.4 377.1h.9M291.4 371.6h.9M297.8 371.3h.9M294.3 369.8h.9M293.2 378.3h.9M292.3 367.7h.9M291.2 373.8h.9M293.5 375.9h.9M298.2 374.7h.9M301.1 372.8h.9M296.0 373.3h.9M302.1 368.5h.9M296.7 378.5h.9M299.4 378.6h.9M300.8 364.4h.9M296.1 366.5h.9M298.9 372.3h.9M301.0 374.2h.9M296.2 378.6h.9M292.0 364.5h.9M301.8 375.0h.9M300.7 368.3h.9M300.8 376.2h.9M298.0 373.0h.9M297.0 375.1h.9M291.7 378.3h.9M293.7 367.7h.9M303.2 372.6h.9M290.9 373.8h.9M295.4 374.9h.9M292.5 372.4h.9M296.0 378.3h.9M293.4 378.0h.9M301.9 374.8h.9M296.6 375.5h.9M294.3 378.1h.9M290.3 378.2h.9M296.0 370.0h.9M299.0 378.4h.9M297.5 378.5h.9M297.3 374.8h.9M291.9 372.8h.9M297.4 369.9h.9M291.8 370.2h.9M299.3 376.4h.9M305.6 362.7h.9M305.6 377.4h.9M297.6 378.1h.9M299.2 364.8h.9M300.9 365.9h.9M301.0 366.5h.9M290.4 377.6h.9M295.6 369.6h.9M305.7 373.0h.9M304.7 371.6h.9M297.3 362.7h.9M303.3 370.6h.9M302.1 369.5h.9M289.5 374.3h.9M302.4 361.4h.9M292.6 378.1h.9M304.7 370.9h.9M298.9 375.8h.9M299.6 367.2h.9M302.5 378.5h.9M298.4 373.5h.9M295.1 375.5h.9M300.7 370.0h.9M290.4 365.7h.9M300.1 373.6h.9M296.1 362.2h.9M291.3 378.1h.9M293.5 367.8h.9M302.1 378.2h.9M295.5 373.6h.9M299.7 375.2h.9M295.7 372.8h.9M300.2 378.1h.9M299.6 363.8h.9M293.5 368.0h.9M301.1 378.3h.9M299.9 366.7h.9M296.2 372.2h.9M301.5 373.7h.9M301.1 370.4h.9M306.1 366.4h.9M297.2 377.9h.9M301.2 367.0h.9M294.8 370.9h.9M301.4 377.0h.9M291.1 371.4h.9M298.6 377.8h.9M300.4 378.5h.9M295.8 369.3h.9M298.4 374.0h.9M308.2 372.8h.9M297.0 367.4h.9M298.7 370.4h.9M300.5 372.0h.9M294.1 368.0h.9M294.9 372.4h.9M285.8 368.9h.9M297.2 365.9h.9M300.4 370.9h.9M300.5 373.7h.9M296.0 378.1h.9M301.4 366.4h.9M296.7 365.9h.9M295.0 371.9h.9M295.3 371.5h.9M299.8 378.1h.9M300.1 377.3h.9M295.0 370.7h.9M301.9 369.8h.9M299.8 373.1h.9M300.2 378.4h.9M298.3 369.9h.9M294.3 378.2h.9M301.6 366.3h.9M291.4 360.8h.9M297.8 369.4h.9M286.9 373.6h.9M297.8 378.5h.9M298.1 365.5h.9M298.0 372.9h.9M292.8 366.0h.9M294.9 372.3h.9M302.1 368.8h.9M299.2 378.4h.9M293.5 367.1h.9M294.9 375.1h.9M293.4 377.7h.9M294.9 369.3h.9M299.3 376.7h.9" stroke="#f25a50" stroke-width=".9" stroke-opacity="0.45" fill="none"/>
<path d="M300.5 378.0h.9M304.3 372.2h.9M285.7 371.9h.9M293.3 375.5h.9M292.1 373.4h.9M296.3 378.5h.9M301.6 372.7h.9M302.4 374.8h.9M293.7 373.3h.9M306.0 373.1h.9M300.8 372.2h.9M294.0 374.9h.9M290.6 370.1h.9M299.3 369.2h.9M295.0 373.5h.9M293.7 369.6h.9M292.4 365.6h.9M295.4 378.5h.9M300.7 357.3h.9M297.3 367.2h.9M292.0 378.0h.9M298.1 363.7h.9M304.8 369.6h.9M310.2 373.5h.9M287.5 358.6h.9M298.7 365.0h.9M294.3 373.2h.9M286.3 376.2h.9M292.6 376.4h.9" stroke="#f25a50" stroke-width=".8" stroke-opacity="0.25" fill="none"/>
<ellipse cx="297.7" cy="372.6" rx="5.6" ry="6.4" transform="rotate(0 297.7 372.6)" fill="#e8120c" fill-opacity="0.95" filter="url(#bl)"/>
<ellipse cx="297.7" cy="372.6" rx="4.03" ry="4.61" transform="rotate(0 297.7 372.6)" fill="#e8120c" fill-opacity="0.76"/>
<path d="M300.6 375.3h.9M294.7 367.7h.9M292.9 368.1h.9M299.2 372.8h.9M297.7 369.9h.9M297.9 371.4h.9M297.5 374.3h.9M297.7 374.4h.9M297.2 376.5h.9M302.3 371.9h.9M298.0 372.2h.9M296.5 375.9h.9M298.3 365.4h.9M300.8 374.6h.9M293.9 373.0h.9M296.9 373.3h.9M297.7 378.5h.9M300.4 378.2h.9M300.5 371.8h.9M301.0 377.6h.9M296.6 374.2h.9M299.5 374.5h.9M299.9 367.2h.9M300.4 375.8h.9M297.0 377.5h.9M298.2 378.4h.9M298.6 374.3h.9M299.5 374.2h.9M301.2 370.8h.9M295.9 370.5h.9M300.2 371.5h.9M298.7 371.4h.9M295.5 371.3h.9M297.5 371.0h.9M301.2 374.6h.9M299.6 373.3h.9M297.7 367.5h.9M297.7 370.5h.9M299.7 372.4h.9M298.2 367.9h.9M299.6 373.6h.9M291.8 371.3h.9M295.8 373.7h.9M304.4 371.0h.9M302.0 375.5h.9M296.7 369.3h.9M295.7 373.6h.9M297.4 374.7h.9M298.6 372.7h.9M297.6 374.1h.9M296.2 372.6h.9M295.8 373.7h.9M299.4 375.2h.9M297.5 370.3h.9M296.4 374.5h.9M296.2 373.4h.9M298.6 375.2h.9M295.5 376.8h.9M294.0 375.9h.9" stroke="#e8120c" stroke-width=".9" stroke-opacity="0.5" fill="none"/>
</g>
<line x1="258.5" y1="325.5" x2="315.5" y2="325.5" stroke="#bbb" stroke-width=".9"/>
<line x1="258.5" y1="378.6" x2="315.5" y2="378.6" stroke="#999" stroke-width=".9"/>
<line x1="258.5" y1="325.5" x2="258.5" y2="378.6" stroke="#666" stroke-width=".9"/>
<line x1="315.5" y1="325.5" x2="315.5" y2="378.6" stroke="#888" stroke-width=".9"/>
<rect x="263.5" y="332.1" width="32.0" height="24.5" fill="none" stroke="#7c7c7c" stroke-width=".85"/>
<text x="264.3" y="335.70000000000005" font-size="3.4" fill="#777">F</text>
<text x="256.3" y="328.7" font-size="7.8" text-anchor="end" fill="#2a2a2a" stroke="#2a2a2a" stroke-width=".12" letter-spacing=".6">10<tspan dx="-.4" dy="-2.9" font-size="5.2" letter-spacing="0">3</tspan></text>
<text x="256.3" y="341.8" font-size="7.8" text-anchor="end" fill="#2a2a2a" stroke="#2a2a2a" stroke-width=".12" letter-spacing=".6">10<tspan dx="-.4" dy="-2.9" font-size="5.2" letter-spacing="0">2</tspan></text>
<text x="256.3" y="354.7" font-size="7.8" text-anchor="end" fill="#2a2a2a" stroke="#2a2a2a" stroke-width=".12" letter-spacing=".6">10<tspan dx="-.4" dy="-2.9" font-size="5.2" letter-spacing="0">1</tspan></text>
<text x="256.3" y="367.6" font-size="7.8" text-anchor="end" fill="#2a2a2a" stroke="#2a2a2a" stroke-width=".12" letter-spacing=".6">10<tspan dx="-.4" dy="-2.9" font-size="5.2" letter-spacing="0">0</tspan></text>
<text x="273.4" y="390.5" font-size="7.8" text-anchor="middle" fill="#2a2a2a" stroke="#2a2a2a" stroke-width=".12" letter-spacing=".6">10<tspan dx="-.4" dy="-2.9" font-size="5.2" letter-spacing="0">0</tspan></text>
<text x="287.4" y="390.5" font-size="7.8" text-anchor="middle" fill="#2a2a2a" stroke="#2a2a2a" stroke-width=".12" letter-spacing=".6">10<tspan dx="-.4" dy="-2.9" font-size="5.2" letter-spacing="0">1</tspan></text>
<text x="301.4" y="390.5" font-size="7.8" text-anchor="middle" fill="#2a2a2a" stroke="#2a2a2a" stroke-width=".12" letter-spacing=".6">10<tspan dx="-.4" dy="-2.9" font-size="5.2" letter-spacing="0">2</tspan></text>
<text x="315.4" y="390.5" font-size="7.8" text-anchor="middle" fill="#2a2a2a" stroke="#2a2a2a" stroke-width=".12" letter-spacing=".6">10<tspan dx="-.4" dy="-2.9" font-size="5.2" letter-spacing="0">3</tspan></text>
<text x="291.2" y="344.2" font-size="8.4" fill="#222" stroke="#222" stroke-width=".2">0.04%</text>
<text transform="translate(238.6,353.05) rotate(-90) scale(0.66,1)" font-size="9" font-weight="bold" text-anchor="middle" fill="#2a2a2a">hCD45</text>
<clipPath id="c354_14"><rect x="354.5" y="14.5" width="57" height="52.3"/></clipPath>
<g clip-path="url(#c354_14)">
<path d="M384.1 32.9h.9M379.3 37.7h.9M377.7 33.4h.9M370.6 39.2h.9M380.0 33.1h.9M374.9 34.7h.9M380.8 28.5h.9M388.6 28.2h.9M371.3 40.9h.9M381.0 31.7h.9M381.0 33.4h.9M380.2 31.2h.9M380.2 35.2h.9M383.0 35.1h.9M382.5 35.7h.9M378.0 33.8h.9M380.5 36.2h.9M375.6 39.5h.9M373.5 38.7h.9M375.6 38.5h.9M375.5 38.8h.9M385.9 29.9h.9M379.2 42.2h.9M377.1 35.8h.9M387.7 25.5h.9M379.3 34.5h.9M386.8 27.0h.9M376.1 39.1h.9M379.7 33.5h.9M380.9 33.8h.9M378.4 33.3h.9M381.7 31.1h.9M383.2 38.8h.9M377.5 37.0h.9M375.7 35.1h.9M377.3 34.8h.9M377.4 36.7h.9M381.4 34.3h.9M379.8 31.9h.9M382.7 32.5h.9M376.6 40.3h.9M376.6 33.1h.9M374.5 38.5h.9M377.4 37.1h.9M382.8 31.5h.9M378.4 34.5h.9M377.6 44.5h.9M377.7 37.2h.9M378.3 35.2h.9M383.4 33.7h.9M376.3 34.9h.9M378.1 36.8h.9M383.7 31.8h.9M378.3 33.5h.9M375.6 32.3h.9M380.9 32.3h.9M380.5 33.2h.9M373.3 39.4h.9M377.2 37.4h.9M378.1 34.8h.9M384.4 34.6h.9M378.6 38.1h.9M380.3 30.5h.9M371.5 43.2h.9M375.0 38.1h.9M376.5 39.3h.9M391.0 30.4h.9M381.9 32.7h.9M380.5 29.4h.9M384.9 28.7h.9M379.8 31.4h.9M378.3 31.9h.9M382.5 31.4h.9M373.7 42.5h.9M387.0 21.9h.9M374.7 39.4h.9M380.0 32.2h.9M383.2 31.9h.9M376.0 36.3h.9M383.8 32.7h.9M371.3 41.2h.9M386.7 24.3h.9M381.4 32.9h.9M378.7 35.6h.9M376.6 38.4h.9M384.9 25.0h.9M381.9 30.7h.9M382.2 35.1h.9M378.5 34.7h.9M382.5 32.3h.9M377.9 37.4h.9M374.0 36.2h.9M380.2 35.1h.9M374.0 38.3h.9M379.2 32.3h.9M379.3 38.7h.9M382.5 32.4h.9M374.8 36.4h.9M380.3 30.9h.9M378.6 36.2h.9M383.2 26.2h.9M389.9 26.9h.9" stroke="#7070c0" stroke-width=".9" stroke-opacity="0.45" fill="none"/>
<path d="M373.9 38.5h.9M378.0 37.4h.9M372.3 39.2h.9M375.4 34.2h.9M389.4 28.3h.9M372.3 41.7h.9M377.9 31.6h.9M386.1 24.6h.9M380.6 28.9h.9M378.2 37.6h.9M379.5 25.8h.9M368.7 40.3h.9M366.2 48.9h.9M392.8 26.5h.9M378.5 33.3h.9M374.7 32.6h.9M379.2 32.0h.9" stroke="#7070c0" stroke-width=".8" stroke-opacity="0.25" fill="none"/>
<ellipse cx="379.4" cy="34.4" rx="6.8" ry="3" transform="rotate(-45 379.4 34.4)" fill="#262682" fill-opacity="0.95" filter="url(#bl)"/>
<ellipse cx="379.4" cy="34.4" rx="4.90" ry="2.16" transform="rotate(-45 379.4 34.4)" fill="#262682" fill-opacity="0.76"/>
<path d="M381.6 33.8h.9M377.1 35.7h.9M381.1 31.9h.9M378.6 36.4h.9M379.0 37.9h.9M379.3 33.9h.9M381.4 33.8h.9M378.5 35.8h.9M377.0 36.8h.9M379.9 32.1h.9M380.2 33.8h.9M380.8 29.6h.9M376.3 35.1h.9M380.1 36.2h.9M384.6 30.0h.9M374.0 36.9h.9M374.4 35.0h.9M380.4 32.1h.9M382.3 34.3h.9M380.4 34.2h.9M374.8 38.5h.9M378.4 31.8h.9M382.2 29.5h.9M381.6 33.6h.9M379.8 36.4h.9M378.1 36.6h.9M379.0 34.5h.9M375.2 38.1h.9M380.4 34.0h.9M377.0 34.1h.9M376.3 39.5h.9M379.2 33.5h.9M377.1 35.0h.9M378.4 34.4h.9" stroke="#262682" stroke-width=".9" stroke-opacity="0.5" fill="none"/>
<path d="M386.6 46.3h.9M374.5 55.2h.9M386.4 43.4h.9M377.0 58.5h.9M380.2 49.3h.9M371.8 48.4h.9M381.9 53.0h.9M373.0 60.4h.9M392.4 44.0h.9M374.0 53.2h.9M374.7 54.8h.9M383.5 47.8h.9M372.3 53.1h.9M381.0 48.8h.9M379.4 49.2h.9M380.5 55.2h.9M383.8 45.3h.9M374.4 55.8h.9M395.3 47.5h.9M376.0 49.1h.9M379.3 47.2h.9M383.8 41.9h.9M389.1 43.3h.9M375.4 54.9h.9M380.1 49.7h.9M374.7 61.3h.9M381.8 42.2h.9M392.0 45.7h.9M382.4 46.3h.9M380.5 44.4h.9M377.5 55.4h.9M387.8 47.8h.9M372.7 51.3h.9M376.5 55.3h.9M390.4 39.8h.9M391.7 45.7h.9M386.2 47.4h.9M393.5 39.7h.9M384.3 47.6h.9M389.2 45.0h.9M391.5 42.9h.9M389.7 41.1h.9M378.1 57.5h.9M377.4 50.6h.9M389.9 44.6h.9M386.3 36.3h.9M374.9 54.4h.9M374.6 52.2h.9M386.1 39.6h.9M385.7 49.1h.9" stroke="#f07070" stroke-width=".8" stroke-opacity="0.35" fill="none"/>
<path d="M378.6 59.0h.9M362.8 66.6h.9M378.2 56.3h.9M365.1 61.7h.9M373.3 55.7h.9M369.3 60.4h.9M371.5 62.4h.9M368.7 56.5h.9M368.7 61.5h.9M361.7 51.3h.9M377.3 50.9h.9M371.0 57.7h.9M368.5 63.4h.9M373.6 60.2h.9M364.2 58.4h.9M373.3 54.0h.9M374.6 59.7h.9M364.4 51.7h.9M377.9 60.8h.9M364.8 63.5h.9M366.9 65.1h.9M376.7 59.5h.9M374.1 60.9h.9M366.1 57.8h.9M363.8 60.3h.9M367.5 60.0h.9M366.7 66.4h.9M358.7 60.7h.9M371.9 58.6h.9M374.7 59.7h.9M359.0 62.9h.9M371.9 56.7h.9M371.1 58.0h.9M372.0 54.1h.9M376.7 64.1h.9M372.9 58.3h.9M371.8 57.8h.9M362.5 56.0h.9M361.7 62.2h.9M375.3 55.0h.9M372.7 58.1h.9M369.9 55.2h.9M378.2 64.7h.9M374.4 60.3h.9M374.1 64.0h.9M373.9 56.5h.9M372.2 55.4h.9M367.3 57.8h.9M374.1 64.8h.9M370.9 66.7h.9M372.3 64.2h.9M365.4 57.4h.9M375.9 64.7h.9M366.4 66.3h.9M371.0 57.9h.9M372.2 61.1h.9M367.0 65.2h.9M366.3 55.2h.9M360.4 62.6h.9M371.7 59.0h.9M364.9 61.8h.9M377.1 51.3h.9M364.6 58.8h.9M362.6 56.4h.9M374.0 57.4h.9M370.0 66.7h.9M365.8 55.2h.9M377.2 60.7h.9M371.5 60.5h.9M360.7 65.2h.9M378.5 53.7h.9M365.8 56.1h.9M367.5 62.6h.9M364.2 58.6h.9M360.0 64.6h.9M371.3 45.5h.9M372.7 54.8h.9M377.5 49.4h.9M368.5 62.3h.9M362.9 65.2h.9M366.1 52.1h.9M367.3 59.4h.9M368.6 63.9h.9M376.9 66.6h.9M370.8 66.4h.9M373.5 59.5h.9M374.2 54.8h.9M367.7 65.7h.9M366.4 63.9h.9M378.4 60.6h.9M374.6 57.3h.9M378.3 56.2h.9M368.4 63.6h.9M369.3 66.1h.9M369.1 53.2h.9M375.3 66.1h.9M372.5 59.5h.9M374.1 64.3h.9M370.2 66.4h.9M375.0 66.4h.9M369.8 61.6h.9M375.1 59.2h.9M363.4 53.4h.9M380.1 57.5h.9M362.8 63.8h.9M374.9 63.9h.9M369.2 52.5h.9M375.9 61.2h.9M361.3 57.6h.9M368.4 60.8h.9M357.3 65.3h.9M366.4 61.9h.9M362.8 50.1h.9M372.5 63.5h.9M367.0 66.5h.9M371.3 64.6h.9M366.2 65.2h.9M367.6 66.7h.9M378.7 51.0h.9M364.8 61.2h.9M365.3 61.6h.9M372.4 60.4h.9M366.3 60.7h.9M372.4 66.4h.9M355.7 57.3h.9M366.0 63.2h.9M368.6 58.9h.9M367.2 57.3h.9M365.4 53.7h.9M362.5 66.5h.9M378.6 64.4h.9M364.4 66.6h.9M370.0 57.6h.9M355.1 62.0h.9M374.2 60.0h.9M370.7 62.1h.9M368.5 63.4h.9M368.1 58.5h.9M369.8 54.3h.9M375.9 57.2h.9M366.3 62.9h.9M376.9 54.5h.9M366.3 59.3h.9M369.6 60.3h.9M368.1 52.6h.9M364.2 66.4h.9M376.6 61.2h.9M369.3 58.3h.9M374.2 58.3h.9M377.3 54.2h.9M371.1 56.6h.9M375.6 62.8h.9M374.0 59.2h.9M364.2 61.2h.9M374.4 66.7h.9M364.8 57.6h.9M368.6 57.6h.9M361.0 61.1h.9M369.2 65.0h.9M375.7 59.5h.9M373.7 52.8h.9M370.7 56.4h.9M376.4 66.7h.9M366.5 65.9h.9M371.2 66.7h.9M376.2 61.3h.9M376.5 60.3h.9M368.1 66.6h.9M363.7 62.3h.9M371.1 57.7h.9M369.2 62.2h.9M366.6 58.0h.9M360.2 61.9h.9M370.4 59.6h.9M377.0 56.6h.9M375.3 65.7h.9M358.9 59.0h.9M369.1 66.3h.9M369.0 58.1h.9M367.5 60.0h.9M368.4 60.1h.9M368.9 63.3h.9M360.5 60.6h.9M367.2 59.1h.9M370.8 60.7h.9M375.3 56.8h.9M366.0 58.6h.9M379.9 53.3h.9M367.3 64.3h.9M366.4 59.0h.9M374.3 63.7h.9M371.4 62.0h.9M378.5 56.1h.9M373.2 66.5h.9M363.9 52.8h.9M359.3 57.5h.9M372.2 62.0h.9M367.0 59.1h.9M370.5 66.7h.9M369.3 56.8h.9M369.0 60.2h.9M359.2 64.4h.9M370.6 59.2h.9M366.7 59.2h.9M377.2 66.6h.9M370.8 59.2h.9M363.6 56.4h.9M375.9 60.3h.9M368.0 62.2h.9M365.7 61.8h.9M364.4 57.8h.9M380.2 65.5h.9M368.0 57.2h.9M368.5 62.2h.9M369.0 55.5h.9M373.2 57.4h.9M364.7 60.5h.9M373.4 63.1h.9M373.4 58.8h.9M370.6 57.9h.9M363.6 63.1h.9M369.8 58.8h.9M366.6 62.6h.9M371.8 50.8h.9M376.0 65.3h.9M368.5 63.0h.9M374.1 65.4h.9M373.7 61.1h.9M385.5 63.6h.9M366.6 66.7h.9" stroke="#f25a50" stroke-width=".9" stroke-opacity="0.45" fill="none"/>
<path d="M370.0 50.8h.9M378.2 52.9h.9M361.7 59.9h.9M370.0 60.8h.9M364.0 56.0h.9M364.0 57.7h.9M373.1 65.7h.9M377.5 66.2h.9M355.1 55.5h.9M361.7 62.8h.9M361.0 62.7h.9M380.2 56.1h.9M369.3 66.3h.9M363.3 57.1h.9M376.8 58.0h.9M377.0 51.9h.9M373.5 63.3h.9M358.8 56.4h.9M365.3 64.3h.9M365.3 60.9h.9M360.3 66.7h.9M377.0 63.2h.9M366.9 61.7h.9M357.8 60.6h.9M354.7 54.7h.9M370.2 66.6h.9M377.3 66.8h.9M384.3 61.2h.9M375.9 58.0h.9M374.3 61.2h.9M354.6 59.4h.9M382.8 53.1h.9M374.4 66.3h.9M368.2 62.6h.9M365.7 54.0h.9M377.4 59.8h.9M366.0 66.8h.9M375.4 66.1h.9" stroke="#f25a50" stroke-width=".8" stroke-opacity="0.25" fill="none"/>
<ellipse cx="369.6" cy="60.3" rx="7" ry="6.6" transform="rotate(0 369.6 60.3)" fill="#e8120c" fill-opacity="0.95" filter="url(#bl)"/>
<ellipse cx="369.6" cy="60.3" rx="5.04" ry="4.75" transform="rotate(0 369.6 60.3)" fill="#e8120c" fill-opacity="0.76"/>
<path d="M366.4 60.8h.9M372.5 64.3h.9M371.6 60.1h.9M365.9 63.4h.9M369.8 59.6h.9M368.4 59.2h.9M374.7 62.5h.9M369.9 63.0h.9M371.8 63.7h.9M371.0 66.3h.9M372.0 64.7h.9M373.4 66.1h.9M365.8 58.2h.9M374.1 56.4h.9M371.5 60.5h.9M371.4 61.0h.9M370.6 55.8h.9M371.7 62.3h.9M368.4 57.0h.9M376.1 59.2h.9M372.8 58.8h.9M369.7 61.9h.9M366.6 59.7h.9M373.7 66.0h.9M374.6 63.6h.9M371.3 62.1h.9M376.6 61.0h.9M368.0 61.8h.9M372.9 60.7h.9M371.5 62.3h.9M370.7 62.5h.9M373.1 62.3h.9M373.1 63.0h.9M370.9 59.4h.9M372.0 59.0h.9M368.8 63.5h.9M374.2 58.5h.9M367.9 60.6h.9M366.8 58.8h.9M374.2 62.8h.9M365.2 58.8h.9M373.0 58.1h.9M366.7 63.5h.9M367.9 60.4h.9M374.5 60.7h.9M374.3 60.9h.9M366.8 66.3h.9M369.8 58.4h.9M366.4 62.4h.9M363.5 56.2h.9M369.1 61.8h.9M367.4 61.1h.9M360.0 58.2h.9M368.0 60.0h.9M367.8 55.8h.9M367.6 60.0h.9M369.2 64.5h.9M369.6 58.5h.9M368.9 61.3h.9M373.8 60.5h.9M372.2 65.7h.9M372.5 59.2h.9M369.5 60.3h.9M370.3 63.1h.9M375.9 64.7h.9M373.6 61.2h.9M364.4 66.7h.9M379.0 59.9h.9M371.5 60.1h.9M371.1 63.2h.9M368.4 66.0h.9M365.1 59.0h.9M362.9 63.3h.9M368.7 61.4h.9M365.5 60.6h.9M369.5 63.3h.9" stroke="#e8120c" stroke-width=".9" stroke-opacity="0.5" fill="none"/>
</g>
<line x1="354.5" y1="14.5" x2="411.5" y2="14.5" stroke="#bbb" stroke-width=".9"/>
<line x1="354.5" y1="66.8" x2="411.5" y2="66.8" stroke="#999" stroke-width=".9"/>
<line x1="354.5" y1="14.5" x2="354.5" y2="66.8" stroke="#666" stroke-width=".9"/>
<line x1="411.5" y1="14.5" x2="411.5" y2="66.8" stroke="#888" stroke-width=".9"/>
<line x1="376.8" y1="14.5" x2="376.8" y2="66.8" stroke="#888" stroke-width=".9"/>
<line x1="354.5" y1="44.3" x2="411.5" y2="44.3" stroke="#999" stroke-width=".9"/>
<rect x="400.8" y="59.599999999999994" width="6" height="3" rx="1.2" fill="none" stroke="#aaa" stroke-width=".5"/>
<text x="401.7" y="62.0" font-size="2.4" fill="#999">Q-4</text>
<text x="355.5" y="17.9" font-size="2.6" fill="#aaa">Q- -</text>
<text x="377.8" y="17.9" font-size="2.6" fill="#aaa">Q- -</text>
<text x="355.5" y="47.699999999999996" font-size="2.6" fill="#aaa">Q- -</text>
<text x="377.8" y="47.699999999999996" font-size="2.6" fill="#aaa">Q- -</text>
<text x="352.3" y="17.7" font-size="7.8" text-anchor="end" fill="#2a2a2a" stroke="#2a2a2a" stroke-width=".12" letter-spacing=".6">10<tspan dx="-.4" dy="-2.9" font-size="5.2" letter-spacing="0">3</tspan></text>
<text x="352.3" y="30.8" font-size="7.8" text-anchor="end" fill="#2a2a2a" stroke="#2a2a2a" stroke-width=".12" letter-spacing=".6">10<tspan dx="-.4" dy="-2.9" font-size="5.2" letter-spacing="0">2</tspan></text>
<text x="352.3" y="43.699999999999996" font-size="7.8" text-anchor="end" fill="#2a2a2a" stroke="#2a2a2a" stroke-width=".12" letter-spacing=".6">10<tspan dx="-.4" dy="-2.9" font-size="5.2" letter-spacing="0">1</tspan></text>
<text x="352.3" y="56.599999999999994" font-size="7.8" text-anchor="end" fill="#2a2a2a" stroke="#2a2a2a" stroke-width=".12" letter-spacing=".6">10<tspan dx="-.4" dy="-2.9" font-size="5.2" letter-spacing="0">0</tspan></text>
<text x="369.4" y="78.7" font-size="7.8" text-anchor="middle" fill="#2a2a2a" stroke="#2a2a2a" stroke-width=".12" letter-spacing=".6">10<tspan dx="-.4" dy="-2.9" font-size="5.2" letter-spacing="0">0</tspan></text>
<text x="383.4" y="78.7" font-size="7.8" text-anchor="middle" fill="#2a2a2a" stroke="#2a2a2a" stroke-width=".12" letter-spacing=".6">10<tspan dx="-.4" dy="-2.9" font-size="5.2" letter-spacing="0">1</tspan></text>
<text x="397.4" y="78.7" font-size="7.8" text-anchor="middle" fill="#2a2a2a" stroke="#2a2a2a" stroke-width=".12" letter-spacing=".6">10<tspan dx="-.4" dy="-2.9" font-size="5.2" letter-spacing="0">2</tspan></text>
<text x="411.4" y="78.7" font-size="7.8" text-anchor="middle" fill="#2a2a2a" stroke="#2a2a2a" stroke-width=".12" letter-spacing=".6">10<tspan dx="-.4" dy="-2.9" font-size="5.2" letter-spacing="0">3</tspan></text>
<text x="391.6" y="29.4" font-size="8.4" fill="#222" stroke="#222" stroke-width=".2">20%</text>
<text transform="translate(334.6,41.65) rotate(-90) scale(0.66,1)" font-size="9" font-weight="bold" text-anchor="middle" fill="#2a2a2a">hCD45</text>
<clipPath id="c354_93"><rect x="354.5" y="93.3" width="57" height="52.000000000000014"/></clipPath>
<g clip-path="url(#c354_93)">
<path d="M383.5 112.5h.9M380.9 108.1h.9M384.4 110.3h.9M387.6 109.4h.9M372.1 117.9h.9M374.8 118.6h.9M380.5 114.3h.9M385.2 103.1h.9M386.0 114.1h.9M379.9 112.2h.9M379.9 109.3h.9M385.7 113.4h.9M382.2 108.0h.9M383.1 110.0h.9M380.2 110.8h.9M388.2 103.1h.9M383.0 117.4h.9M381.5 113.3h.9M388.4 108.0h.9M386.9 108.9h.9M378.2 115.0h.9M376.4 114.9h.9M381.3 110.0h.9M370.4 120.1h.9M380.4 110.2h.9M378.5 112.0h.9M382.6 110.3h.9M386.4 110.1h.9M375.7 117.0h.9M380.1 113.7h.9M377.7 109.4h.9M381.8 119.2h.9M380.6 114.8h.9M381.8 112.6h.9M379.7 112.6h.9M389.0 110.4h.9M379.2 112.2h.9M376.6 124.2h.9M382.9 107.9h.9M371.3 112.6h.9M375.5 117.9h.9M378.4 110.8h.9M386.1 107.7h.9M374.0 117.7h.9M383.4 122.5h.9M389.0 112.4h.9M385.4 113.0h.9M383.9 105.9h.9M376.8 114.6h.9M378.9 115.9h.9M375.0 118.8h.9M384.1 110.8h.9M389.3 103.2h.9M383.3 116.9h.9M380.9 105.9h.9M379.0 114.3h.9M375.5 113.6h.9M375.0 119.9h.9M380.5 116.7h.9M385.4 105.7h.9M380.5 110.2h.9M377.0 117.6h.9M383.7 107.9h.9M385.5 117.5h.9M382.1 113.9h.9M383.4 114.3h.9M378.2 116.3h.9M378.1 108.6h.9M388.0 113.5h.9M381.5 111.4h.9M380.7 108.2h.9M377.7 121.9h.9M382.6 110.9h.9M380.9 112.0h.9M378.3 115.2h.9M387.7 109.5h.9M383.3 111.9h.9M376.4 117.3h.9M379.7 112.2h.9M371.9 112.9h.9M382.2 107.5h.9M386.1 117.4h.9M380.0 108.9h.9M379.0 115.5h.9M380.0 106.3h.9M381.8 112.2h.9M379.9 116.4h.9M380.3 110.8h.9M377.5 108.1h.9M378.0 118.9h.9M388.4 112.7h.9M383.7 105.8h.9M389.0 109.7h.9M370.3 113.9h.9M377.2 107.3h.9M385.4 109.9h.9M380.6 117.2h.9M379.9 115.8h.9M369.5 118.8h.9M370.3 116.1h.9M380.0 114.8h.9M372.7 116.5h.9M379.9 109.4h.9M370.7 120.3h.9M381.9 114.0h.9M384.7 114.0h.9M378.4 106.8h.9M383.7 113.8h.9M384.5 115.1h.9M381.5 110.8h.9M373.0 113.5h.9M386.6 113.1h.9M380.6 111.2h.9M378.6 113.4h.9M379.1 111.0h.9M381.8 113.1h.9M390.9 106.2h.9M379.7 112.1h.9M376.5 116.3h.9M379.4 118.6h.9M377.0 118.0h.9M386.1 104.1h.9M377.0 120.7h.9M384.4 118.3h.9M378.8 110.0h.9M385.6 106.4h.9M387.4 111.8h.9M389.0 107.1h.9M376.3 110.3h.9M377.0 117.4h.9M383.6 104.9h.9M380.2 112.9h.9M372.9 109.5h.9M377.1 117.7h.9M384.0 111.6h.9M381.6 107.4h.9M370.7 116.4h.9M385.9 103.4h.9M378.2 111.3h.9M382.4 106.2h.9M375.6 110.7h.9M382.7 111.5h.9M378.5 113.0h.9M378.4 111.9h.9M393.1 107.4h.9M384.6 110.3h.9M376.1 119.8h.9M383.3 111.8h.9M384.5 114.9h.9M389.3 102.9h.9M382.9 111.0h.9M379.3 113.1h.9M378.4 116.8h.9M387.9 115.7h.9M372.4 119.4h.9M384.7 121.5h.9M381.1 111.9h.9M373.7 113.0h.9M370.6 115.6h.9M388.2 113.5h.9M367.9 122.0h.9M379.7 115.8h.9M369.6 117.2h.9M384.9 113.9h.9M373.8 109.9h.9M380.9 116.0h.9M377.5 112.9h.9M382.9 111.4h.9" stroke="#7070c0" stroke-width=".9" stroke-opacity="0.45" fill="none"/>
<path d="M373.9 124.8h.9M382.0 106.9h.9M393.0 109.8h.9M405.0 103.5h.9M379.3 109.5h.9M384.1 112.7h.9M382.7 107.6h.9M368.1 116.4h.9M384.8 114.5h.9M382.5 117.5h.9M381.6 109.2h.9M381.2 109.4h.9M373.9 116.4h.9M382.6 115.0h.9M371.5 105.5h.9M384.6 113.1h.9M377.5 114.7h.9M368.1 114.2h.9M388.0 108.6h.9M383.7 107.4h.9M388.1 108.2h.9M368.6 119.6h.9M378.6 114.8h.9M371.4 114.0h.9M373.1 118.3h.9M387.8 111.3h.9M394.4 110.5h.9M378.4 109.8h.9" stroke="#7070c0" stroke-width=".8" stroke-opacity="0.25" fill="none"/>
<ellipse cx="380.6" cy="112.8" rx="8" ry="4.2" transform="rotate(-38 380.6 112.8)" fill="#262682" fill-opacity="0.95" filter="url(#bl)"/>
<ellipse cx="380.6" cy="112.8" rx="5.76" ry="3.02" transform="rotate(-38 380.6 112.8)" fill="#262682" fill-opacity="0.76"/>
<path d="M378.7 112.3h.9M378.1 113.0h.9M378.7 110.9h.9M381.2 117.4h.9M374.2 122.5h.9M379.7 113.7h.9M379.2 113.1h.9M382.0 110.6h.9M378.6 114.3h.9M378.9 113.9h.9M382.6 112.2h.9M379.1 110.2h.9M383.3 113.6h.9M379.7 114.6h.9M383.8 112.9h.9M383.1 111.5h.9M381.8 109.7h.9M382.4 110.7h.9M376.3 112.4h.9M377.5 115.5h.9M374.9 116.1h.9M378.5 114.3h.9M377.5 115.7h.9M378.3 115.0h.9M381.4 109.5h.9M382.0 112.1h.9M380.5 106.0h.9M381.7 110.4h.9M382.6 111.2h.9M380.8 111.7h.9M384.3 115.3h.9M378.8 114.5h.9M383.7 114.5h.9M380.7 114.2h.9M378.0 116.5h.9M377.6 111.5h.9M380.8 113.9h.9M377.4 113.8h.9M379.1 112.5h.9M380.7 110.4h.9M381.6 110.4h.9M385.5 106.2h.9M382.3 109.5h.9M380.7 112.0h.9M378.5 112.1h.9M382.8 113.5h.9M375.7 113.0h.9M384.0 107.5h.9M378.1 115.5h.9M382.9 114.7h.9M382.7 114.9h.9M382.3 112.0h.9M377.5 116.6h.9M376.1 118.3h.9M386.7 109.4h.9M383.7 111.0h.9" stroke="#262682" stroke-width=".9" stroke-opacity="0.5" fill="none"/>
<path d="M393.9 109.0h.9M392.9 110.0h.9M394.1 108.3h.9M393.8 111.3h.9M395.5 109.5h.9M394.9 108.9h.9M394.5 107.4h.9M394.5 110.6h.9M394.7 108.7h.9M398.7 109.4h.9M397.1 108.5h.9M396.5 110.2h.9M395.0 110.5h.9" stroke="#7070c0" stroke-width=".9" stroke-opacity="0.45" fill="none"/>
<path d="M398.3 103.9h.9M400.5 110.6h.9" stroke="#7070c0" stroke-width=".8" stroke-opacity="0.25" fill="none"/>
<ellipse cx="395.5" cy="108.7" rx="2.2" ry="2" transform="rotate(0 395.5 108.7)" fill="#262682" fill-opacity="0.3" filter="url(#bl)"/>
<path d="M397.0 110.7h.9M396.4 108.9h.9M396.7 108.0h.9M393.9 108.5h.9" stroke="#262682" stroke-width=".9" stroke-opacity="0.5" fill="none"/>
<path d="M383.3 125.3h.9M382.2 129.0h.9M372.6 134.0h.9M383.4 123.2h.9M380.9 121.1h.9M380.5 124.2h.9M371.4 130.8h.9M373.8 136.1h.9M385.6 116.3h.9M372.0 133.7h.9M384.6 121.6h.9M380.8 126.1h.9M377.3 126.5h.9M373.4 134.7h.9M378.1 129.8h.9M377.7 128.7h.9M391.6 118.9h.9M390.3 118.2h.9M373.0 129.7h.9M382.8 123.8h.9M378.1 128.8h.9M381.5 125.2h.9M372.4 133.6h.9M384.2 123.4h.9M378.5 129.4h.9M383.4 123.9h.9M373.9 135.9h.9M375.2 132.6h.9M383.5 124.4h.9M381.0 133.1h.9M382.0 122.4h.9M382.6 123.8h.9M377.5 130.8h.9M383.2 120.9h.9M383.6 120.6h.9M383.5 123.6h.9M369.9 134.1h.9M380.7 130.7h.9M388.0 122.4h.9M371.0 136.2h.9M385.8 120.6h.9M383.1 127.0h.9M384.8 127.6h.9M380.1 134.9h.9M375.9 126.9h.9M389.2 121.6h.9M382.3 134.3h.9M385.0 125.3h.9M382.0 129.2h.9M378.7 131.8h.9" stroke="#f07070" stroke-width=".8" stroke-opacity="0.35" fill="none"/>
<path d="M369.2 141.7h.9M366.5 138.8h.9M369.4 140.1h.9M354.6 137.6h.9M355.7 144.8h.9M364.9 138.4h.9M373.8 135.4h.9M361.7 135.5h.9M370.1 141.5h.9M365.8 144.0h.9M376.0 134.5h.9M367.9 136.9h.9M366.1 141.9h.9M359.9 130.5h.9M372.7 138.6h.9M371.7 136.1h.9M372.0 140.5h.9M373.3 138.3h.9M361.2 134.5h.9M366.8 143.4h.9M361.6 143.1h.9M370.2 134.4h.9M364.7 141.2h.9M370.4 142.9h.9M364.8 139.3h.9M371.0 144.9h.9M367.1 144.9h.9M370.2 137.1h.9M372.0 141.2h.9M371.4 145.2h.9M372.7 144.9h.9M377.0 141.3h.9M360.7 135.0h.9M354.9 131.2h.9M364.3 138.3h.9M366.5 145.0h.9M370.0 144.7h.9M368.9 137.1h.9M370.8 144.7h.9M360.3 140.0h.9M369.5 138.0h.9M376.9 143.0h.9M372.1 139.6h.9M366.2 131.2h.9M364.5 144.0h.9M364.2 139.6h.9M355.6 136.9h.9M367.0 140.0h.9M363.3 138.9h.9M371.5 145.1h.9M370.7 145.2h.9M361.1 144.4h.9M369.7 140.0h.9M368.3 144.1h.9M362.1 145.1h.9M367.4 145.0h.9M362.1 140.7h.9M365.9 133.3h.9M372.7 131.9h.9M371.2 140.0h.9M370.0 136.5h.9M366.9 143.0h.9M362.7 141.2h.9M368.3 136.4h.9M367.8 143.7h.9M366.1 133.6h.9M363.7 137.3h.9M368.7 134.7h.9M371.2 135.1h.9M369.5 134.0h.9M366.4 142.7h.9M365.2 145.3h.9M365.3 132.0h.9M366.9 144.9h.9M362.7 141.5h.9M368.3 144.3h.9M367.0 144.9h.9M361.0 140.7h.9M360.6 139.1h.9M358.4 138.1h.9M362.6 145.3h.9M368.0 144.7h.9M366.8 142.3h.9M370.5 144.9h.9M362.8 138.6h.9M374.0 138.1h.9M367.1 133.2h.9M359.5 138.3h.9M364.1 140.2h.9M373.9 133.4h.9M366.5 137.5h.9M366.8 140.8h.9M361.5 137.0h.9M354.7 145.2h.9M362.5 145.3h.9M360.6 136.8h.9M359.2 144.7h.9M366.0 141.2h.9M354.6 140.4h.9M368.5 138.0h.9M369.3 139.4h.9M374.2 144.0h.9M360.2 137.8h.9M368.8 135.9h.9M368.3 143.6h.9M364.2 141.5h.9M364.9 143.5h.9M354.9 140.0h.9M366.4 137.6h.9M374.6 132.5h.9M368.5 135.0h.9M358.9 139.0h.9M357.0 139.0h.9M380.5 143.9h.9M368.9 132.7h.9M354.6 137.3h.9M360.2 141.9h.9M359.7 137.8h.9M379.7 135.1h.9M371.4 143.1h.9M380.7 133.6h.9M363.4 138.9h.9M369.7 140.0h.9M374.7 142.3h.9M361.3 142.0h.9M376.2 141.8h.9M366.2 145.0h.9M363.2 142.5h.9M374.5 142.0h.9M367.6 145.1h.9M376.4 142.6h.9M380.4 138.0h.9M359.2 141.7h.9M367.4 144.8h.9M379.5 143.8h.9M368.2 145.1h.9M358.5 139.9h.9M366.4 144.8h.9M371.1 142.3h.9M368.9 137.2h.9M361.2 139.6h.9M366.8 143.1h.9M371.7 139.6h.9M367.9 134.2h.9M373.5 130.6h.9M365.5 138.3h.9M363.7 145.0h.9M368.8 144.8h.9M367.2 133.9h.9M374.7 139.2h.9M370.1 144.9h.9M376.3 144.7h.9M363.4 143.6h.9M369.7 132.2h.9M363.0 141.3h.9M372.1 138.4h.9M366.3 127.1h.9M379.1 133.6h.9M368.7 144.8h.9M360.2 144.8h.9M362.2 139.0h.9M359.5 139.8h.9M368.0 142.7h.9M372.3 140.9h.9M360.2 139.3h.9M357.2 132.9h.9M365.0 144.0h.9M363.1 140.2h.9M370.4 139.3h.9M363.9 144.0h.9M368.5 144.1h.9M361.1 140.3h.9M369.6 136.9h.9M370.1 144.9h.9M361.6 143.6h.9M368.0 144.9h.9M357.4 139.3h.9M371.4 144.9h.9M368.1 140.8h.9M364.6 145.2h.9M370.6 144.6h.9M369.8 136.6h.9M375.7 142.8h.9M371.0 135.3h.9M374.3 145.0h.9M374.0 137.0h.9M354.6 138.8h.9M367.8 135.6h.9M364.9 132.9h.9M367.1 137.2h.9M361.7 142.3h.9M362.0 145.2h.9M364.7 139.1h.9M365.3 145.0h.9M368.5 142.3h.9M365.9 138.3h.9M356.2 140.4h.9M375.4 141.6h.9M369.7 143.4h.9M369.7 134.1h.9M370.6 140.0h.9M368.5 143.5h.9M368.6 138.1h.9M361.4 134.6h.9M379.0 144.8h.9M377.2 130.7h.9M364.6 139.8h.9M363.5 143.6h.9M360.9 136.5h.9M371.5 134.4h.9M361.9 139.1h.9M371.1 141.1h.9M366.5 138.4h.9M366.6 142.7h.9M377.5 132.9h.9M368.0 132.6h.9M376.8 130.2h.9M366.9 144.4h.9M369.4 140.7h.9M366.1 139.3h.9M358.3 141.2h.9M363.6 145.2h.9M368.4 143.3h.9M366.8 144.6h.9M365.5 136.5h.9M366.0 138.2h.9M368.7 144.1h.9M369.3 136.8h.9M368.9 141.7h.9M364.2 139.0h.9M365.9 138.1h.9M361.9 145.2h.9M365.7 139.4h.9M359.3 134.1h.9M360.9 145.1h.9M366.1 145.0h.9M364.0 138.8h.9M364.5 145.1h.9M363.7 143.4h.9M360.6 145.2h.9M366.6 142.1h.9M374.0 135.3h.9M367.8 145.0h.9M370.5 140.4h.9M362.9 144.9h.9M372.4 133.9h.9M368.3 142.3h.9M369.7 145.3h.9M369.9 134.1h.9M364.2 134.5h.9M364.1 132.3h.9M370.3 133.7h.9M359.9 142.1h.9M370.0 142.8h.9M367.6 132.6h.9M372.9 143.5h.9M373.2 137.6h.9M365.1 135.7h.9" stroke="#f25a50" stroke-width=".9" stroke-opacity="0.45" fill="none"/>
<path d="M382.9 131.2h.9M363.0 142.7h.9M376.0 144.1h.9M370.5 143.4h.9M359.0 145.2h.9M355.5 132.8h.9M361.7 142.0h.9M354.9 132.2h.9M359.2 140.1h.9M357.4 129.0h.9M376.8 144.0h.9M365.4 136.5h.9M373.5 139.0h.9M356.5 136.3h.9M369.5 145.2h.9M377.5 142.4h.9M381.6 134.0h.9M361.2 145.3h.9M365.0 145.0h.9M355.1 145.0h.9M370.4 144.8h.9M379.1 133.1h.9M360.1 131.7h.9M386.9 145.2h.9M368.3 145.2h.9M375.8 125.9h.9M375.1 131.5h.9M375.9 141.7h.9M364.6 135.5h.9M368.2 145.3h.9M369.4 137.6h.9M379.2 139.4h.9M363.5 129.5h.9M359.7 135.5h.9M358.5 145.3h.9M359.8 145.3h.9M368.8 145.2h.9M370.6 130.7h.9M369.4 132.0h.9M358.2 144.7h.9M378.6 145.2h.9M366.7 135.8h.9M365.8 139.2h.9" stroke="#f25a50" stroke-width=".8" stroke-opacity="0.25" fill="none"/>
<ellipse cx="367" cy="140.5" rx="7.6" ry="6.8" transform="rotate(0 367 140.5)" fill="#e8120c" fill-opacity="0.95" filter="url(#bl)"/>
<ellipse cx="367" cy="140.5" rx="5.47" ry="4.90" transform="rotate(0 367 140.5)" fill="#e8120c" fill-opacity="0.76"/>
<path d="M367.5 140.5h.9M361.1 141.5h.9M362.2 138.2h.9M367.2 145.1h.9M365.2 141.3h.9M370.9 140.3h.9M373.9 138.0h.9M368.6 139.6h.9M371.0 144.5h.9M368.3 140.2h.9M369.1 139.1h.9M361.1 138.5h.9M363.7 139.4h.9M372.9 141.4h.9M364.6 139.4h.9M370.7 140.9h.9M374.1 144.9h.9M368.1 140.7h.9M365.3 133.4h.9M365.4 141.4h.9M365.5 145.2h.9M366.4 142.7h.9M369.3 139.4h.9M364.9 140.9h.9M367.5 142.0h.9M361.2 138.6h.9M373.1 141.2h.9M359.7 137.1h.9M369.0 139.3h.9M369.3 142.8h.9M360.4 136.6h.9M368.3 136.4h.9M368.1 139.3h.9M368.2 137.6h.9M358.8 142.6h.9M367.0 140.5h.9M367.0 142.0h.9M363.4 139.5h.9M364.2 140.7h.9M369.3 134.5h.9M371.5 141.7h.9M369.0 140.8h.9M364.0 139.2h.9M363.1 141.2h.9M373.4 137.8h.9M365.9 140.7h.9M366.5 141.6h.9M370.9 144.8h.9M367.4 137.7h.9M367.9 137.6h.9M373.1 141.0h.9M361.3 136.1h.9M366.7 141.3h.9M369.2 137.9h.9M362.9 136.8h.9M369.5 139.9h.9M368.7 143.9h.9M364.1 145.3h.9M369.2 137.5h.9M368.3 137.6h.9M368.6 138.5h.9M375.4 139.9h.9M362.1 143.8h.9M373.0 144.8h.9M367.4 135.4h.9M364.3 141.4h.9M369.4 140.1h.9M368.5 136.5h.9M369.4 137.8h.9M369.2 143.5h.9M367.6 145.1h.9M367.8 138.0h.9M365.2 141.5h.9M370.8 141.6h.9M365.4 139.9h.9M366.1 143.2h.9M366.6 138.9h.9M369.6 135.2h.9M363.4 141.1h.9M366.7 142.6h.9M365.7 145.2h.9M366.6 135.0h.9M368.1 136.1h.9M365.7 141.6h.9M365.1 135.8h.9M369.9 143.5h.9" stroke="#e8120c" stroke-width=".9" stroke-opacity="0.5" fill="none"/>
</g>
<line x1="354.5" y1="93.3" x2="411.5" y2="93.3" stroke="#bbb" stroke-width=".9"/>
<line x1="354.5" y1="145.3" x2="411.5" y2="145.3" stroke="#999" stroke-width=".9"/>
<line x1="354.5" y1="93.3" x2="354.5" y2="145.3" stroke="#666" stroke-width=".9"/>
<line x1="411.5" y1="93.3" x2="411.5" y2="145.3" stroke="#888" stroke-width=".9"/>
<line x1="376.5" y1="93.3" x2="376.5" y2="145.3" stroke="#888" stroke-width=".9"/>
<line x1="354.5" y1="122.3" x2="411.5" y2="122.3" stroke="#999" stroke-width=".9"/>
<rect x="400.8" y="138.10000000000002" width="6" height="3" rx="1.2" fill="none" stroke="#aaa" stroke-width=".5"/>
<text x="401.7" y="140.5" font-size="2.4" fill="#999">Q-4</text>
<text x="355.5" y="96.7" font-size="2.6" fill="#aaa">Q- -</text>
<text x="377.5" y="96.7" font-size="2.6" fill="#aaa">Q- -</text>
<text x="355.5" y="125.7" font-size="2.6" fill="#aaa">Q- -</text>
<text x="377.5" y="125.7" font-size="2.6" fill="#aaa">Q- -</text>
<text x="352.3" y="96.5" font-size="7.8" text-anchor="end" fill="#2a2a2a" stroke="#2a2a2a" stroke-width=".12" letter-spacing=".6">10<tspan dx="-.4" dy="-2.9" font-size="5.2" letter-spacing="0">3</tspan></text>
<text x="352.3" y="109.6" font-size="7.8" text-anchor="end" fill="#2a2a2a" stroke="#2a2a2a" stroke-width=".12" letter-spacing=".6">10<tspan dx="-.4" dy="-2.9" font-size="5.2" letter-spacing="0">2</tspan></text>
<text x="352.3" y="122.49999999999999" font-size="7.8" text-anchor="end" fill="#2a2a2a" stroke="#2a2a2a" stroke-width=".12" letter-spacing=".6">10<tspan dx="-.4" dy="-2.9" font-size="5.2" letter-spacing="0">1</tspan></text>
<text x="352.3" y="135.4" font-size="7.8" text-anchor="end" fill="#2a2a2a" stroke="#2a2a2a" stroke-width=".12" letter-spacing=".6">10<tspan dx="-.4" dy="-2.9" font-size="5.2" letter-spacing="0">0</tspan></text>
<text x="369.4" y="157.20000000000002" font-size="7.8" text-anchor="middle" fill="#2a2a2a" stroke="#2a2a2a" stroke-width=".12" letter-spacing=".6">10<tspan dx="-.4" dy="-2.9" font-size="5.2" letter-spacing="0">0</tspan></text>
<text x="383.4" y="157.20000000000002" font-size="7.8" text-anchor="middle" fill="#2a2a2a" stroke="#2a2a2a" stroke-width=".12" letter-spacing=".6">10<tspan dx="-.4" dy="-2.9" font-size="5.2" letter-spacing="0">1</tspan></text>
<text x="397.4" y="157.20000000000002" font-size="7.8" text-anchor="middle" fill="#2a2a2a" stroke="#2a2a2a" stroke-width=".12" letter-spacing=".6">10<tspan dx="-.4" dy="-2.9" font-size="5.2" letter-spacing="0">2</tspan></text>
<text x="411.4" y="157.20000000000002" font-size="7.8" text-anchor="middle" fill="#2a2a2a" stroke="#2a2a2a" stroke-width=".12" letter-spacing=".6">10<tspan dx="-.4" dy="-2.9" font-size="5.2" letter-spacing="0">3</tspan></text>
<text x="393.7" y="102.5" font-size="8.4" fill="#222" stroke="#222" stroke-width=".2">21%</text>
<clipPath id="c354_171"><rect x="354.5" y="171.3" width="57" height="51.099999999999994"/></clipPath>
<g clip-path="url(#c354_171)">
<path d="M395.7 183.9h.9M374.8 188.9h.9M389.2 182.8h.9M386.1 187.7h.9M386.5 184.0h.9M379.6 188.9h.9M388.5 185.6h.9M387.0 185.9h.9M374.7 192.6h.9M372.3 191.4h.9M370.4 195.7h.9M379.8 187.4h.9M378.4 191.2h.9M380.7 188.9h.9M389.9 184.4h.9M384.2 188.2h.9M384.7 184.5h.9M376.0 193.9h.9M371.6 195.4h.9M379.8 189.7h.9M375.4 190.5h.9M384.4 188.8h.9M381.9 190.5h.9M380.8 190.9h.9M377.1 188.5h.9M381.9 190.1h.9M382.9 189.3h.9M386.6 181.7h.9M374.3 191.7h.9M381.3 186.3h.9M383.0 187.8h.9M385.3 188.1h.9M381.2 186.6h.9M376.8 191.7h.9M375.0 194.7h.9M369.5 195.4h.9M377.3 192.6h.9M389.3 183.8h.9M385.2 185.8h.9M380.9 187.2h.9M385.1 188.1h.9M386.4 187.6h.9M384.0 185.2h.9M375.7 193.8h.9M376.8 190.8h.9M380.5 188.8h.9M380.2 192.3h.9M385.8 185.7h.9M372.9 193.9h.9M382.6 190.4h.9M379.5 190.9h.9M383.4 185.9h.9M376.6 192.9h.9M376.8 189.9h.9M378.7 188.5h.9M375.8 192.2h.9M371.3 196.7h.9M389.3 183.1h.9M373.1 192.5h.9M376.7 188.6h.9M380.1 188.7h.9M386.1 186.1h.9M375.0 191.3h.9M375.3 191.2h.9M376.8 192.1h.9M382.9 187.2h.9M386.5 189.0h.9M376.9 189.5h.9M376.6 196.0h.9M380.3 186.6h.9M378.0 190.5h.9M382.9 190.8h.9M378.8 189.5h.9M374.1 193.3h.9M378.5 190.0h.9M372.5 195.6h.9M376.8 192.3h.9M374.5 197.1h.9M369.3 195.3h.9M373.7 192.0h.9M386.7 187.7h.9M387.6 184.0h.9M386.0 188.1h.9M383.5 188.5h.9M378.5 188.3h.9" stroke="#7070c0" stroke-width=".9" stroke-opacity="0.45" fill="none"/>
<path d="M370.7 198.0h.9M381.9 186.6h.9M378.8 186.5h.9M388.2 185.0h.9M374.5 187.5h.9M374.7 187.8h.9M376.1 194.1h.9M390.3 180.3h.9M372.3 195.4h.9M381.2 185.6h.9M379.2 185.8h.9M376.1 199.0h.9M383.1 186.7h.9M371.3 190.8h.9" stroke="#7070c0" stroke-width=".8" stroke-opacity="0.25" fill="none"/>
<ellipse cx="380.8" cy="189.5" rx="7.4" ry="2.3" transform="rotate(-32 380.8 189.5)" fill="#262682" fill-opacity="0.9" filter="url(#bl)"/>
<ellipse cx="380.8" cy="189.5" rx="5.33" ry="1.66" transform="rotate(-32 380.8 189.5)" fill="#262682" fill-opacity="0.72"/>
<path d="M379.7 192.6h.9M381.0 190.6h.9M378.8 190.4h.9M382.5 188.3h.9M378.1 191.5h.9M379.1 190.8h.9M376.2 193.1h.9M382.7 187.3h.9M379.6 189.1h.9M374.3 193.5h.9M381.9 189.8h.9M382.8 190.3h.9M381.0 189.3h.9M383.7 186.5h.9M379.9 190.4h.9M388.7 185.3h.9M380.0 190.1h.9M382.4 188.9h.9M382.4 188.9h.9M379.8 189.7h.9M383.0 187.3h.9M382.1 188.4h.9M378.7 189.3h.9M377.7 190.6h.9M380.4 189.8h.9M379.9 189.3h.9M378.5 191.8h.9M381.8 190.5h.9" stroke="#262682" stroke-width=".9" stroke-opacity="0.5" fill="none"/>
<path d="M378.5 208.4h.9M390.8 200.2h.9M374.4 206.7h.9M386.6 199.9h.9M385.3 199.0h.9M383.6 202.4h.9M378.3 209.6h.9M372.0 211.8h.9M376.9 205.3h.9M390.5 192.2h.9M371.8 207.1h.9M388.3 197.2h.9M375.1 205.3h.9M374.2 215.6h.9M375.9 207.1h.9M379.7 206.0h.9M372.0 209.9h.9M383.9 205.6h.9M374.2 208.5h.9M377.5 208.7h.9M391.5 197.2h.9M384.6 208.6h.9M373.3 210.0h.9M393.0 195.6h.9M390.6 195.5h.9M379.1 206.1h.9M378.4 207.6h.9M388.1 199.3h.9M391.3 198.4h.9M382.2 206.2h.9M389.9 199.3h.9M376.7 210.0h.9M374.5 209.9h.9M384.8 202.4h.9M373.7 207.6h.9M385.3 205.9h.9M372.7 209.6h.9M372.6 211.5h.9M372.6 207.0h.9M390.1 195.8h.9M390.6 200.5h.9M389.5 200.0h.9M374.7 211.5h.9M382.8 203.5h.9M377.5 208.3h.9M378.2 206.8h.9M378.1 207.8h.9M378.5 210.5h.9M387.5 195.9h.9M382.8 201.8h.9" stroke="#f07070" stroke-width=".8" stroke-opacity="0.35" fill="none"/>
<path d="M372.5 213.0h.9M365.6 219.1h.9M369.2 219.4h.9M365.9 220.2h.9M367.3 214.8h.9M384.3 210.8h.9M374.2 213.6h.9M366.5 221.8h.9M361.6 221.3h.9M361.0 211.5h.9M367.7 217.1h.9M360.3 216.8h.9M373.2 209.1h.9M372.9 222.0h.9M361.6 214.1h.9M372.6 218.0h.9M365.1 217.2h.9M376.7 212.7h.9M370.8 212.7h.9M364.5 211.8h.9M367.9 220.9h.9M365.4 222.3h.9M365.1 212.0h.9M368.9 221.0h.9M368.8 213.6h.9M374.9 221.0h.9M381.7 211.9h.9M370.4 219.8h.9M374.6 218.0h.9M354.8 221.7h.9M375.2 221.9h.9M374.8 209.5h.9M374.5 216.3h.9M368.4 203.1h.9M362.3 222.1h.9M368.5 212.7h.9M365.3 220.4h.9M363.2 220.9h.9M367.1 217.8h.9M367.9 218.5h.9M365.2 221.4h.9M378.1 217.2h.9M372.7 216.0h.9M368.6 216.6h.9M372.7 220.0h.9M370.1 217.0h.9M366.7 220.9h.9M366.6 210.5h.9M364.8 220.1h.9M367.1 218.5h.9M367.6 221.1h.9M381.5 209.9h.9M371.1 212.1h.9M370.6 216.6h.9M372.9 219.3h.9M365.7 222.3h.9M375.0 216.6h.9M372.4 213.6h.9M371.9 212.1h.9M363.0 218.4h.9M374.4 221.6h.9M373.9 211.7h.9M368.3 221.2h.9M371.1 217.8h.9M367.7 209.5h.9M373.4 219.1h.9M371.6 209.8h.9M365.2 211.4h.9M367.0 219.4h.9M359.5 222.1h.9M370.5 221.7h.9M368.6 222.0h.9M362.9 206.8h.9M365.8 212.9h.9M376.1 219.5h.9M377.0 210.8h.9M371.0 216.5h.9M374.5 222.0h.9M374.0 211.3h.9M370.0 221.8h.9M365.9 222.2h.9M367.8 212.5h.9M370.1 214.3h.9M369.6 217.1h.9M371.1 218.5h.9M374.8 214.9h.9M368.3 217.6h.9M372.6 219.8h.9M360.6 216.5h.9M355.4 222.2h.9M374.1 217.2h.9M374.0 222.0h.9M366.7 215.5h.9M371.8 211.5h.9M374.7 217.9h.9M376.2 222.1h.9M362.9 212.8h.9M371.6 219.1h.9M375.8 219.1h.9M365.9 210.9h.9M364.2 216.1h.9M379.4 221.6h.9M363.6 212.0h.9M369.0 222.2h.9M376.4 216.1h.9M369.9 211.5h.9M371.2 217.1h.9M362.3 221.5h.9M369.3 214.4h.9M370.1 214.8h.9M371.7 210.8h.9M367.3 218.9h.9M369.7 221.9h.9M378.3 220.5h.9M362.7 212.1h.9M362.5 219.8h.9M375.0 220.5h.9M370.4 217.8h.9M376.9 216.4h.9M368.7 217.6h.9M367.1 215.9h.9M361.2 222.0h.9M369.7 210.5h.9M367.1 210.1h.9M377.1 217.1h.9M368.3 211.9h.9M382.1 219.8h.9M366.9 219.7h.9M372.3 220.7h.9M369.8 222.2h.9M367.2 219.2h.9M367.9 208.2h.9M381.3 221.8h.9M366.8 218.6h.9M362.1 214.2h.9M371.2 220.3h.9M367.1 215.1h.9M366.7 221.8h.9M378.5 220.3h.9M373.5 216.8h.9M366.2 212.8h.9M364.4 215.2h.9M379.0 216.5h.9M367.4 222.3h.9M363.2 212.9h.9M368.0 222.2h.9M369.1 218.3h.9M360.7 219.0h.9M370.5 213.9h.9M362.5 216.6h.9M372.9 217.8h.9M371.8 222.3h.9M369.7 211.6h.9M373.7 220.8h.9M373.4 210.5h.9M375.1 216.7h.9M364.5 215.6h.9M365.2 213.7h.9M366.9 204.2h.9M368.6 215.7h.9M375.2 218.0h.9M376.4 216.3h.9M367.9 206.0h.9M362.7 215.5h.9M368.1 216.0h.9M365.3 220.9h.9M370.5 216.1h.9M366.2 222.1h.9M363.3 218.2h.9M366.8 219.0h.9M364.3 213.4h.9M375.3 219.0h.9M364.5 208.2h.9M375.9 212.3h.9M370.0 211.5h.9M364.4 211.4h.9M372.0 207.5h.9M380.7 220.3h.9M374.0 221.9h.9M372.9 221.2h.9M374.6 221.8h.9M377.8 221.7h.9M375.7 215.3h.9M366.2 217.2h.9M371.1 209.6h.9M372.1 214.5h.9M373.2 214.8h.9M359.8 215.5h.9M361.0 209.5h.9M378.5 214.9h.9M372.6 221.0h.9M373.0 221.8h.9M376.9 217.3h.9M371.0 222.2h.9M369.4 222.1h.9M370.0 213.5h.9M381.1 219.1h.9M378.4 214.2h.9M374.6 221.8h.9M370.4 216.1h.9M371.1 213.5h.9M366.6 219.3h.9M366.8 221.9h.9M377.3 214.8h.9M367.7 216.9h.9M372.6 218.2h.9M363.9 212.9h.9M368.4 219.0h.9M366.9 212.2h.9M365.6 220.8h.9M365.9 216.8h.9M367.5 221.9h.9M371.5 221.1h.9M380.4 215.8h.9M367.7 210.4h.9M370.6 221.9h.9M361.7 212.3h.9" stroke="#f25a50" stroke-width=".9" stroke-opacity="0.45" fill="none"/>
<path d="M370.2 215.9h.9M371.4 222.3h.9M354.7 221.8h.9M377.5 215.2h.9M363.5 214.0h.9M373.7 213.1h.9M355.1 222.2h.9M368.9 220.8h.9M358.0 213.9h.9M373.0 212.2h.9M367.0 221.9h.9M383.6 213.5h.9M354.7 218.4h.9M367.9 222.3h.9M370.3 210.1h.9M372.3 216.4h.9M370.9 220.4h.9M367.3 215.1h.9M372.4 218.4h.9M378.3 202.8h.9M378.6 212.6h.9M366.5 221.8h.9M370.5 211.6h.9M367.5 220.0h.9M357.5 212.0h.9M367.7 222.4h.9M365.0 221.9h.9M382.5 216.7h.9M372.4 219.2h.9M363.2 217.1h.9M373.4 220.3h.9M360.9 222.0h.9M359.9 213.7h.9M357.7 215.8h.9M371.7 218.3h.9M371.4 217.1h.9" stroke="#f25a50" stroke-width=".8" stroke-opacity="0.25" fill="none"/>
<ellipse cx="369.6" cy="217" rx="7" ry="6.2" transform="rotate(0 369.6 217)" fill="#e8120c" fill-opacity="0.95" filter="url(#bl)"/>
<ellipse cx="369.6" cy="217" rx="5.04" ry="4.46" transform="rotate(0 369.6 217)" fill="#e8120c" fill-opacity="0.76"/>
<path d="M363.5 217.5h.9M362.7 219.8h.9M370.7 221.1h.9M376.6 218.6h.9M363.4 218.9h.9M371.6 219.8h.9M366.0 218.7h.9M365.0 215.7h.9M370.7 212.7h.9M369.0 218.7h.9M368.7 217.2h.9M369.6 216.7h.9M368.2 215.7h.9M367.6 214.4h.9M372.9 219.7h.9M368.1 219.3h.9M372.5 215.5h.9M365.6 221.1h.9M366.1 218.3h.9M369.3 216.6h.9M366.0 218.8h.9M371.9 221.8h.9M366.4 218.1h.9M372.4 213.7h.9M361.1 215.3h.9M371.2 220.7h.9M366.0 216.9h.9M366.5 209.1h.9M368.4 217.5h.9M372.6 220.1h.9M368.5 213.4h.9M366.2 222.3h.9M371.8 216.9h.9M370.4 215.8h.9M363.4 221.1h.9M373.4 215.4h.9M371.3 217.4h.9M368.9 216.8h.9M368.1 213.0h.9M365.0 212.9h.9M370.1 218.4h.9M368.8 215.9h.9M370.0 219.4h.9M364.9 222.2h.9M364.8 217.4h.9M370.4 215.5h.9M369.8 215.5h.9M376.3 215.1h.9M369.4 218.9h.9M370.8 215.7h.9M371.5 217.2h.9M372.2 218.9h.9M369.8 215.4h.9M365.1 211.9h.9M368.5 218.3h.9M369.1 222.0h.9M367.2 219.9h.9M366.5 215.6h.9M371.7 216.3h.9M370.7 215.0h.9M368.5 219.2h.9M368.2 216.4h.9M369.0 219.9h.9M367.4 216.7h.9M371.5 215.6h.9M367.6 216.4h.9M373.1 220.2h.9M370.5 220.7h.9M369.9 219.1h.9M369.2 214.1h.9M371.9 213.2h.9M370.2 214.0h.9" stroke="#e8120c" stroke-width=".9" stroke-opacity="0.5" fill="none"/>
</g>
<line x1="354.5" y1="171.3" x2="411.5" y2="171.3" stroke="#bbb" stroke-width=".9"/>
<line x1="354.5" y1="222.4" x2="411.5" y2="222.4" stroke="#999" stroke-width=".9"/>
<line x1="354.5" y1="171.3" x2="354.5" y2="222.4" stroke="#666" stroke-width=".9"/>
<line x1="411.5" y1="171.3" x2="411.5" y2="222.4" stroke="#888" stroke-width=".9"/>
<line x1="377.3" y1="171.3" x2="377.3" y2="222.4" stroke="#888" stroke-width=".9"/>
<line x1="354.5" y1="199.3" x2="411.5" y2="199.3" stroke="#999" stroke-width=".9"/>
<rect x="400.8" y="215.20000000000002" width="6" height="3" rx="1.2" fill="none" stroke="#aaa" stroke-width=".5"/>
<text x="401.7" y="217.6" font-size="2.4" fill="#999">Q-4</text>
<text x="355.5" y="174.70000000000002" font-size="2.6" fill="#aaa">Q- -</text>
<text x="378.3" y="174.70000000000002" font-size="2.6" fill="#aaa">Q- -</text>
<text x="355.5" y="202.70000000000002" font-size="2.6" fill="#aaa">Q- -</text>
<text x="378.3" y="202.70000000000002" font-size="2.6" fill="#aaa">Q- -</text>
<text x="352.3" y="174.50000000000003" font-size="7.8" text-anchor="end" fill="#2a2a2a" stroke="#2a2a2a" stroke-width=".12" letter-spacing=".6">10<tspan dx="-.4" dy="-2.9" font-size="5.2" letter-spacing="0">3</tspan></text>
<text x="352.3" y="187.60000000000002" font-size="7.8" text-anchor="end" fill="#2a2a2a" stroke="#2a2a2a" stroke-width=".12" letter-spacing=".6">10<tspan dx="-.4" dy="-2.9" font-size="5.2" letter-spacing="0">2</tspan></text>
<text x="352.3" y="200.50000000000003" font-size="7.8" text-anchor="end" fill="#2a2a2a" stroke="#2a2a2a" stroke-width=".12" letter-spacing=".6">10<tspan dx="-.4" dy="-2.9" font-size="5.2" letter-spacing="0">1</tspan></text>
<text x="352.3" y="213.40000000000003" font-size="7.8" text-anchor="end" fill="#2a2a2a" stroke="#2a2a2a" stroke-width=".12" letter-spacing=".6">10<tspan dx="-.4" dy="-2.9" font-size="5.2" letter-spacing="0">0</tspan></text>
<text x="369.4" y="234.3" font-size="7.8" text-anchor="middle" fill="#2a2a2a" stroke="#2a2a2a" stroke-width=".12" letter-spacing=".6">10<tspan dx="-.4" dy="-2.9" font-size="5.2" letter-spacing="0">0</tspan></text>
<text x="383.4" y="234.3" font-size="7.8" text-anchor="middle" fill="#2a2a2a" stroke="#2a2a2a" stroke-width=".12" letter-spacing=".6">10<tspan dx="-.4" dy="-2.9" font-size="5.2" letter-spacing="0">1</tspan></text>
<text x="397.4" y="234.3" font-size="7.8" text-anchor="middle" fill="#2a2a2a" stroke="#2a2a2a" stroke-width=".12" letter-spacing=".6">10<tspan dx="-.4" dy="-2.9" font-size="5.2" letter-spacing="0">2</tspan></text>
<text x="411.4" y="234.3" font-size="7.8" text-anchor="middle" fill="#2a2a2a" stroke="#2a2a2a" stroke-width=".12" letter-spacing=".6">10<tspan dx="-.4" dy="-2.9" font-size="5.2" letter-spacing="0">3</tspan></text>
<text x="392" y="181.6" font-size="8.4" fill="#222" stroke="#222" stroke-width=".2">3.6%</text>
<clipPath id="c354_248"><rect x="354.5" y="248.5" width="57" height="50.89999999999998"/></clipPath>
<g clip-path="url(#c354_248)">
<path d="M377.1 272.0h.9M382.3 266.6h.9M376.2 272.6h.9M376.9 267.0h.9M381.7 267.5h.9M383.0 266.2h.9M378.7 265.1h.9M375.6 269.0h.9M386.6 268.2h.9M380.6 265.8h.9M377.1 270.2h.9M378.1 270.3h.9M381.2 268.2h.9M372.9 272.7h.9M371.0 279.3h.9M388.8 264.2h.9M381.1 265.5h.9M381.1 266.7h.9M381.8 267.5h.9M375.4 269.8h.9M380.7 264.8h.9M383.0 264.8h.9M381.4 270.3h.9M379.5 271.7h.9M379.3 263.3h.9M384.7 260.7h.9M378.2 268.8h.9M381.1 269.6h.9M380.5 265.8h.9M369.0 273.3h.9M380.5 272.8h.9M375.5 271.6h.9M374.5 277.1h.9M377.1 273.5h.9M383.1 265.9h.9M376.4 270.7h.9M378.4 268.1h.9M379.2 279.2h.9M379.8 265.8h.9M387.5 260.7h.9M380.0 268.5h.9M388.5 262.4h.9M379.8 268.6h.9M371.6 273.2h.9M380.8 259.6h.9M374.4 273.1h.9M378.6 274.6h.9M381.4 267.8h.9M384.7 268.6h.9M379.0 266.3h.9M380.9 270.9h.9M382.6 267.0h.9M388.7 266.5h.9M371.3 279.1h.9M382.6 268.7h.9M366.2 279.3h.9M390.3 266.8h.9M383.5 260.4h.9M379.9 272.2h.9M380.9 263.5h.9M375.3 269.9h.9M380.7 272.2h.9M377.2 271.1h.9M380.2 267.4h.9M373.3 275.4h.9M385.6 263.5h.9M387.2 266.9h.9M375.2 275.4h.9M383.7 263.2h.9M380.2 269.6h.9M384.5 265.5h.9M383.4 271.0h.9M379.7 267.6h.9M377.8 269.8h.9M383.1 269.0h.9M377.7 271.9h.9M378.7 271.7h.9M377.2 273.3h.9M387.8 261.6h.9M379.9 267.8h.9M380.8 262.7h.9M387.2 260.4h.9M379.5 269.2h.9M380.3 267.4h.9M376.6 269.4h.9M379.3 266.0h.9M381.4 269.2h.9M382.8 268.5h.9M379.8 269.0h.9M383.3 264.3h.9M377.6 267.7h.9M386.3 268.0h.9M373.8 275.4h.9M382.1 269.2h.9M382.8 268.0h.9M385.4 256.9h.9M379.1 273.3h.9M381.8 269.6h.9M383.9 269.1h.9M379.2 272.6h.9M382.2 271.3h.9M380.8 270.2h.9M377.9 274.0h.9M378.2 275.4h.9M389.8 264.8h.9M376.4 265.4h.9M369.8 277.0h.9M385.2 260.5h.9M380.9 265.5h.9M373.3 269.7h.9M377.1 270.5h.9M370.0 268.6h.9M376.4 271.5h.9" stroke="#7070c0" stroke-width=".9" stroke-opacity="0.45" fill="none"/>
<path d="M375.8 274.1h.9M372.5 272.0h.9M372.3 278.9h.9M377.2 268.9h.9M389.7 269.1h.9M376.2 270.1h.9M387.0 258.2h.9M371.6 273.1h.9M376.5 276.1h.9M363.5 283.4h.9M381.1 263.9h.9M382.3 270.2h.9M374.7 267.1h.9M383.0 270.3h.9M372.4 273.5h.9M384.2 266.8h.9M368.6 281.9h.9M374.3 268.8h.9" stroke="#7070c0" stroke-width=".8" stroke-opacity="0.25" fill="none"/>
<ellipse cx="379.2" cy="269" rx="7.6" ry="3" transform="rotate(-40 379.2 269)" fill="#262682" fill-opacity="0.95" filter="url(#bl)"/>
<ellipse cx="379.2" cy="269" rx="5.47" ry="2.16" transform="rotate(-40 379.2 269)" fill="#262682" fill-opacity="0.76"/>
<path d="M382.5 264.8h.9M378.3 270.2h.9M383.1 267.6h.9M377.8 271.8h.9M377.8 272.9h.9M374.0 269.8h.9M378.5 267.0h.9M383.7 264.6h.9M383.2 263.3h.9M381.7 266.6h.9M378.8 267.6h.9M380.5 268.4h.9M386.9 262.6h.9M380.4 267.4h.9M381.7 266.3h.9M379.7 268.6h.9M379.8 269.1h.9M378.1 267.7h.9M381.2 266.5h.9M375.9 270.2h.9M379.6 269.0h.9M381.3 266.3h.9M377.9 271.3h.9M383.2 267.7h.9M374.2 274.3h.9M379.4 268.8h.9M380.4 271.5h.9M380.9 269.4h.9M375.2 271.8h.9M382.0 268.5h.9M382.3 266.5h.9M383.3 265.1h.9M377.2 270.3h.9M382.9 265.4h.9M375.9 272.1h.9M378.4 271.8h.9M379.8 269.1h.9" stroke="#262682" stroke-width=".9" stroke-opacity="0.5" fill="none"/>
<path d="M387.0 275.1h.9M379.2 283.9h.9M389.0 276.4h.9M370.1 289.5h.9M386.5 276.6h.9M377.7 288.1h.9M381.2 287.0h.9M380.4 278.2h.9M375.5 286.2h.9M389.2 271.1h.9M383.2 281.2h.9M379.6 281.6h.9M386.0 274.6h.9M390.4 278.1h.9M382.1 281.5h.9M389.5 273.8h.9M386.6 281.2h.9M392.8 274.8h.9M374.9 285.9h.9M387.9 276.8h.9M385.4 281.3h.9M384.3 278.5h.9M375.5 290.0h.9M376.4 288.6h.9M373.8 288.0h.9M371.9 290.5h.9M368.9 287.2h.9M376.6 281.6h.9M377.6 284.3h.9M380.5 283.1h.9M375.8 286.4h.9M386.9 285.6h.9M385.2 276.5h.9M385.4 282.3h.9M379.9 283.5h.9M377.1 284.0h.9M379.6 278.7h.9M385.2 280.3h.9M383.2 283.4h.9M376.1 286.0h.9M389.0 272.6h.9M375.2 281.6h.9M374.9 292.4h.9M381.1 286.9h.9M378.0 289.3h.9M379.2 283.0h.9M373.8 286.6h.9M388.9 282.6h.9M376.7 285.5h.9M390.2 277.5h.9" stroke="#f07070" stroke-width=".8" stroke-opacity="0.35" fill="none"/>
<path d="M359.4 290.5h.9M367.4 291.9h.9M364.5 287.1h.9M366.1 291.5h.9M371.5 299.3h.9M369.5 298.8h.9M368.4 295.6h.9M362.7 294.6h.9M373.6 292.2h.9M372.8 288.6h.9M372.4 295.0h.9M371.5 292.4h.9M367.8 296.7h.9M381.5 292.3h.9M372.5 299.4h.9M370.5 295.9h.9M377.5 289.3h.9M361.5 291.7h.9M381.7 290.7h.9M368.2 291.7h.9M371.5 295.7h.9M364.5 293.9h.9M373.5 294.6h.9M365.2 290.4h.9M382.8 285.0h.9M367.7 294.9h.9M366.1 297.6h.9M356.4 294.1h.9M361.6 295.2h.9M366.9 296.5h.9M358.1 295.0h.9M367.8 293.6h.9M365.4 292.7h.9M378.7 298.9h.9M368.5 296.7h.9M374.5 293.0h.9M361.3 297.5h.9M366.5 298.0h.9M370.4 288.4h.9M375.6 293.4h.9M375.9 295.1h.9M376.3 293.9h.9M362.3 292.0h.9M371.2 298.9h.9M368.3 288.0h.9M371.5 297.2h.9M369.9 297.0h.9M365.0 294.7h.9M365.4 290.5h.9M367.2 291.5h.9M360.7 298.8h.9M356.4 290.1h.9M375.3 297.6h.9M368.3 299.2h.9M376.1 288.1h.9M366.6 294.8h.9M363.8 288.9h.9M368.8 286.8h.9M364.5 293.1h.9M367.8 298.2h.9M367.5 298.3h.9M374.3 298.7h.9M361.7 290.3h.9M366.8 298.8h.9M376.0 297.9h.9M362.5 294.9h.9M366.6 297.7h.9M375.5 287.7h.9M361.6 294.6h.9M354.9 292.8h.9M367.4 294.1h.9M372.0 291.2h.9M378.2 297.6h.9M365.3 296.2h.9M370.3 295.5h.9M363.7 299.1h.9M370.3 292.7h.9M369.6 298.4h.9M367.8 288.6h.9M360.9 296.9h.9M369.3 297.3h.9M365.8 290.9h.9M378.2 296.3h.9M367.2 299.1h.9M362.6 299.2h.9M356.0 298.2h.9M366.3 293.1h.9M376.7 295.6h.9M374.3 297.4h.9M374.7 298.9h.9M367.9 299.0h.9M372.0 293.2h.9M366.9 295.3h.9M368.2 299.1h.9M366.1 298.4h.9M371.5 292.1h.9M362.6 295.5h.9M366.5 297.8h.9M367.9 299.3h.9M360.1 298.2h.9M367.6 298.5h.9M367.3 298.4h.9M369.5 294.5h.9M371.5 292.1h.9M370.3 294.7h.9M366.1 290.1h.9M354.6 293.4h.9M381.7 292.1h.9M369.8 298.5h.9M373.9 292.2h.9M366.1 290.2h.9M361.0 291.6h.9M371.7 290.6h.9M372.8 295.7h.9M375.7 284.9h.9M362.8 292.7h.9M365.5 299.0h.9M362.5 295.1h.9M372.9 296.9h.9M366.1 291.3h.9M368.0 291.3h.9M373.4 290.0h.9M376.5 299.3h.9M358.3 299.2h.9M354.9 299.2h.9M374.4 291.6h.9M373.0 288.7h.9M366.3 291.2h.9M378.4 292.1h.9M364.9 288.4h.9M368.5 296.9h.9M373.8 294.1h.9M371.0 298.9h.9M367.3 293.5h.9M366.9 296.0h.9M371.2 294.3h.9M367.0 299.4h.9M365.4 293.5h.9M364.1 297.7h.9M368.1 294.6h.9M360.4 295.8h.9M366.2 289.2h.9M365.0 292.2h.9M363.4 299.1h.9M365.5 298.8h.9M357.1 289.1h.9M375.0 298.7h.9M371.8 299.1h.9M372.4 298.9h.9M366.7 297.4h.9M366.9 291.0h.9M361.2 291.7h.9M377.4 299.0h.9M362.8 293.5h.9M370.9 295.2h.9M362.3 298.6h.9M366.1 291.2h.9M360.0 297.7h.9M368.6 286.1h.9M371.4 291.8h.9M363.5 291.5h.9M354.8 297.3h.9M375.6 292.8h.9M368.9 294.5h.9M371.1 299.2h.9M378.6 291.9h.9M380.9 292.3h.9M370.8 295.2h.9M376.5 284.5h.9M365.2 298.5h.9M364.9 291.5h.9M366.9 292.3h.9M371.6 286.4h.9M377.4 299.2h.9M377.7 292.1h.9M372.0 291.9h.9M376.0 293.1h.9M371.3 298.8h.9M367.6 297.7h.9M373.1 294.2h.9M365.4 296.9h.9M366.0 293.4h.9M362.6 295.9h.9M372.4 296.4h.9M360.3 288.5h.9M369.3 294.1h.9M371.2 299.0h.9M372.6 291.9h.9M363.6 296.4h.9M370.8 298.7h.9M371.8 297.9h.9M354.8 295.8h.9M354.8 290.8h.9M360.5 288.8h.9M370.1 288.4h.9M379.9 293.4h.9M368.6 295.0h.9M372.1 292.4h.9M380.4 291.2h.9M376.8 291.4h.9M362.7 297.8h.9M382.8 288.7h.9M372.2 287.3h.9M354.8 296.8h.9M370.1 292.8h.9M370.5 294.9h.9M367.1 295.5h.9M365.5 294.6h.9M373.5 285.3h.9M369.4 298.9h.9M376.5 299.0h.9M378.0 298.4h.9M363.2 284.3h.9M363.9 294.2h.9M371.0 298.3h.9M362.8 295.0h.9M354.7 298.9h.9M371.2 294.9h.9M367.9 299.1h.9M364.1 295.8h.9M365.1 297.7h.9M375.4 288.9h.9M360.8 293.5h.9M365.0 296.2h.9M369.6 292.4h.9M375.8 297.9h.9M365.0 294.2h.9M371.9 298.9h.9M372.2 291.3h.9M366.5 299.1h.9M371.2 299.4h.9M365.0 291.8h.9" stroke="#f25a50" stroke-width=".9" stroke-opacity="0.45" fill="none"/>
<path d="M376.8 294.6h.9M379.0 298.8h.9M356.0 281.1h.9M366.1 286.3h.9M372.2 299.3h.9M372.3 299.3h.9M369.7 298.8h.9M389.9 288.4h.9M365.5 298.8h.9M362.2 286.4h.9M371.6 299.3h.9M371.7 298.9h.9M354.7 296.6h.9M358.5 299.0h.9M367.9 298.9h.9M366.8 298.8h.9M373.7 290.3h.9M371.8 291.5h.9M370.1 297.5h.9M370.7 299.2h.9M376.3 295.0h.9M360.3 299.1h.9M355.6 298.3h.9M367.9 287.5h.9M358.8 290.9h.9M378.0 297.2h.9M379.6 292.6h.9M364.7 295.0h.9M375.7 298.8h.9M366.1 299.3h.9M377.4 299.1h.9M371.0 291.7h.9M370.2 298.9h.9M374.5 293.7h.9M356.2 285.0h.9M373.7 292.6h.9M379.4 289.0h.9M368.9 299.2h.9" stroke="#f25a50" stroke-width=".8" stroke-opacity="0.25" fill="none"/>
<ellipse cx="368.7" cy="295" rx="8" ry="5.8" transform="rotate(0 368.7 295)" fill="#e8120c" fill-opacity="0.95" filter="url(#bl)"/>
<ellipse cx="368.7" cy="295" rx="5.76" ry="4.18" transform="rotate(0 368.7 295)" fill="#e8120c" fill-opacity="0.76"/>
<path d="M368.6 299.3h.9M369.3 293.8h.9M369.6 290.3h.9M369.7 291.4h.9M374.1 295.0h.9M366.1 295.2h.9M370.9 295.5h.9M363.5 298.4h.9M365.0 297.4h.9M369.6 291.9h.9M371.5 295.5h.9M362.7 294.2h.9M371.1 299.2h.9M371.6 292.2h.9M363.1 296.5h.9M367.9 295.5h.9M365.9 295.7h.9M368.4 295.2h.9M372.1 292.8h.9M373.4 295.2h.9M370.0 293.5h.9M369.7 295.4h.9M366.9 299.1h.9M370.2 298.1h.9M376.2 296.3h.9M365.4 293.2h.9M369.1 298.4h.9M369.5 297.1h.9M370.7 298.4h.9M362.8 293.3h.9M366.7 299.4h.9M367.8 294.7h.9M370.9 292.1h.9M371.7 295.0h.9M360.8 298.8h.9M364.8 293.3h.9M369.6 294.9h.9M371.8 296.1h.9M370.4 297.3h.9M375.1 291.9h.9M372.4 299.0h.9M370.4 294.8h.9M359.6 290.1h.9M364.2 290.4h.9M365.9 299.3h.9M370.3 295.6h.9M370.3 296.1h.9M364.2 292.8h.9M365.7 291.3h.9M359.3 297.1h.9M367.1 296.9h.9M366.7 294.3h.9M368.8 290.4h.9M371.7 295.2h.9M368.1 294.5h.9M368.5 296.5h.9M359.9 292.9h.9M368.8 294.8h.9M371.2 298.5h.9M365.7 299.1h.9M367.2 293.2h.9M372.8 298.1h.9M375.0 298.9h.9M368.9 295.9h.9M370.6 294.3h.9M373.3 298.7h.9M372.5 294.5h.9M367.1 296.4h.9M368.2 295.5h.9M368.9 298.8h.9M366.8 294.6h.9M373.2 299.2h.9M368.4 296.9h.9M368.9 294.5h.9M366.5 293.0h.9M367.7 296.9h.9M369.1 289.7h.9" stroke="#e8120c" stroke-width=".9" stroke-opacity="0.5" fill="none"/>
</g>
<line x1="354.5" y1="248.5" x2="411.5" y2="248.5" stroke="#bbb" stroke-width=".9"/>
<line x1="354.5" y1="299.4" x2="411.5" y2="299.4" stroke="#999" stroke-width=".9"/>
<line x1="354.5" y1="248.5" x2="354.5" y2="299.4" stroke="#666" stroke-width=".9"/>
<line x1="411.5" y1="248.5" x2="411.5" y2="299.4" stroke="#888" stroke-width=".9"/>
<line x1="377.3" y1="248.5" x2="377.3" y2="299.4" stroke="#888" stroke-width=".9"/>
<line x1="354.5" y1="276.5" x2="411.5" y2="276.5" stroke="#999" stroke-width=".9"/>
<rect x="400.8" y="292.2" width="6" height="3" rx="1.2" fill="none" stroke="#aaa" stroke-width=".5"/>
<text x="401.7" y="294.59999999999997" font-size="2.4" fill="#999">Q-4</text>
<text x="355.5" y="251.9" font-size="2.6" fill="#aaa">Q- -</text>
<text x="378.3" y="251.9" font-size="2.6" fill="#aaa">Q- -</text>
<text x="355.5" y="279.9" font-size="2.6" fill="#aaa">Q- -</text>
<text x="378.3" y="279.9" font-size="2.6" fill="#aaa">Q- -</text>
<text x="352.3" y="251.70000000000002" font-size="7.8" text-anchor="end" fill="#2a2a2a" stroke="#2a2a2a" stroke-width=".12" letter-spacing=".6">10<tspan dx="-.4" dy="-2.9" font-size="5.2" letter-spacing="0">3</tspan></text>
<text x="352.3" y="264.8" font-size="7.8" text-anchor="end" fill="#2a2a2a" stroke="#2a2a2a" stroke-width=".12" letter-spacing=".6">10<tspan dx="-.4" dy="-2.9" font-size="5.2" letter-spacing="0">2</tspan></text>
<text x="352.3" y="277.7" font-size="7.8" text-anchor="end" fill="#2a2a2a" stroke="#2a2a2a" stroke-width=".12" letter-spacing=".6">10<tspan dx="-.4" dy="-2.9" font-size="5.2" letter-spacing="0">1</tspan></text>
<text x="352.3" y="290.6" font-size="7.8" text-anchor="end" fill="#2a2a2a" stroke="#2a2a2a" stroke-width=".12" letter-spacing=".6">10<tspan dx="-.4" dy="-2.9" font-size="5.2" letter-spacing="0">0</tspan></text>
<text x="369.4" y="311.29999999999995" font-size="7.8" text-anchor="middle" fill="#2a2a2a" stroke="#2a2a2a" stroke-width=".12" letter-spacing=".6">10<tspan dx="-.4" dy="-2.9" font-size="5.2" letter-spacing="0">0</tspan></text>
<text x="383.4" y="311.29999999999995" font-size="7.8" text-anchor="middle" fill="#2a2a2a" stroke="#2a2a2a" stroke-width=".12" letter-spacing=".6">10<tspan dx="-.4" dy="-2.9" font-size="5.2" letter-spacing="0">1</tspan></text>
<text x="397.4" y="311.29999999999995" font-size="7.8" text-anchor="middle" fill="#2a2a2a" stroke="#2a2a2a" stroke-width=".12" letter-spacing=".6">10<tspan dx="-.4" dy="-2.9" font-size="5.2" letter-spacing="0">2</tspan></text>
<text x="411.4" y="311.29999999999995" font-size="7.8" text-anchor="middle" fill="#2a2a2a" stroke="#2a2a2a" stroke-width=".12" letter-spacing=".6">10<tspan dx="-.4" dy="-2.9" font-size="5.2" letter-spacing="0">3</tspan></text>
<text x="392" y="261" font-size="8.4" fill="#222" stroke="#222" stroke-width=".2">3.8%</text>
<clipPath id="c354_325"><rect x="354.5" y="325.5" width="57" height="53.10000000000002"/></clipPath>
<g clip-path="url(#c354_325)">
<path d="M388.9 356.1h.9M387.5 359.6h.9M372.8 367.7h.9M380.7 359.9h.9M386.0 358.0h.9M380.4 359.0h.9M379.0 358.7h.9M375.2 367.1h.9M375.0 368.1h.9M374.2 363.6h.9M380.9 366.0h.9M376.6 362.4h.9M373.0 368.7h.9M381.3 358.1h.9M379.8 358.4h.9M390.8 351.2h.9M386.1 359.1h.9M387.4 360.1h.9M378.8 355.9h.9M388.3 354.3h.9M371.9 369.1h.9M386.9 355.2h.9M375.1 366.6h.9M380.1 363.0h.9M381.4 362.3h.9M377.2 366.8h.9M376.9 363.4h.9M386.0 354.4h.9M381.7 360.2h.9M378.3 364.2h.9M376.0 362.8h.9M381.9 360.8h.9M374.4 366.6h.9M374.4 362.0h.9M376.9 365.5h.9M378.9 359.3h.9M373.5 364.2h.9M377.6 371.5h.9M379.8 366.7h.9M385.3 360.0h.9" stroke="#f07070" stroke-width=".8" stroke-opacity="0.35" fill="none"/>
<path d="M370.3 376.9h.9M368.3 374.1h.9M364.6 377.2h.9M372.0 373.1h.9M373.5 376.3h.9M367.5 369.0h.9M362.8 370.8h.9M372.9 370.7h.9M371.4 374.6h.9M366.8 373.8h.9M374.4 376.1h.9M375.3 370.1h.9M354.7 371.7h.9M366.5 368.1h.9M361.6 372.3h.9M363.6 376.9h.9M362.8 369.4h.9M363.7 367.7h.9M365.0 376.0h.9M363.2 378.2h.9M363.3 373.7h.9M361.8 377.4h.9M370.9 373.8h.9M361.6 378.0h.9M370.0 378.1h.9M356.6 371.6h.9M374.4 371.3h.9M354.6 375.0h.9M370.9 377.9h.9M363.1 371.5h.9M364.5 373.1h.9M370.7 373.9h.9M367.5 372.6h.9M369.2 372.1h.9M361.9 372.6h.9M362.4 373.1h.9M375.8 371.6h.9M367.9 374.3h.9M362.7 370.5h.9M374.8 372.2h.9M365.1 374.9h.9M366.1 370.6h.9M379.0 372.3h.9M369.3 371.8h.9M364.0 373.2h.9M366.2 370.1h.9M367.9 372.9h.9M374.6 378.1h.9M362.4 371.8h.9M371.8 374.6h.9M364.7 378.1h.9M365.5 372.3h.9M367.6 373.8h.9M372.5 371.3h.9M365.4 367.6h.9M361.8 378.4h.9M376.8 368.1h.9M368.6 370.2h.9M367.3 369.2h.9M367.2 372.7h.9M363.5 372.0h.9M357.8 372.5h.9M368.5 377.8h.9M367.4 369.7h.9M363.7 371.3h.9M364.8 368.1h.9M362.0 374.0h.9M361.0 378.2h.9M368.8 370.4h.9M364.6 377.6h.9M363.8 362.7h.9M374.8 378.5h.9M370.4 378.4h.9M363.9 370.0h.9M370.8 371.8h.9M363.9 373.8h.9M362.1 377.0h.9M362.3 368.6h.9M369.2 375.3h.9M365.1 376.9h.9M366.5 378.4h.9M366.3 367.6h.9M367.9 369.0h.9M364.9 373.9h.9M369.3 370.0h.9M368.7 375.7h.9M371.2 377.0h.9M382.1 369.7h.9M372.4 373.0h.9M368.4 376.6h.9M369.2 378.6h.9M362.8 374.3h.9M370.7 369.4h.9M375.8 367.5h.9M361.7 372.9h.9M373.5 372.8h.9M364.5 376.8h.9M359.5 374.5h.9M364.5 370.4h.9M376.9 378.0h.9M366.5 374.1h.9M364.7 366.9h.9M362.7 374.4h.9M356.9 378.2h.9M360.5 373.5h.9M372.7 373.2h.9M370.9 378.2h.9M363.1 373.3h.9M376.8 372.6h.9M375.2 376.8h.9M370.6 375.6h.9M355.5 375.4h.9M369.8 375.2h.9M367.3 371.9h.9M357.2 377.3h.9M369.4 378.3h.9M371.9 375.9h.9M369.0 377.8h.9M364.8 376.3h.9M369.6 368.2h.9M375.1 377.8h.9M369.0 376.4h.9M372.4 368.7h.9M379.4 378.2h.9M368.0 375.8h.9M363.8 373.6h.9M362.5 375.4h.9M370.9 371.5h.9M356.3 374.7h.9M365.2 367.1h.9M362.4 376.2h.9M362.4 368.4h.9M367.1 378.3h.9M370.0 374.7h.9M366.4 375.2h.9M372.9 377.4h.9M364.3 372.0h.9M372.7 374.9h.9M376.5 378.3h.9M366.2 372.0h.9M363.2 375.4h.9M366.3 378.1h.9M372.3 366.7h.9M368.2 369.0h.9M368.9 366.9h.9M371.8 372.9h.9M372.7 368.8h.9M359.4 372.9h.9M370.1 374.3h.9M369.3 370.8h.9M367.6 372.6h.9M369.9 373.4h.9M358.0 373.3h.9M379.0 368.3h.9M372.9 370.5h.9M367.6 371.1h.9M360.8 368.5h.9M364.9 378.4h.9M379.3 369.9h.9M355.0 374.1h.9M369.7 366.2h.9M374.8 364.8h.9M369.1 371.1h.9M372.3 372.9h.9M371.7 378.0h.9M368.3 378.2h.9M366.1 376.7h.9M365.9 378.5h.9M358.2 367.8h.9M362.8 377.8h.9M371.8 378.4h.9M370.0 366.3h.9M359.7 373.6h.9M369.5 376.6h.9M366.9 372.5h.9M369.6 371.7h.9M363.3 377.4h.9M366.4 373.7h.9M356.2 378.3h.9M364.4 376.7h.9M366.8 378.1h.9M364.7 374.5h.9M368.6 374.2h.9M361.2 373.7h.9M364.5 367.5h.9M362.1 375.6h.9M389.1 373.2h.9M360.4 369.2h.9M377.1 374.1h.9M378.7 374.8h.9M371.2 378.2h.9M373.4 377.3h.9M361.3 378.3h.9M362.5 366.7h.9M372.2 376.4h.9M379.2 373.5h.9M366.0 378.3h.9M373.6 375.1h.9M375.7 376.6h.9M360.9 371.4h.9M372.8 371.2h.9M365.7 378.3h.9M368.3 378.3h.9M371.8 374.9h.9M361.9 371.5h.9M358.6 376.6h.9M374.4 377.8h.9M373.8 377.1h.9M376.7 378.1h.9M362.8 376.1h.9M360.4 367.4h.9M362.7 371.2h.9M370.7 365.3h.9M367.5 370.1h.9M361.1 369.1h.9M379.2 374.6h.9M360.7 355.8h.9M366.5 378.5h.9M379.3 367.8h.9M373.3 374.5h.9M375.6 377.1h.9M358.2 374.2h.9M370.4 378.2h.9M365.4 374.8h.9M360.3 376.9h.9M362.0 366.4h.9M370.3 374.8h.9M363.0 373.4h.9M369.2 364.6h.9M364.1 378.3h.9M375.9 375.3h.9M363.8 364.9h.9M363.3 373.4h.9M358.5 374.1h.9M366.3 370.8h.9M366.1 376.6h.9M364.1 378.0h.9M382.6 374.1h.9M359.6 367.9h.9M363.7 369.6h.9" stroke="#f25a50" stroke-width=".9" stroke-opacity="0.45" fill="none"/>
<path d="M365.7 378.0h.9M376.1 371.2h.9M363.1 378.4h.9M382.7 363.8h.9M366.1 377.4h.9M371.8 378.2h.9M355.4 378.5h.9M354.7 378.1h.9M371.3 378.2h.9M361.4 372.2h.9M354.8 378.2h.9M370.3 366.5h.9M364.9 376.4h.9M359.4 364.8h.9M385.4 378.2h.9M365.2 378.3h.9M357.9 374.6h.9M355.0 378.6h.9M376.1 378.1h.9M369.7 373.1h.9M366.9 374.6h.9M357.4 367.5h.9M369.2 366.1h.9M359.7 378.1h.9M356.1 375.5h.9M379.4 376.4h.9M366.1 367.4h.9M371.3 378.2h.9M376.5 375.0h.9M373.2 378.1h.9M372.6 366.6h.9M357.2 375.4h.9M366.9 378.6h.9M378.1 365.8h.9M364.4 369.4h.9M359.4 362.6h.9M367.7 378.2h.9M370.5 364.8h.9M373.2 378.1h.9M366.8 374.8h.9" stroke="#f25a50" stroke-width=".8" stroke-opacity="0.25" fill="none"/>
<ellipse cx="367.5" cy="374.2" rx="8" ry="6" transform="rotate(0 367.5 374.2)" fill="#e8120c" fill-opacity="0.95" filter="url(#bl)"/>
<ellipse cx="367.5" cy="374.2" rx="5.76" ry="4.32" transform="rotate(0 367.5 374.2)" fill="#e8120c" fill-opacity="0.76"/>
<path d="M369.6 373.5h.9M366.5 373.2h.9M369.3 374.8h.9M376.3 373.1h.9M369.9 374.3h.9M365.0 375.0h.9M367.7 375.3h.9M363.6 376.5h.9M365.5 373.7h.9M362.5 372.3h.9M361.7 377.1h.9M369.8 373.5h.9M365.7 374.0h.9M367.4 371.6h.9M365.9 373.2h.9M368.0 376.6h.9M370.7 370.3h.9M373.0 375.8h.9M370.9 378.6h.9M368.9 375.6h.9M366.0 373.1h.9M367.1 376.6h.9M362.5 373.6h.9M367.4 376.1h.9M370.2 368.0h.9M365.4 367.8h.9M365.4 376.2h.9M369.0 375.7h.9M367.7 369.8h.9M374.4 376.4h.9M374.3 373.3h.9M367.2 374.0h.9M368.6 375.0h.9M370.6 376.1h.9M369.8 374.6h.9M371.7 376.6h.9M362.6 377.8h.9M366.9 378.2h.9M368.0 375.6h.9M365.5 372.6h.9M367.2 370.5h.9M374.4 377.3h.9M370.7 373.6h.9M366.2 372.4h.9M363.5 378.6h.9M364.9 375.2h.9M369.4 367.3h.9M367.4 376.6h.9M372.3 378.5h.9M362.8 378.1h.9M369.6 370.0h.9M363.4 376.9h.9M370.0 374.7h.9M371.6 373.5h.9M371.8 375.6h.9M366.3 378.1h.9M371.4 369.6h.9M375.2 377.9h.9M367.7 373.6h.9M365.6 372.9h.9M365.9 373.8h.9M370.5 369.2h.9M365.5 375.5h.9M369.3 370.8h.9M369.9 371.6h.9M370.4 375.1h.9M364.9 376.1h.9M371.1 375.4h.9M368.3 373.0h.9M369.9 372.0h.9M363.4 375.8h.9M369.0 373.4h.9M370.3 373.9h.9M369.5 375.3h.9M370.9 377.1h.9M368.3 373.7h.9M370.5 371.7h.9M367.0 375.0h.9M365.1 372.1h.9M366.3 375.6h.9" stroke="#e8120c" stroke-width=".9" stroke-opacity="0.5" fill="none"/>
</g>
<line x1="354.5" y1="325.5" x2="411.5" y2="325.5" stroke="#bbb" stroke-width=".9"/>
<line x1="354.5" y1="378.6" x2="411.5" y2="378.6" stroke="#999" stroke-width=".9"/>
<line x1="354.5" y1="325.5" x2="354.5" y2="378.6" stroke="#666" stroke-width=".9"/>
<line x1="411.5" y1="325.5" x2="411.5" y2="378.6" stroke="#888" stroke-width=".9"/>
<line x1="376.5" y1="325.5" x2="376.5" y2="378.6" stroke="#888" stroke-width=".9"/>
<line x1="354.5" y1="355.3" x2="411.5" y2="355.3" stroke="#999" stroke-width=".9"/>
<rect x="400.8" y="371.40000000000003" width="6" height="3" rx="1.2" fill="none" stroke="#aaa" stroke-width=".5"/>
<text x="401.7" y="373.8" font-size="2.4" fill="#999">Q-4</text>
<text x="355.5" y="328.9" font-size="2.6" fill="#aaa">Q- -</text>
<text x="377.5" y="328.9" font-size="2.6" fill="#aaa">Q- -</text>
<text x="355.5" y="358.7" font-size="2.6" fill="#aaa">Q- -</text>
<text x="377.5" y="358.7" font-size="2.6" fill="#aaa">Q- -</text>
<text x="352.3" y="328.7" font-size="7.8" text-anchor="end" fill="#2a2a2a" stroke="#2a2a2a" stroke-width=".12" letter-spacing=".6">10<tspan dx="-.4" dy="-2.9" font-size="5.2" letter-spacing="0">3</tspan></text>
<text x="352.3" y="341.8" font-size="7.8" text-anchor="end" fill="#2a2a2a" stroke="#2a2a2a" stroke-width=".12" letter-spacing=".6">10<tspan dx="-.4" dy="-2.9" font-size="5.2" letter-spacing="0">2</tspan></text>
<text x="352.3" y="354.7" font-size="7.8" text-anchor="end" fill="#2a2a2a" stroke="#2a2a2a" stroke-width=".12" letter-spacing=".6">10<tspan dx="-.4" dy="-2.9" font-size="5.2" letter-spacing="0">1</tspan></text>
<text x="352.3" y="367.6" font-size="7.8" text-anchor="end" fill="#2a2a2a" stroke="#2a2a2a" stroke-width=".12" letter-spacing=".6">10<tspan dx="-.4" dy="-2.9" font-size="5.2" letter-spacing="0">0</tspan></text>
<text x="369.4" y="390.5" font-size="7.8" text-anchor="middle" fill="#2a2a2a" stroke="#2a2a2a" stroke-width=".12" letter-spacing=".6">10<tspan dx="-.4" dy="-2.9" font-size="5.2" letter-spacing="0">0</tspan></text>
<text x="383.4" y="390.5" font-size="7.8" text-anchor="middle" fill="#2a2a2a" stroke="#2a2a2a" stroke-width=".12" letter-spacing=".6">10<tspan dx="-.4" dy="-2.9" font-size="5.2" letter-spacing="0">1</tspan></text>
<text x="397.4" y="390.5" font-size="7.8" text-anchor="middle" fill="#2a2a2a" stroke="#2a2a2a" stroke-width=".12" letter-spacing=".6">10<tspan dx="-.4" dy="-2.9" font-size="5.2" letter-spacing="0">2</tspan></text>
<text x="411.4" y="390.5" font-size="7.8" text-anchor="middle" fill="#2a2a2a" stroke="#2a2a2a" stroke-width=".12" letter-spacing=".6">10<tspan dx="-.4" dy="-2.9" font-size="5.2" letter-spacing="0">3</tspan></text>
<text x="393.7" y="344.9" font-size="8.4" fill="#222" stroke="#222" stroke-width=".2">0%</text>
<text transform="translate(333.8,353.05) rotate(-90) scale(0.66,1)" font-size="9" font-weight="bold" text-anchor="middle" fill="#2a2a2a">hCD45</text>
<clipPath id="c450_14"><rect x="450.5" y="14.5" width="57" height="52.3"/></clipPath>
<g clip-path="url(#c450_14)">
<path d="M472.4 29.1h.9M463.4 34.3h.9M460.3 33.2h.9M458.5 40.5h.9M474.7 27.3h.9M473.2 41.8h.9M468.7 33.1h.9M474.8 27.6h.9M461.8 33.5h.9M459.3 33.1h.9M464.4 27.5h.9M464.1 31.3h.9M464.0 37.8h.9M461.1 37.7h.9M462.6 38.0h.9M462.2 42.4h.9M468.1 30.6h.9M472.8 31.1h.9M458.6 37.1h.9M459.7 39.8h.9M468.6 31.7h.9M467.9 34.9h.9M462.0 35.8h.9M472.6 31.3h.9M460.3 32.0h.9M462.5 30.8h.9M451.3 37.8h.9M459.7 33.4h.9M454.7 36.4h.9M463.8 33.4h.9M457.7 44.1h.9M477.1 30.2h.9M451.3 32.4h.9M464.5 29.6h.9M458.6 46.3h.9M460.7 38.7h.9M469.3 34.4h.9M465.4 25.1h.9M456.3 35.0h.9M455.4 33.3h.9M457.5 34.5h.9M458.6 39.7h.9M466.3 35.1h.9M465.6 25.2h.9M461.9 33.6h.9M461.8 35.0h.9M474.5 30.4h.9M462.2 33.7h.9M464.3 25.0h.9M456.5 38.7h.9M462.7 40.4h.9M453.1 43.3h.9M454.3 43.7h.9M458.0 33.4h.9M462.3 35.2h.9M450.6 36.0h.9M471.1 31.1h.9M469.2 36.5h.9M461.0 34.7h.9M458.9 32.9h.9M459.0 31.6h.9M472.1 34.5h.9M469.9 33.9h.9M462.3 28.5h.9M465.9 31.1h.9M466.9 31.0h.9M459.5 42.4h.9M463.6 37.2h.9M468.9 38.9h.9M461.0 26.5h.9M462.0 39.2h.9M464.6 36.2h.9M462.2 36.2h.9M473.6 37.0h.9M466.1 37.5h.9M466.9 26.9h.9M461.4 32.4h.9M467.2 33.3h.9M470.2 26.0h.9M457.6 31.1h.9M467.4 33.0h.9M471.3 38.8h.9M463.2 33.5h.9M474.7 28.7h.9M461.6 38.1h.9M461.9 32.0h.9M457.1 40.1h.9M461.7 33.5h.9M470.3 34.7h.9M461.1 41.4h.9M462.9 28.9h.9M458.8 39.6h.9M465.3 32.7h.9M463.3 38.0h.9M467.6 33.7h.9M463.6 36.5h.9M467.0 31.1h.9M473.5 30.5h.9M456.8 41.6h.9M459.4 34.5h.9M459.6 34.6h.9M474.4 25.2h.9M463.3 23.9h.9M459.9 43.6h.9M471.6 35.0h.9M459.1 34.5h.9M462.4 35.5h.9M462.6 29.3h.9M467.0 29.9h.9M462.6 36.4h.9M474.8 28.5h.9M462.8 28.7h.9M470.8 32.5h.9M471.9 33.5h.9M466.1 37.9h.9M462.4 33.2h.9M467.7 33.0h.9M470.7 32.1h.9M458.6 40.1h.9M467.3 28.7h.9M464.6 31.9h.9M460.4 34.2h.9M456.8 36.2h.9M457.2 38.3h.9M471.4 34.6h.9M455.4 35.0h.9M466.2 32.9h.9M467.4 28.6h.9M473.2 31.8h.9M468.0 28.1h.9M459.0 38.7h.9M467.7 32.9h.9M469.2 29.6h.9M462.6 39.5h.9M459.8 36.7h.9M466.9 31.2h.9M466.3 30.1h.9M461.1 40.4h.9M461.2 35.9h.9M458.6 27.6h.9M461.0 36.0h.9M472.3 30.1h.9M468.2 31.0h.9M463.9 30.2h.9M464.8 38.8h.9M459.0 35.9h.9M463.7 33.3h.9M469.4 33.4h.9M456.0 43.1h.9M467.7 37.5h.9M461.1 38.7h.9M453.1 38.9h.9M460.3 35.0h.9M465.9 28.2h.9M462.7 31.7h.9M462.6 35.2h.9M458.0 33.3h.9M458.9 39.6h.9M453.8 37.1h.9M472.6 38.0h.9M461.2 40.7h.9M456.4 42.9h.9M458.8 38.1h.9M469.6 31.8h.9M469.8 23.5h.9M468.7 36.3h.9M470.2 24.7h.9M471.0 32.3h.9M463.3 33.8h.9M465.0 37.9h.9M471.9 29.6h.9M456.2 36.2h.9M458.4 35.1h.9M463.0 35.7h.9M460.8 36.6h.9M466.4 40.5h.9M461.7 37.7h.9M457.3 38.4h.9M463.2 32.9h.9M468.6 34.1h.9M461.9 38.0h.9M452.8 39.3h.9M463.9 33.1h.9M463.1 32.7h.9" stroke="#7070c0" stroke-width=".9" stroke-opacity="0.45" fill="none"/>
<path d="M465.8 29.7h.9M463.1 42.4h.9M462.2 35.1h.9M476.2 32.0h.9M456.4 40.8h.9M450.9 39.6h.9M466.1 35.3h.9M460.5 32.0h.9M466.0 23.2h.9M460.3 49.1h.9M467.4 29.3h.9M469.4 32.1h.9M457.7 36.0h.9M453.3 45.6h.9M468.4 34.8h.9M462.7 37.6h.9M462.5 36.7h.9M463.1 30.2h.9M463.9 30.9h.9M460.3 31.2h.9M463.7 35.6h.9M458.0 34.9h.9M454.5 39.9h.9M473.1 32.3h.9M470.0 31.3h.9M460.9 29.8h.9M457.3 30.3h.9M468.2 39.0h.9M465.3 24.0h.9M463.5 24.5h.9" stroke="#7070c0" stroke-width=".8" stroke-opacity="0.25" fill="none"/>
<ellipse cx="462.9" cy="35" rx="8" ry="4.6" transform="rotate(-40 462.9 35)" fill="#262682" fill-opacity="0.95" filter="url(#bl)"/>
<ellipse cx="462.9" cy="35" rx="5.76" ry="3.31" transform="rotate(-40 462.9 35)" fill="#262682" fill-opacity="0.76"/>
<path d="M465.0 34.8h.9M468.5 33.2h.9M461.6 38.4h.9M460.0 33.7h.9M465.7 32.2h.9M464.3 35.3h.9M462.2 38.4h.9M463.5 32.1h.9M459.8 35.3h.9M462.3 32.7h.9M470.5 31.1h.9M463.4 36.3h.9M463.8 35.5h.9M458.7 38.4h.9M462.2 34.9h.9M462.6 37.0h.9M461.5 41.1h.9M462.4 39.9h.9M460.4 32.9h.9M460.8 39.3h.9M463.7 29.5h.9M462.1 38.2h.9M460.5 34.5h.9M466.5 32.2h.9M456.8 36.5h.9M463.0 32.5h.9M466.3 29.8h.9M464.5 35.2h.9M464.2 33.4h.9M460.5 37.2h.9M455.2 45.4h.9M466.8 34.6h.9M464.5 31.5h.9M464.2 38.3h.9M464.3 32.8h.9M463.9 28.2h.9M465.2 36.4h.9M463.5 33.8h.9M465.9 29.6h.9M464.8 35.8h.9M458.1 36.2h.9M464.7 32.6h.9M461.7 33.1h.9M459.4 42.7h.9M465.7 32.7h.9M459.9 39.3h.9M468.4 32.5h.9M461.8 35.0h.9M461.6 35.5h.9M463.9 35.0h.9M462.4 38.3h.9M457.3 33.9h.9M459.9 33.8h.9M462.9 34.9h.9M465.6 36.1h.9M466.6 33.8h.9M466.0 33.0h.9M457.4 33.5h.9M467.4 33.2h.9M461.5 34.0h.9M458.7 38.3h.9" stroke="#262682" stroke-width=".9" stroke-opacity="0.5" fill="none"/>
<path d="M476.0 49.8h.9M456.0 59.6h.9M464.0 51.4h.9M460.5 61.9h.9M462.3 55.1h.9M465.1 54.6h.9M453.0 62.1h.9M462.2 56.1h.9M464.4 58.2h.9M467.3 49.6h.9M457.3 57.5h.9M461.5 60.1h.9M464.8 48.5h.9M460.7 54.8h.9M463.2 55.9h.9M462.1 53.5h.9M467.4 51.6h.9M457.8 59.7h.9M469.4 46.9h.9M457.6 52.4h.9M472.6 50.5h.9M454.2 60.7h.9M462.6 56.2h.9M460.7 56.8h.9M474.8 48.2h.9M465.7 50.6h.9M458.2 59.3h.9M463.7 54.8h.9M459.1 58.7h.9M457.2 55.5h.9M462.4 57.0h.9M462.3 55.1h.9M463.0 53.8h.9M467.2 51.1h.9M467.1 51.8h.9M469.5 46.6h.9M458.6 56.4h.9M462.1 51.4h.9M465.0 56.7h.9M461.9 60.2h.9" stroke="#f07070" stroke-width=".8" stroke-opacity="0.35" fill="none"/>
<path d="M452.3 55.5h.9M457.3 63.9h.9M458.2 59.6h.9M452.7 53.7h.9M455.0 61.8h.9M451.2 57.7h.9M459.5 54.1h.9M450.7 52.8h.9M450.9 63.9h.9M450.5 57.6h.9M459.3 54.4h.9M451.9 60.3h.9M455.4 61.9h.9M457.9 54.1h.9M450.6 51.7h.9M451.2 58.8h.9M450.7 66.2h.9M452.8 61.3h.9M455.7 54.4h.9M454.7 57.5h.9M455.8 64.2h.9M452.7 55.4h.9M451.0 64.7h.9M457.1 52.7h.9M452.6 66.3h.9M450.9 62.3h.9M456.9 63.5h.9M451.1 64.0h.9M450.7 65.2h.9M454.9 63.3h.9M451.0 63.8h.9M452.0 60.0h.9M450.8 66.7h.9M451.1 61.6h.9M451.5 53.9h.9M456.8 52.8h.9M452.3 64.9h.9M451.3 62.5h.9M450.9 61.9h.9M455.2 59.5h.9M456.8 65.1h.9M455.6 56.7h.9M459.3 65.0h.9M458.5 63.9h.9M456.9 54.3h.9M459.7 57.7h.9M451.0 52.5h.9M450.7 52.0h.9M450.9 56.7h.9M451.1 57.8h.9M451.1 52.5h.9M452.7 59.5h.9M454.6 54.4h.9M458.2 54.6h.9M453.8 60.5h.9M457.3 59.5h.9M457.7 62.3h.9M454.0 64.5h.9M459.0 62.9h.9M450.9 52.0h.9M459.5 66.8h.9M452.7 66.7h.9M459.8 56.0h.9M456.5 59.8h.9M450.8 53.0h.9M457.0 60.7h.9M452.6 53.0h.9M451.1 53.8h.9M456.2 61.5h.9M450.7 58.5h.9M457.1 59.7h.9M451.4 60.5h.9M456.6 62.3h.9M450.7 66.7h.9M451.8 65.0h.9M456.5 58.5h.9M450.7 65.9h.9M456.2 54.8h.9M455.3 53.6h.9M458.4 64.3h.9M456.3 64.4h.9M459.3 58.1h.9M452.7 62.5h.9M452.1 61.1h.9M456.9 66.5h.9M458.5 66.6h.9M458.3 54.4h.9M459.4 57.0h.9M457.3 55.5h.9M453.4 58.0h.9M456.5 57.7h.9M458.6 52.3h.9M450.5 60.2h.9M453.4 60.0h.9M450.8 57.6h.9M459.8 63.6h.9M452.1 66.4h.9M459.7 55.9h.9M452.1 56.0h.9M460.0 59.3h.9M450.9 64.5h.9M459.6 60.2h.9M457.9 66.4h.9M451.1 62.8h.9M458.3 63.0h.9M451.4 66.7h.9M451.2 58.4h.9M450.6 53.4h.9M451.3 51.8h.9M450.7 54.7h.9M458.6 66.7h.9M455.2 55.2h.9M457.1 62.0h.9M456.3 65.4h.9M452.7 66.4h.9M454.4 57.2h.9M451.5 66.7h.9M450.5 65.5h.9M456.2 51.5h.9M458.3 54.0h.9M450.7 61.7h.9M458.1 58.8h.9M458.5 65.1h.9M451.4 64.2h.9M457.4 60.2h.9M455.7 60.8h.9M450.6 59.1h.9M457.4 52.6h.9M450.9 58.9h.9M450.8 64.7h.9M452.0 55.6h.9M457.5 63.2h.9M450.9 64.4h.9M450.9 53.3h.9M454.6 63.8h.9M450.9 66.7h.9M458.4 64.9h.9M450.7 56.4h.9M456.4 62.3h.9M456.3 66.2h.9M458.4 54.3h.9M450.7 61.0h.9" stroke="#f25a50" stroke-width=".9" stroke-opacity="0.45" fill="none"/>
<rect x="449" y="54.5" width="8.800000000000011" height="13.5" rx="1.5" fill="#e8120c" fill-opacity="0.95" filter="url(#bl)"/>
</g>
<line x1="450.5" y1="14.5" x2="507.5" y2="14.5" stroke="#bbb" stroke-width=".9"/>
<line x1="450.5" y1="66.8" x2="507.5" y2="66.8" stroke="#999" stroke-width=".9"/>
<line x1="450.5" y1="14.5" x2="450.5" y2="66.8" stroke="#666" stroke-width=".9"/>
<line x1="507.5" y1="14.5" x2="507.5" y2="66.8" stroke="#888" stroke-width=".9"/>
<line x1="459.4" y1="14.5" x2="459.4" y2="66.8" stroke="#888" stroke-width=".9"/>
<line x1="450.5" y1="45.9" x2="507.5" y2="45.9" stroke="#999" stroke-width=".9"/>
<text x="451.5" y="17.9" font-size="2.6" fill="#aaa">Q- -</text>
<text x="460.4" y="17.9" font-size="2.6" fill="#aaa">Q- -</text>
<text x="451.5" y="49.3" font-size="2.6" fill="#aaa">Q- -</text>
<text x="460.4" y="49.3" font-size="2.6" fill="#aaa">Q- -</text>
<text x="448.3" y="17.7" font-size="7.8" text-anchor="end" fill="#2a2a2a" stroke="#2a2a2a" stroke-width=".12" letter-spacing=".6">10<tspan dx="-.4" dy="-2.9" font-size="5.2" letter-spacing="0">3</tspan></text>
<text x="448.3" y="30.8" font-size="7.8" text-anchor="end" fill="#2a2a2a" stroke="#2a2a2a" stroke-width=".12" letter-spacing=".6">10<tspan dx="-.4" dy="-2.9" font-size="5.2" letter-spacing="0">2</tspan></text>
<text x="448.3" y="43.699999999999996" font-size="7.8" text-anchor="end" fill="#2a2a2a" stroke="#2a2a2a" stroke-width=".12" letter-spacing=".6">10<tspan dx="-.4" dy="-2.9" font-size="5.2" letter-spacing="0">1</tspan></text>
<text x="448.3" y="56.599999999999994" font-size="7.8" text-anchor="end" fill="#2a2a2a" stroke="#2a2a2a" stroke-width=".12" letter-spacing=".6">10<tspan dx="-.4" dy="-2.9" font-size="5.2" letter-spacing="0">0</tspan></text>
<text x="465.4" y="78.7" font-size="7.8" text-anchor="middle" fill="#2a2a2a" stroke="#2a2a2a" stroke-width=".12" letter-spacing=".6">10<tspan dx="-.4" dy="-2.9" font-size="5.2" letter-spacing="0">0</tspan></text>
<text x="479.4" y="78.7" font-size="7.8" text-anchor="middle" fill="#2a2a2a" stroke="#2a2a2a" stroke-width=".12" letter-spacing=".6">10<tspan dx="-.4" dy="-2.9" font-size="5.2" letter-spacing="0">1</tspan></text>
<text x="493.4" y="78.7" font-size="7.8" text-anchor="middle" fill="#2a2a2a" stroke="#2a2a2a" stroke-width=".12" letter-spacing=".6">10<tspan dx="-.4" dy="-2.9" font-size="5.2" letter-spacing="0">2</tspan></text>
<text x="507.4" y="78.7" font-size="7.8" text-anchor="middle" fill="#2a2a2a" stroke="#2a2a2a" stroke-width=".12" letter-spacing=".6">10<tspan dx="-.4" dy="-2.9" font-size="5.2" letter-spacing="0">3</tspan></text>
<text x="483.8" y="25.4" font-size="8.4" fill="#222" stroke="#222" stroke-width=".2">18%</text>
<text transform="translate(431.4,41.65) rotate(-90) scale(0.66,1)" font-size="9" font-weight="bold" text-anchor="middle" fill="#2a2a2a">hCD45</text>
<clipPath id="c450_93"><rect x="450.5" y="93.3" width="57" height="52.000000000000014"/></clipPath>
<g clip-path="url(#c450_93)">
<path d="M458.9 109.7h.9M472.8 110.0h.9M473.1 101.9h.9M466.9 121.0h.9M470.0 103.5h.9M460.8 106.5h.9M467.5 114.3h.9M463.1 117.2h.9M470.3 111.2h.9M464.0 102.1h.9M461.2 110.6h.9M472.4 113.3h.9M475.0 116.8h.9M463.7 103.9h.9M464.4 113.1h.9M469.1 112.5h.9M458.8 117.1h.9M467.1 108.6h.9M460.4 112.0h.9M450.7 124.7h.9M462.3 118.3h.9M459.9 121.9h.9M464.5 116.6h.9M471.7 107.8h.9M466.6 119.2h.9M462.6 107.5h.9M467.5 104.8h.9M460.6 114.4h.9M466.6 111.2h.9M455.8 114.2h.9M470.5 112.7h.9M466.4 120.1h.9M463.6 111.3h.9M464.5 119.5h.9M465.3 109.1h.9M457.1 112.6h.9M464.5 110.0h.9M472.1 113.5h.9M461.0 121.5h.9M467.2 105.3h.9M461.2 113.2h.9M466.0 105.5h.9M475.6 109.7h.9M467.7 107.3h.9M473.3 106.4h.9M473.9 106.9h.9M465.3 112.3h.9M472.6 110.5h.9M468.9 119.0h.9M467.8 112.9h.9M473.7 113.0h.9M456.0 111.1h.9M460.7 111.6h.9M471.7 109.3h.9M462.9 108.6h.9M467.1 110.8h.9M463.2 111.4h.9M467.6 110.9h.9M470.5 109.4h.9M476.5 112.1h.9M475.4 108.2h.9M461.2 115.2h.9M476.9 108.1h.9M466.7 111.2h.9M457.8 117.1h.9M462.4 114.8h.9M466.7 116.2h.9M465.8 109.8h.9M456.3 120.5h.9M464.2 109.9h.9M472.3 110.4h.9M467.5 107.7h.9M464.9 122.3h.9M467.8 105.8h.9M463.4 106.5h.9M452.8 125.5h.9M466.7 107.5h.9M475.2 107.1h.9M462.7 114.4h.9M458.0 115.7h.9M469.0 112.5h.9M466.0 109.6h.9M454.6 116.3h.9M472.9 109.1h.9M460.7 116.3h.9M460.0 113.4h.9M469.6 113.2h.9M464.1 117.2h.9M464.6 109.7h.9M472.4 103.8h.9M466.7 109.3h.9M469.8 107.6h.9M464.9 115.9h.9M467.2 108.6h.9M472.0 112.6h.9M457.3 109.4h.9M458.8 114.6h.9M472.0 102.2h.9M461.0 116.6h.9M457.7 116.2h.9M470.7 106.3h.9M464.6 115.1h.9M461.2 109.2h.9M467.3 103.7h.9M457.8 112.0h.9M461.8 114.8h.9M473.0 104.4h.9M475.2 103.5h.9M460.1 119.7h.9M468.7 103.2h.9M461.5 110.6h.9M469.7 105.9h.9M458.6 116.2h.9M472.9 109.5h.9M464.1 108.7h.9M471.3 111.3h.9M461.2 113.9h.9M470.1 111.9h.9M470.5 112.2h.9M472.8 108.5h.9M464.7 106.1h.9M463.1 109.4h.9M466.6 114.0h.9M463.9 109.3h.9M475.5 109.7h.9M468.4 113.5h.9M457.4 117.5h.9M477.3 109.1h.9M466.3 102.8h.9M465.2 106.4h.9M468.2 114.9h.9M467.5 112.8h.9M461.9 107.9h.9M460.2 114.7h.9M462.3 118.4h.9M465.0 109.5h.9M476.5 111.3h.9M473.3 108.3h.9M474.1 106.8h.9M462.4 116.8h.9M464.5 113.5h.9M454.3 120.5h.9M475.6 103.5h.9M461.7 113.1h.9M471.0 118.1h.9M470.2 114.4h.9M464.5 115.5h.9M463.7 121.2h.9M463.7 112.3h.9M471.1 117.1h.9M461.7 118.3h.9M461.5 116.8h.9M463.0 120.2h.9M473.6 103.3h.9M452.1 116.6h.9M460.8 119.2h.9M463.6 111.4h.9M464.4 115.2h.9M471.6 109.5h.9M467.4 112.2h.9M458.8 113.5h.9M463.0 113.4h.9M464.7 109.5h.9M466.0 112.3h.9M470.4 110.7h.9M468.0 111.0h.9M455.9 117.4h.9M466.0 112.1h.9M463.3 120.8h.9M470.4 106.1h.9M468.6 101.6h.9M471.5 108.0h.9M460.8 111.7h.9M465.3 108.6h.9M464.3 110.8h.9M467.0 101.9h.9M468.6 109.4h.9M471.8 111.0h.9M450.9 124.4h.9M460.1 115.8h.9M466.6 114.2h.9M468.0 105.8h.9M476.7 103.9h.9M466.4 109.1h.9M467.0 118.4h.9M461.8 119.0h.9M472.9 109.8h.9M467.0 111.1h.9M454.7 116.7h.9M467.2 112.8h.9M471.9 110.5h.9M468.3 109.8h.9M474.3 106.2h.9M472.4 114.8h.9M462.5 111.2h.9M469.3 108.9h.9M468.9 105.1h.9M463.7 116.6h.9M465.5 109.4h.9M469.6 108.0h.9M466.9 113.6h.9M475.3 108.4h.9M457.4 113.8h.9M461.6 108.0h.9M464.9 112.5h.9M467.6 109.0h.9M460.6 114.8h.9" stroke="#7070c0" stroke-width=".9" stroke-opacity="0.45" fill="none"/>
<path d="M467.7 109.8h.9M465.6 114.8h.9M474.7 108.2h.9M462.9 120.8h.9M472.6 106.8h.9M455.9 124.1h.9M462.8 114.1h.9M470.2 117.1h.9M468.1 115.0h.9M450.5 114.7h.9M457.8 108.9h.9M465.0 98.6h.9M473.5 108.4h.9M468.8 114.4h.9M467.0 109.9h.9M458.5 133.8h.9M469.5 101.6h.9M466.2 111.2h.9M466.9 110.4h.9M456.3 120.5h.9M478.6 107.7h.9M470.1 102.7h.9M464.3 108.6h.9M467.7 114.4h.9M464.9 102.8h.9M465.7 110.2h.9M467.4 110.9h.9M454.3 109.2h.9M470.6 112.6h.9M461.1 105.2h.9M471.1 100.3h.9M476.3 103.0h.9M462.7 104.1h.9" stroke="#7070c0" stroke-width=".8" stroke-opacity="0.25" fill="none"/>
<ellipse cx="465.3" cy="112.2" rx="9" ry="4.6" transform="rotate(-40 465.3 112.2)" fill="#262682" fill-opacity="0.95" filter="url(#bl)"/>
<ellipse cx="465.3" cy="112.2" rx="6.48" ry="3.31" transform="rotate(-40 465.3 112.2)" fill="#262682" fill-opacity="0.76"/>
<path d="M466.6 108.0h.9M470.0 108.9h.9M462.4 115.7h.9M468.2 114.7h.9M467.2 113.0h.9M466.4 108.7h.9M464.6 115.1h.9M465.0 110.8h.9M466.1 111.6h.9M464.4 112.2h.9M464.8 111.8h.9M467.1 109.3h.9M465.3 107.8h.9M465.5 113.7h.9M467.8 111.4h.9M464.7 116.2h.9M463.4 115.9h.9M460.5 113.4h.9M466.9 111.1h.9M468.7 112.4h.9M470.1 113.2h.9M467.1 113.2h.9M460.5 116.0h.9M463.6 113.1h.9M468.6 115.5h.9M461.6 111.2h.9M467.2 112.7h.9M460.7 117.3h.9M467.2 110.4h.9M465.4 112.9h.9M463.4 111.0h.9M469.0 109.6h.9M470.2 107.1h.9M463.5 110.2h.9M464.6 111.6h.9M470.7 106.0h.9M461.3 113.4h.9M465.8 110.7h.9M465.4 109.2h.9M464.8 116.1h.9M467.6 115.6h.9M467.9 110.6h.9M467.1 115.1h.9M465.7 110.3h.9M467.8 112.7h.9M464.5 112.4h.9M462.3 113.3h.9M464.5 113.8h.9M458.3 118.7h.9M471.7 106.4h.9M463.0 114.8h.9M468.2 105.5h.9M462.7 112.4h.9M467.8 111.4h.9M462.6 117.6h.9M469.8 108.9h.9M463.2 110.0h.9M466.2 109.0h.9M465.3 111.4h.9M459.2 112.1h.9M466.0 111.5h.9M463.0 110.8h.9M462.8 110.3h.9M462.2 115.6h.9M465.7 110.6h.9M457.6 114.0h.9M458.9 112.0h.9M464.7 111.8h.9M465.8 110.2h.9" stroke="#262682" stroke-width=".9" stroke-opacity="0.5" fill="none"/>
<path d="M467.1 128.5h.9M459.1 136.1h.9M469.9 130.6h.9M460.7 134.5h.9M469.1 125.5h.9M469.7 131.4h.9M466.9 136.0h.9M467.1 133.7h.9M464.1 136.9h.9M468.5 130.2h.9M469.5 131.2h.9M475.6 127.3h.9M456.0 139.3h.9M461.0 132.4h.9M468.7 128.2h.9M463.2 133.4h.9M463.8 132.3h.9M459.1 133.6h.9M460.7 135.0h.9M461.6 129.4h.9M465.1 135.4h.9M477.6 127.1h.9M457.6 137.2h.9M461.1 132.6h.9M464.5 131.3h.9M469.7 130.5h.9M466.8 134.1h.9M462.9 134.4h.9M463.2 134.5h.9M463.3 130.8h.9M459.1 131.3h.9M463.2 131.7h.9M461.4 134.5h.9M461.2 135.0h.9M470.0 129.3h.9M459.9 138.0h.9M465.4 129.1h.9M468.6 134.7h.9M464.1 135.4h.9M467.9 128.9h.9M462.8 131.4h.9M469.7 126.8h.9M471.5 127.6h.9M466.6 134.8h.9M461.2 133.0h.9M467.4 127.2h.9M461.2 133.2h.9M460.9 124.7h.9M454.9 139.3h.9M456.5 137.1h.9M458.7 134.2h.9M454.5 135.8h.9M458.6 131.2h.9M466.5 128.3h.9M468.9 127.6h.9M462.7 133.1h.9M453.9 139.3h.9M456.2 135.6h.9M462.4 134.5h.9M456.4 136.4h.9" stroke="#f07070" stroke-width=".8" stroke-opacity="0.35" fill="none"/>
<path d="M459.4 144.9h.9M451.0 135.0h.9M450.7 129.8h.9M451.9 143.0h.9M452.9 134.2h.9M452.2 143.4h.9M455.7 129.6h.9M453.0 136.8h.9M454.4 139.6h.9M459.5 138.7h.9M450.7 136.2h.9M450.7 133.2h.9M451.1 135.9h.9M450.6 131.0h.9M450.9 131.5h.9M458.7 144.8h.9M450.8 134.0h.9M453.2 142.6h.9M452.4 138.0h.9M458.4 143.7h.9M450.9 144.7h.9M450.6 139.8h.9M454.1 136.7h.9M452.9 144.9h.9M455.7 137.6h.9M454.8 128.2h.9M454.5 140.9h.9M451.0 142.3h.9M453.2 133.5h.9M450.9 138.8h.9M450.9 130.2h.9M457.3 140.3h.9M458.1 131.6h.9M451.5 128.1h.9M451.0 131.6h.9M452.6 131.4h.9M454.9 135.8h.9M458.1 144.3h.9M450.6 136.3h.9M457.1 133.9h.9M450.7 135.3h.9M452.0 145.2h.9M452.1 144.9h.9M450.5 130.4h.9M450.6 145.2h.9M458.1 145.2h.9M458.7 140.4h.9M450.9 131.8h.9M454.2 144.9h.9M455.2 132.5h.9M451.5 128.2h.9M450.7 145.2h.9M452.7 140.9h.9M455.1 144.7h.9M453.5 140.9h.9M453.7 130.8h.9M454.2 131.5h.9M454.5 138.9h.9M450.9 135.5h.9M450.6 135.3h.9M456.2 129.5h.9M450.7 145.2h.9M455.8 128.0h.9M455.8 133.1h.9M451.1 137.3h.9M450.5 130.0h.9M458.5 137.6h.9M451.9 144.7h.9M453.4 135.6h.9M455.3 136.6h.9M452.4 142.9h.9M459.7 134.5h.9M455.5 130.6h.9M454.0 145.2h.9M451.0 145.3h.9M452.5 131.6h.9M450.9 141.1h.9M454.9 132.4h.9M452.5 133.5h.9M457.5 141.8h.9M456.5 140.7h.9M458.7 128.8h.9M458.0 144.3h.9M452.5 144.8h.9M451.0 142.0h.9M452.7 141.7h.9M450.6 144.7h.9M456.5 133.9h.9M451.4 145.0h.9M451.0 129.1h.9M457.3 141.0h.9M458.3 137.3h.9M452.9 142.9h.9M455.7 144.9h.9M450.6 139.6h.9M454.1 132.0h.9M452.5 145.1h.9M458.8 140.1h.9M451.0 144.4h.9M454.6 135.6h.9M450.7 143.4h.9M451.1 130.1h.9M453.7 144.6h.9M452.0 134.1h.9M453.7 142.6h.9M456.1 139.1h.9M457.7 144.0h.9M453.7 141.5h.9M452.8 139.1h.9M450.6 140.3h.9M459.2 145.1h.9M451.2 141.5h.9M458.8 128.1h.9M458.7 133.1h.9M452.3 136.1h.9M451.8 141.2h.9M450.8 144.8h.9M450.8 144.8h.9M458.6 139.0h.9M458.0 133.0h.9M450.8 141.0h.9M450.6 140.9h.9M450.7 136.9h.9M459.1 133.6h.9M454.4 134.0h.9M453.4 135.8h.9M459.4 144.2h.9M452.5 132.7h.9M450.8 138.6h.9M454.5 130.8h.9M452.5 144.9h.9M450.8 135.1h.9M455.1 142.8h.9M451.0 131.4h.9M458.7 133.7h.9M450.7 132.3h.9M450.6 145.1h.9M451.0 134.9h.9M457.5 144.3h.9M456.8 137.5h.9M454.3 142.1h.9M450.8 141.1h.9M453.6 140.7h.9M455.1 141.6h.9M450.9 136.6h.9M453.6 128.9h.9M450.9 141.2h.9M451.4 134.6h.9M450.7 140.4h.9M453.3 134.0h.9M451.1 138.2h.9M454.2 140.8h.9M458.3 141.7h.9M453.7 140.8h.9M453.6 129.0h.9M450.6 143.2h.9M454.5 145.0h.9" stroke="#f25a50" stroke-width=".9" stroke-opacity="0.45" fill="none"/>
<rect x="449" y="131" width="8.199999999999989" height="16" rx="1.5" fill="#e8120c" fill-opacity="0.95" filter="url(#bl)"/>
<path d="M452.0 136.8h.9M454.8 131.4h.9M450.8 129.5h.9M456.0 132.2h.9M450.9 133.6h.9M450.8 134.3h.9M452.0 132.3h.9M451.5 133.9h.9M455.0 135.0h.9M455.0 131.1h.9M456.9 129.6h.9M459.0 133.1h.9M450.7 134.6h.9M454.6 133.9h.9M450.6 131.5h.9M454.8 133.8h.9M456.4 139.1h.9M453.9 133.1h.9M452.4 134.7h.9M453.6 129.8h.9M453.6 133.0h.9M450.8 135.4h.9M455.0 133.3h.9M453.6 135.3h.9M452.5 135.6h.9M451.7 134.4h.9M456.2 134.8h.9M450.6 133.7h.9M452.0 134.3h.9M454.7 131.1h.9M458.3 132.6h.9M450.5 131.3h.9M456.0 135.1h.9M450.9 130.4h.9M458.5 135.5h.9M454.5 127.1h.9M451.0 131.9h.9M455.8 131.7h.9M452.9 133.8h.9M455.9 129.0h.9M453.3 132.1h.9M455.7 137.0h.9M451.7 131.7h.9M453.6 132.0h.9M454.4 130.3h.9M451.0 136.3h.9M453.5 130.3h.9M455.1 136.4h.9M452.7 134.4h.9M452.3 134.9h.9M458.1 139.7h.9M454.7 125.8h.9M451.0 132.7h.9M453.0 135.3h.9M452.9 128.5h.9M454.4 134.5h.9" stroke="#f25a50" stroke-width=".9" stroke-opacity="0.45" fill="none"/>
<path d="M455.6 133.9h.9M450.6 134.0h.9M454.9 135.0h.9M459.4 135.7h.9M450.6 134.7h.9M450.6 129.9h.9M460.3 131.0h.9M454.8 127.6h.9M451.2 135.8h.9" stroke="#f25a50" stroke-width=".8" stroke-opacity="0.25" fill="none"/>
<ellipse cx="453" cy="133" rx="3.5" ry="4" transform="rotate(0 453 133)" fill="#e8120c" fill-opacity="0.35" filter="url(#bl)"/>
<path d="M452.2 132.3h.9M451.8 132.9h.9M452.7 132.8h.9M451.7 133.2h.9M454.4 134.9h.9M453.9 130.2h.9M450.7 131.8h.9M454.3 132.4h.9M451.5 132.4h.9M453.2 130.7h.9M454.0 131.4h.9M451.4 134.4h.9M454.1 131.5h.9M454.3 128.9h.9M451.5 131.7h.9M452.7 137.2h.9M453.0 132.3h.9M452.6 127.2h.9" stroke="#e8120c" stroke-width=".9" stroke-opacity="0.5" fill="none"/>
</g>
<line x1="450.5" y1="93.3" x2="507.5" y2="93.3" stroke="#bbb" stroke-width=".9"/>
<line x1="450.5" y1="145.3" x2="507.5" y2="145.3" stroke="#999" stroke-width=".9"/>
<line x1="450.5" y1="93.3" x2="450.5" y2="145.3" stroke="#666" stroke-width=".9"/>
<line x1="507.5" y1="93.3" x2="507.5" y2="145.3" stroke="#888" stroke-width=".9"/>
<line x1="459.4" y1="93.3" x2="459.4" y2="145.3" stroke="#888" stroke-width=".9"/>
<line x1="450.5" y1="124.6" x2="507.5" y2="124.6" stroke="#999" stroke-width=".9"/>
<text x="451.5" y="96.7" font-size="2.6" fill="#aaa">Q- -</text>
<text x="460.4" y="96.7" font-size="2.6" fill="#aaa">Q- -</text>
<text x="451.5" y="128.0" font-size="2.6" fill="#aaa">Q- -</text>
<text x="460.4" y="128.0" font-size="2.6" fill="#aaa">Q- -</text>
<text x="448.3" y="96.5" font-size="7.8" text-anchor="end" fill="#2a2a2a" stroke="#2a2a2a" stroke-width=".12" letter-spacing=".6">10<tspan dx="-.4" dy="-2.9" font-size="5.2" letter-spacing="0">3</tspan></text>
<text x="448.3" y="109.6" font-size="7.8" text-anchor="end" fill="#2a2a2a" stroke="#2a2a2a" stroke-width=".12" letter-spacing=".6">10<tspan dx="-.4" dy="-2.9" font-size="5.2" letter-spacing="0">2</tspan></text>
<text x="448.3" y="122.49999999999999" font-size="7.8" text-anchor="end" fill="#2a2a2a" stroke="#2a2a2a" stroke-width=".12" letter-spacing=".6">10<tspan dx="-.4" dy="-2.9" font-size="5.2" letter-spacing="0">1</tspan></text>
<text x="448.3" y="135.4" font-size="7.8" text-anchor="end" fill="#2a2a2a" stroke="#2a2a2a" stroke-width=".12" letter-spacing=".6">10<tspan dx="-.4" dy="-2.9" font-size="5.2" letter-spacing="0">0</tspan></text>
<text x="465.4" y="157.20000000000002" font-size="7.8" text-anchor="middle" fill="#2a2a2a" stroke="#2a2a2a" stroke-width=".12" letter-spacing=".6">10<tspan dx="-.4" dy="-2.9" font-size="5.2" letter-spacing="0">0</tspan></text>
<text x="479.4" y="157.20000000000002" font-size="7.8" text-anchor="middle" fill="#2a2a2a" stroke="#2a2a2a" stroke-width=".12" letter-spacing=".6">10<tspan dx="-.4" dy="-2.9" font-size="5.2" letter-spacing="0">1</tspan></text>
<text x="493.4" y="157.20000000000002" font-size="7.8" text-anchor="middle" fill="#2a2a2a" stroke="#2a2a2a" stroke-width=".12" letter-spacing=".6">10<tspan dx="-.4" dy="-2.9" font-size="5.2" letter-spacing="0">2</tspan></text>
<text x="507.4" y="157.20000000000002" font-size="7.8" text-anchor="middle" fill="#2a2a2a" stroke="#2a2a2a" stroke-width=".12" letter-spacing=".6">10<tspan dx="-.4" dy="-2.9" font-size="5.2" letter-spacing="0">3</tspan></text>
<text x="482.6" y="107" font-size="8.4" fill="#222" stroke="#222" stroke-width=".2">21%</text>
<clipPath id="c450_171"><rect x="450.5" y="171.3" width="57" height="51.099999999999994"/></clipPath>
<g clip-path="url(#c450_171)">
<path d="M465.9 187.2h.9M471.2 181.7h.9M467.3 186.6h.9M462.8 190.5h.9M459.2 191.3h.9M467.3 185.8h.9M470.7 185.4h.9M462.9 196.2h.9M460.6 186.9h.9M470.4 185.4h.9M455.6 197.6h.9M461.4 192.9h.9M468.7 182.1h.9M464.9 190.1h.9M457.6 191.5h.9M451.1 188.1h.9M471.1 187.0h.9M463.4 189.6h.9M455.7 189.4h.9M470.0 187.5h.9M464.8 185.4h.9M466.9 186.0h.9M456.4 195.5h.9M458.0 192.4h.9M467.6 187.9h.9M472.2 187.6h.9M461.0 192.0h.9M469.1 188.9h.9M455.2 196.7h.9M464.8 188.4h.9M463.7 193.1h.9M465.4 186.4h.9M466.9 190.0h.9M466.3 188.8h.9M461.9 192.5h.9M469.7 187.2h.9M469.1 192.2h.9M451.5 198.6h.9M462.6 194.6h.9M470.2 185.3h.9M467.1 187.8h.9M452.6 192.8h.9M464.1 187.9h.9M469.9 180.6h.9M467.8 189.4h.9M464.2 186.1h.9M459.1 189.0h.9M467.1 188.2h.9M469.9 185.8h.9M469.3 187.1h.9M465.5 186.5h.9M467.3 185.9h.9M467.5 186.6h.9M469.1 187.6h.9M461.9 193.6h.9M461.9 193.9h.9M460.8 191.7h.9M468.8 188.4h.9M469.6 188.0h.9M465.4 194.3h.9M462.9 188.7h.9M467.5 193.7h.9M470.5 185.3h.9M463.6 188.6h.9M466.6 186.1h.9M461.7 192.3h.9M458.6 187.9h.9M460.6 189.9h.9M460.7 194.4h.9M472.0 183.3h.9M467.8 190.9h.9M472.7 182.8h.9M459.5 193.9h.9M467.8 187.0h.9M456.3 190.2h.9M458.8 195.0h.9M474.5 185.1h.9M463.8 190.3h.9M467.7 189.5h.9M468.2 190.2h.9M466.2 187.1h.9M467.6 189.2h.9M471.6 186.4h.9M470.7 189.7h.9M467.2 180.1h.9M466.0 188.8h.9M461.6 193.0h.9M472.0 184.7h.9M468.5 189.2h.9M472.4 189.3h.9M460.5 192.1h.9M456.9 190.6h.9M467.8 186.4h.9M464.3 184.7h.9M462.4 186.5h.9M459.2 193.0h.9M463.7 192.0h.9M462.0 186.8h.9M463.8 189.4h.9M461.5 191.5h.9M455.7 194.1h.9M463.0 192.0h.9M456.1 192.3h.9M463.5 191.4h.9M460.0 195.9h.9M468.5 189.6h.9M462.6 191.7h.9M473.5 185.1h.9M459.7 191.8h.9M458.0 192.8h.9M458.6 186.1h.9M458.2 188.7h.9M467.9 187.0h.9M474.6 183.7h.9M470.4 185.1h.9M458.6 190.4h.9M462.6 188.9h.9M469.0 186.5h.9M465.3 184.5h.9M463.0 192.1h.9M470.2 181.5h.9M462.6 195.0h.9M469.6 187.9h.9M467.1 189.0h.9M469.6 190.4h.9M466.6 185.7h.9M465.3 189.6h.9M463.1 192.0h.9M458.6 196.6h.9M472.4 183.5h.9M466.8 186.3h.9M464.0 191.3h.9M456.3 196.4h.9M453.7 191.1h.9M463.5 190.8h.9M464.0 192.0h.9M462.0 189.3h.9M471.0 185.2h.9M465.4 187.1h.9M463.0 186.4h.9M458.0 194.5h.9M456.2 194.8h.9M463.9 188.7h.9M466.3 189.9h.9" stroke="#7070c0" stroke-width=".9" stroke-opacity="0.45" fill="none"/>
<path d="M459.9 191.5h.9M459.9 195.6h.9M459.8 190.2h.9M472.4 185.2h.9M458.0 199.3h.9M465.3 197.1h.9M473.5 187.0h.9M452.6 199.3h.9M463.4 200.6h.9M472.0 186.4h.9M485.8 182.0h.9M452.8 198.5h.9M453.7 187.4h.9M485.1 177.9h.9M450.6 200.8h.9M461.5 192.8h.9M457.9 189.3h.9M476.8 186.8h.9M463.6 191.0h.9M483.4 179.3h.9M470.7 181.7h.9M458.9 187.1h.9M487.2 177.1h.9M453.8 191.1h.9" stroke="#7070c0" stroke-width=".8" stroke-opacity="0.25" fill="none"/>
<ellipse cx="464.1" cy="189.7" rx="8.5" ry="3.4" transform="rotate(-35 464.1 189.7)" fill="#262682" fill-opacity="0.65" filter="url(#bl)"/>
<path d="M462.1 186.7h.9M468.4 184.0h.9M463.6 192.3h.9M467.2 186.5h.9M463.0 190.8h.9M466.5 188.4h.9M466.6 186.9h.9M465.9 188.3h.9M467.2 187.2h.9M470.2 182.7h.9M460.1 193.0h.9M462.6 191.4h.9M466.4 188.7h.9M459.2 190.8h.9M460.7 186.5h.9M459.8 195.0h.9M461.0 192.6h.9M461.2 193.4h.9M466.5 192.5h.9M462.9 188.4h.9M465.1 189.8h.9M466.3 188.7h.9M460.4 192.2h.9M458.2 190.2h.9M461.2 190.7h.9M463.0 190.7h.9M461.8 190.3h.9M462.2 193.6h.9M462.1 190.7h.9M458.6 191.5h.9M464.6 189.1h.9M464.9 190.6h.9M465.6 190.2h.9M466.0 190.6h.9M468.4 187.9h.9M462.4 190.0h.9M463.5 188.9h.9M468.0 188.5h.9M469.2 188.8h.9M466.7 189.3h.9M457.6 193.5h.9M465.0 191.6h.9M466.5 188.2h.9M461.9 191.1h.9M468.4 193.4h.9M468.9 184.6h.9M461.5 188.0h.9M466.4 185.9h.9" stroke="#262682" stroke-width=".9" stroke-opacity="0.5" fill="none"/>
<path d="M467.9 208.7h.9M463.4 208.8h.9M459.1 208.6h.9M468.4 201.3h.9M464.3 210.2h.9M469.5 205.7h.9M463.6 208.2h.9M469.7 205.9h.9M457.9 208.5h.9M464.0 212.1h.9M465.0 211.3h.9M462.1 208.5h.9M464.2 204.4h.9M466.4 204.6h.9M473.9 208.6h.9M459.8 212.3h.9M464.7 207.3h.9M463.5 205.7h.9M463.0 211.3h.9M458.8 212.2h.9M468.8 199.2h.9M463.0 214.2h.9M467.0 205.4h.9M456.1 213.8h.9M461.6 209.7h.9M476.5 206.2h.9M465.2 209.2h.9M455.9 215.4h.9M467.1 214.3h.9M467.0 206.0h.9M456.6 217.7h.9M474.8 203.3h.9M463.1 213.0h.9M465.8 209.6h.9M465.8 214.6h.9M468.2 212.8h.9M476.7 204.4h.9M464.6 203.7h.9M462.5 213.3h.9M470.4 202.9h.9M469.6 209.1h.9M465.0 207.5h.9M457.8 214.0h.9M457.7 215.0h.9M472.2 205.1h.9M475.4 204.6h.9M462.0 210.9h.9M455.1 215.1h.9M467.0 214.2h.9M466.2 204.5h.9" stroke="#f07070" stroke-width=".8" stroke-opacity="0.35" fill="none"/>
<path d="M450.9 218.8h.9M459.6 210.1h.9M451.2 222.3h.9M451.7 220.2h.9M456.9 218.5h.9M459.1 220.4h.9M451.6 213.6h.9M455.4 211.3h.9M454.4 219.4h.9M450.9 222.3h.9M454.5 211.7h.9M451.1 216.8h.9M460.3 212.2h.9M450.8 210.2h.9M450.6 219.5h.9M451.3 222.2h.9M455.4 219.8h.9M453.0 220.8h.9M452.9 220.4h.9M453.2 208.9h.9M451.0 208.7h.9M453.6 215.5h.9M458.8 208.1h.9M452.3 209.0h.9M455.8 210.5h.9M456.6 212.6h.9M457.3 218.3h.9M459.5 211.4h.9M453.6 216.3h.9M457.1 215.7h.9M456.5 212.5h.9M453.9 212.8h.9M451.5 219.1h.9M455.8 222.1h.9M453.0 211.7h.9M453.7 214.9h.9M459.7 221.4h.9M458.0 209.5h.9M453.9 215.1h.9M459.9 221.3h.9M457.1 214.1h.9M460.3 219.5h.9M455.9 220.6h.9M458.3 209.9h.9M450.9 218.1h.9M457.4 213.6h.9M450.6 218.9h.9M459.7 216.3h.9M460.0 215.5h.9M454.8 220.8h.9M450.6 210.4h.9M454.5 221.3h.9M452.8 208.8h.9M452.0 219.3h.9M450.8 218.8h.9M450.9 221.9h.9M450.6 215.9h.9M457.4 215.3h.9M459.8 217.2h.9M453.5 207.6h.9M460.3 221.9h.9M453.1 219.0h.9M456.4 214.5h.9M455.5 214.2h.9M455.0 212.9h.9M451.1 209.7h.9M453.3 212.8h.9M450.8 207.7h.9M458.0 211.9h.9M451.9 213.2h.9M451.1 218.6h.9M453.5 208.2h.9M454.2 213.9h.9M451.3 211.0h.9M456.8 220.6h.9M459.5 218.0h.9M451.1 220.8h.9M455.4 217.8h.9M450.8 215.9h.9M453.8 222.1h.9M455.4 216.6h.9M450.7 214.9h.9M456.4 222.3h.9M454.7 212.1h.9M451.0 222.2h.9M450.8 218.1h.9M452.1 209.1h.9M451.0 222.2h.9M450.8 213.1h.9M456.1 210.3h.9M451.0 214.5h.9M450.8 213.3h.9M459.0 215.3h.9M458.7 212.9h.9M459.4 218.6h.9M453.0 218.4h.9M457.2 221.7h.9M459.3 213.1h.9M450.7 222.2h.9M450.7 215.3h.9M454.1 219.1h.9M450.9 222.4h.9M450.9 215.9h.9M453.9 208.8h.9M451.1 210.9h.9M452.6 220.0h.9M453.3 214.4h.9M459.9 221.3h.9M451.3 212.9h.9M459.2 207.7h.9M455.9 210.0h.9M453.9 208.9h.9M460.3 208.5h.9M455.0 222.3h.9M454.9 207.6h.9M453.5 213.4h.9M451.9 221.8h.9M453.8 216.6h.9M453.6 208.2h.9M450.9 210.4h.9M456.5 214.5h.9M451.9 222.2h.9M459.8 220.3h.9M451.8 208.6h.9M456.0 210.5h.9M453.0 216.4h.9M450.7 215.8h.9M454.8 215.3h.9M455.9 219.3h.9M451.4 221.8h.9M451.1 221.5h.9M450.8 214.3h.9M455.8 217.0h.9M453.3 221.0h.9M451.0 222.4h.9M451.0 209.0h.9M455.5 220.0h.9M453.0 218.9h.9M461.0 211.1h.9M450.6 219.8h.9M450.8 222.4h.9M453.1 219.4h.9M455.3 210.9h.9M460.9 218.3h.9M451.0 207.9h.9M450.7 217.3h.9M450.6 208.2h.9M451.3 219.5h.9M452.4 220.0h.9M459.9 222.0h.9M452.3 221.4h.9M459.8 221.8h.9M458.3 213.1h.9M451.0 212.1h.9M453.3 213.0h.9M453.4 210.4h.9M459.3 209.4h.9M457.9 219.0h.9" stroke="#f25a50" stroke-width=".9" stroke-opacity="0.45" fill="none"/>
<rect x="449" y="210.5" width="9.800000000000011" height="13.5" rx="1.5" fill="#e8120c" fill-opacity="0.95" filter="url(#bl)"/>
</g>
<line x1="450.5" y1="171.3" x2="507.5" y2="171.3" stroke="#bbb" stroke-width=".9"/>
<line x1="450.5" y1="222.4" x2="507.5" y2="222.4" stroke="#999" stroke-width=".9"/>
<line x1="450.5" y1="171.3" x2="450.5" y2="222.4" stroke="#666" stroke-width=".9"/>
<line x1="507.5" y1="171.3" x2="507.5" y2="222.4" stroke="#888" stroke-width=".9"/>
<line x1="460.5" y1="171.3" x2="460.5" y2="222.4" stroke="#888" stroke-width=".9"/>
<line x1="450.5" y1="201.9" x2="507.5" y2="201.9" stroke="#999" stroke-width=".9"/>
<text x="451.5" y="174.70000000000002" font-size="2.6" fill="#aaa">Q- -</text>
<text x="461.5" y="174.70000000000002" font-size="2.6" fill="#aaa">Q- -</text>
<text x="451.5" y="205.3" font-size="2.6" fill="#aaa">Q- -</text>
<text x="461.5" y="205.3" font-size="2.6" fill="#aaa">Q- -</text>
<text x="448.3" y="174.50000000000003" font-size="7.8" text-anchor="end" fill="#2a2a2a" stroke="#2a2a2a" stroke-width=".12" letter-spacing=".6">10<tspan dx="-.4" dy="-2.9" font-size="5.2" letter-spacing="0">3</tspan></text>
<text x="448.3" y="187.60000000000002" font-size="7.8" text-anchor="end" fill="#2a2a2a" stroke="#2a2a2a" stroke-width=".12" letter-spacing=".6">10<tspan dx="-.4" dy="-2.9" font-size="5.2" letter-spacing="0">2</tspan></text>
<text x="448.3" y="200.50000000000003" font-size="7.8" text-anchor="end" fill="#2a2a2a" stroke="#2a2a2a" stroke-width=".12" letter-spacing=".6">10<tspan dx="-.4" dy="-2.9" font-size="5.2" letter-spacing="0">1</tspan></text>
<text x="448.3" y="213.40000000000003" font-size="7.8" text-anchor="end" fill="#2a2a2a" stroke="#2a2a2a" stroke-width=".12" letter-spacing=".6">10<tspan dx="-.4" dy="-2.9" font-size="5.2" letter-spacing="0">0</tspan></text>
<text x="465.4" y="234.3" font-size="7.8" text-anchor="middle" fill="#2a2a2a" stroke="#2a2a2a" stroke-width=".12" letter-spacing=".6">10<tspan dx="-.4" dy="-2.9" font-size="5.2" letter-spacing="0">0</tspan></text>
<text x="479.4" y="234.3" font-size="7.8" text-anchor="middle" fill="#2a2a2a" stroke="#2a2a2a" stroke-width=".12" letter-spacing=".6">10<tspan dx="-.4" dy="-2.9" font-size="5.2" letter-spacing="0">1</tspan></text>
<text x="493.4" y="234.3" font-size="7.8" text-anchor="middle" fill="#2a2a2a" stroke="#2a2a2a" stroke-width=".12" letter-spacing=".6">10<tspan dx="-.4" dy="-2.9" font-size="5.2" letter-spacing="0">2</tspan></text>
<text x="507.4" y="234.3" font-size="7.8" text-anchor="middle" fill="#2a2a2a" stroke="#2a2a2a" stroke-width=".12" letter-spacing=".6">10<tspan dx="-.4" dy="-2.9" font-size="5.2" letter-spacing="0">3</tspan></text>
<text x="483.8" y="183.8" font-size="8.4" fill="#222" stroke="#222" stroke-width=".2">4.1%</text>
<clipPath id="c450_248"><rect x="450.5" y="248.5" width="57" height="50.89999999999998"/></clipPath>
<g clip-path="url(#c450_248)">
<path d="M465.2 269.3h.9M465.0 267.5h.9M463.2 265.4h.9M463.3 269.1h.9M469.0 262.9h.9M463.5 269.5h.9M466.7 272.1h.9M458.1 275.1h.9M456.4 272.7h.9M461.0 270.8h.9M467.3 265.3h.9M468.7 265.8h.9M456.9 267.9h.9M465.5 267.9h.9M458.2 275.8h.9M457.5 273.5h.9M470.7 267.4h.9M459.7 268.5h.9M463.9 266.9h.9M467.3 269.2h.9M464.4 267.7h.9M463.2 267.5h.9M463.4 270.3h.9M466.9 266.6h.9M465.4 270.3h.9M463.0 269.2h.9M458.3 270.8h.9M459.9 266.7h.9M464.7 268.4h.9M460.3 273.9h.9M464.8 271.2h.9M457.7 271.1h.9M468.3 267.0h.9M469.2 262.4h.9M472.3 262.9h.9M461.6 264.2h.9M466.7 267.8h.9M459.6 269.4h.9M464.3 265.7h.9M467.0 266.3h.9M466.6 265.7h.9M462.4 271.8h.9M460.1 267.0h.9M463.5 267.4h.9M469.1 264.5h.9M459.5 268.1h.9M465.8 272.5h.9M458.8 273.0h.9M461.3 267.7h.9M467.6 268.4h.9M468.0 267.0h.9M452.4 274.9h.9M465.0 267.0h.9M466.8 264.5h.9M467.2 268.2h.9M461.9 272.3h.9M462.1 268.7h.9M469.5 262.2h.9M463.5 270.6h.9M461.0 267.7h.9M459.7 272.8h.9M458.3 271.6h.9M462.3 273.8h.9M456.7 275.8h.9M469.4 264.0h.9M464.2 266.7h.9M467.8 264.2h.9M465.4 273.7h.9M461.9 264.7h.9M464.4 267.6h.9M457.9 276.0h.9M459.1 270.6h.9M469.4 264.3h.9M466.9 266.3h.9M461.4 270.5h.9M462.3 264.5h.9M454.3 274.0h.9M462.0 269.6h.9M462.8 267.5h.9M470.5 269.2h.9M467.5 263.1h.9M469.3 268.0h.9M451.9 274.3h.9M450.8 280.8h.9M463.5 264.6h.9M466.5 267.3h.9M461.2 270.6h.9M461.3 268.7h.9M456.9 266.0h.9M463.1 266.3h.9M461.5 268.3h.9M462.2 270.2h.9M462.5 273.8h.9M458.5 267.1h.9M464.5 268.1h.9M466.2 266.1h.9M469.6 261.2h.9M461.1 273.5h.9M465.9 269.6h.9M460.2 269.1h.9M456.4 267.5h.9M465.3 266.1h.9M459.4 277.6h.9M459.3 269.7h.9M469.1 263.0h.9M460.6 270.9h.9M464.7 272.0h.9M465.5 271.3h.9M461.8 269.1h.9M467.4 266.0h.9M460.3 269.1h.9M462.8 270.6h.9M458.0 272.9h.9M463.5 272.1h.9M461.1 270.3h.9M465.9 264.1h.9M463.4 272.2h.9M451.4 267.5h.9M465.8 265.7h.9M463.6 265.9h.9M469.4 265.9h.9M457.5 271.6h.9M466.9 269.8h.9M456.2 274.0h.9" stroke="#7070c0" stroke-width=".9" stroke-opacity="0.45" fill="none"/>
<path d="M457.3 270.2h.9M464.7 267.6h.9M463.5 262.9h.9M467.2 254.7h.9M470.3 262.0h.9M472.5 266.4h.9M459.3 269.7h.9M468.3 264.0h.9M450.7 278.7h.9M465.3 264.1h.9M454.0 273.6h.9M463.7 273.6h.9M466.2 266.9h.9M467.5 271.9h.9M465.3 263.1h.9M465.7 258.8h.9M474.1 261.2h.9M454.0 276.7h.9M471.0 263.0h.9M456.4 270.0h.9" stroke="#7070c0" stroke-width=".8" stroke-opacity="0.25" fill="none"/>
<ellipse cx="462.3" cy="269.2" rx="8" ry="3.1" transform="rotate(-33 462.3 269.2)" fill="#262682" fill-opacity="0.75" filter="url(#bl)"/>
<ellipse cx="462.3" cy="269.2" rx="5.76" ry="2.23" transform="rotate(-33 462.3 269.2)" fill="#262682" fill-opacity="0.60"/>
<path d="M464.4 267.1h.9M461.6 268.4h.9M467.1 267.4h.9M457.9 272.6h.9M465.0 269.6h.9M463.3 270.1h.9M462.8 268.5h.9M464.4 268.4h.9M464.6 264.2h.9M461.1 270.7h.9M463.2 268.6h.9M464.1 268.3h.9M463.9 267.4h.9M456.9 274.7h.9M460.9 269.6h.9M461.1 268.1h.9M462.6 268.1h.9M467.2 265.4h.9M465.7 267.4h.9M460.3 270.5h.9M464.2 265.8h.9M466.3 266.8h.9M460.0 270.7h.9M461.0 269.9h.9M464.3 266.1h.9M463.3 264.5h.9M457.8 269.1h.9M458.7 270.7h.9M460.4 269.8h.9M463.3 267.5h.9M455.3 272.4h.9M464.9 266.2h.9M461.3 269.5h.9M460.0 269.4h.9M461.2 269.5h.9M463.9 268.3h.9M461.7 266.7h.9M459.3 270.7h.9M464.5 267.5h.9M460.0 269.4h.9M461.9 270.8h.9" stroke="#262682" stroke-width=".9" stroke-opacity="0.5" fill="none"/>
<path d="M459.9 288.6h.9M459.1 287.0h.9M457.4 294.1h.9M462.5 289.5h.9M469.6 279.4h.9M464.0 288.2h.9M469.3 279.7h.9M459.7 290.2h.9M465.5 285.2h.9M469.0 286.9h.9M463.4 284.8h.9M465.2 287.5h.9M455.9 284.9h.9M464.6 286.0h.9M464.4 293.1h.9M463.2 289.7h.9M456.5 286.9h.9M466.0 282.4h.9M469.0 282.4h.9M458.4 286.9h.9M461.1 285.0h.9M462.9 291.3h.9M462.1 288.2h.9M473.7 280.9h.9M464.7 280.4h.9M467.4 283.9h.9M472.3 283.8h.9M460.5 290.7h.9M469.7 288.6h.9M461.6 289.6h.9M467.7 283.6h.9M460.1 287.3h.9M461.2 291.9h.9M461.9 292.5h.9M461.8 290.1h.9M465.9 284.3h.9M469.6 281.7h.9M459.5 294.3h.9M461.2 288.2h.9M457.5 290.5h.9M460.1 290.5h.9M465.9 286.9h.9M466.3 284.0h.9M455.2 288.8h.9M459.9 288.1h.9M461.3 287.7h.9M464.8 288.3h.9M455.7 290.8h.9M468.8 287.8h.9M460.0 286.6h.9" stroke="#f07070" stroke-width=".8" stroke-opacity="0.35" fill="none"/>
<path d="M451.0 291.2h.9M450.7 295.4h.9M455.7 294.1h.9M453.7 286.4h.9M455.3 287.7h.9M458.3 295.6h.9M454.9 297.9h.9M459.1 299.4h.9M458.5 290.4h.9M451.1 295.1h.9M457.5 294.5h.9M451.1 287.1h.9M458.8 298.6h.9M457.7 295.9h.9M454.8 298.7h.9M450.5 295.9h.9M456.6 297.7h.9M455.4 286.9h.9M457.0 289.3h.9M450.7 288.0h.9M453.0 288.9h.9M453.0 294.0h.9M452.4 293.9h.9M458.8 293.3h.9M459.4 293.3h.9M457.1 288.2h.9M451.6 291.9h.9M457.9 292.5h.9M459.0 299.1h.9M450.7 285.6h.9M450.9 293.6h.9M451.6 289.4h.9M451.0 286.1h.9M457.7 296.1h.9M450.8 293.6h.9M457.9 291.1h.9M451.0 297.6h.9M457.3 290.8h.9M454.7 292.4h.9M457.6 299.0h.9M456.0 293.9h.9M451.3 289.8h.9M459.2 296.1h.9M458.2 294.2h.9M458.4 293.1h.9M458.4 296.6h.9M450.7 298.5h.9M451.4 292.0h.9M456.8 285.6h.9M456.2 298.7h.9M452.4 297.6h.9M459.9 287.0h.9M456.8 288.3h.9M451.2 288.7h.9M454.2 287.4h.9M455.4 298.4h.9M452.4 290.7h.9M460.3 296.4h.9M450.8 299.2h.9M450.8 294.7h.9M460.1 291.9h.9M458.8 297.0h.9M458.2 294.1h.9M457.3 299.1h.9M450.7 296.0h.9M450.6 293.4h.9M460.4 295.6h.9M460.7 285.2h.9M453.9 299.0h.9M460.8 293.6h.9M452.6 293.1h.9M457.8 292.6h.9M451.0 293.9h.9M454.1 292.0h.9M450.9 298.1h.9M460.3 299.2h.9M450.7 287.9h.9M450.7 296.4h.9M450.7 292.0h.9M451.1 285.6h.9M456.1 296.0h.9M457.5 288.7h.9M456.8 289.4h.9M455.3 298.3h.9M450.7 296.2h.9M450.9 296.7h.9M452.3 286.2h.9M457.1 293.4h.9M456.0 289.8h.9M454.7 299.0h.9M453.4 293.0h.9M459.8 296.7h.9M450.7 295.1h.9M450.5 298.2h.9M458.1 297.4h.9M457.2 291.0h.9M454.0 287.7h.9M460.4 286.5h.9M452.0 289.2h.9M456.8 289.8h.9M450.8 286.3h.9M450.5 299.1h.9M450.6 299.0h.9M458.7 291.6h.9M460.2 298.2h.9M450.6 299.0h.9M451.7 295.2h.9M450.7 296.4h.9M451.6 297.3h.9M460.6 287.5h.9M459.1 293.3h.9M450.7 298.1h.9M453.2 285.6h.9M457.6 295.5h.9M455.0 290.9h.9M452.3 296.3h.9M457.0 298.5h.9M451.1 297.4h.9M450.9 286.7h.9M459.8 290.1h.9M457.1 299.1h.9M460.4 290.3h.9M450.9 285.4h.9M459.0 290.6h.9M450.6 297.9h.9M454.4 299.3h.9M455.9 288.9h.9M460.4 285.1h.9M456.5 289.3h.9M450.6 290.0h.9M455.7 290.6h.9M458.8 290.9h.9M450.6 290.7h.9M460.4 291.3h.9M458.9 299.2h.9M451.3 287.8h.9M450.8 290.5h.9M452.1 292.0h.9M450.6 294.1h.9M455.5 299.2h.9M450.5 285.3h.9M451.0 286.7h.9M451.1 299.1h.9M459.9 287.0h.9M451.0 287.7h.9M451.1 299.4h.9M455.5 294.1h.9M454.6 297.0h.9M461.0 287.1h.9M459.4 296.1h.9M450.7 299.0h.9M456.6 290.3h.9" stroke="#f25a50" stroke-width=".9" stroke-opacity="0.45" fill="none"/>
<rect x="449" y="288" width="9.800000000000011" height="13" rx="1.5" fill="#e8120c" fill-opacity="0.95" filter="url(#bl)"/>
</g>
<line x1="450.5" y1="248.5" x2="507.5" y2="248.5" stroke="#bbb" stroke-width=".9"/>
<line x1="450.5" y1="299.4" x2="507.5" y2="299.4" stroke="#999" stroke-width=".9"/>
<line x1="450.5" y1="248.5" x2="450.5" y2="299.4" stroke="#666" stroke-width=".9"/>
<line x1="507.5" y1="248.5" x2="507.5" y2="299.4" stroke="#888" stroke-width=".9"/>
<line x1="460.5" y1="248.5" x2="460.5" y2="299.4" stroke="#888" stroke-width=".9"/>
<line x1="450.5" y1="278.9" x2="507.5" y2="278.9" stroke="#999" stroke-width=".9"/>
<text x="451.5" y="251.9" font-size="2.6" fill="#aaa">Q- -</text>
<text x="461.5" y="251.9" font-size="2.6" fill="#aaa">Q- -</text>
<text x="451.5" y="282.29999999999995" font-size="2.6" fill="#aaa">Q- -</text>
<text x="461.5" y="282.29999999999995" font-size="2.6" fill="#aaa">Q- -</text>
<text x="448.3" y="251.70000000000002" font-size="7.8" text-anchor="end" fill="#2a2a2a" stroke="#2a2a2a" stroke-width=".12" letter-spacing=".6">10<tspan dx="-.4" dy="-2.9" font-size="5.2" letter-spacing="0">3</tspan></text>
<text x="448.3" y="264.8" font-size="7.8" text-anchor="end" fill="#2a2a2a" stroke="#2a2a2a" stroke-width=".12" letter-spacing=".6">10<tspan dx="-.4" dy="-2.9" font-size="5.2" letter-spacing="0">2</tspan></text>
<text x="448.3" y="277.7" font-size="7.8" text-anchor="end" fill="#2a2a2a" stroke="#2a2a2a" stroke-width=".12" letter-spacing=".6">10<tspan dx="-.4" dy="-2.9" font-size="5.2" letter-spacing="0">1</tspan></text>
<text x="448.3" y="290.6" font-size="7.8" text-anchor="end" fill="#2a2a2a" stroke="#2a2a2a" stroke-width=".12" letter-spacing=".6">10<tspan dx="-.4" dy="-2.9" font-size="5.2" letter-spacing="0">0</tspan></text>
<text x="465.4" y="311.29999999999995" font-size="7.8" text-anchor="middle" fill="#2a2a2a" stroke="#2a2a2a" stroke-width=".12" letter-spacing=".6">10<tspan dx="-.4" dy="-2.9" font-size="5.2" letter-spacing="0">0</tspan></text>
<text x="479.4" y="311.29999999999995" font-size="7.8" text-anchor="middle" fill="#2a2a2a" stroke="#2a2a2a" stroke-width=".12" letter-spacing=".6">10<tspan dx="-.4" dy="-2.9" font-size="5.2" letter-spacing="0">1</tspan></text>
<text x="493.4" y="311.29999999999995" font-size="7.8" text-anchor="middle" fill="#2a2a2a" stroke="#2a2a2a" stroke-width=".12" letter-spacing=".6">10<tspan dx="-.4" dy="-2.9" font-size="5.2" letter-spacing="0">2</tspan></text>
<text x="507.4" y="311.29999999999995" font-size="7.8" text-anchor="middle" fill="#2a2a2a" stroke="#2a2a2a" stroke-width=".12" letter-spacing=".6">10<tspan dx="-.4" dy="-2.9" font-size="5.2" letter-spacing="0">3</tspan></text>
<text x="485" y="261.2" font-size="8.4" fill="#222" stroke="#222" stroke-width=".2">3.8%</text>
<clipPath id="c450_325"><rect x="450.5" y="325.5" width="57" height="53.10000000000002"/></clipPath>
<g clip-path="url(#c450_325)">
<path d="M462.3 368.0h.9M459.2 370.6h.9M455.7 373.0h.9M465.4 361.5h.9M463.7 368.9h.9M459.4 366.7h.9M461.9 367.3h.9M472.5 364.0h.9M466.0 367.8h.9M458.3 367.9h.9M469.1 361.0h.9M459.0 363.5h.9M461.9 365.9h.9M452.7 369.4h.9M459.8 372.1h.9M465.4 359.3h.9M459.4 371.5h.9M454.5 368.4h.9M461.8 369.5h.9M461.1 364.7h.9M466.9 362.2h.9M463.9 369.8h.9M462.5 367.4h.9M466.1 366.5h.9M462.0 373.7h.9M457.0 373.1h.9M466.3 362.0h.9M461.0 369.5h.9M459.5 365.6h.9M457.9 370.9h.9" stroke="#f07070" stroke-width=".8" stroke-opacity="0.35" fill="none"/>
<path d="M457.4 370.1h.9M458.4 366.8h.9M457.0 369.2h.9M454.0 365.6h.9M455.0 374.3h.9M452.1 372.9h.9M455.5 368.5h.9M455.7 370.4h.9M459.2 378.2h.9M459.2 368.9h.9M455.9 369.2h.9M459.7 365.1h.9M450.6 371.0h.9M457.3 378.2h.9M452.4 369.1h.9M450.8 376.1h.9M458.6 377.8h.9M454.4 366.6h.9M456.7 378.2h.9M450.6 378.2h.9M454.7 378.1h.9M451.6 366.8h.9M451.5 368.6h.9M450.6 369.3h.9M450.9 378.2h.9M450.6 371.0h.9M453.4 370.9h.9M453.2 371.1h.9M450.6 364.7h.9M455.6 375.3h.9M454.9 368.7h.9M455.9 377.4h.9M451.9 378.4h.9M457.5 375.1h.9M450.6 378.6h.9M450.8 367.7h.9M450.8 369.1h.9M453.9 373.1h.9M460.0 369.6h.9M452.2 367.3h.9M453.0 370.1h.9M460.2 378.3h.9M450.6 369.8h.9M450.9 372.1h.9M453.8 365.3h.9M450.9 372.3h.9M450.9 378.1h.9M458.0 373.8h.9M454.0 377.0h.9M452.7 371.9h.9M460.3 373.8h.9M455.7 374.5h.9M457.0 364.5h.9M450.9 364.6h.9M450.6 365.7h.9M460.2 367.3h.9M450.8 378.4h.9M457.5 367.0h.9M450.8 373.9h.9M456.9 369.1h.9M450.9 370.7h.9M453.9 371.8h.9M450.8 370.2h.9M453.1 372.8h.9M458.4 374.2h.9M452.3 378.1h.9M451.1 367.2h.9M458.8 367.4h.9M456.4 378.5h.9M458.2 373.1h.9M451.4 378.5h.9M450.5 369.3h.9M451.5 366.2h.9M455.9 376.4h.9M451.3 372.9h.9M450.6 370.5h.9M457.4 372.6h.9M450.6 369.9h.9M451.6 378.2h.9M459.1 378.5h.9M452.2 371.7h.9M455.7 365.0h.9M452.4 376.0h.9M451.9 371.2h.9M452.3 370.2h.9M450.6 370.3h.9M459.0 369.8h.9M455.7 376.0h.9M451.0 369.2h.9M458.2 367.5h.9M451.2 374.2h.9M454.5 371.0h.9M458.3 377.3h.9M450.5 370.2h.9M457.3 375.9h.9M451.8 373.0h.9M454.7 376.0h.9M456.1 375.9h.9M455.0 376.6h.9M452.9 368.0h.9M450.8 365.3h.9M453.1 370.0h.9M451.0 376.3h.9M456.5 370.4h.9M451.1 370.1h.9M452.5 378.5h.9M454.3 370.5h.9M452.9 366.3h.9M454.1 372.3h.9M459.4 371.6h.9M450.8 373.0h.9M454.4 377.3h.9M459.7 367.6h.9M456.9 367.0h.9M460.2 368.5h.9M456.6 371.5h.9M450.9 372.8h.9M456.5 376.4h.9M451.7 377.7h.9M450.7 378.4h.9M457.1 376.8h.9M451.3 365.6h.9M456.0 367.9h.9M455.5 368.1h.9M450.7 378.1h.9M457.1 366.4h.9M450.8 376.3h.9M459.2 368.6h.9M459.9 365.1h.9M454.2 373.7h.9M451.9 368.3h.9M458.9 373.5h.9M451.7 370.7h.9M459.4 378.5h.9M459.3 373.2h.9M450.5 373.7h.9M456.5 368.9h.9M453.3 374.3h.9M452.3 371.6h.9M455.5 371.0h.9" stroke="#f25a50" stroke-width=".9" stroke-opacity="0.45" fill="none"/>
<rect x="449" y="367.5" width="9" height="13.0" rx="1.5" fill="#e8120c" fill-opacity="0.95" filter="url(#bl)"/>
</g>
<line x1="450.5" y1="325.5" x2="507.5" y2="325.5" stroke="#bbb" stroke-width=".9"/>
<line x1="450.5" y1="378.6" x2="507.5" y2="378.6" stroke="#999" stroke-width=".9"/>
<line x1="450.5" y1="325.5" x2="450.5" y2="378.6" stroke="#666" stroke-width=".9"/>
<line x1="507.5" y1="325.5" x2="507.5" y2="378.6" stroke="#888" stroke-width=".9"/>
<line x1="459.4" y1="325.5" x2="459.4" y2="378.6" stroke="#888" stroke-width=".9"/>
<line x1="450.5" y1="357.8" x2="507.5" y2="357.8" stroke="#999" stroke-width=".9"/>
<text x="451.5" y="328.9" font-size="2.6" fill="#aaa">Q- -</text>
<text x="460.4" y="328.9" font-size="2.6" fill="#aaa">Q- -</text>
<text x="451.5" y="361.2" font-size="2.6" fill="#aaa">Q- -</text>
<text x="460.4" y="361.2" font-size="2.6" fill="#aaa">Q- -</text>
<text x="448.3" y="328.7" font-size="7.8" text-anchor="end" fill="#2a2a2a" stroke="#2a2a2a" stroke-width=".12" letter-spacing=".6">10<tspan dx="-.4" dy="-2.9" font-size="5.2" letter-spacing="0">3</tspan></text>
<text x="448.3" y="341.8" font-size="7.8" text-anchor="end" fill="#2a2a2a" stroke="#2a2a2a" stroke-width=".12" letter-spacing=".6">10<tspan dx="-.4" dy="-2.9" font-size="5.2" letter-spacing="0">2</tspan></text>
<text x="448.3" y="354.7" font-size="7.8" text-anchor="end" fill="#2a2a2a" stroke="#2a2a2a" stroke-width=".12" letter-spacing=".6">10<tspan dx="-.4" dy="-2.9" font-size="5.2" letter-spacing="0">1</tspan></text>
<text x="448.3" y="367.6" font-size="7.8" text-anchor="end" fill="#2a2a2a" stroke="#2a2a2a" stroke-width=".12" letter-spacing=".6">10<tspan dx="-.4" dy="-2.9" font-size="5.2" letter-spacing="0">0</tspan></text>
<text x="465.4" y="390.5" font-size="7.8" text-anchor="middle" fill="#2a2a2a" stroke="#2a2a2a" stroke-width=".12" letter-spacing=".6">10<tspan dx="-.4" dy="-2.9" font-size="5.2" letter-spacing="0">0</tspan></text>
<text x="479.4" y="390.5" font-size="7.8" text-anchor="middle" fill="#2a2a2a" stroke="#2a2a2a" stroke-width=".12" letter-spacing=".6">10<tspan dx="-.4" dy="-2.9" font-size="5.2" letter-spacing="0">1</tspan></text>
<text x="493.4" y="390.5" font-size="7.8" text-anchor="middle" fill="#2a2a2a" stroke="#2a2a2a" stroke-width=".12" letter-spacing=".6">10<tspan dx="-.4" dy="-2.9" font-size="5.2" letter-spacing="0">2</tspan></text>
<text x="507.4" y="390.5" font-size="7.8" text-anchor="middle" fill="#2a2a2a" stroke="#2a2a2a" stroke-width=".12" letter-spacing=".6">10<tspan dx="-.4" dy="-2.9" font-size="5.2" letter-spacing="0">3</tspan></text>
<text x="490.3" y="343.1" font-size="8.4" fill="#222" stroke="#222" stroke-width=".2">0%</text>
<text transform="translate(431.2,353.05) rotate(-90) scale(0.66,1)" font-size="9" font-weight="bold" text-anchor="middle" fill="#2a2a2a">hCD45</text>
<text transform="translate(286.3,402.2) scale(0.68,1)" font-size="9.0" font-weight="bold" text-anchor="middle" fill="#2a2a2a">mCD45</text>
<text transform="translate(383.1,401.6) scale(0.7,1)" font-size="9.0" font-weight="bold" text-anchor="middle" fill="#2a2a2a">hCD123</text>
<text transform="translate(477.8,401.6) scale(0.68,1)" font-size="9.0" font-weight="bold" text-anchor="middle" fill="#2a2a2a">hCD38</text>
<line x1="15.0" y1="436" x2="252.9" y2="436" stroke="#2a2a2a" stroke-width="1"/>
<line x1="15.0" y1="466.3" x2="252.9" y2="466.3" stroke="#2a2a2a" stroke-width="1"/>
<line x1="15.0" y1="486.1" x2="252.9" y2="486.1" stroke="#2a2a2a" stroke-width="1"/>
<line x1="15.0" y1="505.9" x2="252.9" y2="505.9" stroke="#2a2a2a" stroke-width="1"/>
<line x1="15.5" y1="436" x2="15.5" y2="505.9" stroke="#2a2a2a" stroke-width="1"/>
<line x1="75.9" y1="436" x2="75.9" y2="505.9" stroke="#2a2a2a" stroke-width="1"/>
<line x1="108.4" y1="436" x2="108.4" y2="505.9" stroke="#2a2a2a" stroke-width="1"/>
<line x1="144.6" y1="436" x2="144.6" y2="505.9" stroke="#2a2a2a" stroke-width="1"/>
<line x1="180.7" y1="436" x2="180.7" y2="505.9" stroke="#2a2a2a" stroke-width="1"/>
<line x1="216.6" y1="436" x2="216.6" y2="505.9" stroke="#2a2a2a" stroke-width="1"/>
<line x1="252.4" y1="436" x2="252.4" y2="505.9" stroke="#2a2a2a" stroke-width="1"/>
<text x="92.15" y="449.2" font-size="8.6" text-anchor="middle" font-weight="normal" fill="#222" >No</text>
<text x="92.15" y="459.4" font-size="8.6" text-anchor="middle" font-weight="normal" fill="#222" >Tx</text>
<text x="126.5" y="449.2" font-size="8.6" text-anchor="middle" font-weight="normal" fill="#222" >uTc+</text>
<text x="126.5" y="459.4" font-size="8.6" text-anchor="middle" font-weight="normal" fill="#222" >IgG</text>
<text x="162.64999999999998" y="449.2" font-size="8.6" text-anchor="middle" font-weight="normal" fill="#222" >uTc+</text>
<text x="162.64999999999998" y="459.4" font-size="8.6" text-anchor="middle" font-weight="normal" fill="#222" >SAR</text>
<text x="198.64999999999998" y="449.2" font-size="8.6" text-anchor="middle" font-weight="normal" fill="#222" >veTc+</text>
<text x="198.64999999999998" y="459.4" font-size="8.6" text-anchor="middle" font-weight="normal" fill="#222" >IgG</text>
<text x="234.5" y="449.2" font-size="8.6" text-anchor="middle" font-weight="normal" fill="#222" >veTc+</text>
<text x="234.5" y="459.4" font-size="8.6" text-anchor="middle" font-weight="normal" fill="#222" >SAR</text>
<text x="43.400000000000006" y="479.3" font-size="8.2" text-anchor="middle" font-weight="normal" fill="#222" >&lt;0.1% AML</text>
<text x="43.400000000000006" y="499.1" font-size="8.2" text-anchor="middle" font-weight="normal" fill="#222" >&#8805;0.1% AML</text>
<text x="92.15" y="479.3" font-size="8.6" text-anchor="middle" font-weight="normal" fill="#222" >0</text>
<text x="92.15" y="499.1" font-size="8.6" text-anchor="middle" font-weight="normal" fill="#222" >5</text>
<text x="126.5" y="479.3" font-size="8.6" text-anchor="middle" font-weight="normal" fill="#222" >0</text>
<text x="126.5" y="499.1" font-size="8.6" text-anchor="middle" font-weight="normal" fill="#222" >5</text>
<text x="162.64999999999998" y="479.3" font-size="8.6" text-anchor="middle" font-weight="normal" fill="#222" >2</text>
<text x="162.64999999999998" y="499.1" font-size="8.6" text-anchor="middle" font-weight="normal" fill="#222" >3</text>
<text x="198.64999999999998" y="479.3" font-size="8.6" text-anchor="middle" font-weight="normal" fill="#222" >2</text>
<text x="198.64999999999998" y="499.1" font-size="8.6" text-anchor="middle" font-weight="normal" fill="#222" >3</text>
<text x="234.5" y="479.3" font-size="8.6" text-anchor="middle" font-weight="normal" fill="#222" >5</text>
<text x="234.5" y="499.1" font-size="8.6" text-anchor="middle" font-weight="normal" fill="#222" >0</text>
<text x="80.3" y="515.8" font-size="8.2" fill="#222"><tspan font-style="italic">P .08</tspan> uTc+SAR vs veTc+SAR</text>
<text x="6.9" y="16.8" font-size="11.6" text-anchor="start" font-weight="bold" fill="#111" stroke="#111" stroke-width=".35">A</text>
<text x="197.6" y="17.0" font-size="11.6" text-anchor="start" font-weight="bold" fill="#111" stroke="#111" stroke-width=".35">B</text>
<text x="6.9" y="212.0" font-size="11.8" text-anchor="start" font-weight="bold" fill="#111" stroke="#111" stroke-width=".35">C</text>
<text x="6.9" y="433.3" font-size="11.6" text-anchor="start" font-weight="bold" fill="#111" stroke="#111" stroke-width=".35">D</text>
</svg><div id="frame"></div></div></body></html>
